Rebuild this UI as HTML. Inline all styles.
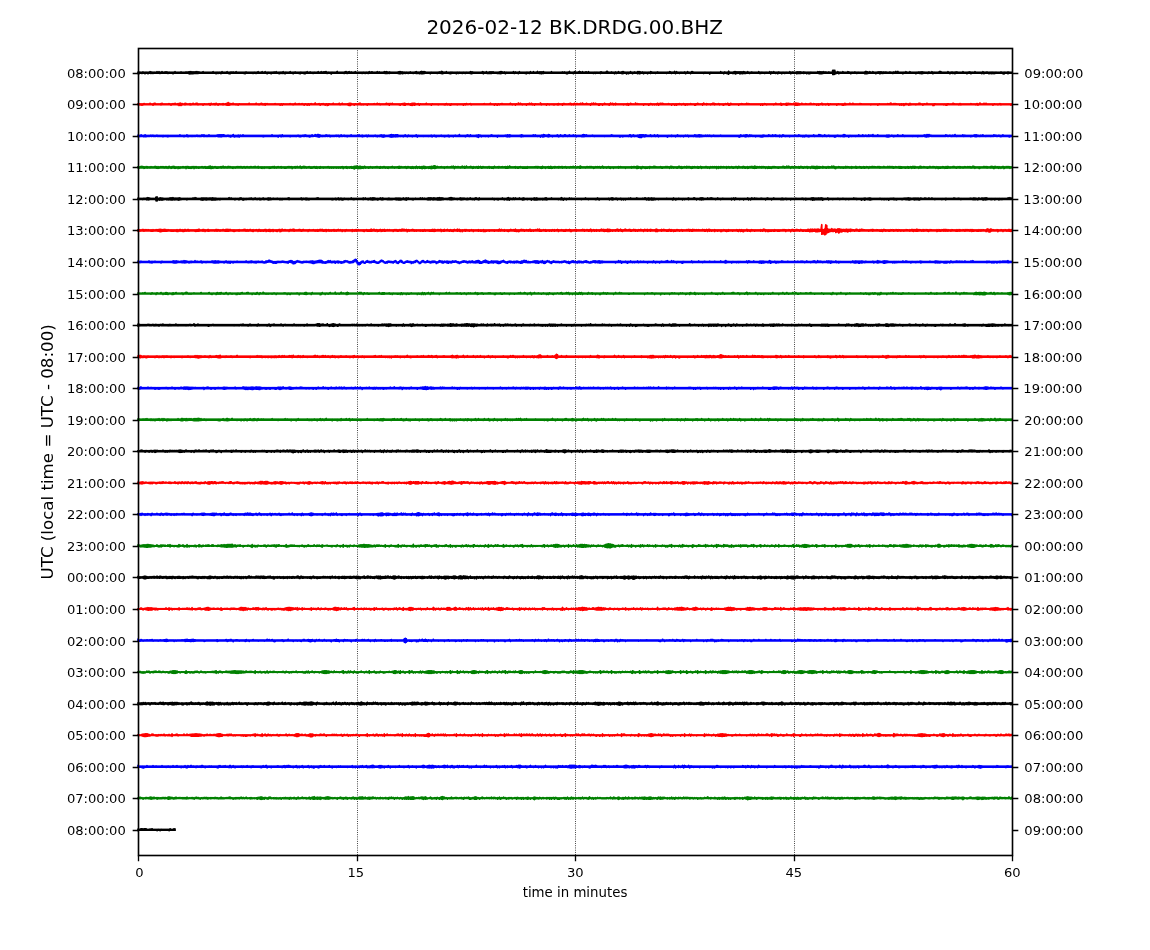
<!DOCTYPE html><html><head><meta charset="utf-8"><title>dayplot</title><style>html,body{margin:0;padding:0;background:#fff;width:1150px;height:950px;overflow:hidden}svg{display:block}text{font-family:"DejaVu Sans","Liberation Sans",sans-serif;fill:#000}</style></head><body><svg width="1150" height="950" viewBox="0 0 1150 950"><rect width="1150" height="950" fill="#fff"/><g stroke="#000" stroke-width="0.86" stroke-dasharray="0.8333 1.375" fill="none"><path d="M357.5 855V48"/><path d="M575.5 855V48"/><path d="M794.5 855V48"/></g><g fill="none" stroke-width="1.667" stroke-linejoin="round" stroke-linecap="square"><path vector-effect="non-scaling-stroke" transform="translate(138.00 72.734) scale(1.001145 0.2500)" stroke="#000000" d="M0-2l0 5 1-5 0 6 1-6 0 4 1-4 0 4 1-4 0 5 1-6 0 5 1-4 0 4 1-4 0 6 1-6 0 4 1-4 0 4 1-4 0 6 1-6 0 4 1-6 0 6 1-5 0 6 1-5 0 4 1-4 0 5 1-5 0 4 1-4 0 4 1-4 0 4 1-6 0 6 1-4 0 4 1-6 0 6 1-4 0 5 1-5 0 4 1-6 0 6 1-4 0 4 1-4 0 4 1-5 0 5 1-5 0 5 1-5 0 5 1-4 0 5 1-5 0 4 1-4 0 4 1-4 0 4 1-4 0 4 1-4 0 6 1-6 0 4 1-6 0 6 1-4 0 4 1-4 0 4 1-4 0 4 1-4 0 4 1-4 0 4 1-5 0 5 1-4 0 4 1-4 0 4 1-4 0 4 1-4 0 4 1-5 0 5 1-4 0 4 1-5 0 5 1-5 0 7 1-8 0 9 1-9 0 8 1-7 0 7 1-7 0 7 1-7 0 6 1-6 0 6 1-7 0 7 1-7 0 7 1-6 0 6 1-6 0 5 1-4 0 4 1-4 0 4 1-4 0 4 1-6 0 6 1-4 0 4 1-4 0 4 1-4 0 4 1-4 0 4 1-4 0 4 1-4 0 4 1-4 0 4 1-4 0 4 1-4 0 4 1-6 0 6 1-4 0 4 1-4 0 4 1-4 0 6 1-6 0 4 1-4 0 5 1-5 0 4 1-4 0 4 1-4 0 6 1-8 0 6 1-4 0 4 1-4 0 4 1-4 0 4 1-4 0 4 1-6 0 6 1-4 0 4 1-4 0 6 1-6 0 6 1-7 0 5 1-4 0 4 1-5 0 5 1-4 0 4 1-4 0 4 1-6 0 6 1-4 0 4 1-4 0 4 1-4 0 4 1-4 0 4 1-4 0 4 1-4 0 4 1-4 0 4 1-4 0 5 1-5 0 6 1-7 0 5 1-4 0 4 1-4 0 4 1-4 0 4 1-4 0 4 1-4 0 4 1-4 0 4 1-4 0 5 1-5 0 4 1-4 0 4 1-4 0 5 1-5 0 4 1-6 0 6 1-4 0 4 1-4 0 4 1-4 0 4 1-6 0 6 1-4 0 4 1-4 0 4 1-6 0 6 1-4 0 4 1-4 0 6 1-6 0 4 1-4 0 4 1-4 0 4 1-4 0 6 1-6 0 4 1-4 0 4 1-5 0 5 1-4 0 4 1-6 0 6 1-4 0 4 1-4 0 4 1-4 0 6 1-6 0 5 1-5 0 4 1-4 0 5 1-7 0 6 1-4 0 5 1-5 0 6 1-6 0 4 1-4 0 4 1-4 0 4 1-4 0 4 1-6 0 6 1-4 0 4 1-4 0 4 1-4 0 6 1-6 0 4 1-5 0 5 1-4 0 4 1-4 0 4 1-4 0 4 1-4 0 5 1-5 0 6 1-6 0 4 1-4 0 4 1-4 0 4 1-4 0 6 1-6 0 6 1-6 0 4 1-6 0 6 1-4 0 4 1-4 0 4 1-5 0 5 1-4 0 4 1-4 0 4 1-4 0 5 1-5 0 4 1-4 0 4 1-4 0 4 1-4 0 4 1-6 0 6 1-4 0 4 1-4 0 4 1-6 0 6 1-4 0 4 1-5 0 5 1-5 0 5 1-6 0 6 1-6 0 6 1-4 0 5 1-5 0 4 1-4 0 4 1-4 0 4 1-4 0 7 1-7 0 4 1-4 0 4 1-4 0 4 1-4 0 4 1-4 0 4 1-7 0 7 1-4 0 4 1-4 0 4 1-4 0 4 1-4 0 4 1-4 0 4 1-4 0 4 1-4 0 5 1-7 0 6 1-6 0 6 1-4 0 5 1-6 0 5 1-6 0 6 1-4 0 4 1-5 0 5 1-4 0 4 1-4 0 4 1-4 0 4 1-6 0 6 1-4 0 4 1-4 0 4 1-4 0 4 1-4 0 4 1-4 0 4 1-4 0 4 1-4 0 5 1-5 0 4 1-4 0 4 1-4 0 5 1-5 0 4 1-4 0 4 1-4 0 5 1-7 0 6 1-4 0 4 1-5 0 5 1-5 0 5 1-4 0 4 1-4 0 4 1-4 0 4 1-4 0 4 1-6 0 6 1-4 0 4 1-5 0 5 1-4 0 4 1-4 0 4 1-4 0 4 1-4 0 4 1-6 0 6 1-5 0 6 1-7 0 7 1-6 0 6 1-5 0 4 1-5 0 6 1-5 0 4 1-4 0 4 1-4 0 4 1-4 0 4 1-4 0 4 1-4 0 4 1-4 0 4 1-4 0 4 1-5 0 6 1-7 0 8 1-8 0 8 1-7 0 5 1-5 0 7 1-6 0 5 1-5 0 4 1-4 0 5 1-5 0 4 1-4 0 4 1-4 0 5 1-5 0 4 1-5 0 5 1-4 0 4 1-4 0 4 1-4 0 5 1-5 0 4 1-5 0 5 1-6 0 7 1-5 0 5 1-5 0 4 1-4 0 6 1-7 0 6 1-8 0 9 1-8 0 8 1-8 0 8 1-8 0 7 1-6 0 5 1-4 0 4 1-4 0 4 1-4 0 4 1-4 0 4 1-4 0 6 1-6 0 4 1-4 0 4 1-4 0 4 1-4 0 4 1-4 0 4 1-4 0 4 1-4 0 5 1-5 0 4 1-5 0 5 1-4 0 4 1-7 0 8 1-7 0 8 1-6 0 5 1-5 0 4 1-4 0 4 1-6 0 6 1-4 0 4 1-4 0 4 1-4 0 5 1-5 0 6 1-6 0 5 1-5 0 4 1-4 0 4 1-4 0 4 1-4 0 4 1-4 0 6 1-6 0 4 1-4 0 5 1-5 0 4 1-4 0 4 1-4 0 4 1-4 0 5 1-5 0 4 1-4 0 4 1-4 0 5 1-5 0 4 1-4 0 4 1-4 0 4 1-4 0 4 1-6 0 7 1-6 0 7 1-7 0 6 1-5 0 4 1-4 0 4 1-4 0 4 1-4 0 4 1-4 0 4 1-4 0 4 1-4 0 4 1-4 0 4 1-4 0 4 1-6 0 6 1-5 0 7 1-6 0 4 1-4 0 4 1-6 0 6 1-4 0 5 1-5 0 5 1-6 0 6 1-6 0 6 1-6 0 6 1-6 0 5 1-5 0 5 1-4 0 4 1-4 0 4 1-4 0 4 1-4 0 5 1-5 0 5 1-6 0 6 1-7 0 8 1-8 0 7 1-6 0 5 1-4 0 4 1-5 0 5 1-4 0 6 1-6 0 4 1-4 0 4 1-4 0 4 1-4 0 4 1-4 0 4 1-4 0 4 1-4 0 4 1-6 0 6 1-4 0 5 1-6 0 5 1-4 0 4 1-4 0 4 1-4 0 6 1-8 0 6 1-4 0 4 1-4 0 4 1-4 0 4 1-4 0 4 1-4 0 4 1-4 0 5 1-5 0 6 1-6 0 4 1-4 0 4 1-4 0 5 1-7 0 6 1-4 0 4 1-4 0 4 1-6 0 6 1-4 0 4 1-4 0 4 1-4 0 4 1-7 0 7 1-4 0 4 1-5 0 6 1-6 0 6 1-6 0 7 1-7 0 6 1-7 0 7 1-5 0 4 1-4 0 4 1-4 0 4 1-4 0 4 1-4 0 4 1-4 0 4 1-4 0 4 1-6 0 6 1-4 0 4 1-4 0 4 1-4 0 4 1-4 0 4 1-4 0 4 1-4 0 4 1-4 0 4 1-4 0 4 1-4 0 4 1-4 0 4 1-5 0 5 1-4 0 4 1-5 0 5 1-4 0 4 1-4 0 6 1-6 0 6 1-6 0 4 1-7 0 7 1-4 0 4 1-4 0 4 1-4 0 4 1-4 0 6 1-8 0 6 1-5 0 5 1-4 0 4 1-4 0 4 1-5 0 5 1-7 0 7 1-5 0 5 1-4 0 4 1-6 0 6 1-4 0 4 1-4 0 4 1-5 0 5 1-5 0 5 1-4 0 4 1-6 0 6 1-4 0 4 1-4 0 4 1-4 0 4 1-4 0 4 1-4 0 5 1-5 0 4 1-4 0 5 1-5 0 4 1-4 0 4 1-4 0 4 1-4 0 4 1-5 0 6 1-6 0 5 1-4 0 4 1-4 0 4 1-4 0 4 1-4 0 4 1-7 0 7 1-7 0 7 1-4 0 4 1-4 0 4 1-4 0 4 1-5 0 5 1-4 0 4 1-4 0 4 1-4 0 6 1-7 0 5 1-4 0 5 1-5 0 4 1-6 0 6 1-4 0 4 1-4 0 4 1-5 0 6 1-7 0 8 1-8 0 7 1-5 0 4 1-4 0 4 1-4 0 7 1-7 0 4 1-4 0 6 1-6 0 4 1-6 0 6 1-4 0 4 1-4 0 6 1-6 0 4 1-5 0 5 1-4 0 4 1-4 0 4 1-6 0 8 1-8 0 7 1-7 0 8 1-7 0 6 1-5 0 4 1-5 0 5 1-4 0 6 1-6 0 4 1-4 0 4 1-4 0 4 1-4 0 6 1-6 0 4 1-4 0 4 1-6 0 7 1-6 0 5 1-4 0 4 1-4 0 4 1-4 0 4 1-4 0 5 1-5 0 4 1-5 0 5 1-4 0 4 1-4 0 4 1-4 0 4 1-4 0 4 1-4 0 4 1-4 0 4 1-4 0 4 1-4 0 4 1-4 0 5 1-5 0 4 1-4 0 4 1-6 0 6 1-5 0 5 1-4 0 5 1-5 0 4 1-4 0 4 1-7 0 7 1-4 0 6 1-8 0 6 1-4 0 4 1-4 0 4 1-4 0 5 1-5 0 4 1-4 0 4 1-4 0 4 1-4 0 4 1-5 0 5 1-4 0 6 1-6 0 4 1-6 0 6 1-4 0 4 1-4 0 4 1-4 0 6 1-8 0 6 1-6 0 6 1-4 0 4 1-4 0 4 1-4 0 4 1-4 0 4 1-4 0 4 1-4 0 4 1-4 0 4 1-4 0 4 1-4 0 4 1-4 0 4 1-4 0 5 1-5 0 4 1-4 0 4 1-4 0 4 1-4 0 4 1-4 0 4 1-4 0 7 1-7 0 4 1-4 0 4 1-4 0 4 1-4 0 4 1-4 0 4 1-4 0 4 1-4 0 4 1-4 0 4 1-4 0 4 1-4 0 4 1-6 0 6 1-4 0 4 1-4 0 4 1-4 0 6 1-7 0 5 1-4 0 4 1-4 0 5 1-5 0 6 1-10 0 12 1-8 0 4 1-4 0 4 1-4 0 4 1-4 0 5 1-6 0 6 1-7 0 7 1-7 0 9 1-8 0 6 1-6 0 5 1-5 0 5 1-5 0 7 1-7 0 7 1-7 0 6 1-6 0 7 1-8 0 7 1-6 0 6 1-5 0 5 1-5 0 4 1-6 0 6 1-4 0 4 1-4 0 5 1-5 0 4 1-5 0 5 1-4 0 4 1-4 0 4 1-4 0 4 1-4 0 4 1-4 0 4 1-4 0 4 1-6 0 6 1-4 0 5 1-5 0 5 1-5 0 4 1-4 0 4 1-4 0 4 1-4 0 5 1-5 0 4 1-4 0 4 1-4 0 4 1-4 0 4 1-6 0 6 1-4 0 7 1-8 0 5 1-4 0 4 1-6 0 6 1-4 0 4 1-4 0 5 1-5 0 4 1-4 0 6 1-7 0 5 1-4 0 4 1-4 0 4 1-4 0 6 1-6 0 4 1-4 0 4 1-4 0 5 1-5 0 4 1-4 0 4 1-4 0 4 1-4 0 4 1-6 0 6 1-4 0 6 1-6 0 4 1-5 0 5 1-4 0 4 1-4 0 4 1-4 0 4 1-5 0 7 1-7 0 6 1-6 0 6 1-6 0 6 1-6 0 6 1-5 0 4 1-4 0 4 1-5 0 6 1-5 0 4 1-4 0 4 1-4 0 6 1-6 0 4 1-4 0 6 1-6 0 6 1-6 0 4 1-4 0 4 1-4 0 4 1-4 0 4 1-4 0 4 1-4 0 4 1-4 0 4 1-6 0 6 1-5 0 6 1-7 0 8 1-7 0 7 1-7 0 7 1-7 0 6 1-7 0 6 1-4 0 4 1-5 0 5 1-4 0 4 1-4 0 4 1-5 0 5 1-4 0 4 1-4 0 4 1-4 0 4 1-12 0 17 1-17 0 17 1-17 0 16 1-8 0 6 1-6 0 4 1-6 0 6 1-4 0 6 1-6 0 4 1-4 0 4 1-4 0 4 1-6 0 6 1-4 0 4 1-4 0 4 1-4 0 4 1-4 0 4 1-6 0 6 1-5 0 5 1-4 0 4 1-4 0 6 1-6 0 4 1-4 0 4 1-4 0 4 1-5 0 5 1-4 0 4 1-4 0 5 1-5 0 4 1-4 0 4 1-4 0 4 1-4 0 4 1-4 0 4 1-4 0 4 1-4 0 4 1-5 0 7 1-9 0 9 1-8 0 8 1-7 0 6 1-5 0 4 1-6 0 6 1-4 0 4 1-4 0 4 1-6 0 6 1-4 0 4 1-4 0 4 1-4 0 6 1-6 0 4 1-5 0 5 1-5 0 5 1-5 0 7 1-7 0 6 1-6 0 5 1-4 0 5 1-6 0 5 1-4 0 4 1-5 0 5 1-4 0 4 1-4 0 4 1-4 0 4 1-5 0 5 1-4 0 4 1-4 0 4 1-4 0 5 1-6 0 5 1-4 0 4 1-7 0 7 1-4 0 4 1-7 0 7 1-4 0 4 1-4 0 4 1-4 0 4 1-4 0 4 1-4 0 6 1-6 0 4 1-4 0 4 1-6 0 6 1-4 0 4 1-4 0 4 1-4 0 4 1-6 0 6 1-4 0 4 1-4 0 4 1-4 0 4 1-4 0 4 1-4 0 4 1-4 0 6 1-6 0 4 1-4 0 4 1-5 0 5 1-4 0 5 1-6 0 6 1-6 0 7 1-7 0 6 1-5 0 4 1-4 0 4 1-4 0 4 1-4 0 4 1-4 0 5 1-6 0 5 1-4 0 4 1-4 0 4 1-6 0 6 1-4 0 6 1-6 0 4 1-4 0 4 1-4 0 4 1-4 0 4 1-4 0 4 1-5 0 5 1-7 0 7 1-6 0 6 1-4 0 4 1-4 0 4 1-4 0 4 1-4 0 4 1-4 0 4 1-4 0 4 1-6 0 6 1-4 0 4 1-4 0 6 1-6 0 4 1-5 0 5 1-4 0 5 1-5 0 4 1-4 0 6 1-7 0 5 1-5 0 5 1-4 0 4 1-4 0 4 1-4 0 4 1-4 0 4 1-4 0 4 1-6 0 6 1-4 0 4 1-4 0 4 1-4 0 4 1-4 0 6 1-6 0 4 1-5 0 5 1-5 0 5 1-4 0 6 1-6 0 4 1-4 0 4 1-4 0 4 1-6 0 6 1-4 0 4 1-4 0 4 1-4 0 4 1-4 0 4 1-4 0 4 1-4 0 4 1-4 0 6 1-8 0 6 1-4 0 6 1-6 0 4 1-4 0 4 1-5 0 5 1-4 0 4 1-4 0 6 1-6 0 5 1-5 0 5 1-5 0 6 1-6 0 4 1-4 0 6 1-6 0 5 1-5 0 4 1-4 0 4 1-4 0 4 1-4 0 4 1-4 0 4 1-5 0 5 1-4 0 4 1-4 0 6 1-6 0 7 1-7 0 4 1-4 0 4 1-4 0 4 1-5 0 7 1-6 0 4 1-4 0 4 1-4 0 4 1-4 0 4"/><path vector-effect="non-scaling-stroke" transform="translate(138.00 104.277) scale(1.001145 0.2500)" stroke="#ff0000" d="M0-2l0 4 1-5 0 5 1-4 0 5 1-5 0 5 1-5 0 6 1-6 0 5 1-6 0 5 1-4 0 4 1-4 0 4 1-4 0 4 1-4 0 4 1-4 0 4 1-6 0 6 1-4 0 4 1-4 0 4 1-4 0 6 1-8 0 6 1-6 0 6 1-4 0 4 1-4 0 4 1-4 0 4 1-4 0 4 1-4 0 4 1-5 0 6 1-7 0 6 1-4 0 4 1-4 0 4 1-4 0 4 1-4 0 4 1-4 0 4 1-4 0 4 1-5 0 5 1-4 0 4 1-4 0 6 1-6 0 4 1-5 0 5 1-4 0 4 1-6 0 6 1-4 0 4 1-4 0 4 1-5 0 6 1-6 0 8 1-10 0 9 1-7 0 8 1-8 0 6 1-5 0 4 1-4 0 4 1-6 0 7 1-6 0 5 1-4 0 4 1-4 0 4 1-4 0 4 1-5 0 6 1-5 0 5 1-5 0 4 1-6 0 6 1-4 0 4 1-4 0 4 1-6 0 6 1-6 0 6 1-4 0 5 1-5 0 4 1-4 0 4 1-4 0 4 1-4 0 4 1-4 0 6 1-6 0 4 1-4 0 4 1-4 0 4 1-4 0 4 1-4 0 4 1-5 0 5 1-4 0 6 1-8 0 6 1-4 0 4 1-4 0 4 1-5 0 5 1-4 0 5 1-7 0 6 1-4 0 4 1-4 0 6 1-6 0 4 1-4 0 4 1-4 0 4 1-4 0 4 1-5 0 6 1-5 0 4 1-4 0 4 1-5 0 6 1-7 0 8 1-11 0 11 1-8 0 8 1-7 0 6 1-5 0 4 1-5 0 5 1-6 0 6 1-4 0 4 1-4 0 4 1-4 0 5 1-5 0 4 1-4 0 6 1-6 0 4 1-4 0 4 1-4 0 4 1-4 0 4 1-4 0 4 1-4 0 4 1-4 0 4 1-4 0 4 1-4 0 4 1-4 0 4 1-6 0 6 1-4 0 4 1-4 0 4 1-4 0 4 1-4 0 4 1-4 0 4 1-4 0 4 1-6 0 6 1-4 0 4 1-4 0 4 1-4 0 5 1-5 0 4 1-6 0 6 1-5 0 5 1-4 0 5 1-5 0 4 1-5 0 7 1-6 0 4 1-5 0 5 1-4 0 4 1-4 0 4 1-4 0 4 1-4 0 4 1-4 0 4 1-4 0 4 1-4 0 4 1-5 0 5 1-4 0 4 1-4 0 4 1-4 0 4 1-4 0 4 1-4 0 6 1-6 0 4 1-4 0 6 1-6 0 4 1-4 0 4 1-4 0 4 1-4 0 4 1-4 0 4 1-4 0 4 1-4 0 4 1-5 0 5 1-4 0 4 1-4 0 4 1-4 0 5 1-5 0 4 1-6 0 6 1-4 0 4 1-4 0 4 1-4 0 4 1-5 0 5 1-4 0 4 1-4 0 4 1-5 0 5 1-4 0 4 1-4 0 6 1-6 0 4 1-4 0 4 1-4 0 6 1-6 0 4 1-4 0 6 1-6 0 4 1-5 0 5 1-4 0 4 1-4 0 4 1-4 0 4 1-7 0 7 1-4 0 4 1-4 0 4 1-4 0 4 1-5 0 5 1-4 0 6 1-6 0 4 1-4 0 4 1-5 0 5 1-4 0 4 1-4 0 6 1-6 0 4 1-4 0 7 1-7 0 6 1-6 0 4 1-4 0 4 1-4 0 4 1-4 0 4 1-6 0 6 1-4 0 4 1-4 0 4 1-4 0 4 1-4 0 4 1-4 0 4 1-6 0 6 1-4 0 5 1-5 0 4 1-6 0 6 1-4 0 4 1-4 0 4 1-4 0 4 1-4 0 4 1-4 0 4 1-5 0 7 1-8 0 9 1-9 0 9 1-8 0 6 1-5 0 4 1-4 0 4 1-4 0 6 1-6 0 4 1-4 0 4 1-4 0 4 1-4 0 4 1-6 0 6 1-6 0 6 1-4 0 5 1-5 0 4 1-4 0 5 1-5 0 4 1-4 0 4 1-4 0 4 1-4 0 6 1-6 0 4 1-4 0 4 1-4 0 4 1-4 0 4 1-4 0 4 1-4 0 4 1-5 0 5 1-4 0 4 1-4 0 4 1-6 0 6 1-4 0 4 1-5 0 5 1-4 0 5 1-5 0 4 1-4 0 4 1-4 0 4 1-4 0 4 1-4 0 4 1-6 0 6 1-5 0 5 1-5 0 5 1-5 0 7 1-7 0 5 1-4 0 4 1-6 0 6 1-4 0 4 1-4 0 4 1-4 0 4 1-4 0 4 1-4 0 4 1-4 0 4 1-4 0 5 1-5 0 6 1-6 0 4 1-5 0 5 1-5 0 6 1-7 0 8 1-7 0 7 1-6 0 4 1-4 0 4 1-5 0 5 1-4 0 4 1-4 0 6 1-7 0 7 1-8 0 9 1-9 0 7 1-7 0 8 1-7 0 6 1-5 0 4 1-4 0 4 1-5 0 5 1-4 0 6 1-6 0 4 1-4 0 4 1-4 0 4 1-4 0 4 1-4 0 4 1-4 0 4 1-6 0 6 1-4 0 4 1-4 0 4 1-4 0 4 1-4 0 4 1-4 0 6 1-6 0 4 1-4 0 4 1-4 0 4 1-4 0 4 1-4 0 4 1-4 0 4 1-4 0 5 1-5 0 4 1-4 0 4 1-4 0 4 1-4 0 4 1-4 0 4 1-4 0 5 1-5 0 5 1-6 0 5 1-4 0 5 1-5 0 4 1-4 0 5 1-5 0 6 1-6 0 5 1-5 0 4 1-4 0 4 1-4 0 4 1-4 0 4 1-4 0 4 1-4 0 5 1-5 0 4 1-4 0 4 1-4 0 4 1-4 0 4 1-4 0 4 1-4 0 6 1-6 0 4 1-4 0 5 1-6 0 5 1-4 0 4 1-4 0 4 1-4 0 3 1-4 0 5 1-4 0 5 1-5 0 4 1-4 0 4 1-4 0 4 1-4 0 4 1-4 0 4 1-4 0 4 1-4 0 4 1-4 0 4 1-4 0 4 1-4 0 4 1-4 0 4 1-4 0 4 1-5 0 5 1-4 0 4 1-4 0 4 1-4 0 4 1-4 0 4 1-4 0 4 1-6 0 6 1-4 0 4 1-4 0 4 1-4 0 4 1-4 0 6 1-6 0 4 1-4 0 5 1-5 0 6 1-6 0 4 1-4 0 5 1-5 0 4 1-5 0 5 1-5 0 5 1-4 0 4 1-4 0 4 1-4 0 4 1-4 0 4 1-4 0 4 1-4 0 4 1-4 0 4 1-6 0 6 1-4 0 4 1-4 0 5 1-5 0 4 1-4 0 4 1-4 0 6 1-6 0 4 1-4 0 4 1-7 0 7 1-4 0 4 1-6 0 6 1-4 0 4 1-4 0 5 1-5 0 4 1-4 0 4 1-4 0 4 1-4 0 6 1-6 0 4 1-4 0 4 1-6 0 6 1-4 0 4 1-6 0 6 1-4 0 5 1-5 0 4 1-4 0 6 1-6 0 4 1-4 0 4 1-4 0 4 1-4 0 4 1-4 0 4 1-7 0 7 1-4 0 5 1-5 0 4 1-4 0 4 1-4 0 4 1-4 0 4 1-4 0 6 1-6 0 4 1-4 0 4 1-4 0 5 1-5 0 4 1-4 0 4 1-4 0 4 1-4 0 5 1-5 0 5 1-5 0 4 1-4 0 4 1-4 0 5 1-6 0 6 1-5 0 4 1-4 0 4 1-4 0 4 1-4 0 6 1-7 0 5 1-5 0 5 1-4 0 4 1-4 0 4 1-4 0 4 1-4 0 4 1-5 0 5 1-6 0 6 1-4 0 5 1-5 0 4 1-4 0 5 1-7 0 6 1-4 0 4 1-5 0 5 1-5 0 5 1-4 0 4 1-4 0 4 1-6 0 6 1-4 0 4 1-7 0 7 1-4 0 4 1-4 0 4 1-4 0 4 1-6 0 6 1-4 0 4 1-4 0 4 1-4 0 4 1-4 0 6 1-8 0 6 1-4 0 4 1-7 0 7 1-4 0 4 1-6 0 6 1-4 0 4 1-4 0 4 1-4 0 6 1-6 0 6 1-6 0 4 1-4 0 4 1-4 0 6 1-6 0 4 1-6 0 6 1-4 0 4 1-4 0 4 1-4 0 4 1-4 0 5 1-5 0 6 1-9 0 7 1-4 0 4 1-6 0 6 1-4 0 5 1-5 0 4 1-6 0 7 1-5 0 4 1-4 0 4 1-4 0 4 1-4 0 4 1-4 0 4 1-4 0 4 1-4 0 4 1-4 0 5 1-5 0 4 1-4 0 4 1-4 0 5 1-6 0 6 1-5 0 6 1-6 0 4 1-6 0 6 1-4 0 4 1-4 0 4 1-4 0 4 1-4 0 4 1-7 0 7 1-4 0 4 1-5 0 5 1-4 0 4 1-4 0 4 1-4 0 4 1-4 0 4 1-4 0 4 1-4 0 6 1-6 0 4 1-4 0 4 1-4 0 4 1-4 0 4 1-4 0 6 1-6 0 5 1-6 0 5 1-4 0 4 1-4 0 5 1-5 0 4 1-4 0 5 1-5 0 4 1-4 0 5 1-7 0 6 1-4 0 6 1-7 0 5 1-6 0 6 1-5 0 5 1-6 0 6 1-4 0 4 1-4 0 4 1-4 0 4 1-4 0 4 1-4 0 4 1-5 0 5 1-4 0 4 1-4 0 4 1-4 0 6 1-6 0 4 1-4 0 4 1-4 0 6 1-6 0 5 1-5 0 6 1-6 0 4 1-4 0 4 1-5 0 5 1-4 0 4 1-4 0 5 1-5 0 4 1-5 0 5 1-4 0 5 1-5 0 6 1-6 0 4 1-4 0 5 1-5 0 4 1-4 0 4 1-5 0 5 1-4 0 4 1-4 0 4 1-4 0 4 1-4 0 6 1-6 0 6 1-6 0 4 1-6 0 6 1-4 0 4 1-4 0 4 1-4 0 4 1-4 0 4 1-4 0 6 1-9 0 7 1-4 0 4 1-4 0 4 1-5 0 6 1-5 0 4 1-4 0 4 1-4 0 4 1-4 0 5 1-5 0 4 1-6 0 6 1-6 0 6 1-5 0 6 1-5 0 4 1-4 0 4 1-4 0 4 1-5 0 5 1-4 0 5 1-5 0 4 1-4 0 4 1-4 0 5 1-5 0 6 1-6 0 4 1-5 0 5 1-4 0 4 1-6 0 6 1-4 0 6 1-6 0 6 1-8 0 6 1-4 0 4 1-4 0 4 1-4 0 4 1-4 0 4 1-4 0 4 1-4 0 4 1-4 0 4 1-4 0 6 1-6 0 4 1-4 0 4 1-5 0 5 1-4 0 4 1-4 0 4 1-4 0 4 1-4 0 4 1-6 0 6 1-4 0 4 1-5 0 5 1-4 0 4 1-4 0 4 1-4 0 4 1-4 0 4 1-4 0 4 1-4 0 4 1-4 0 4 1-4 0 4 1-4 0 4 1-4 0 4 1-4 0 4 1-4 0 6 1-6 0 4 1-4 0 6 1-6 0 4 1-5 0 5 1-4 0 4 1-4 0 5 1-5 0 4 1-4 0 4 1-4 0 4 1-4 0 4 1-4 0 4 1-4 0 4 1-4 0 5 1-5 0 4 1-6 0 6 1-4 0 4 1-4 0 4 1-4 0 4 1-4 0 4 1-6 0 7 1-5 0 6 1-6 0 4 1-4 0 4 1-4 0 4 1-5 0 6 1-7 0 8 1-7 0 6 1-7 0 6 1-4 0 4 1-5 0 5 1-4 0 4 1-4 0 4 1-6 0 6 1-6 0 7 1-8 0 9 1-8 0 8 1-8 0 8 1-7 0 6 1-5 0 5 1-5 0 4 1-6 0 6 1-4 0 4 1-4 0 4 1-4 0 4 1-5 0 5 1-4 0 4 1-4 0 4 1-4 0 4 1-5 0 5 1-6 0 6 1-4 0 4 1-4 0 4 1-5 0 5 1-4 0 4 1-4 0 4 1-4 0 6 1-6 0 4 1-4 0 6 1-6 0 4 1-4 0 4 1-6 0 6 1-4 0 5 1-5 0 4 1-4 0 4 1-4 0 5 1-5 0 4 1-5 0 5 1-4 0 6 1-6 0 4 1-4 0 4 1-4 0 4 1-4 0 4 1-4 0 4 1-4 0 4 1-4 0 4 1-4 0 6 1-6 0 4 1-4 0 4 1-4 0 4 1-4 0 4 1-4 0 5 1-5 0 6 1-6 0 6 1-8 0 6 1-4 0 5 1-5 0 4 1-4 0 4 1-4 0 4 1-6 0 6 1-4 0 4 1-4 0 4 1-6 0 6 1-4 0 4 1-4 0 4 1-4 0 4 1-4 0 4 1-4 0 4 1-4 0 4 1-5 0 5 1-5 0 5 1-4 0 4 1-4 0 4 1-4 0 4 1-4 0 4 1-4 0 4 1-4 0 4 1-4 0 4 1-4 0 4 1-4 0 4 1-4 0 5 1-5 0 4 1-4 0 4 1-4 0 4 1-4 0 4 1-4 0 4 1-4 0 4 1-4 0 6 1-6 0 4 1-4 0 4 1-4 0 4 1-4 0 4 1-4 0 4 1-4 0 4 1-4 0 4 1-4 0 4 1-4 0 4 1-5 0 5 1-4 0 4 1-5 0 5 1-7 0 7 1-4 0 4 1-4 0 4 1-5 0 5 1-5 0 5 1-5 0 5 1-4 0 4 1-4 0 4 1-4 0 4 1-4 0 6 1-6 0 4 1-4 0 6 1-6 0 4 1-4 0 7 1-7 0 5 1-6 0 5 1-4 0 4 1-4 0 4 1-4 0 6 1-8 0 6 1-4 0 5 1-5 0 4 1-4 0 4 1-4 0 4 1-4 0 4 1-4 0 5 1-5 0 4 1-4 0 4 1-6 0 6 1-6 0 6 1-4 0 4 1-4 0 4 1-4 0 6 1-6 0 4 1-4 0 4 1-4 0 4 1-6 0 6 1-4 0 4 1-4 0 4 1-4 0 4 1-4 0 4 1-4 0 4 1-4 0 7 1-7 0 7 1-7 0 4 1-4 0 4 1-4 0 4 1-4 0 4 1-4 0 4 1-4 0 4 1-4 0 4 1-4 0 4 1-4 0 4 1-4 0 5 1-5 0 4 1-4 0 6 1-6 0 6 1-6 0 4 1-4 0 4 1-4 0 4 1-4 0 4 1-4 0 4 1-6 0 6 1-5 0 5 1-4 0 4 1-4 0 4 1-4 0 4 1-4 0 4 1-4 0 5 1-6 0 5 1-4 0 5 1-5 0 4 1-4 0 4 1-4 0 4 1-4 0 4 1-4 0 4 1-4 0 4 1-4 0 4 1-4 0 4 1-4 0 4 1-5 0 5 1-4 0 4 1-4 0 4 1-4 0 4 1-4 0 4 1-4 0 5 1-6 0 5 1-4 0 6 1-6 0 4 1-7 0 7 1-4 0 4 1-4 0 4 1-4 0 4 1-6 0 6 1-4 0 4 1-6 0 6 1-4 0 4 1-4 0 4 1-4 0 4 1-4 0 4 1-4 0 4 1-4 0 4 1-4 0 6 1-6 0 4 1-4 0 4 1-4 0 4 1-4 0 4 1-4 0 5 1-5 0 4 1-5 0 5 1-4 0 5 1-5 0 4 1-4 0 4 1-4 0 4 1-4 0 4 1-4 0 4 1-4 0 4 1-4 0 4 1-4 0 4 1-4 0 4 1-4 0 6 1-6 0 4"/><path vector-effect="non-scaling-stroke" transform="translate(138.00 135.820) scale(1.001145 0.2500)" stroke="#0000ff" d="M0-2l0 5 1-5 0 5 1-5 0 5 1-7 0 6 1-4 0 4 1-4 0 4 1-4 0 6 1-8 0 6 1-4 0 6 1-6 0 4 1-4 0 4 1-4 0 4 1-4 0 4 1-5 0 5 1-4 0 4 1-5 0 5 1-4 0 4 1-4 0 4 1-4 0 4 1-5 0 5 1-4 0 4 1-4 0 4 1-4 0 4 1-4 0 4 1-4 0 4 1-4 0 6 1-6 0 4 1-4 0 4 1-4 0 4 1-4 0 5 1-5 0 6 1-6 0 4 1-4 0 4 1-4 0 4 1-4 0 4 1-4 0 4 1-4 0 4 1-4 0 4 1-4 0 4 1-4 0 4 1-4 0 4 1-4 0 4 1-6 0 6 1-4 0 4 1-4 0 4 1-4 0 4 1-4 0 6 1-6 0 4 1-4 0 4 1-6 0 6 1-4 0 6 1-6 0 4 1-4 0 4 1-4 0 4 1-4 0 5 1-5 0 4 1-4 0 4 1-4 0 4 1-4 0 4 1-5 0 5 1-4 0 4 1-4 0 4 1-4 0 5 1-5 0 4 1-6 0 6 1-5 0 5 1-6 0 7 1-5 0 4 1-4 0 4 1-4 0 5 1-5 0 4 1-6 0 6 1-4 0 4 1-4 0 4 1-4 0 4 1-4 0 4 1-4 0 4 1-4 0 4 1-4 0 4 1-5 0 5 1-6 0 7 1-7 0 7 1-7 0 7 1-7 0 8 1-8 0 7 1-7 0 6 1-6 0 6 1-4 0 4 1-4 0 4 1-4 0 4 1-5 0 5 1-4 0 4 1-4 0 6 1-6 0 6 1-6 0 4 1-7 0 7 1-4 0 6 1-6 0 6 1-6 0 4 1-4 0 6 1-7 0 5 1-4 0 7 1-8 0 5 1-4 0 4 1-4 0 4 1-6 0 6 1-4 0 4 1-4 0 4 1-4 0 4 1-4 0 4 1-4 0 4 1-4 0 4 1-4 0 4 1-4 0 4 1-4 0 4 1-4 0 4 1-4 0 4 1-4 0 4 1-4 0 4 1-4 0 4 1-4 0 4 1-4 0 4 1-4 0 4 1-4 0 4 1-4 0 4 1-4 0 6 1-6 0 5 1-5 0 4 1-4 0 4 1-4 0 4 1-4 0 4 1-4 0 4 1-4 0 4 1-4 0 4 1-6 0 6 1-4 0 4 1-4 0 4 1-4 0 4 1-4 0 4 1-4 0 4 1-4 0 7 1-7 0 4 1-5 0 5 1-4 0 6 1-8 0 6 1-4 0 5 1-5 0 4 1-4 0 4 1-4 0 4 1-4 0 4 1-4 0 4 1-4 0 4 1-4 0 6 1-6 0 4 1-4 0 4 1-4 0 4 1-4 0 4 1-4 0 4 1-4 0 5 1-5 0 4 1-5 0 5 1-4 0 5 1-5 0 6 1-6 0 5 1-5 0 4 1-5 0 5 1-4 0 4 1-6 0 6 1-5 0 5 1-4 0 4 1-4 0 4 1-4 0 6 1-6 0 6 1-6 0 4 1-6 0 6 1-4 0 4 1-4 0 3 1-6 0 7 1-5 0 5 1-7 0 8 1-8 0 9 1-8 0 9 1-8 0 6 1-5 0 4 1-4 0 5 1-5 0 4 1-4 0 4 1-4 0 4 1-6 0 6 1-5 0 5 1-4 0 4 1-5 0 5 1-4 0 6 1-6 0 4 1-4 0 4 1-4 0 4 1-4 0 4 1-4 0 4 1-5 0 5 1-4 0 4 1-5 0 5 1-4 0 6 1-6 0 4 1-6 0 6 1-4 0 4 1-4 0 4 1-5 0 5 1-4 0 4 1-4 0 4 1-4 0 6 1-6 0 4 1-4 0 4 1-4 0 4 1-6 0 6 1-4 0 4 1-4 0 4 1-4 0 4 1-4 0 4 1-4 0 4 1-4 0 4 1-5 0 5 1-6 0 6 1-4 0 4 1-4 0 4 1-5 0 7 1-6 0 5 1-5 0 4 1-4 0 4 1-5 0 5 1-4 0 6 1-7 0 5 1-4 0 4 1-4 0 4 1-4 0 4 1-4 0 4 1-4 0 5 1-5 0 4 1-5 0 5 1-4 0 4 1-4 0 6 1-6 0 4 1-4 0 5 1-6 0 5 1-6 0 7 1-6 0 7 1-7 0 8 1-8 0 7 1-6 0 5 1-5 0 4 1-4 0 4 1-4 0 4 1-5 0 6 1-7 0 8 1-9 0 10 1-9 0 8 1-8 0 8 1-7 0 6 1-7 0 8 1-8 0 7 1-7 0 7 1-6 0 6 1-5 0 4 1-4 0 5 1-5 0 4 1-4 0 4 1-4 0 6 1-6 0 4 1-6 0 6 1-4 0 4 1-4 0 6 1-7 0 5 1-4 0 4 1-4 0 4 1-4 0 4 1-4 0 6 1-6 0 4 1-4 0 4 1-4 0 4 1-6 0 6 1-4 0 7 1-7 0 4 1-4 0 4 1-4 0 4 1-4 0 4 1-4 0 4 1-4 0 5 1-5 0 4 1-4 0 4 1-4 0 4 1-4 0 4 1-4 0 5 1-5 0 4 1-4 0 4 1-5 0 6 1-5 0 6 1-6 0 4 1-5 0 5 1-4 0 5 1-5 0 6 1-6 0 4 1-4 0 4 1-4 0 4 1-4 0 4 1-5 0 5 1-4 0 4 1-4 0 4 1-4 0 6 1-6 0 5 1-5 0 4 1-4 0 4 1-5 0 6 1-5 0 6 1-6 0 4 1-4 0 4 1-4 0 4 1-4 0 6 1-6 0 4 1-5 0 5 1-4 0 4 1-4 0 4 1-4 0 4 1-7 0 7 1-4 0 4 1-4 0 4 1-4 0 4 1-4 0 4 1-4 0 4 1-4 0 6 1-6 0 4 1-6 0 6 1-5 0 5 1-4 0 5 1-7 0 6 1-4 0 4 1-4 0 4 1-4 0 4 1-4 0 4 1-4 0 4 1-5 0 6 1-6 0 7 1-8 0 10 1-9 0 6 1-6 0 5 1-4 0 6 1-6 0 4 1-4 0 4 1-4 0 4 1-4 0 5 1-5 0 4 1-4 0 4 1-4 0 6 1-6 0 4 1-4 0 4 1-6 0 6 1-5 0 5 1-4 0 4 1-4 0 4 1-4 0 4 1-4 0 4 1-4 0 7 1-7 0 4 1-4 0 4 1-4 0 4 1-4 0 4 1-4 0 4 1-4 0 4 1-4 0 4 1-5 0 5 1-5 0 6 1-7 0 8 1-7 0 6 1-7 0 8 1-7 0 6 1-5 0 4 1-4 0 4 1-4 0 4 1-4 0 4 1-4 0 4 1-4 0 4 1-4 0 4 1-4 0 4 1-4 0 4 1-5 0 6 1-7 0 8 1-7 0 6 1-5 0 5 1-5 0 4 1-4 0 4 1-4 0 4 1-4 0 4 1-4 0 4 1-4 0 4 1-4 0 4 1-4 0 4 1-4 0 4 1-6 0 6 1-4 0 4 1-6 0 6 1-4 0 4 1-4 0 5 1-5 0 4 1-4 0 4 1-4 0 7 1-8 0 5 1-5 0 7 1-9 0 9 1-8 0 7 1-6 0 5 1-5 0 5 1-5 0 6 1-8 0 9 1-8 0 7 1-5 0 4 1-4 0 4 1-4 0 6 1-6 0 4 1-4 0 4 1-4 0 4 1-4 0 4 1-6 0 6 1-4 0 6 1-6 0 5 1-7 0 6 1-4 0 4 1-4 0 5 1-5 0 5 1-7 0 6 1-6 0 6 1-4 0 4 1-4 0 5 1-5 0 4 1-6 0 6 1-4 0 4 1-4 0 4 1-4 0 4 1-6 0 6 1-4 0 4 1-4 0 4 1-4 0 6 1-6 0 4 1-4 0 4 1-4 0 4 1-4 0 4 1-4 0 5 1-7 0 7 1-8 0 8 1-7 0 7 1-6 0 5 1-6 0 6 1-4 0 4 1-4 0 4 1-4 0 4 1-4 0 4 1-4 0 4 1-5 0 5 1-4 0 4 1-4 0 5 1-5 0 4 1-4 0 4 1-4 0 4 1-4 0 4 1-4 0 4 1-4 0 4 1-4 0 4 1-4 0 4 1-4 0 4 1-4 0 5 1-5 0 4 1-4 0 4 1-4 0 4 1-4 0 4 1-4 0 4 1-4 0 4 1-6 0 6 1-5 0 5 1-4 0 4 1-4 0 4 1-4 0 4 1-4 0 4 1-4 0 4 1-4 0 4 1-4 0 6 1-6 0 6 1-6 0 4 1-4 0 6 1-6 0 5 1-5 0 4 1-4 0 4 1-4 0 4 1-4 0 4 1-4 0 5 1-7 0 6 1-6 0 7 1-5 0 6 1-7 0 5 1-6 0 6 1-4 0 5 1-5 0 4 1-4 0 4 1-5 0 6 1-6 0 8 1-9 0 10 1-10 0 10 1-10 0 10 1-10 0 7 1-7 0 7 1-6 0 7 1-8 0 7 1-6 0 5 1-4 0 4 1-4 0 4 1-4 0 4 1-6 0 6 1-4 0 5 1-5 0 4 1-4 0 4 1-6 0 6 1-4 0 5 1-5 0 4 1-6 0 6 1-4 0 6 1-6 0 4 1-4 0 4 1-4 0 4 1-4 0 4 1-4 0 4 1-4 0 4 1-4 0 4 1-4 0 5 1-5 0 7 1-7 0 4 1-4 0 4 1-4 0 4 1-5 0 6 1-5 0 4 1-4 0 4 1-4 0 4 1-4 0 6 1-6 0 4 1-6 0 6 1-4 0 4 1-4 0 4 1-4 0 5 1-5 0 4 1-4 0 4 1-4 0 6 1-6 0 4 1-5 0 5 1-4 0 4 1-5 0 5 1-4 0 6 1-6 0 4 1-4 0 4 1-4 0 4 1-4 0 4 1-4 0 5 1-7 0 6 1-5 0 6 1-6 0 6 1-6 0 6 1-7 0 7 1-7 0 8 1-7 0 6 1-6 0 6 1-5 0 5 1-5 0 4 1-4 0 4 1-5 0 5 1-4 0 4 1-5 0 5 1-4 0 4 1-5 0 5 1-4 0 4 1-4 0 5 1-5 0 4 1-5 0 5 1-4 0 4 1-4 0 4 1-4 0 4 1-4 0 4 1-4 0 4 1-4 0 4 1-5 0 5 1-4 0 4 1-4 0 4 1-4 0 4 1-4 0 4 1-4 0 4 1-4 0 4 1-4 0 4 1-4 0 4 1-4 0 4 1-4 0 4 1-4 0 4 1-4 0 4 1-4 0 4 1-4 0 4 1-4 0 4 1-4 0 4 1-4 0 4 1-4 0 6 1-6 0 7 1-9 0 6 1-4 0 4 1-4 0 4 1-5 0 5 1-5 0 6 1-7 0 8 1-8 0 7 1-6 0 5 1-4 0 5 1-7 0 6 1-4 0 4 1-5 0 5 1-4 0 4 1-4 0 4 1-4 0 4 1-4 0 6 1-6 0 4 1-4 0 4 1-4 0 4 1-4 0 5 1-5 0 6 1-6 0 6 1-7 0 7 1-7 0 6 1-5 0 4 1-4 0 4 1-4 0 4 1-4 0 4 1-6 0 6 1-5 0 5 1-4 0 4 1-4 0 4 1-6 0 6 1-4 0 4 1-5 0 5 1-6 0 6 1-4 0 4 1-4 0 4 1-4 0 4 1-5 0 7 1-6 0 4 1-4 0 6 1-8 0 6 1-5 0 5 1-4 0 4 1-4 0 5 1-5 0 4 1-4 0 4 1-4 0 4 1-4 0 6 1-6 0 4 1-4 0 4 1-4 0 4 1-4 0 4 1-4 0 4 1-5 0 5 1-4 0 4 1-4 0 4 1-6 0 6 1-5 0 5 1-4 0 4 1-4 0 4 1-4 0 6 1-6 0 5 1-5 0 6 1-7 0 5 1-4 0 4 1-4 0 5 1-5 0 6 1-6 0 5 1-5 0 4 1-4 0 4 1-4 0 4 1-6 0 6 1-4 0 5 1-5 0 4 1-4 0 4 1-4 0 4 1-7 0 7 1-6 0 6 1-6 0 6 1-4 0 4 1-4 0 5 1-5 0 4 1-6 0 6 1-4 0 4 1-4 0 5 1-5 0 4 1-5 0 5 1-4 0 5 1-5 0 4 1-4 0 4 1-4 0 4 1-4 0 5 1-5 0 7 1-7 0 6 1-6 0 4 1-5 0 5 1-4 0 4 1-4 0 4 1-4 0 5 1-5 0 4 1-5 0 6 1-8 0 8 1-7 0 7 1-5 0 4 1-4 0 4 1-4 0 4 1-4 0 7 1-7 0 4 1-4 0 4 1-4 0 5 1-5 0 4 1-4 0 4 1-4 0 4 1-4 0 5 1-5 0 4 1-4 0 4 1-6 0 6 1-4 0 4 1-4 0 4 1-4 0 4 1-6 0 6 1-4 0 4 1-4 0 4 1-5 0 5 1-4 0 4 1-4 0 4 1-6 0 6 1-4 0 4 1-5 0 5 1-5 0 5 1-7 0 7 1-4 0 4 1-4 0 4 1-4 0 4 1-4 0 4 1-6 0 6 1-4 0 4 1-4 0 4 1-4 0 4 1-4 0 4 1-4 0 4 1-4 0 4 1-4 0 4 1-4 0 5 1-6 0 7 1-7 0 7 1-7 0 7 1-6 0 5 1-5 0 4 1-5 0 5 1-4 0 4 1-4 0 6 1-6 0 4 1-4 0 4 1-4 0 4 1-6 0 6 1-4 0 4 1-4 0 4 1-4 0 4 1-4 0 4 1-6 0 6 1-4 0 4 1-4 0 5 1-5 0 4 1-4 0 4 1-4 0 4 1-4 0 4 1-4 0 4 1-4 0 4 1-4 0 4 1-4 0 5 1-5 0 4 1-4 0 4 1-4 0 4 1-4 0 4 1-4 0 6 1-6 0 4 1-4 0 4 1-4 0 4 1-4 0 4 1-4 0 4 1-5 0 5 1-6 0 7 1-6 0 7 1-9 0 9 1-8 0 7 1-8 0 8 1-6 0 5 1-5 0 5 1-4 0 4 1-4 0 4 1-4 0 4 1-4 0 4 1-4 0 4 1-4 0 4 1-4 0 4 1-4 0 4 1-4 0 4 1-4 0 4 1-4 0 4 1-4 0 4 1-4 0 4 1-4 0 4 1-6 0 6 1-5 0 5 1-4 0 4 1-4 0 4 1-5 0 5 1-4 0 4 1-4 0 5 1-6 0 5 1-4 0 4 1-7 0 7 1-4 0 4 1-4 0 5 1-5 0 4 1-4 0 4 1-4 0 4 1-4 0 4 1-4 0 4 1-6 0 6 1-4 0 5 1-6 0 5 1-4 0 4 1-4 0 4 1-4 0 4 1-4 0 4 1-4 0 4 1-4 0 6 1-6 0 4 1-4 0 4 1-5 0 5 1-6 0 7 1-7 0 7 1-6 0 6 1-6 0 5 1-4 0 4 1-4 0 5 1-6 0 5 1-4 0 4 1-6 0 6 1-4 0 4 1-3 0 3 1-4 0 5 1-5 0 4 1-4 0 4 1-4 0 4 1-4 0 4 1-4 0 5 1-5 0 4 1-4 0 4 1-6 0 6 1-5 0 5 1-5 0 5 1-4 0 4 1-4 0 4 1-5 0 5 1-4 0 4 1-4 0 6 1-6 0 4 1-6 0 6 1-4 0 4 1-4 0 4 1-4 0 4 1-4 0 4 1-4 0 4 1-4 0 6 1-6 0 6 1-6 0 4 1-4 0 4"/><path vector-effect="non-scaling-stroke" transform="translate(138.00 167.363) scale(1.001145 0.2500)" stroke="#008000" d="M0-2l0 4 1-4 0 5 1-5 0 4 1-6 0 6 1-6 0 6 1-5 0 5 1-4 0 6 1-6 0 5 1-6 0 5 1-5 0 6 1-5 0 4 1-4 0 4 1-4 0 5 1-6 0 5 1-4 0 4 1-4 0 4 1-4 0 4 1-6 0 6 1-5 0 6 1-5 0 5 1-6 0 7 1-6 0 5 1-5 0 4 1-5 0 5 1-4 0 4 1-5 0 5 1-4 0 5 1-5 0 4 1-5 0 6 1-5 0 4 1-4 0 6 1-8 0 6 1-4 0 4 1-4 0 6 1-7 0 6 1-7 0 6 1-6 0 7 1-5 0 6 1-6 0 5 1-5 0 4 1-4 0 7 1-7 0 5 1-5 0 6 1-6 0 4 1-4 0 4 1-5 0 5 1-4 0 4 1-4 0 4 1-5 0 8 1-8 0 5 1-5 0 6 1-5 0 5 1-5 0 5 1-5 0 6 1-7 0 6 1-6 0 5 1-5 0 8 1-7 0 4 1-5 0 6 1-5 0 4 1-4 0 5 1-5 0 5 1-5 0 4 1-4 0 4 1-5 0 5 1-4 0 5 1-5 0 4 1-5 0 6 1-5 0 5 1-5 0 5 1-6 0 6 1-7 0 7 1-8 0 8 1-6 0 8 1-8 0 6 1-5 0 6 1-6 0 4 1-5 0 5 1-4 0 5 1-5 0 5 1-5 0 5 1-5 0 4 1-4 0 4 1-5 0 6 1-5 0 4 1-7 0 7 1-4 0 5 1-6 0 5 1-4 0 4 1-4 0 5 1-7 0 6 1-5 0 5 1-5 0 5 1-4 0 4 1-4 0 5 1-5 0 6 1-6 0 4 1-4 0 5 1-5 0 4 1-5 0 5 1-5 0 5 1-4 0 4 1-5 0 5 1-5 0 5 1-4 0 5 1-5 0 4 1-5 0 5 1-4 0 5 1-5 0 4 1-5 0 5 1-4 0 4 1-4 0 5 1-6 0 5 1-5 0 5 1-4 0 4 1-4 0 4 1-5 0 5 1-6 0 6 1-4 0 4 1-4 0 4 1-6 0 7 1-5 0 4 1-4 0 4 1-4 0 5 1-5 0 6 1-6 0 4 1-4 0 6 1-6 0 4 1-4 0 4 1-4 0 4 1-4 0 4 1-4 0 6 1-6 0 5 1-5 0 5 1-6 0 5 1-4 0 4 1-6 0 7 1-5 0 4 1-4 0 5 1-5 0 4 1-5 0 5 1-4 0 4 1-4 0 4 1-5 0 6 1-5 0 4 1-4 0 4 1-4 0 5 1-5 0 5 1-5 0 5 1-5 0 4 1-5 0 5 1-5 0 5 1-4 0 4 1-5 0 5 1-4 0 7 1-7 0 4 1-4 0 4 1-5 0 6 1-5 0 4 1-6 0 6 1-4 0 4 1-4 0 4 1-7 0 7 1-4 0 6 1-6 0 5 1-7 0 6 1-6 0 7 1-6 0 5 1-4 0 5 1-5 0 4 1-4 0 4 1-5 0 5 1-4 0 5 1-5 0 5 1-5 0 5 1-5 0 4 1-5 0 5 1-4 0 5 1-6 0 6 1-5 0 6 1-6 0 4 1-4 0 5 1-6 0 6 1-5 0 4 1-4 0 4 1-4 0 5 1-5 0 4 1-4 0 4 1-4 0 4 1-4 0 4 1-5 0 5 1-4 0 5 1-5 0 4 1-4 0 5 1-5 0 4 1-4 0 5 1-5 0 4 1-4 0 4 1-4 0 5 1-5 0 4 1-4 0 5 1-5 0 4 1-4 0 5 1-5 0 4 1-5 0 5 1-4 0 7 1-7 0 4 1-4 0 4 1-5 0 6 1-5 0 6 1-6 0 4 1-4 0 5 1-5 0 4 1-5 0 6 1-5 0 5 1-6 0 7 1-8 0 10 1-10 0 8 1-9 0 8 1-6 0 6 1-6 0 8 1-9 0 8 1-8 0 8 1-7 0 7 1-7 0 6 1-5 0 6 1-8 0 6 1-5 0 6 1-5 0 4 1-4 0 4 1-4 0 5 1-5 0 5 1-6 0 5 1-4 0 4 1-4 0 5 1-5 0 4 1-4 0 4 1-4 0 4 1-5 0 5 1-5 0 5 1-4 0 4 1-4 0 5 1-6 0 6 1-5 0 4 1-4 0 5 1-6 0 5 1-5 0 5 1-4 0 5 1-5 0 4 1-4 0 5 1-5 0 6 1-6 0 4 1-4 0 4 1-4 0 4 1-6 0 6 1-4 0 4 1-4 0 5 1-5 0 4 1-4 0 4 1-4 0 4 1-5 0 6 1-7 0 7 1-6 0 6 1-6 0 5 1-4 0 4 1-4 0 4 1-4 0 4 1-5 0 5 1-4 0 6 1-7 0 6 1-6 0 5 1-4 0 4 1-4 0 5 1-5 0 6 1-7 0 6 1-5 0 6 1-6 0 4 1-4 0 6 1-8 0 6 1-4 0 6 1-6 0 4 1-5 0 6 1-5 0 5 1-6 0 7 1-7 0 8 1-9 0 7 1-7 0 8 1-7 0 7 1-6 0 5 1-5 0 4 1-4 0 6 1-7 0 6 1-6 0 7 1-8 0 9 1-8 0 7 1-9 0 8 1-9 0 10 1-9 0 9 1-7 0 6 1-7 0 6 1-4 0 4 1-4 0 4 1-4 0 4 1-5 0 5 1-4 0 4 1-4 0 4 1-4 0 6 1-6 0 4 1-4 0 4 1-5 0 5 1-4 0 4 1-4 0 4 1-4 0 4 1-6 0 6 1-5 0 5 1-7 0 7 1-4 0 7 1-8 0 5 1-4 0 4 1-5 0 5 1-5 0 5 1-4 0 4 1-4 0 5 1-6 0 5 1-7 0 7 1-4 0 4 1-6 0 7 1-5 0 5 1-8 0 7 1-4 0 4 1-4 0 4 1-4 0 4 1-6 0 6 1-5 0 5 1-4 0 6 1-7 0 6 1-5 0 4 1-4 0 5 1-6 0 5 1-4 0 5 1-7 0 7 1-5 0 4 1-6 0 6 1-4 0 5 1-6 0 6 1-6 0 5 1-4 0 4 1-4 0 4 1-4 0 4 1-4 0 5 1-6 0 5 1-5 0 6 1-5 0 4 1-4 0 5 1-5 0 5 1-5 0 6 1-8 0 6 1-4 0 4 1-4 0 4 1-4 0 4 1-5 0 6 1-6 0 5 1-4 0 4 1-4 0 4 1-5 0 5 1-4 0 4 1-4 0 4 1-5 0 6 1-5 0 5 1-7 0 7 1-5 0 5 1-8 0 7 1-5 0 5 1-4 0 4 1-4 0 4 1-4 0 4 1-4 0 4 1-5 0 6 1-5 0 4 1-4 0 5 1-5 0 5 1-5 0 4 1-5 0 5 1-4 0 4 1-4 0 5 1-5 0 5 1-5 0 5 1-5 0 5 1-5 0 5 1-6 0 6 1-5 0 4 1-4 0 4 1-4 0 4 1-4 0 4 1-4 0 4 1-4 0 4 1-4 0 4 1-5 0 5 1-5 0 5 1-5 0 6 1-6 0 5 1-4 0 4 1-4 0 5 1-5 0 6 1-8 0 7 1-5 0 4 1-4 0 4 1-4 0 6 1-6 0 4 1-4 0 4 1-5 0 6 1-5 0 5 1-7 0 7 1-6 0 7 1-6 0 5 1-5 0 4 1-5 0 6 1-6 0 5 1-4 0 4 1-4 0 4 1-5 0 6 1-6 0 5 1-4 0 4 1-5 0 5 1-5 0 6 1-5 0 4 1-4 0 4 1-5 0 5 1-4 0 5 1-5 0 4 1-4 0 4 1-4 0 5 1-6 0 5 1-4 0 4 1-5 0 5 1-6 0 6 1-4 0 4 1-4 0 4 1-4 0 5 1-6 0 5 1-4 0 4 1-6 0 7 1-8 0 8 1-5 0 4 1-4 0 4 1-4 0 4 1-4 0 4 1-4 0 5 1-6 0 5 1-5 0 5 1-4 0 4 1-5 0 5 1-5 0 5 1-5 0 5 1-4 0 4 1-4 0 6 1-6 0 5 1-6 0 5 1-4 0 4 1-5 0 5 1-4 0 4 1-5 0 5 1-4 0 5 1-5 0 4 1-7 0 7 1-4 0 5 1-5 0 4 1-4 0 4 1-4 0 5 1-5 0 4 1-5 0 5 1-4 0 5 1-5 0 6 1-6 0 4 1-4 0 4 1-4 0 6 1-6 0 4 1-4 0 4 1-4 0 4 1-4 0 4 1-5 0 6 1-5 0 4 1-5 0 5 1-4 0 4 1-4 0 4 1-4 0 4 1-4 0 4 1-4 0 6 1-6 0 4 1-4 0 4 1-4 0 4 1-4 0 4 1-4 0 4 1-5 0 6 1-5 0 4 1-5 0 5 1-5 0 5 1-4 0 4 1-6 0 8 1-8 0 8 1-7 0 6 1-5 0 4 1-4 0 6 1-6 0 7 1-8 0 5 1-4 0 4 1-4 0 5 1-5 0 6 1-6 0 5 1-5 0 5 1-5 0 4 1-5 0 7 1-7 0 5 1-4 0 4 1-4 0 4 1-6 0 6 1-6 0 6 1-5 0 5 1-4 0 4 1-4 0 4 1-4 0 4 1-4 0 4 1-5 0 5 1-4 0 5 1-5 0 5 1-5 0 4 1-4 0 4 1-5 0 5 1-5 0 5 1-5 0 5 1-4 0 4 1-4 0 6 1-8 0 6 1-6 0 7 1-6 0 5 1-4 0 5 1-5 0 4 1-4 0 4 1-4 0 5 1-5 0 5 1-7 0 6 1-6 0 6 1-4 0 5 1-6 0 7 1-6 0 5 1-5 0 4 1-5 0 5 1-4 0 4 1-6 0 7 1-6 0 5 1-5 0 5 1-5 0 5 1-4 0 5 1-5 0 6 1-7 0 6 1-5 0 4 1-5 0 5 1-4 0 4 1-4 0 4 1-5 0 6 1-5 0 5 1-5 0 4 1-6 0 6 1-4 0 6 1-6 0 4 1-4 0 4 1-4 0 4 1-5 0 5 1-5 0 5 1-4 0 5 1-5 0 4 1-4 0 6 1-7 0 5 1-4 0 4 1-5 0 5 1-4 0 4 1-5 0 5 1-4 0 4 1-5 0 8 1-7 0 4 1-5 0 7 1-6 0 4 1-5 0 6 1-6 0 5 1-4 0 4 1-5 0 5 1-4 0 4 1-4 0 4 1-5 0 7 1-6 0 4 1-5 0 5 1-4 0 5 1-5 0 4 1-5 0 5 1-4 0 5 1-5 0 5 1-5 0 4 1-5 0 5 1-5 0 5 1-4 0 6 1-8 0 6 1-4 0 4 1-4 0 4 1-4 0 4 1-5 0 6 1-7 0 6 1-4 0 5 1-5 0 5 1-5 0 4 1-5 0 7 1-6 0 5 1-6 0 5 1-5 0 5 1-6 0 6 1-5 0 6 1-6 0 6 1-8 0 9 1-7 0 6 1-6 0 6 1-6 0 5 1-4 0 4 1-5 0 5 1-4 0 4 1-5 0 6 1-6 0 5 1-5 0 5 1-4 0 4 1-4 0 6 1-6 0 4 1-4 0 6 1-7 0 6 1-5 0 5 1-5 0 5 1-5 0 6 1-7 0 5 1-5 0 5 1-5 0 5 1-4 0 4 1-4 0 4 1-4 0 5 1-5 0 5 1-5 0 4 1-4 0 4 1-4 0 4 1-6 0 6 1-6 0 6 1-4 0 5 1-5 0 4 1-7 0 7 1-5 0 5 1-7 0 7 1-4 0 4 1-4 0 6 1-7 0 5 1-5 0 5 1-4 0 5 1-5 0 4 1-5 0 5 1-4 0 4 1-4 0 4 1-5 0 6 1-5 0 5 1-7 0 6 1-5 0 5 1-4 0 5 1-5 0 5 1-6 0 5 1-4 0 4 1-5 0 5 1-5 0 7 1-6 0 4 1-4 0 4 1-4 0 6 1-8 0 6 1-5 0 6 1-7 0 7 1-6 0 7 1-7 0 8 1-9 0 8 1-7 0 7 1-7 0 6 1-6 0 6 1-5 0 4 1-4 0 4 1-6 0 7 1-5 0 4 1-4 0 4 1-4 0 5 1-5 0 5 1-6 0 5 1-5 0 6 1-5 0 4 1-4 0 4 1-7 0 7 1-5 0 5 1-7 0 7 1-4 0 6 1-6 0 7 1-7 0 4 1-4 0 4 1-5 0 5 1-4 0 4 1-4 0 5 1-5 0 4 1-4 0 5 1-5 0 5 1-5 0 4 1-6 0 7 1-5 0 4 1-5 0 5 1-4 0 4 1-4 0 5 1-5 0 4 1-5 0 7 1-6 0 4 1-4 0 4 1-4 0 4 1-6 0 7 1-5 0 5 1-5 0 4 1-4 0 4 1-5 0 5 1-4 0 5 1-5 0 5 1-5 0 4 1-5 0 6 1-5 0 5 1-5 0 4 1-5 0 5 1-4 0 4 1-4 0 6 1-7 0 5 1-4 0 4 1-5 0 5 1-6 0 6 1-4 0 4 1-5 0 5 1-4 0 4 1-4 0 4 1-5 0 5 1-5 0 5 1-5 0 6 1-5 0 4 1-4 0 4 1-4 0 4 1-6 0 6 1-4 0 4 1-4 0 4 1-4 0 4 1-6 0 6 1-4 0 4 1-6 0 6 1-4 0 4 1-5 0 5 1-5 0 6 1-5 0 5 1-5 0 4 1-5 0 5 1-4 0 4 1-4 0 4 1-5 0 6 1-6 0 6 1-6 0 6 1-5 0 5 1-5 0 4 1-4 0 4 1-4 0 5 1-5 0 5 1-5 0 4 1-5 0 6 1-5 0 5 1-5 0 4 1-5 0 5 1-4 0 6 1-8 0 6 1-4 0 5 1-7 0 7 1-5 0 4 1-4 0 4 1-4 0 4 1-4 0 6 1-8 0 6 1-6 0 7 1-5 0 4 1-4 0 4 1-5 0 5 1-4 0 4 1-4 0 4 1-4 0 5 1-5 0 5 1-5 0 4 1-6 0 6 1-4 0 4 1-4 0 4 1-5 0 5 1-5 0 5 1-4 0 4 1-4 0 6 1-7 0 5 1-4 0 6 1-6 0 6 1-6 0 5 1-5 0 5 1-5 0 4 1-5 0 6 1-5 0 4 1-4 0 6 1-7 0 6 1-6 0 6 1-7 0 7 1-5 0 4 1-4 0 5 1-5 0 4 1-4 0 4 1-5 0 5 1-6 0 6 1-4 0 4 1-4 0 5 1-5 0 5 1-6 0 5 1-4 0 4 1-5 0 6 1-5 0 4 1-4 0 4 1-4 0 5 1-5 0 4 1-5 0 5 1-4 0 4 1-4 0 4 1-5 0 5 1-4 0 4 1-5 0 5 1-4 0 5 1-5 0 4 1-7 0 7 1-6 0 6 1-4 0 6 1-6 0 4 1-4 0 4 1-4 0 4 1-4 0 6 1-6 0 6 1-6 0 4 1-4 0 4 1-4 0 4 1-6 0 6 1-4 0 4 1-5 0 5 1-5 0 6 1-5 0 4 1-4 0 4 1-4 0 4 1-6 0 7 1-7 0 6 1-5 0 6 1-5 0 7 1-9 0 6 1-4 0 5 1-6 0 5 1-4 0 5 1-6 0 7 1-6 0 4 1-4 0 6 1-6 0 4 1-6 0 6 1-4 0 7 1-7 0 5 1-6 0 5 1-5 0 5 1-5 0 5 1-5 0 5 1-4 0 6 1-6 0 4 1-4 0 4"/><path vector-effect="non-scaling-stroke" transform="translate(138.00 198.906) scale(1.001145 0.2500)" stroke="#000000" d="M0-2l0 4 1-4 0 4 1-4 0 4 1-4 0 4 1-4 0 4 1-4 0 5 1-6 0 5 1-4 0 4 1-5 0 5 1-6 0 8 1-9 0 8 1-7 0 8 1-7 0 5 1-4 0 4 1-4 0 4 1-4 0 4 1-4 0 4 1-4 0 4 1-9 0 14 1-15 0 16 1-10 0 5 1-6 0 7 1-8 0 9 1-9 0 7 1-6 0 8 1-8 0 7 1-6 0 5 1-5 0 4 1-4 0 4 1-4 0 6 1-6 0 5 1-6 0 7 1-8 0 7 1-7 0 8 1-8 0 8 1-9 0 9 1-7 0 6 1-6 0 7 1-7 0 6 1-6 0 6 1-6 0 7 1-8 0 9 1-9 0 7 1-5 0 5 1-5 0 4 1-4 0 4 1-4 0 4 1-4 0 4 1-4 0 4 1-4 0 6 1-6 0 4 1-4 0 4 1-4 0 4 1-4 0 4 1-4 0 4 1-6 0 6 1-4 0 4 1-7 0 7 1-6 0 6 1-4 0 4 1-4 0 4 1-4 0 4 1-4 0 4 1-5 0 7 1-8 0 8 1-7 0 8 1-9 0 7 1-6 0 6 1-7 0 8 1-7 0 7 1-7 0 6 1-6 0 6 1-7 0 7 1-6 0 6 1-7 0 9 1-9 0 8 1-7 0 7 1-7 0 7 1-7 0 7 1-6 0 5 1-5 0 5 1-5 0 4 1-4 0 6 1-6 0 4 1-4 0 4 1-4 0 4 1-4 0 4 1-4 0 4 1-4 0 4 1-4 0 4 1-4 0 4 1-7 0 7 1-4 0 4 1-6 0 6 1-4 0 4 1-4 0 4 1-4 0 4 1-4 0 6 1-6 0 4 1-4 0 4 1-4 0 4 1-4 0 6 1-8 0 6 1-6 0 6 1-4 0 4 1-4 0 7 1-7 0 6 1-6 0 4 1-4 0 5 1-5 0 4 1-4 0 4 1-5 0 5 1-4 0 4 1-6 0 6 1-4 0 4 1-4 0 5 1-5 0 4 1-6 0 6 1-4 0 4 1-4 0 5 1-5 0 4 1-5 0 5 1-4 0 6 1-6 0 5 1-5 0 4 1-6 0 6 1-4 0 5 1-5 0 4 1-4 0 4 1-4 0 4 1-6 0 8 1-7 0 7 1-8 0 7 1-5 0 5 1-5 0 4 1-5 0 5 1-4 0 4 1-4 0 4 1-4 0 4 1-5 0 5 1-4 0 4 1-4 0 4 1-4 0 6 1-6 0 4 1-4 0 6 1-6 0 4 1-4 0 4 1-4 0 4 1-4 0 4 1-4 0 4 1-6 0 6 1-6 0 7 1-5 0 4 1-4 0 4 1-4 0 4 1-4 0 4 1-4 0 4 1-4 0 4 1-4 0 4 1-4 0 4 1-4 0 4 1-4 0 4 1-4 0 4 1-6 0 6 1-4 0 6 1-7 0 5 1-4 0 4 1-5 0 5 1-5 0 7 1-7 0 6 1-5 0 5 1-5 0 6 1-6 0 4 1-4 0 4 1-4 0 4 1-4 0 4 1-4 0 4 1-4 0 4 1-5 0 5 1-6 0 6 1-6 0 6 1-4 0 4 1-4 0 4 1-4 0 4 1-4 0 4 1-4 0 4 1-4 0 4 1-4 0 4 1-4 0 4 1-4 0 4 1-4 0 4 1-4 0 4 1-4 0 4 1-4 0 4 1-4 0 6 1-6 0 5 1-5 0 4 1-5 0 5 1-4 0 6 1-6 0 4 1-6 0 6 1-4 0 6 1-7 0 5 1-5 0 6 1-5 0 6 1-6 0 6 1-7 0 5 1-4 0 4 1-4 0 4 1-4 0 4 1-4 0 5 1-5 0 4 1-4 0 4 1-6 0 6 1-4 0 4 1-4 0 5 1-5 0 5 1-5 0 4 1-4 0 4 1-4 0 4 1-4 0 4 1-4 0 4 1-4 0 4 1-4 0 4 1-4 0 4 1-6 0 7 1-5 0 4 1-6 0 6 1-4 0 4 1-4 0 4 1-4 0 6 1-6 0 4 1-6 0 7 1-6 0 6 1-7 0 8 1-8 0 8 1-8 0 7 1-6 0 6 1-5 0 4 1-4 0 6 1-6 0 6 1-6 0 4 1-6 0 6 1-4 0 5 1-7 0 8 1-7 0 6 1-5 0 4 1-4 0 4 1-4 0 4 1-4 0 5 1-6 0 6 1-6 0 6 1-5 0 5 1-5 0 5 1-5 0 5 1-5 0 4 1-4 0 4 1-5 0 5 1-5 0 7 1-7 0 6 1-6 0 7 1-7 0 7 1-7 0 7 1-6 0 6 1-6 0 5 1-7 0 6 1-4 0 5 1-6 0 6 1-7 0 9 1-8 0 6 1-7 0 6 1-4 0 4 1-4 0 4 1-4 0 4 1-4 0 5 1-5 0 6 1-6 0 4 1-5 0 5 1-4 0 4 1-4 0 4 1-4 0 4 1-4 0 4 1-6 0 6 1-4 0 4 1-6 0 6 1-4 0 4 1-5 0 5 1-4 0 4 1-4 0 4 1-5 0 6 1-7 0 8 1-8 0 7 1-7 0 8 1-8 0 6 1-5 0 6 1-7 0 8 1-8 0 7 1-6 0 6 1-6 0 6 1-7 0 8 1-8 0 8 1-9 0 9 1-8 0 8 1-8 0 8 1-8 0 7 1-6 0 6 1-5 0 4 1-4 0 4 1-4 0 4 1-4 0 5 1-6 0 5 1-6 0 7 1-8 0 8 1-8 0 9 1-8 0 7 1-6 0 6 1-6 0 5 1-4 0 4 1-4 0 4 1-4 0 5 1-5 0 4 1-5 0 5 1-6 0 7 1-6 0 7 1-7 0 6 1-6 0 6 1-6 0 5 1-4 0 4 1-4 0 5 1-6 0 6 1-5 0 5 1-6 0 5 1-6 0 6 1-4 0 4 1-4 0 5 1-5 0 4 1-4 0 6 1-8 0 6 1-6 0 6 1-4 0 4 1-4 0 6 1-8 0 7 1-5 0 4 1-4 0 4 1-4 0 4 1-4 0 4 1-4 0 4 1-4 0 4 1-4 0 4 1-4 0 4 1-4 0 4 1-4 0 4 1-4 0 4 1-4 0 4 1-5 0 5 1-4 0 4 1-4 0 6 1-6 0 4 1-4 0 4 1-4 0 5 1-5 0 6 1-6 0 4 1-4 0 4 1-4 0 4 1-6 0 6 1-4 0 4 1-4 0 6 1-6 0 4 1-4 0 5 1-7 0 8 1-9 0 8 1-6 0 8 1-8 0 5 1-4 0 4 1-4 0 5 1-7 0 6 1-4 0 5 1-7 0 6 1-4 0 4 1-4 0 4 1-4 0 4 1-6 0 6 1-4 0 4 1-4 0 4 1-5 0 7 1-8 0 8 1-7 0 6 1-5 0 4 1-4 0 4 1-4 0 5 1-5 0 4 1-4 0 4 1-4 0 4 1-4 0 7 1-7 0 4 1-5 0 6 1-7 0 8 1-7 0 7 1-8 0 8 1-7 0 7 1-6 0 5 1-5 0 5 1-5 0 5 1-5 0 4 1-4 0 6 1-6 0 5 1-6 0 6 1-7 0 7 1-7 0 8 1-6 0 5 1-5 0 4 1-4 0 4 1-4 0 4 1-6 0 6 1-4 0 4 1-4 0 4 1-4 0 4 1-4 0 4 1-4 0 4 1-4 0 4 1-4 0 5 1-5 0 4 1-5 0 6 1-8 0 8 1-6 0 6 1-5 0 7 1-8 0 5 1-4 0 4 1-4 0 6 1-6 0 4 1-4 0 4 1-6 0 6 1-4 0 4 1-5 0 5 1-4 0 4 1-4 0 4 1-4 0 4 1-4 0 4 1-4 0 4 1-4 0 4 1-4 0 4 1-4 0 4 1-4 0 4 1-4 0 5 1-5 0 4 1-4 0 4 1-4 0 4 1-6 0 6 1-4 0 4 1-4 0 4 1-4 0 5 1-5 0 4 1-4 0 4 1-4 0 4 1-4 0 4 1-4 0 4 1-4 0 4 1-4 0 5 1-5 0 5 1-7 0 6 1-4 0 5 1-5 0 6 1-6 0 4 1-4 0 4 1-4 0 4 1-4 0 4 1-4 0 4 1-4 0 4 1-4 0 4 1-4 0 4 1-5 0 5 1-4 0 6 1-7 0 5 1-6 0 7 1-7 0 8 1-7 0 6 1-5 0 4 1-5 0 5 1-5 0 5 1-4 0 6 1-6 0 4 1-4 0 4 1-5 0 5 1-4 0 6 1-6 0 4 1-4 0 6 1-6 0 4 1-4 0 6 1-6 0 4 1-4 0 4 1-5 0 5 1-4 0 4 1-6 0 6 1-4 0 4 1-4 0 4 1-4 0 4 1-4 0 4 1-4 0 4 1-6 0 6 1-5 0 5 1-4 0 4 1-4 0 4 1-4 0 4 1-4 0 4 1-5 0 5 1-4 0 4 1-6 0 6 1-6 0 6 1-4 0 6 1-7 0 6 1-7 0 8 1-7 0 7 1-7 0 6 1-7 0 8 1-7 0 7 1-7 0 7 1-7 0 6 1-5 0 5 1-5 0 4 1-4 0 4 1-4 0 5 1-5 0 4 1-4 0 4 1-4 0 4 1-4 0 4 1-4 0 4 1-4 0 4 1-4 0 4 1-5 0 5 1-4 0 4 1-4 0 4 1-4 0 4 1-4 0 4 1-4 0 4 1-4 0 6 1-8 0 7 1-5 0 4 1-4 0 6 1-6 0 5 1-5 0 4 1-5 0 5 1-4 0 4 1-4 0 4 1-4 0 4 1-4 0 6 1-6 0 4 1-4 0 5 1-5 0 4 1-4 0 4 1-5 0 5 1-6 0 7 1-5 0 4 1-4 0 4 1-4 0 4 1-4 0 4 1-6 0 6 1-6 0 6 1-4 0 4 1-4 0 6 1-6 0 4 1-4 0 4 1-5 0 6 1-7 0 7 1-7 0 8 1-8 0 7 1-6 0 6 1-5 0 4 1-4 0 4 1-4 0 4 1-6 0 6 1-4 0 4 1-5 0 5 1-6 0 6 1-6 0 6 1-5 0 5 1-4 0 4 1-4 0 4 1-4 0 5 1-5 0 4 1-6 0 6 1-4 0 4 1-4 0 4 1-4 0 5 1-5 0 4 1-5 0 5 1-4 0 4 1-4 0 4 1-4 0 4 1-4 0 4 1-4 0 4 1-4 0 4 1-4 0 4 1-4 0 4 1-5 0 7 1-6 0 4 1-6 0 6 1-4 0 6 1-8 0 6 1-4 0 4 1-4 0 4 1-4 0 4 1-4 0 5 1-5 0 4 1-4 0 4 1-4 0 4 1-4 0 6 1-6 0 4 1-4 0 4 1-4 0 4 1-6 0 6 1-4 0 6 1-6 0 4 1-4 0 6 1-8 0 6 1-5 0 5 1-4 0 4 1-6 0 6 1-4 0 4 1-5 0 5 1-4 0 4 1-4 0 4 1-4 0 4 1-5 0 5 1-5 0 5 1-4 0 4 1-4 0 4 1-4 0 4 1-4 0 6 1-7 0 5 1-6 0 6 1-4 0 4 1-4 0 4 1-4 0 4 1-4 0 6 1-6 0 4 1-6 0 6 1-4 0 4 1-4 0 4 1-4 0 4 1-4 0 4 1-4 0 4 1-4 0 4 1-4 0 5 1-6 0 6 1-6 0 6 1-5 0 5 1-5 0 4 1-5 0 5 1-4 0 5 1-5 0 4 1-4 0 4 1-4 0 4 1-4 0 6 1-6 0 4 1-4 0 4 1-4 0 4 1-4 0 4 1-5 0 5 1-4 0 4 1-4 0 4 1-4 0 4 1-4 0 4 1-4 0 4 1-5 0 5 1-5 0 5 1-4 0 5 1-5 0 4 1-5 0 7 1-6 0 5 1-5 0 4 1-4 0 4 1-4 0 4 1-5 0 6 1-7 0 7 1-7 0 9 1-9 0 8 1-7 0 7 1-7 0 6 1-6 0 6 1-6 0 6 1-7 0 7 1-6 0 6 1-7 0 7 1-7 0 7 1-6 0 8 1-7 0 5 1-5 0 4 1-4 0 4 1-4 0 4 1-6 0 6 1-4 0 6 1-6 0 4 1-4 0 4 1-4 0 4 1-4 0 5 1-5 0 4 1-4 0 4 1-4 0 4 1-4 0 4 1-5 0 5 1-4 0 4 1-4 0 5 1-5 0 4 1-4 0 4 1-5 0 5 1-4 0 4 1-4 0 4 1-4 0 5 1-5 0 4 1-4 0 4 1-4 0 5 1-5 0 4 1-4 0 4 1-4 0 4 1-4 0 4 1-6 0 6 1-4 0 4 1-5 0 5 1-4 0 5 1-5 0 4 1-4 0 4 1-4 0 4 1-4 0 5 1-5 0 7 1-7 0 4 1-5 0 6 1-6 0 8 1-8 0 6 1-5 0 4 1-5 0 6 1-6 0 6 1-7 0 8 1-7 0 7 1-6 0 5 1-5 0 4 1-4 0 4 1-4 0 4 1-4 0 4 1-4 0 4 1-4 0 4 1-4 0 4 1-5 0 5 1-4 0 4 1-4 0 5 1-5 0 4 1-4 0 5 1-5 0 5 1-5 0 4 1-4 0 5 1-5 0 4 1-4 0 7 1-7 0 4 1-5 0 5 1-4 0 4 1-5 0 5 1-5 0 6 1-5 0 5 1-5 0 5 1-5 0 6 1-6 0 4 1-4 0 4 1-4 0 4 1-4 0 4 1-4 0 5 1-5 0 5 1-6 0 5 1-5 0 5 1-5 0 6 1-6 0 6 1-7 0 7 1-7 0 8 1-7 0 7 1-7 0 6 1-5 0 4 1-5 0 5 1-5 0 6 1-6 0 7 1-7 0 6 1-6 0 6 1-6 0 6 1-6 0 7 1-6 0 6 1-8 0 6 1-4 0 4 1-4 0 4 1-4 0 4 1-6 0 6 1-5 0 5 1-4 0 4 1-4 0 4 1-6 0 6 1-4 0 4 1-4 0 4 1-6 0 6 1-4 0 4 1-4 0 4 1-4 0 5 1-5 0 4 1-4 0 4 1-4 0 4 1-4 0 4 1-4 0 4 1-4 0 4 1-4 0 5 1-5 0 4 1-4 0 4 1-4 0 4 1-5 0 7 1-6 0 4 1-4 0 4 1-4 0 4 1-4 0 4 1-4 0 4 1-4 0 4 1-4 0 4 1-6 0 6 1-5 0 5 1-4 0 4 1-4 0 4 1-5 0 5 1-5 0 5 1-4 0 4 1-4 0 5 1-5 0 4 1-4 0 4 1-4 0 4 1-4 0 4 1-4 0 4 1-4 0 4 1-4 0 4 1-4 0 4 1-5 0 5 1-5 0 5 1-4 0 4 1-5 0 6 1-7 0 7 1-6 0 6 1-6 0 6 1-5 0 4 1-4 0 6 1-8 0 6 1-4 0 4 1-4 0 4 1-6 0 6 1-5 0 7 1-7 0 7 1-8 0 7 1-7 0 8 1-8 0 7 1-5 0 4 1-4 0 4 1-4 0 4 1-4 0 5 1-5 0 5 1-5 0 4 1-4 0 4 1-4 0 6 1-6 0 4 1-4 0 4 1-4 0 4 1-4 0 6 1-6 0 5 1-5 0 4 1-4 0 5 1-5 0 4 1-4 0 4 1-4 0 4 1-4 0 4 1-4 0 4 1-6 0 6 1-6 0 6 1-7 0 7 1-4 0 4 1-6 0 6"/><path vector-effect="non-scaling-stroke" transform="translate(138.00 230.449) scale(1.001145 0.2500)" stroke="#ff0000" d="M0-2l0 5 1-6 0 5 1-4 0 5 1-5 0 4 1-5 0 5 1-6 0 6 1-4 0 5 1-6 0 5 1-5 0 5 1-4 0 4 1-5 0 5 1-4 0 4 1-4 0 4 1-4 0 5 1-5 0 5 1-6 0 6 1-5 0 4 1-4 0 4 1-5 0 5 1-5 0 5 1-4 0 5 1-7 0 7 1-7 0 9 1-9 0 9 1-8 0 7 1-7 0 6 1-7 0 7 1-7 0 7 1-6 0 6 1-5 0 5 1-6 0 5 1-4 0 4 1-4 0 4 1-4 0 5 1-5 0 5 1-5 0 5 1-5 0 5 1-5 0 4 1-4 0 5 1-6 0 7 1-6 0 6 1-6 0 4 1-6 0 7 1-5 0 4 1-5 0 6 1-5 0 6 1-6 0 6 1-8 0 7 1-5 0 4 1-4 0 5 1-7 0 6 1-4 0 5 1-5 0 4 1-4 0 4 1-4 0 4 1-4 0 4 1-4 0 4 1-4 0 5 1-5 0 6 1-7 0 6 1-6 0 6 1-8 0 8 1-5 0 4 1-4 0 4 1-4 0 4 1-6 0 7 1-6 0 5 1-4 0 6 1-6 0 4 1-4 0 4 1-6 0 7 1-5 0 5 1-5 0 4 1-4 0 4 1-4 0 4 1-4 0 4 1-4 0 4 1-4 0 5 1-7 0 6 1-5 0 6 1-6 0 5 1-4 0 4 1-4 0 5 1-5 0 4 1-4 0 4 1-6 0 6 1-4 0 4 1-5 0 6 1-7 0 7 1-7 0 7 1-7 0 7 1-6 0 6 1-7 0 6 1-4 0 4 1-4 0 4 1-4 0 5 1-5 0 6 1-6 0 5 1-5 0 4 1-4 0 4 1-4 0 4 1-5 0 6 1-5 0 4 1-4 0 4 1-4 0 4 1-5 0 5 1-6 0 6 1-6 0 6 1-4 0 5 1-6 0 5 1-4 0 5 1-5 0 4 1-6 0 6 1-4 0 4 1-4 0 5 1-6 0 7 1-6 0 4 1-4 0 4 1-5 0 5 1-4 0 4 1-4 0 6 1-8 0 6 1-4 0 5 1-5 0 5 1-5 0 4 1-4 0 5 1-5 0 5 1-7 0 6 1-5 0 7 1-6 0 4 1-4 0 5 1-7 0 7 1-6 0 7 1-6 0 5 1-6 0 5 1-5 0 7 1-6 0 4 1-4 0 4 1-4 0 5 1-5 0 6 1-6 0 4 1-6 0 6 1-5 0 8 1-7 0 6 1-9 0 7 1-4 0 4 1-5 0 5 1-5 0 5 1-4 0 4 1-4 0 4 1-4 0 4 1-4 0 6 1-8 0 6 1-5 0 5 1-5 0 5 1-7 0 7 1-6 0 7 1-5 0 4 1-4 0 4 1-4 0 4 1-4 0 4 1-6 0 6 1-5 0 5 1-4 0 5 1-5 0 5 1-7 0 6 1-4 0 4 1-4 0 4 1-4 0 4 1-4 0 4 1-4 0 6 1-7 0 5 1-4 0 4 1-4 0 4 1-4 0 4 1-5 0 5 1-4 0 4 1-4 0 5 1-5 0 4 1-5 0 6 1-5 0 5 1-6 0 5 1-6 0 6 1-5 0 5 1-6 0 6 1-4 0 5 1-5 0 5 1-6 0 5 1-5 0 7 1-6 0 4 1-5 0 5 1-4 0 5 1-5 0 4 1-4 0 5 1-5 0 4 1-5 0 5 1-5 0 6 1-5 0 4 1-4 0 5 1-5 0 4 1-6 0 6 1-4 0 4 1-5 0 5 1-4 0 4 1-4 0 6 1-6 0 4 1-4 0 4 1-4 0 6 1-7 0 5 1-4 0 4 1-4 0 4 1-4 0 4 1-4 0 4 1-4 0 4 1-5 0 7 1-6 0 4 1-4 0 5 1-6 0 5 1-5 0 6 1-5 0 4 1-5 0 5 1-4 0 4 1-4 0 4 1-4 0 4 1-4 0 4 1-4 0 5 1-5 0 6 1-6 0 4 1-5 0 5 1-4 0 5 1-5 0 5 1-5 0 5 1-6 0 6 1-8 0 8 1-5 0 5 1-7 0 6 1-6 0 6 1-4 0 5 1-6 0 5 1-4 0 6 1-6 0 5 1-5 0 5 1-7 0 6 1-4 0 6 1-7 0 6 1-5 0 4 1-6 0 7 1-5 0 5 1-5 0 4 1-5 0 5 1-4 0 4 1-5 0 5 1-4 0 4 1-4 0 4 1-4 0 4 1-4 0 6 1-7 0 5 1-5 0 5 1-5 0 5 1-4 0 5 1-5 0 5 1-6 0 5 1-4 0 4 1-6 0 7 1-8 0 7 1-6 0 6 1-6 0 6 1-4 0 4 1-6 0 6 1-4 0 7 1-8 0 5 1-4 0 5 1-5 0 4 1-4 0 4 1-6 0 6 1-5 0 5 1-4 0 5 1-5 0 4 1-4 0 5 1-5 0 4 1-4 0 4 1-4 0 4 1-4 0 5 1-5 0 4 1-4 0 5 1-5 0 5 1-6 0 5 1-4 0 5 1-5 0 4 1-4 0 4 1-4 0 4 1-4 0 5 1-5 0 5 1-5 0 5 1-7 0 7 1-6 0 6 1-7 0 8 1-7 0 6 1-5 0 4 1-5 0 5 1-5 0 5 1-4 0 4 1-6 0 6 1-5 0 7 1-6 0 4 1-4 0 5 1-7 0 7 1-5 0 4 1-4 0 4 1-6 0 6 1-4 0 4 1-4 0 5 1-6 0 5 1-4 0 5 1-5 0 5 1-5 0 6 1-8 0 6 1-4 0 4 1-4 0 4 1-7 0 8 1-6 0 5 1-6 0 7 1-5 0 6 1-6 0 4 1-4 0 7 1-7 0 4 1-5 0 5 1-5 0 6 1-6 0 5 1-4 0 4 1-4 0 4 1-4 0 5 1-5 0 4 1-5 0 5 1-4 0 4 1-4 0 6 1-6 0 4 1-4 0 4 1-4 0 4 1-4 0 4 1-5 0 6 1-5 0 4 1-4 0 5 1-5 0 5 1-5 0 4 1-5 0 7 1-6 0 6 1-6 0 6 1-6 0 5 1-5 0 4 1-4 0 4 1-4 0 5 1-5 0 4 1-4 0 4 1-4 0 4 1-4 0 4 1-4 0 5 1-5 0 4 1-4 0 4 1-4 0 4 1-4 0 5 1-8 0 7 1-4 0 5 1-7 0 6 1-4 0 4 1-4 0 4 1-5 0 6 1-5 0 4 1-4 0 4 1-4 0 5 1-5 0 6 1-6 0 5 1-7 0 6 1-5 0 5 1-4 0 4 1-5 0 5 1-4 0 5 1-8 0 8 1-5 0 6 1-6 0 5 1-5 0 7 1-7 0 6 1-7 0 5 1-6 0 6 1-5 0 5 1-5 0 5 1-4 0 5 1-5 0 4 1-5 0 5 1-4 0 4 1-4 0 5 1-7 0 6 1-6 0 7 1-5 0 5 1-5 0 4 1-4 0 5 1-5 0 4 1-5 0 5 1-4 0 4 1-7 0 7 1-5 0 5 1-7 0 8 1-5 0 5 1-5 0 5 1-5 0 4 1-5 0 5 1-4 0 4 1-5 0 6 1-5 0 5 1-5 0 4 1-4 0 4 1-4 0 5 1-5 0 4 1-4 0 5 1-6 0 5 1-4 0 4 1-5 0 6 1-5 0 4 1-4 0 4 1-6 0 6 1-4 0 6 1-6 0 4 1-4 0 4 1-5 0 5 1-4 0 4 1-4 0 5 1-5 0 5 1-6 0 6 1-6 0 5 1-4 0 4 1-4 0 4 1-6 0 6 1-4 0 6 1-6 0 6 1-6 0 4 1-4 0 4 1-4 0 4 1-6 0 6 1-5 0 6 1-5 0 4 1-4 0 4 1-4 0 4 1-4 0 4 1-4 0 4 1-6 0 6 1-5 0 5 1-5 0 6 1-5 0 4 1-5 0 5 1-5 0 5 1-4 0 5 1-5 0 5 1-8 0 7 1-5 0 7 1-6 0 4 1-5 0 5 1-4 0 5 1-5 0 4 1-5 0 6 1-5 0 4 1-4 0 4 1-4 0 5 1-6 0 5 1-7 0 7 1-5 0 5 1-6 0 7 1-6 0 7 1-7 0 6 1-6 0 6 1-8 0 9 1-8 0 8 1-8 0 8 1-7 0 6 1-5 0 4 1-4 0 5 1-5 0 4 1-4 0 4 1-4 0 5 1-7 0 6 1-7 0 7 1-5 0 6 1-5 0 4 1-7 0 7 1-4 0 5 1-5 0 6 1-6 0 4 1-6 0 6 1-7 0 7 1-4 0 4 1-4 0 4 1-5 0 5 1-6 0 6 1-5 0 6 1-5 0 5 1-5 0 4 1-6 0 6 1-5 0 5 1-5 0 6 1-5 0 4 1-4 0 5 1-6 0 5 1-4 0 4 1-6 0 6 1-5 0 5 1-4 0 4 1-4 0 6 1-8 0 6 1-5 0 5 1-5 0 5 1-6 0 7 1-5 0 4 1-5 0 5 1-6 0 7 1-6 0 5 1-4 0 4 1-4 0 4 1-4 0 4 1-6 0 8 1-9 0 9 1-7 0 7 1-6 0 4 1-4 0 4 1-4 0 4 1-6 0 7 1-5 0 4 1-6 0 6 1-5 0 5 1-4 0 4 1-4 0 5 1-5 0 5 1-6 0 6 1-7 0 6 1-4 0 5 1-6 0 6 1-5 0 4 1-4 0 6 1-6 0 5 1-5 0 5 1-6 0 5 1-5 0 5 1-4 0 4 1-4 0 5 1-5 0 4 1-5 0 5 1-4 0 5 1-5 0 4 1-4 0 4 1-4 0 4 1-5 0 5 1-5 0 5 1-6 0 6 1-5 0 6 1-6 0 5 1-4 0 5 1-7 0 7 1-6 0 5 1-5 0 5 1-4 0 4 1-5 0 5 1-4 0 4 1-5 0 5 1-4 0 4 1-4 0 4 1-4 0 4 1-6 0 6 1-4 0 4 1-5 0 6 1-5 0 5 1-7 0 6 1-4 0 6 1-8 0 6 1-6 0 7 1-5 0 4 1-4 0 5 1-5 0 4 1-4 0 4 1-5 0 7 1-6 0 4 1-4 0 4 1-4 0 5 1-5 0 4 1-4 0 4 1-4 0 6 1-6 0 6 1-6 0 4 1-5 0 5 1-4 0 4 1-4 0 5 1-5 0 6 1-6 0 5 1-6 0 6 1-5 0 4 1-4 0 4 1-4 0 4 1-4 0 5 1-5 0 4 1-4 0 4 1-4 0 4 1-5 0 5 1-4 0 5 1-5 0 6 1-7 0 5 1-4 0 6 1-7 0 6 1-5 0 6 1-6 0 7 1-7 0 4 1-4 0 4 1-6 0 6 1-5 0 6 1-5 0 4 1-4 0 5 1-5 0 6 1-7 0 5 1-4 0 4 1-4 0 4 1-4 0 5 1-5 0 4 1-4 0 4 1-4 0 4 1-4 0 4 1-4 0 4 1-5 0 6 1-5 0 4 1-5 0 6 1-8 0 7 1-6 0 6 1-4 0 6 1-6 0 4 1-4 0 6 1-6 0 6 1-6 0 5 1-5 0 5 1-5 0 5 1-5 0 4 1-4 0 5 1-6 0 6 1-5 0 4 1-4 0 4 1-4 0 5 1-5 0 5 1-5 0 5 1-5 0 4 1-4 0 4 1-5 0 5 1-5 0 5 1-5 0 5 1-4 0 6 1-6 0 4 1-4 0 4 1-5 0 5 1-4 0 4 1-4 0 7 1-8 0 5 1-6 0 6 1-4 0 5 1-5 0 5 1-6 0 5 1-6 0 6 1-5 0 5 1-4 0 4 1-4 0 5 1-7 0 6 1-4 0 4 1-4 0 5 1-5 0 5 1-5 0 4 1-4 0 5 1-5 0 5 1-7 0 7 1-7 0 7 1-6 0 8 1-10 0 9 1-8 0 8 1-9 0 9 1-7 0 6 1-8 0 8 1-7 0 9 1-9 0 9 1-10 0 10 1-10 0 9 1-7 0 7 1-7 0 6 1-26 0 38 1-18 0 17 1-17 0 17 1-20 0 23 1-39 0 38 1-35 0 29 1-16 0 14 1-12 0 11 1-11 0 8 1-8 0 8 1-11 0 10 1-7 0 8 1-8 0 8 1-9 0 8 1-7 0 12 1-11 0 9 1-12 0 12 1-12 0 16 1-16 0 13 1-11 0 8 1-8 0 10 1-9 0 7 1-8 0 7 1-6 0 7 1-8 0 8 1-9 0 9 1-7 0 9 1-10 0 7 1-7 0 7 1-8 0 9 1-7 0 5 1-5 0 5 1-4 0 4 1-4 0 5 1-7 0 6 1-7 0 7 1-4 0 4 1-4 0 5 1-7 0 7 1-6 0 5 1-7 0 7 1-5 0 5 1-5 0 5 1-4 0 4 1-4 0 4 1-4 0 4 1-4 0 4 1-4 0 5 1-5 0 4 1-5 0 5 1-5 0 5 1-6 0 7 1-5 0 4 1-4 0 4 1-4 0 4 1-5 0 5 1-4 0 4 1-4 0 4 1-4 0 5 1-5 0 5 1-6 0 6 1-5 0 6 1-8 0 6 1-5 0 5 1-4 0 5 1-5 0 4 1-4 0 4 1-4 0 5 1-5 0 5 1-6 0 5 1-4 0 4 1-5 0 5 1-4 0 5 1-5 0 4 1-5 0 5 1-5 0 5 1-4 0 5 1-6 0 5 1-4 0 4 1-4 0 5 1-5 0 4 1-4 0 4 1-4 0 5 1-5 0 4 1-5 0 5 1-5 0 5 1-4 0 4 1-4 0 4 1-5 0 6 1-5 0 4 1-6 0 6 1-5 0 6 1-6 0 7 1-7 0 5 1-5 0 6 1-8 0 8 1-6 0 6 1-6 0 5 1-5 0 5 1-4 0 4 1-4 0 5 1-6 0 5 1-5 0 6 1-5 0 4 1-5 0 5 1-5 0 5 1-4 0 5 1-5 0 6 1-7 0 5 1-5 0 5 1-4 0 4 1-4 0 4 1-4 0 4 1-4 0 4 1-4 0 4 1-5 0 7 1-6 0 5 1-6 0 5 1-4 0 5 1-5 0 5 1-6 0 5 1-4 0 4 1-6 0 7 1-6 0 5 1-6 0 7 1-5 0 4 1-5 0 6 1-5 0 4 1-4 0 4 1-4 0 5 1-6 0 5 1-4 0 4 1-4 0 4 1-4 0 4 1-4 0 5 1-6 0 6 1-5 0 5 1-6 0 5 1-5 0 6 1-5 0 4 1-4 0 4 1-5 0 5 1-4 0 4 1-5 0 6 1-6 0 5 1-5 0 5 1-5 0 5 1-4 0 4 1-5 0 6 1-6 0 5 1-5 0 7 1-7 0 6 1-5 0 5 1-5 0 4 1-4 0 4 1-4 0 5 1-5 0 5 1-6 0 6 1-5 0 4 1-5 0 6 1-5 0 4 1-5 0 5 1-4 0 4 1-4 0 4 1-4 0 6 1-9 0 9 1-10 0 8 1-4 0 8 1-10 0 10 1-12 0 10 1-7 0 5 1-5 0 5 1-4 0 4 1-4 0 4 1-4 0 4 1-5 0 5 1-4 0 7 1-7 0 4 1-4 0 4 1-5 0 5 1-4 0 4 1-4 0 6 1-6 0 4 1-5 0 5 1-4 0 4 1-4 0 5 1-5 0 4 1-6 0 7 1-5 0 5 1-6 0 7 1-7 0 6"/><path vector-effect="non-scaling-stroke" transform="translate(138.00 261.992) scale(1.001145 0.2500)" stroke="#0000ff" d="M0-3l0 5 1-4 0 4 1-4 0 5 1-6 0 5 1-4 0 4 1-4 0 4 1-4 0 4 1-4 0 4 1-4 0 4 1-4 0 4 1-4 0 4 1-6 0 6 1-4 0 5 1-5 0 5 1-5 0 6 1-6 0 4 1-4 0 4 1-5 0 5 1-4 0 4 1-4 0 4 1-4 0 4 1-4 0 4 1-4 0 4 1-4 0 6 1-7 0 5 1-4 0 4 1-4 0 4 1-4 0 4 1-4 0 4 1-4 0 4 1-4 0 4 1-4 0 4 1-4 0 4 1-4 0 4 1-4 0 4 1-6 0 7 1-7 0 8 1-7 0 7 1-9 0 9 1-7 0 6 1-6 0 5 1-4 0 4 1-4 0 4 1-5 0 5 1-5 0 6 1-6 0 6 1-8 0 8 1-7 0 8 1-8 0 7 1-6 0 5 1-4 0 4 1-4 0 6 1-6 0 4 1-5 0 6 1-5 0 4 1-4 0 4 1-4 0 4 1-7 0 7 1-4 0 4 1-5 0 5 1-4 0 4 1-4 0 4 1-4 0 4 1-6 0 6 1-4 0 6 1-6 0 4 1-4 0 4 1-4 0 4 1-4 0 5 1-5 0 4 1-4 0 4 1-4 0 4 1-4 0 4 1-4 0 4 1-6 0 6 1-5 0 6 1-6 0 7 1-9 0 9 1-7 0 7 1-7 0 6 1-7 0 8 1-7 0 6 1-5 0 4 1-4 0 4 1-4 0 4 1-4 0 4 1-4 0 6 1-6 0 4 1-6 0 6 1-4 0 5 1-5 0 6 1-6 0 5 1-5 0 7 1-7 0 4 1-4 0 4 1-4 0 6 1-6 0 4 1-4 0 4 1-4 0 4 1-5 0 5 1-4 0 4 1-4 0 4 1-4 0 4 1-4 0 4 1-4 0 4 1-4 0 4 1-4 0 4 1-4 0 4 1-6 0 6 1-4 0 4 1-4 0 5 1-5 0 5 1-5 0 4 1-6 0 7 1-6 0 5 1-4 0 4 1-4 0 5 1-5 0 5 1-5 0 6 1-6 0 4 1-5 0 5 1-4 0 4 1-4 0 4 1-4 0 4 1-5 0 5 1-3 0 4 1-3 0 4 1-5 0 5 1-8 0 7 1-6 0 4 1-6 0 6 1-8 0 7 1-5 0 5 1-4 0 5 1-4 0 5 1-3 0 6 1-6 0 5 1-5 0 6 1-6 0 6 1-7 0 5 1-5 0 4 1-4 0 4 1-4 0 4 1-4 0 4 1-5 0 4 1-4 0 4 1-3 0 4 1-3 0 3 1-3 0 4 1-4 0 4 1-5 0 7 1-9 0 5 1-6 0 6 1-6 0 7 1-6 0 8 1-5 0 8 1-8 0 8 1-9 0 8 1-9 0 5 1-7 0 5 1-4 0 4 1-3 0 4 1-3 0 4 1-3 0 4 1-3 0 4 1-6 0 5 1-5 0 4 1-4 0 3 1-4 0 5 1-4 0 3 1-3 0 4 1-4 0 4 1-5 0 6 1-6 0 6 1-7 0 9 1-8 0 9 1-8 0 8 1-9 0 7 1-7 0 6 1-7 0 7 1-8 0 7 1-8 0 8 1-8 0 8 1-8 0 8 1-6 0 8 1-5 0 5 1-4 0 4 1-4 0 5 1-6 0 5 1-6 0 5 1-8 0 7 1-5 0 5 1-7 0 6 1-3 0 5 1-5 0 5 1-5 0 4 1-5 0 5 1-4 0 7 1-7 0 4 1-5 0 5 1-5 0 7 1-6 0 4 1-3 0 4 1-4 0 6 1-5 0 4 1-5 0 4 1-7 0 6 1-7 0 5 1-4 0 3 1-3 0 4 1-2 0 4 1-3 0 5 1-5 0 5 1-5 0 4 1-5 0 5 1-8 0 7 1-10 0 7 1-10 0 7 1-5 0 9 1-3 0 9 1-4 0 8 1-6 0 7 1-10 0 8 1-11 0 7 1-8 0 5 1-5 0 5 1-1 0 4 1-4 0 4 1-8 0 4 1-6 0 6 1-4 0 4 1-3 0 5 1-4 0 4 1-5 0 5 1-5 0 3 1-5 0 5 1-6 0 6 1-3 0 4 1-2 0 4 1-3 0 4 1-4 0 4 1-6 0 4 1-7 0 4 1-7 0 5 1-4 0 4 1-2 0 4 1-1 0 4 1-2 0 4 1-5 0 4 1-6 0 6 1-7 0 4 1-4 0 4 1-3 0 4 1-4 0 4 1-3 0 4 1-4 0 5 1-7 0 4 1-6 0 4 1-2 0 6 1-2 0 4 1-5 0 6 1-8 0 4 1-8 0 4 1-4 0 7 1-4 0 5 1-1 0 4 1-4 0 4 1-6 0 4 1-6 0 4 1-5 0 5 1-4 0 4 1-3 0 4 1-4 0 4 1-3 0 7 1-6 0 4 1-5 0 5 1-6 0 4 1-6 0 6 1-8 0 4 1-3 0 4 1-1 0 4 1-1 0 5 1-4 0 4 1-8 0 5 1-8 0 5 1-5 0 5 1-2 0 4 1-2 0 3 1-5 0 4 1-7 0 6 1-4 0 4 1-3 0 4 1-3 0 5 1-6 0 5 1-6 0 5 1-5 0 5 1-5 0 4 1-3 0 4 1-2 0 6 1-6 0 4 1-5 0 4 1-8 0 6 1-5 0 4 1-3 0 5 1-5 0 7 1-5 0 5 1-7 0 5 1-4 0 3 1-4 0 6 1-6 0 7 1-6 0 7 1-7 0 4 1-4 0 5 1-4 0 5 1-8 0 6 1-5 0 4 1-4 0 4 1-5 0 4 1-3 0 4 1-2 0 4 1-4 0 5 1-3 0 5 1-6 0 4 1-5 0 4 1-6 0 4 1-5 0 5 1-5 0 4 1-3 0 4 1-4 0 5 1-3 0 5 1-6 0 5 1-6 0 5 1-4 0 5 1-6 0 5 1-6 0 6 1-4 0 5 1-4 0 4 1-6 0 7 1-8 0 7 1-8 0 8 1-9 0 8 1-6 0 9 1-6 0 6 1-5 0 5 1-6 0 5 1-8 0 6 1-7 0 6 1-8 0 9 1-7 0 7 1-5 0 6 1-5 0 7 1-6 0 5 1-5 0 4 1-7 0 7 1-6 0 6 1-6 0 7 1-7 0 5 1-5 0 5 1-5 0 6 1-6 0 8 1-7 0 8 1-7 0 7 1-8 0 7 1-8 0 5 1-6 0 4 1-6 0 6 1-3 0 4 1-2 0 4 1-3 0 4 1-5 0 6 1-7 0 4 1-5 0 4 1-4 0 6 1-5 0 4 1-3 0 4 1-5 0 5 1-5 0 6 1-6 0 4 1-5 0 6 1-6 0 5 1-4 0 5 1-4 0 4 1-4 0 6 1-9 0 9 1-9 0 8 1-10 0 8 1-8 0 7 1-6 0 7 1-7 0 7 1-3 0 4 1-5 0 5 1-4 0 4 1-4 0 4 1-4 0 3 1-4 0 4 1-5 0 5 1-6 0 6 1-6 0 8 1-8 0 8 1-8 0 8 1-7 0 8 1-7 0 5 1-6 0 4 1-4 0 6 1-8 0 7 1-4 0 7 1-7 0 8 1-8 0 7 1-9 0 5 1-6 0 4 1-2 0 3 1-3 0 5 1-2 0 4 1-5 0 7 1-8 0 4 1-6 0 5 1-4 0 4 1-3 0 4 1-4 0 4 1-4 0 4 1-4 0 4 1-3 0 4 1-4 0 3 1-4 0 5 1-5 0 4 1-5 0 4 1-5 0 4 1-3 0 4 1-3 0 5 1-4 0 4 1-5 0 7 1-5 0 6 1-7 0 4 1-6 0 5 1-6 0 5 1-5 0 6 1-4 0 4 1-3 0 4 1-4 0 4 1-5 0 6 1-7 0 5 1-5 0 6 1-5 0 4 1-4 0 5 1-4 0 4 1-5 0 5 1-6 0 4 1-5 0 5 1-5 0 6 1-4 0 4 1-3 0 4 1-2 0 3 1-5 0 5 1-5 0 4 1-6 0 5 1-6 0 5 1-5 0 6 1-6 0 7 1-6 0 5 1-5 0 6 1-7 0 7 1-7 0 8 1-7 0 7 1-7 0 6 1-6 0 6 1-5 0 4 1-4 0 4 1-4 0 4 1-4 0 4 1-4 0 4 1-4 0 4 1-4 0 4 1-4 0 4 1-4 0 4 1-4 0 4 1-4 0 4 1-4 0 4 1-4 0 6 1-6 0 4 1-4 0 4 1-7 0 7 1-5 0 5 1-6 0 6 1-4 0 7 1-7 0 4 1-4 0 4 1-4 0 4 1-5 0 5 1-4 0 5 1-5 0 7 1-7 0 4 1-4 0 4 1-6 0 6 1-4 0 4 1-4 0 5 1-5 0 4 1-4 0 5 1-5 0 4 1-4 0 4 1-6 0 6 1-4 0 5 1-5 0 4 1-5 0 5 1-4 0 4 1-4 0 4 1-5 0 5 1-4 0 4 1-4 0 4 1-4 0 4 1-4 0 6 1-6 0 4 1-4 0 4 1-4 0 4 1-4 0 4 1-4 0 5 1-7 0 6 1-4 0 4 1-4 0 6 1-6 0 4 1-4 0 4 1-4 0 4 1-4 0 6 1-6 0 4 1-5 0 5 1-4 0 4 1-4 0 4 1-4 0 4 1-5 0 5 1-6 0 6 1-7 0 7 1-4 0 4 1-4 0 4 1-4 0 4 1-7 0 7 1-4 0 4 1-6 0 6 1-4 0 4 1-4 0 4 1-4 0 6 1-6 0 4 1-4 0 4 1-4 0 4 1-4 0 4 1-4 0 6 1-6 0 7 1-7 0 4 1-4 0 4 1-4 0 4 1-4 0 4 1-4 0 4 1-4 0 4 1-4 0 4 1-4 0 4 1-6 0 6 1-4 0 5 1-5 0 4 1-4 0 4 1-4 0 4 1-4 0 4 1-4 0 4 1-6 0 6 1-4 0 4 1-4 0 4 1-4 0 4 1-4 0 5 1-5 0 4 1-5 0 5 1-4 0 4 1-4 0 4 1-4 0 4 1-4 0 4 1-5 0 5 1-4 0 4 1-4 0 4 1-4 0 4 1-4 0 4 1-5 0 5 1-4 0 4 1-4 0 4 1-4 0 4 1-4 0 4 1-4 0 4 1-6 0 6 1-4 0 4 1-4 0 4 1-4 0 4 1-5 0 6 1-9 0 10 1-7 0 6 1-5 0 4 1-4 0 4 1-4 0 4 1-4 0 4 1-4 0 6 1-6 0 4 1-4 0 4 1-4 0 4 1-4 0 4 1-4 0 5 1-5 0 4 1-4 0 5 1-5 0 4 1-4 0 4 1-4 0 4 1-4 0 4 1-4 0 4 1-4 0 4 1-4 0 4 1-6 0 6 1-4 0 6 1-9 0 7 1-5 0 5 1-4 0 4 1-4 0 4 1-4 0 4 1-6 0 6 1-4 0 4 1-4 0 4 1-4 0 4 1-4 0 4 1-4 0 5 1-6 0 7 1-7 0 7 1-7 0 8 1-8 0 7 1-7 0 7 1-6 0 5 1-5 0 4 1-4 0 4 1-4 0 5 1-6 0 6 1-8 0 8 1-6 0 8 1-7 0 4 1-4 0 4 1-4 0 4 1-5 0 5 1-4 0 6 1-6 0 6 1-6 0 4 1-4 0 5 1-5 0 4 1-4 0 4 1-6 0 6 1-5 0 5 1-4 0 4 1-4 0 4 1-4 0 4 1-4 0 4 1-5 0 5 1-4 0 4 1-4 0 4 1-4 0 4 1-4 0 4 1-4 0 4 1-4 0 4 1-5 0 5 1-4 0 4 1-4 0 4 1-5 0 5 1-4 0 4 1-4 0 4 1-5 0 5 1-5 0 5 1-5 0 5 1-4 0 4 1-4 0 5 1-5 0 4 1-6 0 6 1-4 0 4 1-4 0 4 1-4 0 4 1-4 0 5 1-5 0 4 1-5 0 5 1-6 0 6 1-6 0 6 1-4 0 5 1-5 0 5 1-8 0 7 1-4 0 4 1-5 0 5 1-5 0 5 1-4 0 4 1-4 0 5 1-5 0 4 1-4 0 4 1-4 0 4 1-6 0 6 1-5 0 6 1-7 0 7 1-6 0 6 1-6 0 8 1-8 0 6 1-5 0 4 1-4 0 4 1-4 0 4 1-6 0 6 1-4 0 5 1-5 0 4 1-4 0 6 1-6 0 4 1-4 0 4 1-4 0 4 1-4 0 4 1-4 0 4 1-4 0 4 1-4 0 4 1-4 0 4 1-4 0 4 1-4 0 4 1-4 0 4 1-4 0 5 1-5 0 4 1-6 0 6 1-4 0 5 1-6 0 7 1-8 0 8 1-7 0 6 1-6 0 6 1-6 0 8 1-8 0 8 1-8 0 6 1-7 0 8 1-7 0 6 1-5 0 4 1-4 0 5 1-6 0 5 1-4 0 4 1-4 0 4 1-4 0 4 1-4 0 4 1-4 0 4 1-4 0 4 1-5 0 5 1-4 0 6 1-6 0 4 1-4 0 4 1-5 0 6 1-8 0 9 1-7 0 6 1-6 0 5 1-4 0 4 1-4 0 4 1-5 0 6 1-7 0 9 1-10 0 10 1-8 0 7 1-8 0 7 1-6 0 5 1-4 0 4 1-4 0 4 1-4 0 4 1-4 0 4 1-4 0 6 1-6 0 4 1-4 0 6 1-6 0 4 1-4 0 5 1-5 0 4 1-4 0 4 1-4 0 4 1-4 0 4 1-4 0 4 1-6 0 6 1-4 0 4 1-4 0 4 1-6 0 6 1-5 0 5 1-4 0 4 1-4 0 4 1-4 0 4 1-4 0 6 1-6 0 4 1-4 0 4 1-4 0 4 1-4 0 4 1-4 0 5 1-5 0 4 1-4 0 4 1-4 0 4 1-5 0 5 1-5 0 7 1-6 0 4 1-4 0 4 1-4 0 4 1-4 0 4 1-4 0 4 1-4 0 4 1-4 0 4 1-4 0 4 1-5 0 5 1-4 0 4 1-4 0 4 1-4 0 4 1-4 0 4 1-5 0 6 1-7 0 8 1-7 0 5 1-5 0 7 1-6 0 5 1-5 0 6 1-6 0 4 1-4 0 4 1-4 0 4 1-4 0 6 1-6 0 6 1-6 0 6 1-6 0 6 1-6 0 4 1-4 0 4 1-4 0 6 1-8 0 6 1-4 0 4 1-4 0 5 1-5 0 4 1-4 0 4 1-5 0 5 1-6 0 6 1-4 0 4 1-5 0 5 1-5 0 5 1-4 0 4 1-5 0 5 1-4 0 4 1-4 0 4 1-6 0 6 1-4 0 4 1-4 0 4 1-4 0 4 1-4 0 4 1-4 0 4 1-6 0 6 1-5 0 5 1-7 0 7 1-4 0 4 1-4 0 4 1-4 0 4 1-4 0 4 1-4 0 4 1-4 0 4 1-4 0 4 1-4 0 4 1-4 0 4 1-4 0 4 1-4 0 4 1-4 0 4 1-4 0 4 1-5 0 6 1-5 0 4 1-5 0 5 1-4 0 4 1-4 0 4 1-4 0 6 1-6 0 4 1-4 0 6 1-6 0 4 1-4 0 4 1-4 0 6 1-6 0 4 1-4 0 4 1-5 0 6 1-5 0 4 1-4 0 4 1-6 0 6 1-4 0 4 1-6 0 6 1-4 0 4 1-6 0 6 1-7 0 8 1-5 0 5 1-5 0 4 1-4 0 4 1-4 0 4"/><path vector-effect="non-scaling-stroke" transform="translate(138.00 293.535) scale(1.001145 0.2500)" stroke="#008000" d="M0-2l0 4 1-4 0 4 1-4 0 4 1-4 0 4 1-4 0 4 1-5 0 5 1-4 0 4 1-6 0 6 1-4 0 4 1-4 0 4 1-4 0 4 1-4 0 4 1-4 0 4 1-4 0 5 1-6 0 5 1-4 0 4 1-4 0 4 1-4 0 4 1-4 0 6 1-7 0 5 1-4 0 4 1-4 0 4 1-4 0 4 1-6 0 6 1-4 0 4 1-4 0 6 1-6 0 4 1-4 0 5 1-7 0 7 1-6 0 6 1-5 0 6 1-6 0 4 1-4 0 4 1-4 0 4 1-4 0 6 1-7 0 7 1-6 0 5 1-5 0 4 1-6 0 6 1-4 0 4 1-4 0 4 1-4 0 4 1-4 0 4 1-4 0 4 1-5 0 5 1-4 0 6 1-6 0 4 1-5 0 5 1-7 0 7 1-6 0 6 1-4 0 4 1-4 0 5 1-5 0 4 1-4 0 5 1-5 0 4 1-4 0 4 1-5 0 5 1-4 0 4 1-4 0 4 1-4 0 4 1-4 0 4 1-4 0 4 1-4 0 4 1-6 0 6 1-4 0 4 1-4 0 4 1-4 0 4 1-4 0 4 1-4 0 4 1-4 0 4 1-4 0 4 1-6 0 6 1-4 0 4 1-4 0 5 1-5 0 6 1-6 0 4 1-4 0 4 1-4 0 4 1-4 0 6 1-8 0 6 1-4 0 5 1-6 0 5 1-4 0 5 1-7 0 6 1-4 0 4 1-4 0 4 1-4 0 5 1-5 0 4 1-6 0 6 1-4 0 4 1-4 0 6 1-6 0 4 1-5 0 5 1-4 0 4 1-4 0 5 1-5 0 4 1-4 0 4 1-4 0 4 1-4 0 6 1-6 0 6 1-6 0 4 1-4 0 5 1-5 0 5 1-6 0 5 1-6 0 6 1-4 0 4 1-4 0 4 1-4 0 4 1-4 0 4 1-6 0 6 1-6 0 6 1-4 0 4 1-4 0 4 1-4 0 4 1-4 0 6 1-6 0 4 1-4 0 4 1-4 0 5 1-5 0 5 1-7 0 6 1-4 0 4 1-4 0 6 1-7 0 5 1-4 0 4 1-4 0 4 1-7 0 7 1-5 0 5 1-4 0 4 1-4 0 5 1-5 0 4 1-4 0 5 1-5 0 4 1-4 0 4 1-4 0 4 1-4 0 5 1-5 0 4 1-5 0 5 1-4 0 4 1-4 0 6 1-6 0 4 1-4 0 4 1-4 0 4 1-4 0 4 1-4 0 4 1-4 0 4 1-4 0 4 1-5 0 5 1-5 0 5 1-4 0 4 1-4 0 6 1-6 0 4 1-4 0 5 1-5 0 6 1-6 0 4 1-4 0 4 1-4 0 4 1-4 0 4 1-4 0 4 1-4 0 4 1-5 0 5 1-4 0 4 1-4 0 7 1-7 0 4 1-4 0 4 1-4 0 4 1-4 0 4 1-4 0 5 1-7 0 7 1-7 0 8 1-6 0 5 1-5 0 4 1-4 0 4 1-4 0 4 1-4 0 6 1-8 0 6 1-4 0 4 1-4 0 4 1-4 0 4 1-4 0 4 1-4 0 4 1-4 0 4 1-4 0 4 1-4 0 7 1-7 0 6 1-8 0 6 1-4 0 4 1-4 0 4 1-4 0 6 1-6 0 4 1-4 0 4 1-4 0 5 1-5 0 4 1-6 0 6 1-4 0 4 1-4 0 4 1-4 0 4 1-4 0 4 1-7 0 7 1-4 0 5 1-5 0 4 1-4 0 4 1-4 0 5 1-5 0 4 1-7 0 7 1-4 0 4 1-5 0 5 1-4 0 4 1-4 0 4 1-5 0 7 1-9 0 9 1-7 0 6 1-5 0 4 1-4 0 4 1-4 0 4 1-4 0 4 1-4 0 4 1-4 0 4 1-4 0 4 1-4 0 4 1-4 0 4 1-4 0 4 1-6 0 6 1-6 0 6 1-6 0 6 1-4 0 4 1-4 0 6 1-7 0 5 1-4 0 4 1-4 0 4 1-5 0 5 1-4 0 5 1-5 0 5 1-5 0 4 1-4 0 4 1-4 0 4 1-4 0 4 1-4 0 4 1-4 0 4 1-4 0 4 1-4 0 4 1-4 0 4 1-6 0 6 1-4 0 4 1-4 0 5 1-6 0 6 1-6 0 6 1-6 0 6 1-5 0 4 1-4 0 4 1-4 0 4 1-4 0 4 1-5 0 5 1-4 0 5 1-5 0 4 1-4 0 6 1-6 0 4 1-4 0 4 1-4 0 4 1-4 0 4 1-4 0 5 1-5 0 5 1-5 0 4 1-4 0 6 1-7 0 5 1-4 0 6 1-6 0 4 1-4 0 4 1-4 0 4 1-4 0 6 1-6 0 4 1-4 0 5 1-5 0 5 1-5 0 4 1-5 0 5 1-4 0 4 1-4 0 4 1-4 0 4 1-4 0 4 1-4 0 4 1-4 0 6 1-6 0 4 1-4 0 5 1-5 0 4 1-4 0 6 1-8 0 6 1-4 0 6 1-7 0 5 1-4 0 6 1-6 0 4 1-4 0 4 1-6 0 6 1-4 0 4 1-4 0 6 1-8 0 6 1-4 0 4 1-6 0 6 1-4 0 4 1-4 0 4 1-4 0 4 1-4 0 4 1-4 0 4 1-4 0 6 1-6 0 4 1-4 0 4 1-4 0 4 1-4 0 4 1-4 0 4 1-4 0 4 1-6 0 6 1-4 0 4 1-4 0 4 1-6 0 6 1-4 0 4 1-4 0 4 1-4 0 4 1-4 0 4 1-4 0 4 1-4 0 4 1-5 0 5 1-5 0 5 1-4 0 4 1-4 0 4 1-5 0 5 1-4 0 5 1-5 0 4 1-4 0 4 1-5 0 5 1-4 0 4 1-4 0 6 1-6 0 4 1-5 0 5 1-4 0 4 1-5 0 5 1-4 0 4 1-4 0 4 1-4 0 4 1-4 0 4 1-6 0 6 1-4 0 4 1-5 0 7 1-6 0 5 1-5 0 4 1-4 0 4 1-5 0 5 1-5 0 5 1-4 0 5 1-5 0 4 1-4 0 4 1-4 0 4 1-4 0 4 1-5 0 5 1-5 0 5 1-5 0 5 1-4 0 4 1-4 0 4 1-4 0 4 1-4 0 6 1-6 0 6 1-6 0 4 1-4 0 4 1-4 0 4 1-4 0 4 1-5 0 5 1-4 0 5 1-5 0 5 1-5 0 4 1-5 0 5 1-4 0 4 1-4 0 4 1-4 0 4 1-4 0 4 1-4 0 6 1-6 0 4 1-4 0 4 1-4 0 4 1-4 0 4 1-4 0 5 1-5 0 4 1-4 0 4 1-4 0 4 1-5 0 5 1-4 0 4 1-6 0 6 1-4 0 4 1-4 0 4 1-4 0 4 1-6 0 6 1-5 0 5 1-4 0 4 1-4 0 6 1-6 0 4 1-4 0 4 1-6 0 6 1-4 0 7 1-7 0 4 1-4 0 4 1-6 0 6 1-4 0 4 1-4 0 4 1-4 0 4 1-5 0 5 1-4 0 4 1-4 0 4 1-4 0 5 1-5 0 4 1-5 0 5 1-4 0 4 1-4 0 4 1-4 0 6 1-6 0 5 1-5 0 6 1-7 0 5 1-4 0 4 1-4 0 4 1-4 0 5 1-5 0 6 1-6 0 4 1-4 0 4 1-4 0 4 1-5 0 4 1-3 0 4 1-4 0 4 1-5 0 5 1-6 0 6 1-4 0 5 1-5 0 4 1-4 0 4 1-4 0 4 1-6 0 6 1-4 0 4 1-6 0 6 1-4 0 6 1-6 0 4 1-4 0 4 1-4 0 6 1-6 0 4 1-4 0 4 1-5 0 7 1-6 0 4 1-4 0 5 1-5 0 5 1-7 0 6 1-4 0 5 1-7 0 6 1-4 0 6 1-6 0 4 1-4 0 4 1-4 0 4 1-4 0 4 1-4 0 5 1-7 0 6 1-4 0 4 1-4 0 4 1-5 0 5 1-5 0 6 1-5 0 4 1-4 0 4 1-4 0 6 1-6 0 4 1-4 0 4 1-4 0 4 1-4 0 6 1-6 0 6 1-6 0 4 1-4 0 4 1-6 0 6 1-4 0 4 1-5 0 5 1-4 0 5 1-6 0 5 1-4 0 4 1-4 0 4 1-4 0 4 1-4 0 4 1-4 0 4 1-4 0 6 1-6 0 4 1-6 0 6 1-4 0 4 1-4 0 4 1-4 0 4 1-6 0 6 1-4 0 4 1-5 0 5 1-4 0 4 1-4 0 4 1-4 0 4 1-4 0 4 1-4 0 4 1-4 0 4 1-4 0 5 1-5 0 5 1-5 0 4 1-4 0 4 1-4 0 4 1-5 0 5 1-4 0 4 1-4 0 4 1-4 0 4 1-4 0 4 1-4 0 4 1-4 0 4 1-4 0 4 1-4 0 4 1-4 0 4 1-4 0 4 1-4 0 6 1-6 0 4 1-4 0 4 1-5 0 5 1-4 0 4 1-4 0 4 1-4 0 4 1-5 0 5 1-5 0 5 1-4 0 4 1-4 0 6 1-6 0 4 1-4 0 4 1-4 0 4 1-4 0 4 1-4 0 4 1-4 0 7 1-7 0 4 1-4 0 4 1-4 0 4 1-4 0 5 1-5 0 4 1-4 0 4 1-4 0 4 1-4 0 4 1-4 0 6 1-6 0 4 1-5 0 5 1-5 0 5 1-4 0 4 1-5 0 5 1-4 0 4 1-4 0 4 1-4 0 4 1-4 0 6 1-6 0 4 1-5 0 5 1-4 0 4 1-5 0 5 1-4 0 4 1-4 0 4 1-4 0 6 1-6 0 5 1-5 0 4 1-4 0 4 1-5 0 7 1-8 0 6 1-4 0 4 1-4 0 4 1-4 0 4 1-6 0 7 1-5 0 6 1-6 0 4 1-4 0 4 1-4 0 5 1-5 0 4 1-4 0 4 1-4 0 4 1-4 0 5 1-5 0 4 1-4 0 6 1-6 0 4 1-4 0 4 1-4 0 4 1-4 0 4 1-4 0 4 1-4 0 4 1-6 0 6 1-4 0 4 1-4 0 4 1-4 0 4 1-4 0 5 1-5 0 5 1-5 0 6 1-6 0 4 1-4 0 4 1-4 0 5 1-5 0 4 1-6 0 6 1-4 0 4 1-4 0 5 1-5 0 4 1-4 0 4 1-4 0 4 1-4 0 4 1-4 0 4 1-4 0 4 1-5 0 5 1-6 0 6 1-6 0 6 1-4 0 4 1-4 0 4 1-4 0 4 1-5 0 5 1-5 0 5 1-4 0 6 1-6 0 4 1-4 0 4 1-4 0 4 1-4 0 4 1-4 0 5 1-6 0 5 1-7 0 7 1-5 0 7 1-6 0 4 1-5 0 5 1-4 0 4 1-4 0 4 1-4 0 4 1-4 0 4 1-4 0 4 1-6 0 6 1-4 0 4 1-4 0 6 1-6 0 4 1-4 0 4 1-4 0 5 1-5 0 5 1-5 0 4 1-4 0 6 1-6 0 4 1-4 0 4 1-4 0 4 1-4 0 4 1-4 0 5 1-5 0 4 1-4 0 5 1-5 0 4 1-6 0 6 1-4 0 4 1-4 0 4 1-4 0 4 1-4 0 4 1-4 0 4 1-4 0 6 1-6 0 4 1-4 0 4 1-4 0 4 1-6 0 6 1-4 0 4 1-4 0 5 1-5 0 4 1-6 0 6 1-4 0 4 1-4 0 5 1-5 0 4 1-4 0 4 1-4 0 4 1-6 0 6 1-4 0 4 1-4 0 4 1-6 0 6 1-4 0 4 1-4 0 5 1-5 0 5 1-5 0 4 1-5 0 5 1-4 0 4 1-4 0 4 1-4 0 4 1-4 0 4 1-5 0 5 1-5 0 5 1-4 0 4 1-4 0 4 1-5 0 5 1-6 0 6 1-4 0 4 1-4 0 4 1-4 0 4 1-4 0 5 1-5 0 4 1-4 0 4 1-4 0 4 1-4 0 4 1-4 0 4 1-4 0 4 1-5 0 5 1-4 0 4 1-4 0 5 1-5 0 4 1-4 0 4 1-4 0 4 1-4 0 4 1-4 0 4 1-4 0 4 1-4 0 5 1-5 0 6 1-8 0 6 1-4 0 4 1-4 0 4 1-4 0 4 1-4 0 6 1-6 0 4 1-4 0 4 1-4 0 4 1-6 0 6 1-4 0 4 1-4 0 4 1-4 0 4 1-4 0 4 1-4 0 6 1-6 0 5 1-5 0 4 1-4 0 4 1-5 0 5 1-4 0 4 1-4 0 4 1-4 0 4 1-4 0 4 1-4 0 4 1-4 0 4 1-4 0 4 1-4 0 4 1-4 0 4 1-4 0 4 1-5 0 5 1-4 0 4 1-4 0 4 1-4 0 5 1-5 0 4 1-5 0 5 1-4 0 5 1-5 0 4 1-4 0 6 1-6 0 6 1-6 0 4 1-4 0 4 1-5 0 5 1-4 0 5 1-6 0 5 1-4 0 4 1-4 0 4 1-4 0 7 1-7 0 5 1-5 0 7 1-9 0 7 1-5 0 4 1-4 0 4 1-4 0 4 1-4 0 4 1-4 0 4 1-4 0 6 1-6 0 4 1-4 0 4 1-4 0 4 1-5 0 5 1-4 0 4 1-6 0 6 1-4 0 4 1-4 0 4 1-5 0 5 1-4 0 4 1-4 0 4 1-4 0 5 1-5 0 4 1-4 0 5 1-5 0 5 1-6 0 5 1-4 0 4 1-4 0 4 1-4 0 4 1-4 0 4 1-4 0 4 1-5 0 5 1-4 0 4 1-4 0 4 1-4 0 4 1-4 0 4 1-4 0 4 1-4 0 5 1-5 0 4 1-4 0 4 1-4 0 4 1-4 0 4 1-4 0 4 1-4 0 4 1-4 0 4 1-4 0 4 1-4 0 4 1-4 0 4 1-5 0 5 1-4 0 4 1-4 0 4 1-4 0 5 1-5 0 4 1-6 0 6 1-4 0 4 1-4 0 4 1-4 0 4 1-4 0 5 1-5 0 4 1-5 0 6 1-5 0 4 1-4 0 4 1-4 0 4 1-4 0 4 1-4 0 4 1-4 0 4 1-5 0 5 1-6 0 6 1-4 0 4 1-4 0 4 1-5 0 5 1-6 0 6 1-4 0 4 1-4 0 4 1-4 0 4 1-5 0 5 1-4 0 4 1-4 0 4 1-7 0 7 1-4 0 4 1-4 0 4 1-4 0 4 1-4 0 6 1-6 0 4 1-5 0 5 1-4 0 4 1-6 0 6 1-4 0 4 1-5 0 5 1-5 0 5 1-4 0 4 1-4 0 4 1-4 0 4 1-4 0 4 1-4 0 4 1-4 0 4 1-4 0 6 1-7 0 6 1-8 0 9 1-7 0 7 1-7 0 6 1-7 0 8 1-8 0 9 1-9 0 8 1-7 0 7 1-7 0 8 1-10 0 10 1-9 0 9 1-8 0 6 1-5 0 4 1-4 0 4 1-4 0 4 1-5 0 5 1-6 0 6 1-4 0 4 1-4 0 5 1-7 0 6 1-4 0 6 1-6 0 4 1-4 0 4 1-5 0 5 1-4 0 4 1-4 0 4 1-4 0 4 1-5 0 5 1-4 0 4 1-4 0 4 1-4 0 4 1-4 0 4 1-4 0 4 1-5 0 6 1-6 0 7 1-8 0 9 1-9 0 8 1-6 0 5"/><path vector-effect="non-scaling-stroke" transform="translate(138.00 325.078) scale(1.001145 0.2500)" stroke="#000000" d="M0-3l0 7 1-7 0 6 1-5 0 5 1-5 0 4 1-4 0 4 1-4 0 4 1-4 0 4 1-4 0 4 1-4 0 4 1-4 0 4 1-5 0 5 1-5 0 5 1-4 0 4 1-4 0 4 1-4 0 4 1-5 0 5 1-4 0 5 1-5 0 5 1-6 0 5 1-4 0 4 1-4 0 4 1-4 0 6 1-6 0 4 1-5 0 5 1-4 0 4 1-6 0 6 1-4 0 4 1-4 0 4 1-4 0 4 1-4 0 4 1-4 0 5 1-5 0 5 1-6 0 5 1-4 0 5 1-5 0 4 1-4 0 4 1-4 0 4 1-4 0 4 1-6 0 6 1-4 0 4 1-4 0 5 1-5 0 4 1-4 0 4 1-4 0 4 1-4 0 4 1-4 0 4 1-4 0 4 1-4 0 4 1-4 0 5 1-5 0 4 1-4 0 4 1-4 0 4 1-5 0 5 1-4 0 4 1-4 0 4 1-4 0 3 1-6 0 7 1-4 0 6 1-6 0 4 1-4 0 4 1-6 0 6 1-4 0 4 1-4 0 4 1-4 0 4 1-4 0 4 1-4 0 4 1-4 0 4 1-4 0 4 1-4 0 4 1-4 0 4 1-4 0 6 1-6 0 6 1-6 0 4 1-4 0 4 1-4 0 4 1-5 0 5 1-4 0 4 1-4 0 4 1-4 0 4 1-4 0 4 1-4 0 4 1-4 0 4 1-4 0 4 1-4 0 4 1-4 0 4 1-4 0 4 1-4 0 4 1-4 0 4 1-4 0 4 1-4 0 4 1-4 0 4 1-4 0 4 1-4 0 4 1-4 0 4 1-4 0 4 1-4 0 4 1-4 0 5 1-5 0 4 1-4 0 4 1-4 0 4 1-4 0 4 1-4 0 5 1-5 0 4 1-5 0 5 1-4 0 4 1-6 0 6 1-4 0 4 1-4 0 4 1-4 0 4 1-4 0 4 1-4 0 6 1-6 0 4 1-6 0 6 1-4 0 5 1-5 0 4 1-4 0 4 1-4 0 4 1-4 0 4 1-4 0 4 1-4 0 6 1-8 0 6 1-4 0 5 1-5 0 4 1-4 0 4 1-4 0 4 1-4 0 4 1-4 0 4 1-4 0 4 1-4 0 4 1-4 0 6 1-6 0 4 1-6 0 6 1-4 0 7 1-7 0 5 1-5 0 4 1-5 0 5 1-6 0 6 1-4 0 4 1-4 0 4 1-4 0 4 1-4 0 4 1-4 0 4 1-4 0 4 1-6 0 6 1-4 0 4 1-4 0 6 1-6 0 4 1-5 0 5 1-4 0 4 1-4 0 4 1-4 0 4 1-4 0 4 1-4 0 4 1-4 0 4 1-4 0 5 1-5 0 4 1-6 0 6 1-4 0 4 1-4 0 5 1-5 0 4 1-4 0 5 1-5 0 4 1-4 0 5 1-5 0 4 1-4 0 4 1-4 0 4 1-4 0 6 1-6 0 4 1-4 0 4 1-6 0 7 1-5 0 4 1-4 0 4 1-4 0 4 1-4 0 4 1-4 0 4 1-4 0 4 1-4 0 4 1-4 0 4 1-5 0 5 1-7 0 8 1-8 0 8 1-8 0 9 1-7 0 7 1-6 0 4 1-6 0 6 1-6 0 6 1-4 0 4 1-4 0 4 1-4 0 4 1-7 0 7 1-4 0 4 1-4 0 7 1-7 0 6 1-7 0 6 1-7 0 8 1-9 0 10 1-9 0 8 1-7 0 6 1-5 0 4 1-4 0 6 1-6 0 6 1-8 0 6 1-5 0 5 1-4 0 4 1-4 0 4 1-4 0 4 1-4 0 4 1-4 0 4 1-4 0 4 1-4 0 4 1-4 0 4 1-4 0 4 1-4 0 4 1-4 0 4 1-5 0 5 1-4 0 4 1-5 0 5 1-4 0 4 1-4 0 4 1-6 0 6 1-4 0 4 1-4 0 5 1-5 0 4 1-4 0 4 1-4 0 5 1-5 0 4 1-4 0 4 1-4 0 5 1-5 0 4 1-5 0 4 1-3 0 4 1-4 0 4 1-4 0 4 1-6 0 6 1-4 0 4 1-4 0 4 1-4 0 5 1-5 0 4 1-4 0 4 1-4 0 4 1-4 0 6 1-6 0 4 1-4 0 4 1-4 0 4 1-6 0 6 1-4 0 4 1-6 0 6 1-5 0 5 1-6 0 8 1-7 0 6 1-7 0 9 1-9 0 8 1-8 0 7 1-6 0 6 1-5 0 4 1-4 0 4 1-4 0 4 1-4 0 4 1-4 0 6 1-6 0 4 1-4 0 5 1-5 0 4 1-4 0 4 1-4 0 4 1-4 0 6 1-8 0 6 1-4 0 6 1-6 0 4 1-4 0 4 1-4 0 4 1-4 0 5 1-5 0 4 1-6 0 7 1-6 0 8 1-9 0 8 1-8 0 7 1-5 0 5 1-5 0 4 1-4 0 4 1-5 0 5 1-4 0 4 1-4 0 4 1-4 0 4 1-4 0 4 1-5 0 5 1-4 0 4 1-4 0 4 1-4 0 6 1-6 0 6 1-6 0 4 1-4 0 4 1-4 0 4 1-4 0 4 1-4 0 4 1-5 0 5 1-4 0 4 1-4 0 5 1-6 0 5 1-4 0 4 1-4 0 4 1-4 0 4 1-4 0 4 1-4 0 6 1-7 0 6 1-6 0 7 1-7 0 6 1-6 0 6 1-6 0 5 1-4 0 4 1-5 0 6 1-6 0 6 1-6 0 6 1-8 0 9 1-8 0 8 1-8 0 7 1-7 0 7 1-5 0 5 1-6 0 6 1-7 0 7 1-6 0 6 1-5 0 4 1-4 0 5 1-5 0 4 1-5 0 7 1-7 0 6 1-6 0 6 1-7 0 7 1-7 0 7 1-8 0 9 1-9 0 8 1-7 0 8 1-8 0 6 1-5 0 7 1-8 0 9 1-9 0 8 1-8 0 10 1-10 0 9 1-8 0 6 1-6 0 7 1-7 0 6 1-5 0 4 1-4 0 4 1-4 0 4 1-6 0 6 1-4 0 4 1-6 0 6 1-4 0 4 1-4 0 4 1-4 0 5 1-7 0 7 1-5 0 4 1-4 0 4 1-5 0 5 1-5 0 6 1-6 0 5 1-4 0 4 1-7 0 7 1-5 0 5 1-4 0 4 1-5 0 5 1-4 0 4 1-6 0 6 1-4 0 6 1-6 0 4 1-4 0 4 1-4 0 6 1-6 0 4 1-6 0 6 1-4 0 4 1-6 0 6 1-5 0 5 1-4 0 4 1-5 0 5 1-4 0 5 1-5 0 5 1-5 0 4 1-4 0 4 1-6 0 6 1-4 0 6 1-6 0 4 1-4 0 4 1-4 0 4 1-4 0 4 1-4 0 6 1-7 0 5 1-6 0 6 1-4 0 4 1-4 0 4 1-4 0 4 1-4 0 4 1-4 0 4 1-4 0 5 1-6 0 5 1-4 0 4 1-4 0 4 1-4 0 4 1-6 0 7 1-5 0 4 1-4 0 4 1-4 0 4 1-5 0 5 1-4 0 4 1-4 0 5 1-5 0 5 1-5 0 6 1-6 0 5 1-5 0 4 1-4 0 6 1-6 0 4 1-4 0 6 1-6 0 4 1-6 0 6 1-5 0 7 1-7 0 6 1-6 0 7 1-7 0 6 1-6 0 6 1-6 0 7 1-6 0 4 1-4 0 6 1-6 0 4 1-4 0 4 1-4 0 4 1-6 0 6 1-4 0 4 1-4 0 4 1-4 0 4 1-4 0 4 1-4 0 6 1-6 0 4 1-4 0 4 1-4 0 4 1-4 0 4 1-4 0 6 1-6 0 5 1-5 0 5 1-6 0 5 1-4 0 4 1-4 0 4 1-4 0 4 1-4 0 4 1-4 0 4 1-4 0 4 1-4 0 6 1-6 0 4 1-4 0 4 1-4 0 4 1-4 0 5 1-6 0 5 1-4 0 4 1-5 0 5 1-4 0 4 1-7 0 7 1-4 0 4 1-4 0 4 1-4 0 4 1-4 0 4 1-5 0 5 1-4 0 4 1-4 0 4 1-4 0 4 1-4 0 4 1-4 0 4 1-4 0 4 1-6 0 6 1-4 0 4 1-5 0 5 1-4 0 4 1-4 0 4 1-4 0 4 1-4 0 5 1-6 0 5 1-4 0 4 1-4 0 6 1-6 0 4 1-4 0 4 1-4 0 4 1-4 0 4 1-4 0 4 1-5 0 5 1-4 0 4 1-4 0 4 1-6 0 6 1-4 0 4 1-4 0 5 1-5 0 4 1-4 0 4 1-4 0 4 1-4 0 6 1-6 0 4 1-4 0 4 1-4 0 6 1-8 0 6 1-4 0 4 1-4 0 6 1-6 0 4 1-4 0 4 1-4 0 7 1-7 0 6 1-6 0 5 1-5 0 4 1-4 0 4 1-4 0 4 1-4 0 4 1-4 0 4 1-5 0 5 1-4 0 5 1-5 0 5 1-5 0 5 1-5 0 6 1-6 0 6 1-6 0 5 1-5 0 4 1-4 0 5 1-5 0 4 1-4 0 4 1-4 0 4 1-6 0 6 1-5 0 5 1-4 0 4 1-4 0 4 1-4 0 4 1-4 0 4 1-4 0 6 1-8 0 6 1-4 0 6 1-6 0 4 1-4 0 4 1-4 0 4 1-4 0 4 1-4 0 4 1-6 0 6 1-4 0 5 1-5 0 6 1-8 0 7 1-7 0 7 1-7 0 7 1-7 0 7 1-5 0 5 1-5 0 4 1-4 0 4 1-4 0 6 1-6 0 4 1-4 0 4 1-4 0 4 1-4 0 4 1-4 0 4 1-4 0 4 1-4 0 4 1-4 0 4 1-4 0 4 1-7 0 7 1-4 0 5 1-5 0 4 1-4 0 4 1-4 0 4 1-5 0 5 1-4 0 4 1-4 0 4 1-4 0 4 1-4 0 6 1-6 0 4 1-4 0 4 1-4 0 5 1-6 0 5 1-4 0 6 1-6 0 4 1-4 0 5 1-5 0 4 1-4 0 4 1-5 0 8 1-8 0 6 1-6 0 6 1-6 0 7 1-7 0 5 1-5 0 7 1-7 0 6 1-6 0 6 1-6 0 7 1-8 0 7 1-6 0 5 1-4 0 4 1-4 0 4 1-4 0 7 1-7 0 4 1-4 0 4 1-4 0 4 1-4 0 7 1-7 0 4 1-4 0 4 1-6 0 6 1-4 0 4 1-4 0 6 1-6 0 6 1-6 0 4 1-6 0 6 1-4 0 4 1-4 0 6 1-8 0 6 1-4 0 4 1-4 0 4 1-4 0 5 1-5 0 4 1-4 0 4 1-4 0 6 1-6 0 4 1-4 0 4 1-4 0 4 1-6 0 7 1-6 0 5 1-4 0 4 1-4 0 4 1-5 0 5 1-4 0 4 1-4 0 4 1-5 0 5 1-5 0 5 1-4 0 6 1-7 0 5 1-4 0 4 1-4 0 5 1-5 0 4 1-4 0 4 1-4 0 5 1-7 0 7 1-5 0 6 1-6 0 4 1-4 0 4 1-4 0 4 1-4 0 4 1-4 0 4 1-5 0 5 1-5 0 7 1-7 0 6 1-6 0 7 1-8 0 8 1-7 0 6 1-5 0 5 1-7 0 6 1-4 0 5 1-7 0 6 1-4 0 5 1-5 0 4 1-4 0 4 1-6 0 6 1-4 0 3 1-3 0 4 1-4 0 4 1-4 0 4 1-4 0 5 1-5 0 4 1-4 0 4 1-4 0 4 1-5 0 6 1-5 0 4 1-4 0 4 1-4 0 4 1-4 0 5 1-5 0 5 1-5 0 5 1-6 0 5 1-4 0 4 1-4 0 4 1-5 0 5 1-4 0 4 1-4 0 4 1-4 0 4 1-4 0 4 1-4 0 5 1-5 0 4 1-4 0 4 1-6 0 6 1-4 0 6 1-6 0 6 1-6 0 4 1-4 0 4 1-4 0 4 1-4 0 4 1-4 0 4 1-4 0 4 1-4 0 4 1-4 0 4 1-4 0 5 1-6 0 6 1-6 0 6 1-6 0 6 1-6 0 6 1-6 0 7 1-7 0 6 1-6 0 7 1-6 0 6 1-6 0 5 1-5 0 4 1-4 0 4 1-4 0 4 1-4 0 4 1-4 0 4 1-4 0 4 1-4 0 4 1-4 0 4 1-6 0 6 1-4 0 4 1-4 0 4 1-4 0 4 1-4 0 4 1-4 0 4 1-4 0 4 1-4 0 6 1-8 0 6 1-4 0 4 1-6 0 6 1-4 0 4 1-4 0 4 1-4 0 6 1-6 0 4 1-4 0 4 1-5 0 7 1-8 0 7 1-8 0 8 1-7 0 7 1-6 0 8 1-8 0 7 1-7 0 7 1-8 0 7 1-7 0 7 1-6 0 6 1-5 0 4 1-6 0 6 1-4 0 4 1-4 0 4 1-4 0 6 1-6 0 4 1-4 0 6 1-6 0 4 1-4 0 6 1-6 0 4 1-4 0 4 1-5 0 5 1-5 0 7 1-7 0 6 1-7 0 7 1-6 0 5 1-4 0 4 1-4 0 4 1-4 0 4 1-4 0 5 1-5 0 4 1-6 0 8 1-9 0 9 1-7 0 7 1-7 0 8 1-7 0 4 1-6 0 7 1-7 0 7 1-7 0 7 1-6 0 6 1-6 0 6 1-6 0 5 1-4 0 4 1-4 0 4 1-4 0 4 1-5 0 5 1-4 0 4 1-4 0 4 1-4 0 6 1-6 0 4 1-4 0 4 1-4 0 4 1-4 0 4 1-4 0 4 1-5 0 5 1-6 0 6 1-4 0 5 1-5 0 4 1-4 0 4 1-4 0 4 1-4 0 4 1-6 0 6 1-4 0 4 1-4 0 4 1-4 0 4 1-4 0 6 1-6 0 4 1-4 0 4 1-6 0 6 1-4 0 4 1-4 0 5 1-5 0 6 1-7 0 5 1-4 0 4 1-4 0 4 1-4 0 4 1-4 0 4 1-4 0 5 1-5 0 4 1-4 0 5 1-5 0 6 1-6 0 6 1-6 0 4 1-4 0 4 1-4 0 4 1-4 0 4 1-5 0 5 1-4 0 4 1-5 0 6 1-5 0 4 1-4 0 4 1-4 0 4 1-4 0 4 1-4 0 4 1-4 0 5 1-7 0 6 1-4 0 4 1-4 0 4 1-4 0 4 1-4 0 4 1-7 0 7 1-4 0 4 1-4 0 4 1-4 0 4 1-4 0 4 1-4 0 4 1-4 0 4 1-4 0 4 1-5 0 6 1-7 0 7 1-7 0 8 1-6 0 5 1-5 0 4 1-4 0 6 1-6 0 4 1-4 0 4 1-4 0 4 1-4 0 4 1-4 0 4 1-4 0 4 1-4 0 4 1-4 0 4 1-4 0 4 1-4 0 4 1-4 0 4 1-4 0 5 1-5 0 4 1-4 0 6 1-7 0 5 1-4 0 4 1-4 0 4 1-4 0 6 1-6 0 6 1-7 0 7 1-7 0 7 1-7 0 7 1-7 0 6 1-7 0 8 1-8 0 8 1-7 0 6 1-6 0 6 1-5 0 6 1-6 0 4 1-4 0 6 1-6 0 5 1-5 0 4 1-4 0 4 1-4 0 6 1-6 0 4 1-4 0 4 1-6 0 6 1-4 0 4 1-4 0 4 1-4 0 4 1-4 0 5 1-5 0 4 1-4 0 4 1-4 0 4"/><path vector-effect="non-scaling-stroke" transform="translate(138.00 356.621) scale(1.001145 0.2500)" stroke="#ff0000" d="M0-2l0 4 1-6 0 7 1-8 0 9 1-8 0 8 1-6 0 4 1-4 0 6 1-7 0 5 1-4 0 5 1-5 0 6 1-6 0 6 1-7 0 5 1-4 0 4 1-4 0 4 1-4 0 4 1-4 0 4 1-4 0 4 1-4 0 4 1-4 0 6 1-6 0 4 1-5 0 5 1-4 0 4 1-4 0 6 1-6 0 4 1-4 0 5 1-5 0 4 1-5 0 5 1-4 0 6 1-7 0 5 1-4 0 4 1-5 0 5 1-4 0 4 1-4 0 4 1-4 0 4 1-4 0 6 1-6 0 4 1-4 0 4 1-4 0 5 1-5 0 4 1-4 0 4 1-4 0 4 1-4 0 4 1-4 0 4 1-4 0 4 1-4 0 4 1-4 0 6 1-6 0 4 1-4 0 4 1-4 0 4 1-4 0 4 1-4 0 4 1-5 0 5 1-4 0 4 1-4 0 5 1-5 0 4 1-4 0 4 1-4 0 4 1-4 0 4 1-6 0 7 1-6 0 6 1-7 0 8 1-7 0 8 1-8 0 8 1-8 0 6 1-6 0 6 1-5 0 4 1-4 0 4 1-4 0 4 1-5 0 5 1-4 0 4 1-4 0 4 1-4 0 5 1-5 0 6 1-8 0 6 1-4 0 5 1-5 0 4 1-4 0 4 1-4 0 4 1-4 0 4 1-6 0 6 1-5 0 6 1-6 0 7 1-8 0 8 1-9 0 10 1-7 0 5 1-5 0 4 1-4 0 4 1-4 0 4 1-4 0 5 1-6 0 5 1-4 0 4 1-4 0 4 1-4 0 4 1-4 0 4 1-5 0 5 1-4 0 5 1-5 0 4 1-4 0 4 1-4 0 4 1-4 0 4 1-7 0 7 1-4 0 4 1-4 0 4 1-4 0 4 1-4 0 4 1-4 0 4 1-4 0 4 1-4 0 4 1-4 0 4 1-4 0 4 1-4 0 4 1-4 0 4 1-4 0 4 1-4 0 6 1-6 0 4 1-4 0 4 1-4 0 4 1-4 0 4 1-4 0 4 1-4 0 4 1-6 0 6 1-4 0 4 1-5 0 5 1-4 0 4 1-5 0 5 1-4 0 6 1-6 0 4 1-4 0 4 1-4 0 5 1-5 0 4 1-4 0 4 1-4 0 6 1-6 0 4 1-4 0 4 1-4 0 6 1-6 0 5 1-5 0 4 1-4 0 6 1-7 0 5 1-4 0 6 1-6 0 4 1-4 0 5 1-7 0 6 1-4 0 4 1-4 0 5 1-7 0 6 1-4 0 4 1-6 0 6 1-4 0 4 1-4 0 4 1-4 0 4 1-4 0 4 1-6 0 6 1-5 0 5 1-6 0 6 1-4 0 6 1-9 0 7 1-4 0 4 1-4 0 4 1-4 0 4 1-4 0 5 1-7 0 6 1-4 0 4 1-5 0 6 1-5 0 4 1-4 0 5 1-7 0 6 1-4 0 4 1-4 0 4 1-4 0 4 1-4 0 5 1-5 0 4 1-4 0 4 1-4 0 4 1-4 0 4 1-4 0 4 1-4 0 4 1-6 0 6 1-7 0 7 1-4 0 4 1-6 0 6 1-4 0 4 1-4 0 5 1-5 0 4 1-4 0 4 1-6 0 6 1-6 0 6 1-4 0 4 1-6 0 6 1-4 0 4 1-4 0 4 1-5 0 5 1-4 0 4 1-4 0 6 1-6 0 4 1-6 0 6 1-4 0 4 1-5 0 5 1-4 0 6 1-6 0 4 1-4 0 4 1-4 0 6 1-6 0 5 1-6 0 5 1-5 0 5 1-4 0 4 1-4 0 4 1-4 0 4 1-4 0 4 1-5 0 5 1-4 0 4 1-4 0 4 1-4 0 5 1-5 0 5 1-5 0 4 1-4 0 4 1-5 0 7 1-8 0 6 1-4 0 4 1-4 0 4 1-4 0 4 1-4 0 6 1-6 0 4 1-4 0 4 1-4 0 5 1-6 0 5 1-4 0 4 1-4 0 6 1-6 0 4 1-4 0 4 1-4 0 4 1-4 0 4 1-4 0 4 1-4 0 4 1-4 0 4 1-4 0 4 1-4 0 4 1-5 0 5 1-6 0 6 1-4 0 4 1-4 0 4 1-4 0 4 1-5 0 5 1-4 0 4 1-6 0 6 1-4 0 4 1-4 0 4 1-4 0 4 1-4 0 5 1-5 0 4 1-4 0 5 1-5 0 4 1-4 0 6 1-6 0 4 1-4 0 7 1-7 0 4 1-4 0 4 1-4 0 4 1-5 0 5 1-4 0 4 1-5 0 5 1-4 0 4 1-4 0 4 1-4 0 6 1-6 0 4 1-4 0 4 1-4 0 4 1-4 0 5 1-5 0 4 1-4 0 4 1-7 0 7 1-4 0 4 1-4 0 4 1-4 0 6 1-6 0 5 1-5 0 4 1-4 0 4 1-4 0 4 1-4 0 4 1-4 0 4 1-5 0 5 1-4 0 4 1-4 0 4 1-4 0 4 1-5 0 5 1-4 0 4 1-6 0 6 1-4 0 4 1-4 0 4 1-4 0 4 1-4 0 4 1-6 0 6 1-5 0 5 1-4 0 4 1-6 0 6 1-5 0 6 1-5 0 4 1-4 0 4 1-5 0 5 1-6 0 6 1-4 0 6 1-6 0 4 1-4 0 4 1-4 0 4 1-4 0 4 1-4 0 4 1-5 0 5 1-5 0 5 1-4 0 4 1-4 0 4 1-4 0 4 1-4 0 4 1-4 0 4 1-4 0 4 1-5 0 6 1-8 0 9 1-7 0 6 1-5 0 5 1-6 0 6 1-7 0 9 1-9 0 7 1-5 0 6 1-6 0 4 1-4 0 4 1-4 0 4 1-4 0 4 1-7 0 7 1-4 0 5 1-5 0 4 1-4 0 4 1-6 0 6 1-4 0 4 1-4 0 4 1-4 0 4 1-4 0 4 1-4 0 4 1-6 0 6 1-4 0 4 1-4 0 5 1-5 0 4 1-5 0 5 1-4 0 4 1-4 0 4 1-6 0 6 1-4 0 4 1-4 0 4 1-4 0 4 1-4 0 6 1-5 0 3 1-4 0 4 1-4 0 4 1-6 0 6 1-4 0 4 1-4 0 6 1-6 0 4 1-5 0 5 1-4 0 4 1-4 0 4 1-4 0 6 1-6 0 4 1-4 0 4 1-4 0 4 1-4 0 4 1-4 0 4 1-4 0 4 1-4 0 4 1-5 0 5 1-4 0 4 1-4 0 4 1-4 0 4 1-4 0 6 1-6 0 6 1-6 0 4 1-6 0 6 1-4 0 4 1-6 0 6 1-6 0 6 1-4 0 4 1-4 0 6 1-6 0 4 1-4 0 6 1-6 0 4 1-4 0 5 1-5 0 4 1-4 0 4 1-4 0 4 1-6 0 6 1-4 0 4 1-4 0 4 1-4 0 5 1-5 0 4 1-4 0 4 1-4 0 4 1-4 0 5 1-5 0 4 1-5 0 5 1-4 0 6 1-7 0 6 1-5 0 4 1-4 0 5 1-6 0 6 1-8 0 9 1-10 0 9 1-9 0 9 1-6 0 6 1-5 0 4 1-4 0 4 1-4 0 4 1-4 0 4 1-4 0 4 1-6 0 6 1-4 0 4 1-4 0 4 1-4 0 4 1-4 0 4 1-5 0 5 1-4 0 4 1-4 0 4 1-8 0 11 1-14 0 16 1-14 0 12 1-7 0 4 1-4 0 4 1-4 0 4 1-6 0 6 1-4 0 4 1-4 0 4 1-4 0 4 1-4 0 5 1-7 0 6 1-4 0 4 1-4 0 4 1-4 0 4 1-4 0 4 1-4 0 4 1-4 0 4 1-4 0 4 1-4 0 4 1-4 0 4 1-4 0 4 1-4 0 4 1-4 0 5 1-5 0 4 1-4 0 4 1-4 0 4 1-4 0 5 1-5 0 4 1-4 0 4 1-4 0 5 1-5 0 4 1-4 0 4 1-4 0 4 1-4 0 5 1-7 0 6 1-4 0 4 1-4 0 4 1-4 0 4 1-4 0 4 1-4 0 4 1-4 0 5 1-8 0 8 1-7 0 8 1-7 0 7 1-6 0 4 1-4 0 4 1-4 0 4 1-4 0 5 1-6 0 6 1-5 0 4 1-4 0 4 1-4 0 4 1-4 0 4 1-4 0 4 1-4 0 4 1-4 0 4 1-4 0 4 1-4 0 4 1-7 0 7 1-4 0 4 1-4 0 5 1-5 0 4 1-6 0 6 1-4 0 4 1-4 0 4 1-4 0 5 1-5 0 4 1-6 0 6 1-4 0 6 1-6 0 4 1-4 0 4 1-4 0 4 1-4 0 4 1-4 0 4 1-4 0 4 1-4 0 5 1-5 0 4 1-4 0 4 1-5 0 5 1-4 0 4 1-4 0 4 1-4 0 4 1-4 0 4 1-4 0 4 1-4 0 4 1-5 0 6 1-5 0 4 1-4 0 4 1-4 0 4 1-4 0 4 1-4 0 4 1-4 0 6 1-6 0 5 1-6 0 7 1-8 0 8 1-8 0 9 1-9 0 8 1-8 0 8 1-6 0 5 1-5 0 5 1-5 0 4 1-4 0 4 1-4 0 6 1-6 0 4 1-4 0 5 1-5 0 4 1-4 0 5 1-6 0 5 1-4 0 6 1-8 0 6 1-4 0 4 1-5 0 5 1-4 0 4 1-4 0 4 1-6 0 6 1-4 0 4 1-4 0 6 1-7 0 5 1-5 0 5 1-4 0 7 1-7 0 4 1-4 0 4 1-4 0 6 1-6 0 7 1-7 0 4 1-4 0 4 1-4 0 4 1-4 0 4 1-4 0 4 1-4 0 4 1-4 0 4 1-4 0 5 1-5 0 4 1-4 0 4 1-4 0 4 1-4 0 4 1-4 0 4 1-5 0 5 1-4 0 6 1-6 0 5 1-5 0 4 1-6 0 6 1-4 0 4 1-4 0 4 1-4 0 4 1-6 0 6 1-4 0 4 1-5 0 5 1-5 0 6 1-6 0 7 1-8 0 7 1-6 0 6 1-6 0 6 1-7 0 7 1-7 0 6 1-4 0 6 1-7 0 6 1-7 0 7 1-6 0 6 1-5 0 5 1-5 0 4 1-5 0 5 1-5 0 6 1-8 0 9 1-11 0 11 1-10 0 10 1-8 0 7 1-7 0 6 1-4 0 4 1-5 0 5 1-4 0 4 1-4 0 4 1-5 0 5 1-4 0 4 1-4 0 4 1-4 0 4 1-4 0 4 1-4 0 4 1-5 0 5 1-4 0 4 1-4 0 4 1-6 0 6 1-4 0 7 1-7 0 4 1-5 0 5 1-4 0 4 1-5 0 5 1-5 0 5 1-4 0 4 1-4 0 4 1-6 0 6 1-4 0 4 1-4 0 4 1-4 0 4 1-4 0 4 1-4 0 4 1-7 0 7 1-4 0 4 1-6 0 6 1-5 0 5 1-4 0 4 1-5 0 5 1-5 0 5 1-5 0 5 1-4 0 4 1-5 0 6 1-6 0 6 1-5 0 5 1-5 0 4 1-4 0 4 1-4 0 4 1-4 0 5 1-5 0 4 1-4 0 4 1-4 0 5 1-5 0 4 1-4 0 4 1-4 0 4 1-4 0 4 1-6 0 7 1-7 0 8 1-7 0 6 1-5 0 4 1-4 0 5 1-7 0 6 1-4 0 6 1-6 0 4 1-4 0 4 1-4 0 4 1-5 0 5 1-4 0 4 1-4 0 4 1-6 0 6 1-4 0 4 1-4 0 4 1-4 0 4 1-4 0 4 1-4 0 4 1-4 0 4 1-4 0 4 1-4 0 4 1-4 0 4 1-5 0 5 1-4 0 4 1-4 0 4 1-4 0 4 1-4 0 4 1-5 0 7 1-6 0 4 1-4 0 4 1-4 0 4 1-4 0 4 1-4 0 4 1-4 0 4 1-4 0 4 1-4 0 4 1-4 0 4 1-4 0 4 1-5 0 5 1-4 0 5 1-4 0 4 1-5 0 4 1-6 0 7 1-5 0 4 1-4 0 5 1-5 0 4 1-4 0 4 1-4 0 4 1-4 0 4 1-4 0 4 1-4 0 4 1-5 0 6 1-5 0 4 1-4 0 6 1-6 0 7 1-7 0 4 1-4 0 5 1-5 0 4 1-4 0 4 1-6 0 6 1-4 0 6 1-6 0 4 1-4 0 4 1-6 0 6 1-4 0 5 1-5 0 4 1-6 0 6 1-4 0 6 1-6 0 4 1-4 0 5 1-5 0 4 1-4 0 4 1-4 0 4 1-4 0 4 1-4 0 4 1-4 0 4 1-4 0 4 1-4 0 4 1-4 0 4 1-4 0 4 1-5 0 5 1-4 0 5 1-5 0 4 1-4 0 4 1-4 0 4 1-4 0 4 1-4 0 4 1-4 0 4 1-4 0 4 1-5 0 5 1-4 0 4 1-4 0 6 1-6 0 4 1-4 0 4 1-4 0 4 1-4 0 5 1-5 0 5 1-5 0 4 1-4 0 4 1-4 0 4 1-4 0 4 1-4 0 4 1-4 0 6 1-6 0 4 1-4 0 4 1-4 0 4 1-6 0 6 1-4 0 4 1-4 0 5 1-6 0 8 1-8 0 8 1-9 0 7 1-6 0 6 1-5 0 4 1-4 0 4 1-4 0 4 1-4 0 5 1-5 0 4 1-4 0 5 1-5 0 4 1-4 0 6 1-7 0 5 1-4 0 4 1-5 0 5 1-4 0 4 1-4 0 4 1-4 0 4 1-4 0 4 1-4 0 4 1-6 0 6 1-4 0 4 1-4 0 4 1-5 0 5 1-4 0 4 1-4 0 4 1-4 0 4 1-4 0 4 1-4 0 4 1-4 0 4 1-4 0 4 1-4 0 4 1-4 0 4 1-4 0 4 1-5 0 5 1-4 0 6 1-7 0 5 1-4 0 4 1-6 0 6 1-4 0 4 1-4 0 6 1-6 0 4 1-4 0 4 1-4 0 4 1-4 0 4 1-4 0 4 1-4 0 4 1-4 0 4 1-4 0 5 1-5 0 4 1-4 0 4 1-4 0 4 1-4 0 6 1-6 0 4 1-4 0 4 1-4 0 4 1-4 0 5 1-6 0 5 1-4 0 4 1-4 0 4 1-4 0 4 1-4 0 6 1-6 0 4 1-6 0 6 1-4 0 4 1-4 0 5 1-5 0 4 1-5 0 5 1-4 0 4 1-4 0 4 1-5 0 5 1-4 0 4 1-4 0 4 1-6 0 6 1-4 0 4 1-4 0 4 1-6 0 6 1-4 0 4 1-7 0 7 1-4 0 4 1-6 0 6 1-4 0 4 1-4 0 4 1-4 0 4 1-4 0 4 1-5 0 5 1-5 0 6 1-7 0 9 1-9 0 8 1-9 0 9 1-7 0 6 1-6 0 8 1-9 0 8 1-8 0 9 1-8 0 6 1-6 0 6 1-5 0 5 1-5 0 4 1-4 0 4 1-4 0 4 1-4 0 4 1-4 0 4 1-5 0 5 1-4 0 4 1-4 0 5 1-5 0 4 1-4 0 4 1-4 0 5 1-5 0 4 1-4 0 4 1-4 0 4 1-4 0 6 1-6 0 4 1-4 0 4 1-5 0 5 1-4 0 4 1-4 0 4 1-4 0 4 1-4 0 4 1-4 0 4 1-5 0 5 1-4 0 4 1-4 0 6 1-6 0 4 1-6 0 6 1-4 0 4 1-4 0 4"/><path vector-effect="non-scaling-stroke" transform="translate(138.00 388.164) scale(1.001145 0.2500)" stroke="#0000ff" d="M0-2l0 4 1-4 0 4 1-4 0 6 1-9 0 7 1-4 0 4 1-4 0 4 1-4 0 4 1-4 0 4 1-4 0 4 1-4 0 4 1-6 0 6 1-4 0 4 1-4 0 4 1-5 0 5 1-4 0 4 1-4 0 4 1-4 0 4 1-4 0 6 1-6 0 5 1-5 0 4 1-4 0 5 1-5 0 6 1-6 0 5 1-5 0 4 1-4 0 4 1-4 0 4 1-4 0 4 1-4 0 4 1-5 0 5 1-4 0 4 1-4 0 5 1-5 0 4 1-4 0 4 1-4 0 4 1-6 0 6 1-4 0 4 1-4 0 4 1-4 0 6 1-6 0 4 1-4 0 4 1-4 0 4 1-4 0 5 1-5 0 4 1-6 0 6 1-4 0 4 1-5 0 5 1-6 0 8 1-8 0 7 1-7 0 8 1-8 0 7 1-7 0 8 1-7 0 8 1-8 0 7 1-7 0 7 1-7 0 6 1-6 0 5 1-4 0 4 1-5 0 5 1-4 0 4 1-4 0 4 1-4 0 4 1-4 0 4 1-4 0 4 1-4 0 4 1-4 0 4 1-5 0 5 1-4 0 7 1-7 0 4 1-4 0 4 1-6 0 6 1-6 0 6 1-4 0 4 1-4 0 4 1-4 0 6 1-6 0 4 1-4 0 4 1-4 0 4 1-4 0 6 1-6 0 4 1-4 0 4 1-5 0 5 1-4 0 4 1-4 0 4 1-4 0 4 1-4 0 4 1-5 0 6 1-7 0 8 1-7 0 7 1-7 0 6 1-6 0 5 1-4 0 4 1-4 0 4 1-4 0 4 1-4 0 4 1-4 0 4 1-4 0 4 1-4 0 4 1-6 0 6 1-4 0 5 1-5 0 4 1-4 0 4 1-4 0 4 1-4 0 4 1-4 0 4 1-4 0 4 1-7 0 7 1-6 0 7 1-6 0 7 1-8 0 9 1-8 0 7 1-7 0 8 1-8 0 6 1-6 0 7 1-8 0 8 1-8 0 9 1-9 0 9 1-8 0 7 1-7 0 6 1-8 0 9 1-8 0 8 1-8 0 8 1-8 0 9 1-9 0 9 1-8 0 6 1-5 0 5 1-5 0 4 1-4 0 4 1-4 0 5 1-5 0 6 1-6 0 5 1-5 0 4 1-4 0 5 1-5 0 6 1-6 0 4 1-4 0 4 1-4 0 4 1-4 0 4 1-4 0 6 1-6 0 6 1-6 0 4 1-6 0 6 1-5 0 7 1-8 0 9 1-8 0 7 1-7 0 6 1-8 0 7 1-4 0 4 1-4 0 4 1-4 0 5 1-5 0 4 1-5 0 5 1-6 0 7 1-7 0 8 1-7 0 7 1-6 0 5 1-5 0 5 1-5 0 4 1-4 0 4 1-5 0 5 1-4 0 4 1-4 0 4 1-4 0 4 1-6 0 6 1-6 0 6 1-5 0 5 1-4 0 4 1-4 0 4 1-4 0 4 1-4 0 5 1-5 0 4 1-4 0 4 1-4 0 5 1-5 0 4 1-4 0 4 1-4 0 4 1-4 0 6 1-6 0 4 1-4 0 4 1-4 0 6 1-6 0 4 1-6 0 6 1-4 0 4 1-4 0 4 1-4 0 4 1-4 0 4 1-7 0 7 1-4 0 4 1-5 0 5 1-4 0 4 1-4 0 4 1-4 0 6 1-6 0 4 1-4 0 4 1-6 0 6 1-4 0 4 1-4 0 4 1-4 0 4 1-4 0 5 1-7 0 6 1-4 0 4 1-4 0 4 1-6 0 6 1-4 0 4 1-6 0 6 1-4 0 5 1-6 0 5 1-6 0 6 1-4 0 4 1-4 0 5 1-5 0 4 1-4 0 4 1-4 0 4 1-4 0 4 1-5 0 5 1-4 0 4 1-4 0 5 1-5 0 4 1-6 0 6 1-4 0 4 1-4 0 4 1-4 0 4 1-4 0 4 1-6 0 6 1-4 0 4 1-4 0 7 1-7 0 4 1-4 0 4 1-4 0 4 1-5 0 5 1-4 0 4 1-4 0 4 1-6 0 6 1-4 0 4 1-4 0 4 1-4 0 4 1-4 0 6 1-7 0 5 1-4 0 6 1-7 0 5 1-4 0 4 1-4 0 5 1-5 0 4 1-4 0 5 1-5 0 4 1-4 0 4 1-4 0 6 1-6 0 5 1-5 0 4 1-4 0 5 1-5 0 4 1-4 0 4 1-4 0 4 1-6 0 6 1-4 0 4 1-4 0 4 1-4 0 4 1-7 0 7 1-4 0 4 1-4 0 4 1-4 0 4 1-4 0 4 1-5 0 6 1-7 0 6 1-5 0 5 1-4 0 7 1-8 0 5 1-4 0 4 1-4 0 4 1-4 0 5 1-5 0 4 1-4 0 4 1-4 0 5 1-6 0 5 1-6 0 6 1-4 0 4 1-4 0 4 1-4 0 4 1-4 0 4 1-4 0 4 1-4 0 6 1-6 0 4 1-4 0 4 1-5 0 5 1-5 0 5 1-6 0 7 1-7 0 8 1-8 0 8 1-10 0 10 1-8 0 9 1-10 0 9 1-7 0 7 1-7 0 5 1-6 0 6 1-6 0 8 1-7 0 6 1-6 0 6 1-5 0 5 1-5 0 4 1-4 0 4 1-4 0 4 1-4 0 4 1-4 0 4 1-6 0 6 1-4 0 5 1-7 0 6 1-5 0 5 1-5 0 5 1-4 0 4 1-4 0 4 1-4 0 4 1-4 0 4 1-4 0 4 1-4 0 4 1-5 0 5 1-6 0 6 1-4 0 4 1-5 0 5 1-4 0 4 1-4 0 4 1-4 0 6 1-6 0 4 1-4 0 6 1-7 0 5 1-4 0 4 1-4 0 4 1-4 0 4 1-4 0 4 1-4 0 4 1-4 0 4 1-4 0 5 1-5 0 4 1-4 0 4 1-4 0 4 1-5 0 5 1-4 0 5 1-5 0 4 1-5 0 5 1-4 0 4 1-4 0 4 1-4 0 4 1-4 0 4 1-4 0 5 1-5 0 4 1-4 0 4 1-4 0 4 1-4 0 4 1-4 0 4 1-4 0 5 1-5 0 4 1-5 0 5 1-4 0 4 1-4 0 4 1-4 0 4 1-4 0 4 1-4 0 4 1-4 0 5 1-5 0 4 1-4 0 4 1-4 0 4 1-4 0 4 1-4 0 4 1-4 0 4 1-6 0 6 1-4 0 4 1-4 0 5 1-5 0 4 1-4 0 4 1-4 0 4 1-4 0 5 1-5 0 4 1-5 0 5 1-4 0 4 1-4 0 4 1-4 0 4 1-5 0 5 1-6 0 6 1-4 0 4 1-4 0 5 1-6 0 5 1-4 0 4 1-4 0 4 1-4 0 4 1-4 0 5 1-6 0 5 1-4 0 4 1-5 0 5 1-4 0 4 1-5 0 6 1-6 0 6 1-6 0 6 1-6 0 5 1-4 0 4 1-4 0 6 1-6 0 4 1-4 0 4 1-4 0 6 1-6 0 4 1-4 0 5 1-5 0 4 1-4 0 4 1-4 0 4 1-4 0 6 1-7 0 5 1-4 0 4 1-4 0 4 1-4 0 4 1-5 0 7 1-7 0 6 1-5 0 6 1-6 0 4 1-4 0 6 1-6 0 4 1-4 0 4 1-4 0 6 1-6 0 5 1-6 0 5 1-4 0 4 1-4 0 4 1-4 0 4 1-4 0 4 1-4 0 6 1-8 0 6 1-6 0 6 1-4 0 4 1-4 0 4 1-6 0 6 1-4 0 4 1-4 0 4 1-4 0 4 1-4 0 5 1-5 0 4 1-4 0 4 1-4 0 5 1-5 0 5 1-5 0 4 1-4 0 4 1-3 0 3 1-4 0 4 1-6 0 6 1-5 0 5 1-4 0 5 1-8 0 7 1-5 0 6 1-5 0 5 1-5 0 4 1-5 0 5 1-4 0 4 1-4 0 4 1-4 0 4 1-4 0 4 1-5 0 5 1-4 0 4 1-5 0 5 1-4 0 4 1-4 0 4 1-6 0 6 1-4 0 4 1-4 0 4 1-4 0 4 1-5 0 5 1-5 0 5 1-4 0 4 1-4 0 5 1-5 0 4 1-4 0 4 1-4 0 5 1-5 0 4 1-5 0 5 1-4 0 4 1-5 0 5 1-4 0 4 1-4 0 4 1-6 0 6 1-4 0 5 1-5 0 4 1-4 0 4 1-4 0 6 1-6 0 4 1-4 0 4 1-5 0 5 1-4 0 6 1-6 0 4 1-4 0 4 1-4 0 4 1-6 0 6 1-4 0 4 1-4 0 4 1-4 0 6 1-6 0 4 1-4 0 4 1-4 0 4 1-4 0 4 1-4 0 4 1-4 0 4 1-4 0 4 1-4 0 4 1-6 0 6 1-4 0 4 1-4 0 4 1-5 0 5 1-4 0 4 1-4 0 4 1-4 0 4 1-4 0 4 1-4 0 4 1-5 0 5 1-4 0 4 1-4 0 4 1-5 0 5 1-4 0 4 1-6 0 6 1-5 0 5 1-6 0 6 1-4 0 4 1-4 0 4 1-6 0 6 1-4 0 4 1-4 0 4 1-4 0 4 1-4 0 4 1-7 0 7 1-4 0 4 1-4 0 4 1-4 0 4 1-4 0 4 1-4 0 4 1-4 0 4 1-4 0 4 1-6 0 7 1-5 0 4 1-5 0 5 1-4 0 4 1-4 0 4 1-4 0 4 1-4 0 5 1-5 0 4 1-6 0 6 1-4 0 4 1-4 0 4 1-4 0 4 1-4 0 4 1-4 0 4 1-4 0 4 1-4 0 4 1-4 0 4 1-4 0 4 1-4 0 4 1-4 0 4 1-4 0 4 1-4 0 4 1-5 0 5 1-5 0 5 1-5 0 5 1-4 0 4 1-4 0 4 1-4 0 6 1-6 0 4 1-4 0 6 1-6 0 4 1-5 0 5 1-4 0 4 1-5 0 5 1-4 0 6 1-6 0 4 1-4 0 4 1-4 0 4 1-4 0 4 1-4 0 4 1-5 0 5 1-4 0 5 1-5 0 4 1-4 0 4 1-4 0 4 1-4 0 4 1-4 0 4 1-5 0 5 1-4 0 4 1-5 0 5 1-4 0 4 1-4 0 4 1-4 0 5 1-5 0 4 1-4 0 6 1-6 0 4 1-4 0 4 1-4 0 6 1-6 0 4 1-4 0 4 1-4 0 4 1-4 0 4 1-4 0 6 1-7 0 5 1-4 0 5 1-5 0 4 1-4 0 4 1-4 0 4 1-6 0 6 1-4 0 4 1-4 0 6 1-6 0 4 1-5 0 5 1-4 0 4 1-4 0 4 1-6 0 6 1-4 0 4 1-4 0 4 1-4 0 4 1-4 0 4 1-4 0 4 1-4 0 4 1-4 0 4 1-4 0 4 1-4 0 6 1-6 0 4 1-4 0 4 1-4 0 7 1-7 0 4 1-4 0 5 1-5 0 4 1-5 0 5 1-4 0 4 1-4 0 4 1-4 0 4 1-4 0 4 1-6 0 6 1-4 0 4 1-4 0 4 1-4 0 4 1-4 0 4 1-4 0 4 1-4 0 6 1-6 0 6 1-6 0 6 1-6 0 4 1-5 0 6 1-7 0 8 1-8 0 8 1-8 0 7 1-7 0 7 1-6 0 5 1-4 0 6 1-7 0 5 1-6 0 6 1-4 0 4 1-4 0 4 1-4 0 4 1-4 0 4 1-4 0 4 1-4 0 4 1-4 0 4 1-4 0 5 1-5 0 4 1-4 0 5 1-7 0 6 1-4 0 6 1-7 0 5 1-4 0 4 1-5 0 5 1-5 0 5 1-5 0 5 1-4 0 6 1-6 0 4 1-4 0 4 1-4 0 4 1-4 0 6 1-6 0 5 1-7 0 6 1-4 0 4 1-5 0 5 1-4 0 4 1-4 0 4 1-4 0 4 1-4 0 4 1-4 0 4 1-6 0 6 1-4 0 5 1-5 0 4 1-4 0 5 1-6 0 6 1-5 0 4 1-4 0 4 1-4 0 4 1-4 0 4 1-4 0 4 1-4 0 4 1-4 0 6 1-6 0 4 1-4 0 4 1-5 0 5 1-6 0 6 1-4 0 4 1-4 0 5 1-5 0 4 1-4 0 4 1-4 0 4 1-4 0 4 1-4 0 6 1-7 0 5 1-6 0 6 1-4 0 4 1-4 0 5 1-5 0 4 1-4 0 4 1-4 0 4 1-4 0 6 1-6 0 4 1-4 0 4 1-4 0 4 1-4 0 4 1-4 0 4 1-4 0 4 1-4 0 6 1-6 0 4 1-4 0 4 1-4 0 4 1-4 0 4 1-4 0 4 1-4 0 5 1-5 0 4 1-4 0 4 1-5 0 5 1-4 0 4 1-4 0 4 1-4 0 4 1-6 0 6 1-4 0 4 1-4 0 6 1-6 0 4 1-4 0 4 1-4 0 4 1-6 0 6 1-4 0 4 1-4 0 4 1-4 0 4 1-4 0 4 1-5 0 5 1-4 0 4 1-4 0 4 1-4 0 4 1-4 0 4 1-4 0 6 1-8 0 6 1-4 0 4 1-4 0 4 1-4 0 4 1-4 0 4 1-4 0 4 1-4 0 4 1-6 0 6 1-5 0 5 1-4 0 4 1-4 0 4 1-7 0 7 1-4 0 5 1-5 0 4 1-5 0 5 1-4 0 6 1-6 0 4 1-4 0 4 1-4 0 4 1-5 0 5 1-4 0 4 1-4 0 4 1-5 0 5 1-4 0 4 1-6 0 6 1-4 0 4 1-4 0 4 1-6 0 6 1-4 0 4 1-4 0 4 1-4 0 4 1-5 0 5 1-5 0 7 1-7 0 5 1-4 0 4 1-4 0 4 1-5 0 6 1-5 0 4 1-4 0 5 1-5 0 4 1-4 0 4 1-7 0 7 1-4 0 5 1-5 0 4 1-4 0 4 1-4 0 6 1-7 0 6 1-6 0 7 1-7 0 8 1-8 0 7 1-6 0 5 1-5 0 6 1-7 0 5 1-4 0 4 1-4 0 4 1-4 0 4 1-4 0 4 1-4 0 6 1-6 0 5 1-6 0 5 1-5 0 7 1-7 0 9 1-9 0 6 1-5 0 4 1-4 0 4 1-4 0 4 1-4 0 4 1-4 0 4 1-4 0 4 1-4 0 4 1-4 0 4 1-4 0 6 1-6 0 4 1-4 0 4 1-4 0 4 1-4 0 4 1-4 0 4 1-4 0 4 1-6 0 6 1-4 0 4 1-4 0 5 1-6 0 5 1-5 0 5 1-4 0 4 1-5 0 5 1-4 0 4 1-6 0 6 1-6 0 6 1-4 0 4 1-4 0 4 1-4 0 6 1-6 0 4 1-4 0 4 1-4 0 6 1-6 0 4 1-6 0 6 1-4 0 4 1-4 0 4 1-4 0 4 1-5 0 6 1-5 0 4 1-4 0 4 1-4 0 4 1-4 0 4 1-5 0 6 1-7 0 7 1-8 0 9 1-8 0 8 1-8 0 7 1-5 0 4 1-4 0 4 1-6 0 6 1-4 0 4 1-5 0 5 1-4 0 4 1-4 0 6 1-6 0 4 1-4 0 4 1-4 0 4 1-4 0 4 1-4 0 4 1-6 0 6 1-4 0 4 1-4 0 5 1-5 0 4 1-4 0 4 1-4 0 4 1-4 0 4 1-4 0 4 1-4 0 4 1-4 0 4 1-4 0 4 1-4 0 4"/><path vector-effect="non-scaling-stroke" transform="translate(138.00 419.707) scale(1.001145 0.2500)" stroke="#008000" d="M0-2l0 4 1-5 0 6 1-5 0 4 1-4 0 4 1-4 0 4 1-5 0 5 1-4 0 4 1-5 0 5 1-5 0 5 1-6 0 6 1-4 0 4 1-4 0 4 1-4 0 4 1-5 0 6 1-5 0 4 1-4 0 5 1-5 0 4 1-4 0 6 1-6 0 4 1-5 0 5 1-4 0 4 1-6 0 6 1-4 0 5 1-5 0 4 1-6 0 6 1-4 0 6 1-8 0 6 1-4 0 4 1-4 0 4 1-4 0 7 1-8 0 5 1-4 0 5 1-5 0 4 1-4 0 5 1-5 0 4 1-4 0 4 1-4 0 4 1-4 0 4 1-4 0 4 1-4 0 4 1-6 0 6 1-4 0 4 1-4 0 4 1-5 0 7 1-9 0 9 1-7 0 7 1-8 0 6 1-5 0 5 1-6 0 8 1-8 0 7 1-5 0 5 1-7 0 6 1-5 0 5 1-6 0 6 1-4 0 4 1-5 0 6 1-7 0 8 1-8 0 8 1-8 0 8 1-8 0 8 1-9 0 9 1-9 0 9 1-7 0 6 1-7 0 7 1-5 0 4 1-4 0 4 1-5 0 5 1-4 0 4 1-4 0 5 1-5 0 4 1-4 0 4 1-4 0 4 1-4 0 4 1-4 0 4 1-4 0 4 1-4 0 4 1-4 0 4 1-4 0 4 1-4 0 4 1-4 0 4 1-4 0 5 1-5 0 6 1-6 0 6 1-6 0 4 1-4 0 4 1-6 0 6 1-4 0 5 1-5 0 5 1-6 0 6 1-8 0 9 1-7 0 7 1-7 0 6 1-5 0 4 1-4 0 4 1-7 0 7 1-4 0 4 1-4 0 4 1-4 0 4 1-4 0 4 1-4 0 5 1-5 0 4 1-4 0 4 1-4 0 4 1-4 0 6 1-6 0 4 1-4 0 4 1-4 0 6 1-7 0 5 1-4 0 4 1-4 0 6 1-6 0 4 1-4 0 4 1-6 0 6 1-4 0 4 1-4 0 5 1-6 0 6 1-7 0 7 1-6 0 5 1-4 0 4 1-4 0 6 1-8 0 6 1-4 0 4 1-4 0 4 1-5 0 5 1-4 0 4 1-5 0 5 1-4 0 4 1-4 0 4 1-4 0 4 1-4 0 4 1-4 0 4 1-4 0 4 1-4 0 4 1-4 0 4 1-6 0 6 1-4 0 4 1-4 0 4 1-4 0 4 1-4 0 4 1-4 0 4 1-4 0 5 1-5 0 4 1-4 0 4 1-4 0 4 1-4 0 4 1-4 0 4 1-4 0 4 1-6 0 6 1-4 0 4 1-5 0 5 1-4 0 4 1-4 0 4 1-4 0 4 1-4 0 6 1-6 0 4 1-4 0 4 1-4 0 4 1-4 0 4 1-4 0 6 1-6 0 4 1-6 0 6 1-4 0 4 1-4 0 4 1-4 0 4 1-4 0 4 1-4 0 4 1-4 0 4 1-4 0 4 1-4 0 4 1-5 0 5 1-4 0 4 1-4 0 5 1-5 0 4 1-4 0 5 1-5 0 5 1-5 0 4 1-5 0 5 1-4 0 4 1-4 0 4 1-4 0 6 1-6 0 4 1-4 0 4 1-6 0 6 1-4 0 5 1-6 0 5 1-4 0 4 1-4 0 5 1-5 0 4 1-7 0 7 1-4 0 4 1-4 0 4 1-4 0 4 1-4 0 4 1-4 0 4 1-4 0 6 1-6 0 4 1-4 0 4 1-4 0 4 1-4 0 4 1-4 0 6 1-6 0 5 1-5 0 4 1-4 0 5 1-7 0 7 1-5 0 4 1-4 0 4 1-4 0 4 1-4 0 4 1-6 0 6 1-4 0 4 1-4 0 4 1-6 0 6 1-4 0 6 1-6 0 4 1-5 0 5 1-4 0 4 1-4 0 4 1-4 0 4 1-4 0 4 1-4 0 5 1-5 0 4 1-4 0 4 1-4 0 5 1-5 0 5 1-5 0 4 1-4 0 4 1-4 0 4 1-4 0 4 1-4 0 4 1-6 0 6 1-4 0 4 1-4 0 4 1-4 0 4 1-4 0 4 1-4 0 4 1-4 0 4 1-4 0 5 1-5 0 4 1-4 0 4 1-5 0 5 1-4 0 4 1-4 0 5 1-6 0 6 1-6 0 6 1-6 0 7 1-8 0 8 1-7 0 5 1-4 0 4 1-4 0 4 1-4 0 4 1-4 0 4 1-4 0 4 1-4 0 4 1-4 0 5 1-6 0 5 1-5 0 5 1-6 0 6 1-4 0 4 1-4 0 4 1-5 0 5 1-4 0 4 1-4 0 4 1-5 0 5 1-6 0 6 1-4 0 4 1-4 0 6 1-6 0 5 1-5 0 5 1-7 0 6 1-4 0 4 1-4 0 5 1-5 0 5 1-5 0 6 1-6 0 4 1-4 0 4 1-4 0 4 1-4 0 4 1-5 0 5 1-4 0 4 1-4 0 4 1-4 0 4 1-4 0 6 1-6 0 4 1-4 0 4 1-5 0 5 1-4 0 4 1-4 0 4 1-4 0 4 1-4 0 4 1-5 0 5 1-4 0 6 1-6 0 5 1-6 0 5 1-5 0 5 1-4 0 5 1-5 0 4 1-4 0 4 1-4 0 4 1-4 0 4 1-4 0 5 1-5 0 4 1-4 0 4 1-6 0 6 1-5 0 5 1-4 0 5 1-5 0 4 1-4 0 4 1-6 0 6 1-4 0 4 1-4 0 4 1-4 0 4 1-5 0 5 1-5 0 7 1-6 0 4 1-4 0 6 1-6 0 4 1-4 0 6 1-6 0 4 1-4 0 6 1-6 0 4 1-4 0 4 1-4 0 4 1-5 0 5 1-4 0 4 1-4 0 4 1-4 0 5 1-5 0 5 1-6 0 5 1-4 0 4 1-5 0 7 1-7 0 5 1-4 0 4 1-4 0 4 1-4 0 6 1-6 0 4 1-4 0 4 1-4 0 4 1-6 0 6 1-4 0 5 1-5 0 4 1-6 0 6 1-4 0 4 1-4 0 4 1-4 0 4 1-4 0 4 1-4 0 5 1-7 0 6 1-4 0 4 1-4 0 4 1-4 0 4 1-6 0 6 1-4 0 6 1-6 0 5 1-5 0 4 1-4 0 4 1-4 0 6 1-8 0 6 1-4 0 4 1-4 0 4 1-4 0 6 1-6 0 4 1-4 0 4 1-4 0 4 1-4 0 6 1-6 0 4 1-4 0 4 1-4 0 4 1-6 0 6 1-4 0 4 1-5 0 6 1-5 0 4 1-4 0 4 1-4 0 5 1-5 0 4 1-4 0 5 1-5 0 4 1-4 0 4 1-4 0 4 1-6 0 6 1-4 0 4 1-6 0 6 1-4 0 4 1-7 0 7 1-4 0 5 1-5 0 4 1-4 0 4 1-5 0 5 1-4 0 4 1-6 0 6 1-4 0 4 1-4 0 4 1-4 0 4 1-4 0 4 1-4 0 4 1-4 0 4 1-4 0 4 1-4 0 4 1-5 0 5 1-4 0 4 1-4 0 4 1-4 0 4 1-4 0 4 1-4 0 4 1-4 0 4 1-4 0 4 1-4 0 4 1-4 0 5 1-5 0 4 1-4 0 4 1-4 0 6 1-6 0 5 1-5 0 4 1-4 0 4 1-4 0 4 1-7 0 7 1-4 0 4 1-4 0 4 1-4 0 6 1-6 0 4 1-5 0 5 1-4 0 4 1-4 0 4 1-4 0 4 1-4 0 4 1-4 0 6 1-6 0 4 1-5 0 5 1-6 0 6 1-6 0 6 1-4 0 4 1-4 0 5 1-5 0 4 1-4 0 4 1-5 0 6 1-7 0 8 1-7 0 6 1-5 0 4 1-4 0 5 1-5 0 6 1-6 0 4 1-4 0 4 1-4 0 4 1-4 0 4 1-4 0 5 1-6 0 6 1-8 0 7 1-4 0 4 1-5 0 5 1-4 0 4 1-6 0 6 1-4 0 6 1-6 0 4 1-4 0 4 1-4 0 6 1-6 0 4 1-4 0 4 1-6 0 6 1-4 0 5 1-5 0 7 1-8 0 5 1-4 0 4 1-4 0 4 1-4 0 4 1-6 0 6 1-4 0 4 1-6 0 6 1-4 0 4 1-4 0 5 1-5 0 4 1-4 0 4 1-5 0 5 1-4 0 4 1-4 0 4 1-4 0 4 1-6 0 6 1-4 0 4 1-4 0 4 1-6 0 6 1-4 0 4 1-4 0 5 1-5 0 4 1-4 0 5 1-5 0 4 1-4 0 4 1-4 0 4 1-4 0 4 1-4 0 6 1-6 0 4 1-5 0 5 1-4 0 4 1-4 0 4 1-4 0 4 1-4 0 4 1-4 0 4 1-4 0 5 1-5 0 4 1-4 0 4 1-5 0 5 1-4 0 4 1-4 0 4 1-4 0 4 1-4 0 6 1-6 0 5 1-5 0 4 1-4 0 4 1-4 0 4 1-4 0 4 1-4 0 4 1-4 0 4 1-4 0 4 1-4 0 4 1-4 0 4 1-4 0 7 1-7 0 4 1-4 0 6 1-6 0 4 1-4 0 4 1-4 0 4 1-4 0 6 1-6 0 4 1-4 0 4 1-4 0 4 1-4 0 4 1-4 0 4 1-5 0 7 1-6 0 4 1-6 0 6 1-4 0 4 1-4 0 4 1-4 0 4 1-4 0 5 1-5 0 4 1-4 0 4 1-5 0 5 1-4 0 4 1-4 0 4 1-4 0 4 1-4 0 4 1-5 0 5 1-5 0 6 1-5 0 4 1-4 0 4 1-4 0 6 1-7 0 5 1-4 0 4 1-4 0 4 1-4 0 6 1-8 0 6 1-4 0 4 1-5 0 5 1-4 0 4 1-4 0 4 1-4 0 4 1-4 0 4 1-4 0 6 1-6 0 4 1-4 0 4 1-5 0 5 1-5 0 5 1-5 0 6 1-5 0 4 1-4 0 4 1-4 0 4 1-6 0 6 1-4 0 4 1-4 0 4 1-4 0 6 1-6 0 4 1-4 0 4 1-4 0 4 1-6 0 6 1-4 0 4 1-4 0 6 1-6 0 4 1-4 0 4 1-4 0 4 1-4 0 5 1-5 0 5 1-5 0 4 1-5 0 5 1-4 0 6 1-6 0 4 1-4 0 4 1-4 0 4 1-6 0 6 1-4 0 4 1-4 0 4 1-4 0 4 1-5 0 5 1-4 0 6 1-6 0 4 1-4 0 4 1-6 0 6 1-4 0 4 1-4 0 4 1-6 0 6 1-4 0 4 1-5 0 5 1-4 0 4 1-4 0 5 1-5 0 4 1-6 0 6 1-4 0 6 1-6 0 4 1-4 0 4 1-4 0 4 1-4 0 6 1-6 0 5 1-5 0 4 1-4 0 4 1-4 0 4 1-4 0 4 1-4 0 4 1-6 0 6 1-4 0 4 1-4 0 4 1-4 0 5 1-7 0 6 1-4 0 4 1-4 0 4 1-4 0 5 1-5 0 4 1-7 0 7 1-4 0 4 1-4 0 4 1-4 0 4 1-5 0 5 1-4 0 4 1-4 0 4 1-6 0 6 1-4 0 6 1-8 0 6 1-4 0 4 1-4 0 4 1-4 0 4 1-4 0 4 1-4 0 4 1-5 0 5 1-4 0 4 1-4 0 6 1-6 0 4 1-4 0 4 1-5 0 5 1-4 0 4 1-4 0 4 1-4 0 4 1-4 0 4 1-4 0 4 1-4 0 6 1-6 0 4 1-4 0 4 1-4 0 4 1-4 0 4 1-4 0 4 1-4 0 4 1-4 0 4 1-6 0 6 1-4 0 4 1-5 0 5 1-4 0 5 1-5 0 4 1-4 0 4 1-4 0 6 1-6 0 4 1-6 0 7 1-5 0 4 1-4 0 4 1-4 0 4 1-4 0 5 1-5 0 4 1-4 0 5 1-5 0 4 1-5 0 5 1-4 0 4 1-6 0 6 1-4 0 4 1-4 0 4 1-4 0 4 1-4 0 4 1-4 0 5 1-6 0 6 1-5 0 5 1-5 0 4 1-4 0 5 1-5 0 6 1-8 0 6 1-4 0 4 1-4 0 4 1-4 0 4 1-4 0 5 1-5 0 4 1-4 0 4 1-4 0 4 1-5 0 5 1-5 0 5 1-4 0 4 1-4 0 6 1-6 0 4 1-4 0 4 1-7 0 7 1-4 0 7 1-7 0 4 1-4 0 4 1-4 0 4 1-4 0 4 1-4 0 4 1-4 0 4 1-6 0 6 1-4 0 4 1-5 0 5 1-4 0 4 1-4 0 6 1-8 0 6 1-4 0 4 1-4 0 4 1-4 0 4 1-4 0 5 1-5 0 4 1-4 0 4 1-4 0 4 1-4 0 4 1-4 0 5 1-5 0 4 1-4 0 4 1-4 0 4 1-5 0 5 1-4 0 4 1-4 0 4 1-6 0 6 1-4 0 4 1-5 0 5 1-4 0 4 1-6 0 6 1-4 0 4 1-4 0 4 1-4 0 4 1-4 0 4 1-7 0 7 1-4 0 4 1-4 0 4 1-6 0 6 1-4 0 6 1-6 0 4 1-5 0 5 1-5 0 7 1-6 0 4 1-4 0 4 1-4 0 4 1-5 0 7 1-6 0 4 1-4 0 4 1-4 0 4 1-4 0 4 1-4 0 5 1-7 0 6 1-4 0 4 1-4 0 4 1-4 0 4 1-4 0 4 1-5 0 5 1-5 0 5 1-5 0 5 1-6 0 6 1-6 0 6 1-4 0 4 1-4 0 5 1-5 0 4 1-4 0 4 1-4 0 4 1-6 0 6 1-5 0 5 1-6 0 6 1-4 0 6 1-6 0 4 1-4 0 5 1-7 0 6 1-4 0 4 1-4 0 6 1-6 0 4 1-6 0 6 1-4 0 6 1-7 0 5 1-4 0 4 1-4 0 4 1-5 0 5 1-4 0 4 1-4 0 4 1-4 0 4 1-4 0 4 1-4 0 6 1-6 0 4 1-4 0 4 1-4 0 4 1-4 0 4 1-4 0 4 1-4 0 6 1-6 0 5 1-5 0 4 1-4 0 4 1-4 0 4 1-4 0 4 1-5 0 5 1-4 0 4 1-4 0 6 1-8 0 6 1-4 0 4 1-4 0 4 1-4 0 4 1-4 0 6 1-6 0 4 1-4 0 4 1-4 0 4 1-4 0 6 1-6 0 4 1-4 0 4 1-6 0 6 1-4 0 6 1-6 0 4 1-5 0 5 1-5 0 5 1-4 0 4 1-4 0 4 1-4 0 4 1-4 0 4 1-4 0 4 1-4 0 4 1-4 0 4 1-5 0 5 1-4 0 4 1-4 0 7 1-7 0 4 1-4 0 4 1-4 0 4 1-4 0 4 1-4 0 4 1-4 0 4 1-6 0 6 1-4 0 4 1-4 0 4 1-4 0 4 1-4 0 7 1-8 0 6 1-6 0 7 1-8 0 8 1-7 0 7 1-7 0 6 1-5 0 5 1-5 0 4 1-4 0 4 1-5 0 5 1-4 0 4 1-4 0 6 1-8 0 6 1-4 0 4 1-4 0 4 1-4 0 4 1-7 0 7 1-4 0 6 1-6 0 5 1-6 0 5 1-4 0 5 1-7 0 6 1-4 0 4 1-4 0 4 1-4 0 4 1-4 0 4 1-4 0 5 1-5 0 6 1-6 0 4 1-4 0 4 1-4 0 4 1-4 0 4 1-4 0 5 1-5 0 4"/><path vector-effect="non-scaling-stroke" transform="translate(138.00 451.250) scale(1.001145 0.2500)" stroke="#000000" d="M0-2l0 4 1-4 0 4 1-4 0 4 1-6 0 6 1-6 0 6 1-4 0 4 1-4 0 4 1-4 0 6 1-7 0 5 1-4 0 4 1-4 0 4 1-4 0 6 1-6 0 4 1-5 0 5 1-4 0 6 1-6 0 4 1-5 0 6 1-7 0 9 1-8 0 7 1-8 0 6 1-4 0 4 1-4 0 4 1-4 0 4 1-4 0 4 1-4 0 4 1-6 0 6 1-4 0 4 1-4 0 6 1-6 0 4 1-4 0 6 1-6 0 4 1-4 0 5 1-7 0 6 1-4 0 4 1-5 0 5 1-4 0 4 1-5 0 5 1-4 0 4 1-5 0 5 1-4 0 4 1-5 0 6 1-7 0 8 1-9 0 10 1-9 0 8 1-7 0 7 1-6 0 4 1-4 0 6 1-6 0 4 1-7 0 7 1-4 0 4 1-4 0 4 1-4 0 4 1-4 0 4 1-4 0 6 1-6 0 4 1-4 0 4 1-4 0 7 1-9 0 6 1-6 0 6 1-4 0 4 1-5 0 5 1-7 0 7 1-4 0 4 1-4 0 4 1-4 0 4 1-5 0 5 1-5 0 5 1-4 0 4 1-7 0 7 1-4 0 4 1-4 0 4 1-4 0 6 1-6 0 4 1-6 0 6 1-4 0 4 1-7 0 7 1-4 0 4 1-4 0 4 1-4 0 7 1-7 0 6 1-7 0 5 1-5 0 5 1-4 0 4 1-4 0 7 1-7 0 4 1-4 0 4 1-4 0 4 1-4 0 4 1-6 0 6 1-4 0 4 1-4 0 4 1-4 0 4 1-4 0 4 1-5 0 7 1-6 0 6 1-8 0 6 1-4 0 4 1-4 0 4 1-7 0 7 1-4 0 4 1-4 0 4 1-4 0 4 1-4 0 4 1-4 0 6 1-6 0 4 1-4 0 4 1-4 0 4 1-4 0 6 1-6 0 4 1-4 0 4 1-4 0 4 1-4 0 4 1-4 0 6 1-8 0 6 1-4 0 4 1-4 0 6 1-6 0 4 1-4 0 6 1-6 0 4 1-4 0 4 1-4 0 4 1-4 0 4 1-4 0 4 1-4 0 4 1-5 0 5 1-4 0 4 1-5 0 5 1-4 0 4 1-4 0 6 1-6 0 6 1-6 0 4 1-4 0 4 1-4 0 4 1-4 0 6 1-6 0 4 1-4 0 4 1-4 0 6 1-6 0 4 1-5 0 5 1-6 0 6 1-5 0 5 1-4 0 4 1-5 0 7 1-6 0 4 1-4 0 4 1-6 0 6 1-5 0 5 1-4 0 5 1-5 0 4 1-7 0 7 1-4 0 5 1-7 0 6 1-6 0 6 1-5 0 6 1-7 0 9 1-9 0 10 1-10 0 8 1-7 0 7 1-6 0 4 1-4 0 4 1-4 0 7 1-7 0 4 1-4 0 6 1-6 0 7 1-7 0 4 1-7 0 7 1-4 0 4 1-4 0 6 1-6 0 4 1-6 0 7 1-5 0 6 1-6 0 4 1-4 0 6 1-6 0 4 1-4 0 4 1-4 0 4 1-5 0 6 1-7 0 7 1-6 0 6 1-5 0 4 1-6 0 6 1-4 0 6 1-6 0 4 1-7 0 7 1-4 0 4 1-5 0 5 1-4 0 7 1-7 0 4 1-4 0 4 1-4 0 4 1-5 0 5 1-4 0 6 1-7 0 5 1-4 0 4 1-4 0 4 1-4 0 4 1-7 0 7 1-4 0 4 1-4 0 4 1-4 0 4 1-6 0 7 1-7 0 8 1-7 0 7 1-6 0 4 1-5 0 5 1-6 0 9 1-9 0 8 1-8 0 8 1-8 0 7 1-5 0 6 1-6 0 4 1-4 0 4 1-5 0 5 1-4 0 6 1-6 0 6 1-8 0 6 1-4 0 6 1-7 0 5 1-4 0 4 1-4 0 6 1-8 0 6 1-4 0 4 1-4 0 4 1-5 0 5 1-4 0 7 1-7 0 4 1-4 0 4 1-7 0 7 1-4 0 4 1-5 0 5 1-4 0 4 1-5 0 5 1-4 0 5 1-5 0 4 1-4 0 4 1-4 0 4 1-4 0 6 1-7 0 5 1-4 0 4 1-4 0 4 1-4 0 4 1-4 0 4 1-6 0 6 1-4 0 6 1-6 0 4 1-4 0 7 1-10 0 7 1-4 0 4 1-4 0 6 1-8 0 6 1-4 0 4 1-4 0 5 1-5 0 5 1-5 0 6 1-8 0 6 1-4 0 4 1-4 0 4 1-4 0 4 1-5 0 7 1-8 0 6 1-6 0 6 1-4 0 4 1-5 0 5 1-4 0 4 1-4 0 4 1-4 0 4 1-4 0 4 1-4 0 5 1-7 0 6 1-5 0 5 1-4 0 4 1-4 0 5 1-5 0 4 1-4 0 5 1-7 0 7 1-7 0 7 1-7 0 7 1-6 0 5 1-6 0 7 1-8 0 9 1-8 0 7 1-5 0 4 1-4 0 6 1-6 0 4 1-4 0 4 1-4 0 4 1-5 0 5 1-5 0 5 1-4 0 6 1-6 0 4 1-4 0 6 1-6 0 6 1-6 0 4 1-4 0 4 1-4 0 6 1-6 0 4 1-6 0 6 1-4 0 4 1-4 0 4 1-7 0 7 1-4 0 4 1-4 0 4 1-4 0 4 1-7 0 7 1-5 0 5 1-4 0 6 1-6 0 4 1-4 0 5 1-7 0 6 1-4 0 4 1-5 0 7 1-6 0 4 1-4 0 4 1-4 0 4 1-5 0 5 1-4 0 6 1-6 0 7 1-7 0 4 1-4 0 5 1-5 0 6 1-6 0 4 1-7 0 7 1-4 0 6 1-6 0 4 1-4 0 5 1-5 0 7 1-7 0 4 1-4 0 4 1-4 0 4 1-7 0 7 1-4 0 6 1-6 0 4 1-5 0 5 1-4 0 4 1-4 0 4 1-4 0 5 1-5 0 4 1-4 0 4 1-4 0 4 1-7 0 7 1-4 0 4 1-4 0 4 1-4 0 4 1-4 0 7 1-7 0 6 1-7 0 5 1-4 0 6 1-6 0 4 1-4 0 4 1-4 0 4 1-4 0 4 1-4 0 4 1-7 0 7 1-4 0 4 1-4 0 6 1-6 0 4 1-4 0 4 1-6 0 6 1-4 0 4 1-4 0 5 1-5 0 4 1-4 0 4 1-4 0 4 1-4 0 4 1-4 0 6 1-6 0 6 1-6 0 4 1-4 0 6 1-8 0 6 1-6 0 6 1-4 0 4 1-4 0 4 1-4 0 4 1-4 0 4 1-4 0 4 1-4 0 4 1-4 0 5 1-5 0 4 1-4 0 4 1-6 0 6 1-4 0 4 1-4 0 4 1-4 0 7 1-9 0 6 1-6 0 6 1-4 0 5 1-5 0 4 1-6 0 7 1-5 0 4 1-5 0 5 1-4 0 4 1-4 0 5 1-5 0 4 1-5 0 7 1-6 0 5 1-7 0 6 1-5 0 6 1-7 0 9 1-8 0 6 1-8 0 7 1-4 0 4 1-4 0 5 1-6 0 5 1-5 0 5 1-4 0 4 1-4 0 4 1-4 0 6 1-8 0 7 1-9 0 10 1-8 0 8 1-7 0 7 1-7 0 7 1-7 0 7 1-7 0 6 1-5 0 4 1-4 0 4 1-4 0 5 1-7 0 7 1-5 0 4 1-4 0 4 1-4 0 6 1-6 0 4 1-4 0 4 1-4 0 4 1-5 0 6 1-8 0 9 1-9 0 11 1-11 0 10 1-8 0 6 1-5 0 4 1-6 0 6 1-4 0 4 1-4 0 4 1-4 0 7 1-7 0 4 1-4 0 4 1-4 0 4 1-4 0 4 1-4 0 4 1-6 0 6 1-4 0 4 1-4 0 6 1-9 0 7 1-4 0 4 1-4 0 7 1-7 0 4 1-4 0 4 1-4 0 6 1-8 0 6 1-4 0 4 1-4 0 4 1-4 0 4 1-6 0 6 1-4 0 4 1-4 0 4 1-4 0 6 1-6 0 6 1-7 0 6 1-8 0 9 1-7 0 6 1-7 0 6 1-4 0 4 1-4 0 4 1-6 0 7 1-8 0 9 1-8 0 8 1-6 0 4 1-4 0 4 1-4 0 4 1-4 0 5 1-4 0 3 1-4 0 4 1-4 0 4 1-4 0 4 1-6 0 6 1-4 0 4 1-4 0 4 1-4 0 4 1-4 0 4 1-4 0 4 1-4 0 6 1-7 0 6 1-7 0 7 1-7 0 8 1-8 0 7 1-6 0 6 1-5 0 4 1-5 0 6 1-5 0 6 1-6 0 4 1-4 0 4 1-4 0 6 1-6 0 7 1-7 0 5 1-5 0 4 1-4 0 5 1-5 0 6 1-8 0 6 1-5 0 5 1-5 0 5 1-6 0 7 1-7 0 8 1-8 0 7 1-6 0 6 1-5 0 6 1-6 0 4 1-4 0 4 1-4 0 5 1-6 0 6 1-7 0 8 1-8 0 8 1-8 0 8 1-7 0 6 1-5 0 4 1-4 0 4 1-4 0 4 1-4 0 4 1-5 0 5 1-5 0 5 1-5 0 5 1-4 0 4 1-4 0 5 1-7 0 6 1-4 0 4 1-4 0 4 1-4 0 4 1-4 0 4 1-5 0 6 1-7 0 8 1-8 0 9 1-8 0 7 1-8 0 7 1-6 0 5 1-7 0 8 1-8 0 9 1-9 0 9 1-8 0 8 1-7 0 6 1-5 0 4 1-6 0 6 1-4 0 4 1-4 0 4 1-4 0 4 1-4 0 4 1-4 0 4 1-4 0 6 1-6 0 4 1-5 0 5 1-4 0 4 1-4 0 6 1-6 0 4 1-4 0 4 1-6 0 6 1-4 0 4 1-4 0 5 1-5 0 4 1-4 0 4 1-4 0 4 1-5 0 5 1-4 0 7 1-7 0 6 1-6 0 4 1-4 0 6 1-7 0 5 1-4 0 7 1-7 0 4 1-4 0 4 1-4 0 4 1-4 0 6 1-8 0 6 1-4 0 4 1-4 0 6 1-6 0 5 1-6 0 5 1-4 0 4 1-5 0 5 1-4 0 4 1-4 0 4 1-4 0 4 1-4 0 6 1-6 0 4 1-4 0 4 1-4 0 4 1-4 0 4 1-4 0 4 1-6 0 6 1-4 0 4 1-5 0 5 1-5 0 5 1-5 0 5 1-4 0 5 1-8 0 7 1-5 0 6 1-8 0 9 1-7 0 6 1-5 0 4 1-4 0 4 1-4 0 4 1-4 0 5 1-8 0 7 1-4 0 4 1-4 0 4 1-4 0 4 1-6 0 6 1-4 0 4 1-4 0 4 1-4 0 4 1-4 0 5 1-7 0 6 1-5 0 7 1-8 0 6 1-4 0 4 1-5 0 7 1-6 0 4 1-4 0 4 1-6 0 6 1-7 0 7 1-4 0 6 1-6 0 6 1-7 0 5 1-4 0 4 1-4 0 6 1-6 0 4 1-4 0 6 1-6 0 4 1-5 0 6 1-6 0 7 1-8 0 8 1-7 0 7 1-7 0 5 1-7 0 8 1-9 0 10 1-8 0 7 1-5 0 4 1-4 0 4 1-4 0 4 1-4 0 5 1-7 0 6 1-4 0 4 1-4 0 4 1-4 0 4 1-4 0 4 1-6 0 6 1-5 0 6 1-8 0 9 1-7 0 6 1-5 0 6 1-9 0 7 1-6 0 8 1-9 0 10 1-9 0 7 1-7 0 8 1-8 0 8 1-6 0 4 1-4 0 5 1-5 0 6 1-6 0 6 1-6 0 6 1-6 0 5 1-5 0 4 1-4 0 4 1-4 0 4 1-4 0 4 1-4 0 7 1-8 0 6 1-5 0 4 1-4 0 4 1-4 0 5 1-5 0 4 1-4 0 4 1-5 0 6 1-7 0 9 1-10 0 11 1-10 0 8 1-7 0 6 1-5 0 4 1-4 0 4 1-5 0 6 1-7 0 8 1-8 0 8 1-7 0 7 1-8 0 7 1-5 0 4 1-4 0 4 1-4 0 4 1-4 0 4 1-4 0 4 1-4 0 4 1-5 0 5 1-5 0 8 1-9 0 9 1-8 0 6 1-5 0 4 1-4 0 4 1-6 0 6 1-6 0 6 1-6 0 6 1-5 0 7 1-8 0 9 1-8 0 7 1-6 0 4 1-4 0 4 1-6 0 6 1-4 0 4 1-4 0 6 1-6 0 4 1-4 0 6 1-9 0 7 1-6 0 6 1-5 0 5 1-4 0 4 1-4 0 6 1-6 0 6 1-6 0 4 1-4 0 4 1-4 0 5 1-5 0 4 1-4 0 4 1-4 0 4 1-4 0 4 1-5 0 5 1-4 0 4 1-4 0 7 1-7 0 4 1-6 0 6 1-4 0 4 1-4 0 4 1-4 0 4 1-6 0 6 1-4 0 4 1-4 0 4 1-4 0 5 1-5 0 6 1-6 0 4 1-4 0 4 1-5 0 5 1-4 0 4 1-6 0 6 1-4 0 4 1-6 0 6 1-4 0 4 1-4 0 6 1-6 0 4 1-6 0 6 1-4 0 4 1-4 0 6 1-9 0 7 1-4 0 4 1-5 0 5 1-4 0 4 1-4 0 4 1-4 0 6 1-7 0 5 1-4 0 4 1-4 0 5 1-5 0 4 1-4 0 6 1-6 0 6 1-6 0 4 1-4 0 6 1-6 0 4 1-4 0 4 1-4 0 4 1-4 0 4 1-4 0 4 1-6 0 6 1-7 0 7 1-4 0 5 1-5 0 4 1-4 0 4 1-4 0 4 1-4 0 6 1-6 0 4 1-4 0 4 1-6 0 6 1-4 0 4 1-4 0 4 1-5 0 5 1-4 0 4 1-4 0 5 1-5 0 4 1-4 0 6 1-6 0 4 1-4 0 4 1-5 0 5 1-4 0 4 1-4 0 4 1-5 0 5 1-6 0 6 1-4 0 6 1-9 0 7 1-4 0 4 1-5 0 5 1-6 0 6 1-4 0 5 1-5 0 4 1-4 0 4 1-4 0 4 1-4 0 5 1-5 0 6 1-6 0 4 1-4 0 4 1-4 0 5 1-5 0 4 1-7 0 7 1-4 0 4 1-4 0 4 1-6 0 6 1-4 0 4 1-4 0 4 1-4 0 4 1-4 0 4 1-4 0 4 1-4 0 5 1-7 0 6 1-4 0 4 1-4 0 4 1-4 0 4 1-4 0 6 1-6 0 6 1-7 0 5 1-4 0 4 1-4 0 6 1-9 0 7 1-6 0 6 1-4 0 4 1-4 0 4 1-4 0 4 1-4 0 4 1-4 0 5 1-7 0 6 1-6 0 6 1-6 0 6 1-7 0 8 1-5 0 4 1-6 0 6 1-5 0 5 1-4 0 4 1-4 0 6 1-6 0 4 1-4 0 6 1-7 0 5 1-4 0 4 1-4 0 5 1-5 0 4 1-4 0 4 1-4 0 4 1-4 0 4 1-4 0 4 1-4 0 4 1-7 0 8 1-5 0 7 1-7 0 4 1-4 0 6 1-6 0 4 1-4 0 4 1-4 0 4 1-4 0 6 1-6 0 4 1-4 0 5 1-5 0 4 1-4 0 4 1-4 0 4 1-4 0 5 1-5 0 6 1-6 0 4 1-4 0 4 1-4 0 4 1-4 0 4 1-4 0 4 1-4 0 5 1-6 0 5 1-5 0 5 1-4 0 4"/><path vector-effect="non-scaling-stroke" transform="translate(138.00 482.793) scale(1.001145 0.2500)" stroke="#ff0000" d="M0-2l0 5 1-4 0 5 1-6 0 4 1-5 0 7 1-8 0 8 1-7 0 6 1-5 0 4 1-4 0 3 1-4 0 4 1-2 0 2 1-2 0 3 1-4 0 3 1-3 0 6 1-6 0 3 1-3 0 6 1-6 0 3 1-3 0 3 1-2 0 2 1-2 0 5 1-5 0 3 1-4 0 3 1-3 0 3 1-4 0 5 1-3 0 3 1-5 0 5 1-6 0 5 1-3 0 3 1-3 0 3 1-4 0 4 1-2 0 2 1-2 0 2 1-4 0 5 1-5 0 5 1-4 0 4 1-3 0 2 1-2 0 2 1-3 0 3 1-5 0 6 1-3 0 2 1-3 0 4 1-4 0 6 1-7 0 4 1-3 0 3 1-3 0 5 1-7 0 5 1-3 0 3 1-3 0 5 1-6 0 4 1-4 0 4 1-3 0 5 1-7 0 5 1-2 0 2 1-3 0 5 1-4 0 2 1-4 0 5 1-4 0 4 1-3 0 2 1-4 0 4 1-5 0 6 1-3 0 3 1-3 0 4 1-4 0 4 1-4 0 5 1-6 0 4 1-3 0 3 1-3 0 2 1-2 0 4 1-7 0 5 1-2 0 2 1-3 0 5 1-6 0 7 1-8 0 9 1-8 0 7 1-8 0 6 1-6 0 6 1-4 0 5 1-7 0 6 1-6 0 5 1-3 0 6 1-5 0 2 1-2 0 3 1-4 0 3 1-4 0 4 1-3 0 3 1-5 0 5 1-5 0 5 1-2 0 2 1-2 0 3 1-3 0 2 1-2 0 2 1-2 0 3 1-4 0 4 1-6 0 6 1-6 0 5 1-2 0 3 1-3 0 4 1-4 0 4 1-5 0 3 1-2 0 2 1-5 0 6 1-5 0 4 1-3 0 4 1-3 0 4 1-4 0 3 1-3 0 5 1-5 0 3 1-3 0 5 1-5 0 5 1-5 0 3 1-3 0 4 1-5 0 3 1-3 0 3 1-2 0 5 1-5 0 2 1-2 0 4 1-4 0 3 1-3 0 5 1-7 0 5 1-3 0 2 1-3 0 4 1-3 0 4 1-6 0 5 1-7 0 9 1-9 0 9 1-9 0 8 1-6 0 6 1-7 0 8 1-9 0 9 1-9 0 10 1-10 0 9 1-7 0 6 1-5 0 4 1-3 0 3 1-3 0 5 1-5 0 5 1-5 0 4 1-6 0 6 1-7 0 8 1-7 0 6 1-6 0 4 1-3 0 5 1-5 0 4 1-6 0 8 1-8 0 9 1-9 0 8 1-7 0 5 1-3 0 2 1-4 0 5 1-3 0 5 1-5 0 3 1-3 0 2 1-2 0 5 1-5 0 2 1-3 0 3 1-2 0 2 1-2 0 2 1-2 0 2 1-2 0 3 1-3 0 3 1-3 0 5 1-5 0 5 1-5 0 5 1-6 0 3 1-2 0 2 1-2 0 2 1-4 0 4 1-2 0 5 1-6 0 3 1-3 0 3 1-2 0 4 1-6 0 7 1-8 0 9 1-8 0 6 1-5 0 4 1-3 0 4 1-4 0 2 1-3 0 3 1-3 0 3 1-2 0 3 1-4 0 3 1-2 0 2 1-2 0 2 1-3 0 4 1-5 0 5 1-6 0 8 1-7 0 5 1-3 0 5 1-8 0 5 1-2 0 4 1-4 0 4 1-4 0 4 1-4 0 2 1-2 0 5 1-5 0 2 1-2 0 2 1-3 0 3 1-3 0 4 1-4 0 3 1-2 0 5 1-6 0 5 1-5 0 5 1-6 0 4 1-2 0 2 1-2 0 2 1-2 0 3 1-4 0 3 1-4 0 4 1-4 0 5 1-3 0 5 1-6 0 3 1-2 0 3 1-4 0 3 1-4 0 4 1-3 0 4 1-5 0 5 1-3 0 2 1-2 0 3 1-5 0 4 1-3 0 4 1-5 0 5 1-4 0 3 1-2 0 2 1-2 0 3 1-3 0 2 1-3 0 3 1-4 0 4 1-3 0 3 1-3 0 3 1-2 0 4 1-5 0 3 1-2 0 3 1-5 0 4 1-3 0 4 1-3 0 4 1-5 0 6 1-5 0 2 1-2 0 2 1-2 0 3 1-4 0 4 1-5 0 4 1-2 0 5 1-6 0 3 1-2 0 2 1-3 0 3 1-5 0 5 1-5 0 5 1-2 0 2 1-2 0 3 1-3 0 3 1-3 0 4 1-5 0 6 1-5 0 2 1-2 0 2 1-2 0 4 1-5 0 4 1-3 0 2 1-3 0 5 1-4 0 2 1-3 0 3 1-2 0 4 1-5 0 3 1-4 0 4 1-2 0 2 1-2 0 3 1-3 0 2 1-2 0 2 1-3 0 4 1-3 0 2 1-3 0 6 1-5 0 2 1-4 0 5 1-6 0 8 1-9 0 10 1-9 0 8 1-6 0 4 1-6 0 5 1-4 0 5 1-6 0 8 1-8 0 8 1-8 0 8 1-8 0 8 1-6 0 4 1-4 0 3 1-3 0 6 1-8 0 5 1-3 0 3 1-2 0 2 1-3 0 4 1-6 0 5 1-3 0 4 1-4 0 4 1-3 0 2 1-2 0 3 1-3 0 3 1-3 0 2 1-2 0 2 1-2 0 2 1-4 0 5 1-3 0 5 1-7 0 5 1-6 0 5 1-2 0 2 1-2 0 2 1-2 0 3 1-4 0 5 1-6 0 6 1-7 0 9 1-8 0 6 1-4 0 3 1-4 0 4 1-6 0 7 1-8 0 8 1-7 0 8 1-9 0 10 1-11 0 10 1-9 0 8 1-6 0 5 1-5 0 5 1-3 0 3 1-3 0 3 1-3 0 3 1-5 0 4 1-4 0 6 1-7 0 9 1-8 0 6 1-7 0 5 1-5 0 5 1-4 0 4 1-4 0 4 1-5 0 5 1-4 0 4 1-2 0 5 1-5 0 3 1-5 0 4 1-3 0 3 1-3 0 3 1-2 0 3 1-3 0 2 1-2 0 3 1-4 0 4 1-3 0 2 1-3 0 6 1-6 0 5 1-6 0 4 1-2 0 5 1-5 0 3 1-4 0 4 1-3 0 3 1-5 0 5 1-6 0 7 1-7 0 9 1-9 0 9 1-9 0 8 1-8 0 6 1-6 0 7 1-7 0 8 1-9 0 10 1-9 0 9 1-7 0 5 1-5 0 6 1-5 0 3 1-3 0 2 1-3 0 3 1-4 0 5 1-6 0 6 1-6 0 7 1-8 0 11 1-9 0 6 1-4 0 3 1-3 0 2 1-2 0 2 1-2 0 2 1-2 0 2 1-5 0 5 1-5 0 5 1-4 0 5 1-4 0 3 1-2 0 5 1-6 0 5 1-5 0 4 1-4 0 4 1-6 0 5 1-2 0 2 1-4 0 4 1-2 0 3 1-5 0 4 1-5 0 5 1-2 0 3 1-3 0 3 1-3 0 4 1-4 0 3 1-3 0 3 1-3 0 3 1-4 0 4 1-4 0 3 1-2 0 4 1-5 0 3 1-4 0 4 1-2 0 3 1-3 0 3 1-3 0 2 1-2 0 2 1-3 0 5 1-5 0 4 1-5 0 4 1-4 0 5 1-3 0 5 1-8 0 5 1-2 0 4 1-5 0 3 1-3 0 6 1-5 0 2 1-2 0 3 1-4 0 4 1-4 0 5 1-4 0 3 1-6 0 5 1-2 0 4 1-7 0 6 1-4 0 4 1-4 0 4 1-4 0 3 1-3 0 3 1-3 0 3 1-4 0 4 1-3 0 3 1-2 0 4 1-7 0 6 1-3 0 4 1-4 0 4 1-4 0 4 1-5 0 3 1-4 0 4 1-2 0 2 1-2 0 2 1-2 0 2 1-2 0 5 1-5 0 3 1-3 0 2 1-4 0 5 1-5 0 6 1-6 0 7 1-7 0 7 1-9 0 10 1-9 0 7 1-7 0 7 1-7 0 7 1-6 0 7 1-7 0 6 1-6 0 6 1-7 0 8 1-8 0 7 1-7 0 5 1-2 0 2 1-2 0 2 1-5 0 7 1-7 0 8 1-6 0 5 1-4 0 5 1-5 0 4 1-5 0 3 1-3 0 4 1-4 0 3 1-2 0 3 1-5 0 4 1-2 0 4 1-6 0 4 1-2 0 4 1-5 0 3 1-5 0 5 1-5 0 5 1-2 0 3 1-3 0 2 1-5 0 5 1-2 0 4 1-7 0 5 1-2 0 5 1-6 0 3 1-2 0 5 1-5 0 2 1-4 0 5 1-4 0 3 1-3 0 5 1-4 0 2 1-2 0 3 1-4 0 6 1-6 0 3 1-2 0 3 1-3 0 2 1-5 0 5 1-3 0 5 1-4 0 3 1-3 0 4 1-4 0 4 1-4 0 2 1-2 0 3 1-4 0 3 1-2 0 3 1-3 0 3 1-3 0 2 1-3 0 3 1-2 0 2 1-2 0 2 1-2 0 3 1-3 0 5 1-7 0 4 1-5 0 5 1-5 0 5 1-2 0 2 1-3 0 3 1-4 0 4 1-2 0 5 1-6 0 4 1-3 0 2 1-2 0 5 1-5 0 2 1-2 0 2 1-2 0 4 1-4 0 3 1-3 0 2 1-2 0 5 1-6 0 3 1-4 0 4 1-2 0 2 1-2 0 4 1-7 0 5 1-4 0 5 1-3 0 2 1-5 0 6 1-3 0 3 1-4 0 3 1-2 0 2 1-5 0 7 1-7 0 8 1-7 0 5 1-3 0 3 1-4 0 4 1-5 0 5 1-3 0 2 1-5 0 5 1-2 0 4 1-4 0 2 1-2 0 4 1-5 0 4 1-6 0 8 1-8 0 9 1-9 0 8 1-6 0 4 1-5 0 4 1-2 0 5 1-6 0 3 1-2 0 2 1-3 0 6 1-6 0 4 1-5 0 6 1-6 0 7 1-7 0 6 1-5 0 5 1-6 0 4 1-3 0 4 1-3 0 2 1-2 0 3 1-4 0 4 1-4 0 3 1-2 0 4 1-6 0 6 1-7 0 9 1-8 0 6 1-6 0 7 1-7 0 8 1-9 0 8 1-6 0 4 1-3 0 3 1-3 0 2 1-2 0 5 1-8 0 6 1-4 0 4 1-5 0 4 1-3 0 6 1-5 0 2 1-2 0 3 1-5 0 4 1-4 0 4 1-3 0 3 1-2 0 2 1-3 0 6 1-7 0 4 1-2 0 2 1-2 0 2 1-2 0 3 1-3 0 5 1-6 0 5 1-4 0 2 1-2 0 5 1-8 0 5 1-2 0 5 1-5 0 3 1-3 0 3 1-3 0 2 1-4 0 5 1-3 0 2 1-2 0 4 1-5 0 3 1-3 0 6 1-5 0 5 1-5 0 2 1-2 0 4 1-6 0 5 1-4 0 3 1-2 0 2 1-5 0 5 1-2 0 2 1-2 0 2 1-2 0 2 1-2 0 4 1-4 0 2 1-2 0 2 1-2 0 3 1-4 0 3 1-2 0 3 1-4 0 3 1-3 0 3 1-4 0 4 1-2 0 2 1-3 0 5 1-7 0 5 1-2 0 2 1-2 0 4 1-5 0 5 1-4 0 2 1-3 0 4 1-3 0 2 1-2 0 3 1-3 0 4 1-6 0 4 1-2 0 2 1-2 0 4 1-5 0 5 1-7 0 5 1-2 0 4 1-5 0 5 1-6 0 5 1-5 0 5 1-3 0 4 1-6 0 6 1-7 0 8 1-7 0 6 1-4 0 5 1-6 0 4 1-3 0 2 1-4 0 4 1-2 0 3 1-3 0 5 1-6 0 3 1-2 0 5 1-6 0 3 1-5 0 6 1-4 0 4 1-3 0 3 1-3 0 3 1-5 0 4 1-3 0 3 1-3 0 3 1-2 0 3 1-4 0 4 1-3 0 2 1-2 0 2 1-2 0 3 1-3 0 4 1-4 0 2 1-2 0 2 1-5 0 5 1-5 0 5 1-2 0 3 1-3 0 5 1-7 0 4 1-5 0 5 1-3 0 3 1-2 0 4 1-4 0 5 1-5 0 3 1-3 0 4 1-7 0 5 1-3 0 3 1-3 0 3 1-2 0 5 1-5 0 4 1-7 0 5 1-3 0 3 1-3 0 3 1-2 0 3 1-3 0 5 1-8 0 5 1-2 0 5 1-5 0 4 1-5 0 6 1-6 0 3 1-3 0 4 1-4 0 5 1-5 0 3 1-4 0 4 1-3 0 3 1-5 0 5 1-3 0 3 1-5 0 5 1-2 0 4 1-5 0 4 1-6 0 6 1-3 0 2 1-2 0 3 1-3 0 2 1-4 0 4 1-3 0 4 1-3 0 4 1-6 0 4 1-3 0 3 1-2 0 2 1-3 0 3 1-2 0 4 1-4 0 2 1-2 0 3 1-3 0 2 1-2 0 3 1-3 0 3 1-3 0 3 1-4 0 6 1-6 0 5 1-5 0 4 1-3 0 3 1-4 0 5 1-6 0 4 1-2 0 2 1-5 0 6 1-3 0 5 1-6 0 4 1-3 0 2 1-4 0 4 1-3 0 5 1-4 0 2 1-5 0 5 1-2 0 2 1-3 0 4 1-3 0 3 1-3 0 3 1-3 0 2 1-2 0 2 1-4 0 4 1-2 0 4 1-4 0 2 1-2 0 4 1-7 0 6 1-3 0 2 1-3 0 5 1-6 0 4 1-2 0 2 1-2 0 2 1-2 0 3 1-3 0 5 1-5 0 2 1-3 0 3 1-2 0 3 1-3 0 2 1-3 0 3 1-2 0 3 1-6 0 5 1-4 0 4 1-4 0 6 1-8 0 10 1-8 0 6 1-4 0 3 1-3 0 4 1-4 0 3 1-3 0 3 1-5 0 5 1-6 0 7 1-8 0 9 1-7 0 6 1-5 0 3 1-2 0 4 1-4 0 3 1-3 0 2 1-2 0 3 1-5 0 5 1-6 0 5 1-3 0 5 1-4 0 3 1-3 0 4 1-4 0 3 1-3 0 4 1-4 0 3 1-3 0 2 1-3 0 3 1-2 0 3 1-3 0 2 1-3 0 4 1-5 0 4 1-2 0 2 1-2 0 2 1-3 0 3 1-4 0 4 1-3 0 4 1-6 0 6 1-5 0 4 1-2 0 3 1-4 0 3 1-3 0 3 1-2 0 3 1-3 0 5 1-5 0 2 1-4 0 4 1-3 0 5 1-4 0 5 1-5 0 2 1-3 0 3 1-2 0 3 1-4 0 3 1-2 0 2 1-2 0 2 1-3 0 3 1-3 0 3 1-3 0 3 1-2 0 2 1-3 0 3 1-2 0 5 1-8 0 6 1-3 0 3 1-4 0 4 1-4 0 6 1-5 0 2 1-4 0 4 1-3 0 3 1-3 0 3 1-3 0 6 1-6 0 3 1-2 0 2 1-2 0 2 1-3 0 3 1-2 0 4 1-6 0 4 1-5 0 5 1-4 0 5 1-3 0 2 1-3 0 3 1-2 0 4 1-4 0 3 1-4 0 4 1-6 0 5 1-2 0 3 1-4 0 3 1-3 0 3 1-2 0 3 1-3 0 4 1-4 0 3 1-3 0 4 1-5 0 3 1-3 0 3 1-2 0 2 1-3 0 6 1-7 0 5 1-3 0 2 1-2 0 2 1-2 0 2 1-4 0 4 1-2 0 3 1-3 0 3 1-5 0 5 1-5 0 5 1-6 0 5 1-3 0 3 1-3 0 3 1-4 0 4 1-4 0 4 1-2 0 5 1-6 0 4"/><path vector-effect="non-scaling-stroke" transform="translate(138.00 514.336) scale(1.001145 0.2500)" stroke="#0000ff" d="M0-2l0 4 1-4 0 5 1-5 0 4 1-5 0 7 1-8 0 6 1-4 0 4 1-4 0 4 1-4 0 6 1-6 0 4 1-4 0 5 1-6 0 5 1-4 0 4 1-4 0 4 1-4 0 7 1-9 0 6 1-4 0 4 1-4 0 4 1-4 0 4 1-4 0 4 1-6 0 6 1-4 0 4 1-4 0 4 1-4 0 6 1-8 0 6 1-5 0 5 1-4 0 6 1-6 0 4 1-5 0 5 1-6 0 6 1-6 0 7 1-6 0 5 1-5 0 5 1-4 0 4 1-4 0 6 1-6 0 4 1-4 0 4 1-4 0 6 1-6 0 4 1-4 0 5 1-6 0 5 1-4 0 4 1-4 0 4 1-4 0 4 1-4 0 4 1-5 0 5 1-4 0 4 1-6 0 6 1-4 0 4 1-4 0 4 1-4 0 4 1-4 0 4 1-4 0 4 1-4 0 4 1-4 0 4 1-4 0 7 1-9 0 6 1-4 0 4 1-4 0 4 1-4 0 4 1-4 0 5 1-5 0 4 1-4 0 4 1-4 0 4 1-5 0 5 1-6 0 7 1-7 0 8 1-8 0 7 1-6 0 6 1-5 0 4 1-4 0 4 1-4 0 4 1-4 0 4 1-4 0 5 1-6 0 6 1-7 0 8 1-8 0 8 1-8 0 9 1-8 0 6 1-7 0 6 1-4 0 4 1-4 0 4 1-4 0 4 1-5 0 5 1-4 0 7 1-7 0 4 1-4 0 5 1-8 0 7 1-4 0 5 1-5 0 6 1-6 0 6 1-6 0 6 1-6 0 5 1-7 0 6 1-6 0 6 1-4 0 4 1-4 0 6 1-6 0 4 1-4 0 5 1-5 0 6 1-6 0 4 1-4 0 4 1-4 0 4 1-4 0 5 1-5 0 4 1-4 0 4 1-4 0 4 1-4 0 6 1-8 0 6 1-4 0 5 1-8 0 7 1-6 0 7 1-7 0 7 1-7 0 7 1-6 0 6 1-5 0 6 1-6 0 6 1-6 0 4 1-4 0 4 1-6 0 6 1-4 0 6 1-6 0 4 1-7 0 7 1-5 0 5 1-4 0 6 1-6 0 4 1-4 0 4 1-4 0 5 1-5 0 4 1-4 0 4 1-4 0 6 1-6 0 4 1-4 0 4 1-6 0 6 1-4 0 7 1-8 0 5 1-4 0 4 1-4 0 4 1-5 0 5 1-4 0 4 1-4 0 5 1-5 0 4 1-6 0 6 1-4 0 6 1-6 0 6 1-6 0 4 1-4 0 5 1-5 0 4 1-4 0 4 1-4 0 4 1-4 0 4 1-4 0 4 1-6 0 6 1-4 0 4 1-4 0 4 1-7 0 7 1-4 0 4 1-4 0 6 1-6 0 4 1-4 0 4 1-4 0 6 1-6 0 4 1-4 0 4 1-4 0 4 1-4 0 7 1-9 0 6 1-4 0 6 1-6 0 4 1-4 0 4 1-4 0 4 1-4 0 4 1-4 0 4 1-5 0 6 1-7 0 8 1-9 0 10 1-9 0 8 1-7 0 6 1-5 0 4 1-4 0 4 1-4 0 4 1-4 0 5 1-5 0 4 1-4 0 4 1-4 0 4 1-4 0 4 1-4 0 6 1-6 0 4 1-4 0 4 1-6 0 6 1-4 0 4 1-4 0 4 1-4 0 6 1-6 0 4 1-4 0 7 1-9 0 6 1-5 0 6 1-7 0 7 1-6 0 6 1-5 0 4 1-7 0 7 1-4 0 6 1-5 0 3 1-4 0 4 1-4 0 4 1-4 0 6 1-6 0 6 1-6 0 4 1-4 0 4 1-4 0 4 1-4 0 6 1-6 0 4 1-4 0 4 1-5 0 5 1-4 0 4 1-4 0 4 1-4 0 4 1-4 0 4 1-4 0 4 1-4 0 4 1-4 0 4 1-4 0 4 1-4 0 7 1-8 0 5 1-6 0 6 1-4 0 6 1-6 0 5 1-5 0 4 1-4 0 4 1-4 0 4 1-4 0 4 1-4 0 4 1-4 0 4 1-4 0 4 1-4 0 5 1-5 0 4 1-4 0 4 1-4 0 6 1-6 0 4 1-4 0 4 1-4 0 4 1-5 0 7 1-7 0 9 1-9 0 7 1-8 0 9 1-10 0 10 1-10 0 10 1-8 0 7 1-6 0 4 1-5 0 5 1-6 0 9 1-9 0 7 1-7 0 8 1-7 0 6 1-6 0 5 1-4 0 4 1-4 0 6 1-6 0 6 1-8 0 8 1-7 0 7 1-7 0 7 1-8 0 7 1-5 0 4 1-4 0 4 1-5 0 5 1-7 0 7 1-4 0 5 1-7 0 6 1-4 0 4 1-6 0 6 1-4 0 5 1-5 0 5 1-5 0 4 1-4 0 4 1-4 0 5 1-5 0 6 1-8 0 6 1-4 0 4 1-4 0 5 1-5 0 4 1-5 0 8 1-10 0 9 1-10 0 11 1-10 0 9 1-7 0 6 1-6 0 5 1-4 0 7 1-8 0 5 1-4 0 4 1-4 0 5 1-5 0 4 1-4 0 4 1-5 0 5 1-4 0 6 1-6 0 4 1-4 0 4 1-5 0 7 1-7 0 5 1-7 0 7 1-4 0 4 1-4 0 4 1-6 0 7 1-8 0 9 1-8 0 9 1-7 0 4 1-4 0 6 1-6 0 4 1-4 0 4 1-4 0 5 1-5 0 5 1-5 0 4 1-4 0 6 1-6 0 4 1-4 0 4 1-4 0 4 1-4 0 5 1-5 0 6 1-6 0 7 1-7 0 6 1-6 0 4 1-4 0 5 1-6 0 5 1-4 0 4 1-4 0 5 1-6 0 5 1-4 0 4 1-4 0 4 1-4 0 7 1-7 0 4 1-5 0 5 1-5 0 6 1-8 0 10 1-8 0 6 1-5 0 4 1-6 0 6 1-4 0 4 1-4 0 5 1-7 0 6 1-4 0 4 1-4 0 4 1-4 0 6 1-6 0 6 1-6 0 4 1-4 0 4 1-4 0 4 1-5 0 6 1-5 0 4 1-4 0 4 1-4 0 4 1-5 0 5 1-5 0 5 1-4 0 5 1-7 0 6 1-4 0 7 1-7 0 4 1-4 0 4 1-7 0 7 1-4 0 4 1-6 0 6 1-5 0 5 1-4 0 4 1-4 0 4 1-4 0 5 1-5 0 4 1-4 0 4 1-4 0 7 1-7 0 6 1-6 0 4 1-4 0 4 1-4 0 6 1-7 0 5 1-4 0 4 1-5 0 5 1-4 0 4 1-6 0 6 1-4 0 4 1-4 0 4 1-4 0 4 1-4 0 6 1-6 0 4 1-5 0 5 1-4 0 4 1-5 0 5 1-4 0 4 1-4 0 4 1-4 0 4 1-4 0 6 1-6 0 4 1-6 0 6 1-4 0 4 1-4 0 4 1-4 0 7 1-10 0 7 1-4 0 4 1-4 0 5 1-5 0 4 1-4 0 7 1-8 0 5 1-7 0 7 1-5 0 5 1-5 0 6 1-8 0 9 1-8 0 7 1-7 0 6 1-5 0 6 1-5 0 4 1-4 0 4 1-4 0 4 1-5 0 5 1-4 0 4 1-4 0 4 1-4 0 4 1-4 0 5 1-5 0 4 1-4 0 7 1-9 0 6 1-7 0 7 1-4 0 4 1-5 0 6 1-7 0 8 1-7 0 6 1-5 0 4 1-4 0 6 1-6 0 4 1-4 0 5 1-8 0 7 1-4 0 7 1-7 0 4 1-4 0 4 1-4 0 5 1-5 0 6 1-6 0 4 1-4 0 4 1-4 0 5 1-5 0 4 1-5 0 6 1-7 0 8 1-7 0 6 1-6 0 7 1-7 0 7 1-7 0 7 1-6 0 5 1-5 0 4 1-4 0 4 1-4 0 4 1-5 0 7 1-8 0 9 1-9 0 8 1-6 0 5 1-6 0 7 1-6 0 4 1-5 0 6 1-7 0 8 1-7 0 6 1-5 0 7 1-7 0 4 1-4 0 4 1-6 0 7 1-7 0 6 1-4 0 4 1-4 0 7 1-8 0 5 1-4 0 4 1-4 0 4 1-4 0 5 1-5 0 4 1-4 0 4 1-5 0 5 1-4 0 4 1-4 0 5 1-5 0 4 1-4 0 4 1-4 0 5 1-5 0 5 1-5 0 4 1-4 0 4 1-4 0 4 1-4 0 4 1-4 0 4 1-4 0 4 1-4 0 4 1-4 0 4 1-4 0 4 1-4 0 4 1-4 0 4 1-4 0 4 1-4 0 4 1-6 0 6 1-4 0 4 1-4 0 4 1-5 0 7 1-7 0 5 1-4 0 4 1-4 0 5 1-5 0 4 1-6 0 6 1-4 0 4 1-4 0 4 1-4 0 4 1-4 0 4 1-7 0 7 1-4 0 6 1-7 0 5 1-4 0 4 1-4 0 4 1-4 0 4 1-4 0 4 1-4 0 7 1-7 0 4 1-5 0 5 1-4 0 4 1-4 0 6 1-6 0 4 1-4 0 5 1-8 0 7 1-4 0 4 1-4 0 4 1-5 0 6 1-6 0 7 1-7 0 6 1-5 0 4 1-4 0 4 1-4 0 5 1-5 0 5 1-5 0 4 1-4 0 4 1-4 0 6 1-6 0 4 1-4 0 4 1-4 0 4 1-4 0 4 1-4 0 4 1-4 0 7 1-7 0 6 1-6 0 4 1-5 0 5 1-4 0 4 1-7 0 7 1-4 0 6 1-6 0 4 1-4 0 4 1-4 0 4 1-4 0 4 1-4 0 4 1-4 0 6 1-6 0 4 1-4 0 4 1-4 0 5 1-5 0 5 1-6 0 8 1-9 0 8 1-7 0 7 1-6 0 5 1-5 0 5 1-5 0 4 1-4 0 4 1-4 0 4 1-5 0 5 1-4 0 6 1-6 0 5 1-5 0 4 1-4 0 4 1-7 0 7 1-5 0 5 1-4 0 6 1-8 0 6 1-4 0 4 1-4 0 6 1-6 0 4 1-4 0 4 1-4 0 4 1-4 0 6 1-6 0 4 1-4 0 4 1-4 0 4 1-4 0 4 1-5 0 5 1-4 0 6 1-6 0 4 1-4 0 4 1-4 0 5 1-6 0 5 1-4 0 4 1-4 0 7 1-7 0 5 1-5 0 5 1-5 0 4 1-5 0 6 1-5 0 4 1-4 0 7 1-7 0 4 1-4 0 7 1-7 0 4 1-4 0 4 1-6 0 6 1-4 0 6 1-6 0 6 1-6 0 5 1-5 0 6 1-6 0 6 1-6 0 4 1-4 0 6 1-6 0 4 1-4 0 6 1-6 0 4 1-4 0 4 1-4 0 4 1-4 0 5 1-5 0 6 1-6 0 7 1-7 0 4 1-6 0 7 1-5 0 4 1-4 0 5 1-5 0 4 1-4 0 4 1-4 0 4 1-4 0 4 1-4 0 4 1-4 0 4 1-4 0 4 1-4 0 4 1-5 0 5 1-4 0 4 1-4 0 4 1-4 0 4 1-4 0 4 1-4 0 7 1-7 0 4 1-4 0 4 1-6 0 6 1-4 0 4 1-4 0 4 1-4 0 4 1-4 0 4 1-4 0 4 1-7 0 7 1-4 0 4 1-6 0 6 1-4 0 6 1-6 0 6 1-6 0 6 1-6 0 4 1-4 0 6 1-6 0 4 1-4 0 4 1-4 0 4 1-4 0 4 1-5 0 5 1-4 0 4 1-6 0 6 1-4 0 5 1-5 0 4 1-4 0 5 1-5 0 4 1-6 0 7 1-7 0 8 1-8 0 7 1-5 0 4 1-6 0 6 1-4 0 5 1-5 0 4 1-4 0 4 1-4 0 7 1-7 0 4 1-4 0 7 1-10 0 7 1-5 0 5 1-4 0 4 1-4 0 4 1-5 0 5 1-4 0 4 1-4 0 4 1-4 0 4 1-5 0 5 1-4 0 5 1-5 0 5 1-5 0 4 1-4 0 4 1-4 0 4 1-6 0 6 1-4 0 4 1-4 0 7 1-7 0 4 1-5 0 5 1-4 0 7 1-7 0 4 1-4 0 4 1-4 0 5 1-7 0 6 1-4 0 4 1-4 0 6 1-6 0 6 1-6 0 4 1-4 0 5 1-5 0 4 1-4 0 7 1-7 0 4 1-4 0 6 1-6 0 4 1-4 0 4 1-4 0 7 1-7 0 7 1-7 0 4 1-4 0 4 1-4 0 4 1-4 0 4 1-7 0 7 1-4 0 4 1-4 0 7 1-7 0 4 1-4 0 4 1-5 0 5 1-5 0 5 1-4 0 7 1-10 0 7 1-4 0 4 1-6 0 6 1-4 0 4 1-4 0 7 1-10 0 7 1-4 0 4 1-4 0 6 1-6 0 4 1-4 0 4 1-6 0 6 1-4 0 5 1-8 0 7 1-4 0 7 1-7 0 4 1-4 0 7 1-7 0 4 1-4 0 4 1-5 0 5 1-4 0 4 1-4 0 6 1-9 0 7 1-5 0 6 1-7 0 9 1-8 0 6 1-7 0 8 1-7 0 6 1-6 0 7 1-8 0 6 1-7 0 7 1-6 0 7 1-8 0 9 1-8 0 8 1-6 0 4 1-4 0 4 1-5 0 5 1-4 0 4 1-7 0 7 1-6 0 6 1-4 0 7 1-7 0 4 1-4 0 5 1-5 0 6 1-6 0 4 1-4 0 4 1-5 0 5 1-4 0 4 1-4 0 5 1-7 0 6 1-5 0 5 1-4 0 4 1-6 0 6 1-6 0 6 1-4 0 4 1-6 0 6 1-4 0 4 1-4 0 4 1-4 0 4 1-6 0 6 1-6 0 6 1-6 0 6 1-4 0 4 1-4 0 4 1-5 0 5 1-4 0 6 1-7 0 5 1-4 0 4 1-4 0 4 1-4 0 4 1-5 0 5 1-4 0 4 1-4 0 4 1-4 0 4 1-4 0 4 1-4 0 4 1-4 0 4 1-5 0 7 1-6 0 4 1-4 0 4 1-6 0 6 1-5 0 6 1-5 0 4 1-4 0 4 1-4 0 6 1-6 0 4 1-4 0 6 1-6 0 4 1-6 0 7 1-5 0 4 1-4 0 4 1-4 0 4 1-4 0 4 1-4 0 4 1-4 0 4 1-4 0 5 1-5 0 4 1-4 0 4 1-4 0 4 1-4 0 6 1-6 0 4 1-4 0 7 1-7 0 6 1-8 0 6 1-4 0 4 1-4 0 4 1-4 0 6 1-6 0 6 1-6 0 4 1-4 0 4 1-4 0 4 1-4 0 5 1-5 0 4 1-6 0 6 1-4 0 5 1-5 0 4 1-6 0 6 1-6 0 6 1-4 0 6 1-6 0 4 1-4 0 4 1-4 0 4 1-4 0 4 1-4 0 4 1-4 0 4 1-4 0 4 1-6 0 7 1-5 0 4 1-7 0 7 1-4 0 4 1-6 0 6 1-4 0 4 1-4 0 6 1-6 0 6 1-6 0 6 1-6 0 4 1-4 0 5 1-5 0 6 1-6 0 4 1-4 0 4 1-4 0 4 1-4 0 4 1-6 0 6 1-6 0 6 1-4 0 4 1-7 0 7 1-5 0 5 1-4 0 4 1-6 0 6 1-4 0 4 1-5 0 5 1-4 0 4 1-4 0 6 1-6 0 4 1-4 0 4 1-4 0 4 1-4 0 4 1-4 0 4 1-4 0 4 1-4 0 4 1-4 0 4 1-4 0 6"/><path vector-effect="non-scaling-stroke" transform="translate(138.00 545.879) scale(1.001145 0.2500)" stroke="#008000" d="M0-3l0 4 1-5 0 5 1-2 0 4 1-5 0 6 1-7 0 6 1-7 0 7 1-7 0 8 1-8 0 8 1-8 0 9 1-10 0 10 1-10 0 10 1-9 0 8 1-8 0 8 1-8 0 8 1-7 0 6 1-6 0 5 1-3 0 4 1-4 0 2 1-2 0 2 1-5 0 5 1-2 0 4 1-4 0 5 1-5 0 3 1-6 0 8 1-5 0 3 1-6 0 5 1-2 0 2 1-4 0 4 1-2 0 2 1-2 0 2 1-5 0 5 1-3 0 3 1-6 0 9 1-5 0 2 1-3 0 3 1-2 0 2 1-2 0 4 1-4 0 2 1-2 0 2 1-2 0 4 1-4 0 4 1-8 0 9 1-7 0 4 1-3 0 3 1-2 0 2 1-5 0 5 1-2 0 5 1-5 0 4 1-4 0 2 1-6 0 10 1-6 0 2 1-2 0 5 1-5 0 2 1-2 0 3 1-3 0 2 1-2 0 2 1-2 0 4 1-6 0 4 1-2 0 5 1-5 0 2 1-2 0 2 1-6 0 9 1-7 0 4 1-2 0 4 1-4 0 4 1-6 0 4 1-2 0 2 1-2 0 2 1-4 0 4 1-2 0 2 1-5 0 5 1-4 0 4 1-2 0 2 1-2 0 2 1-5 0 5 1-5 0 5 1-2 0 2 1-2 0 2 1-2 0 2 1-2 0 3 1-5 0 4 1-3 0 3 1-3 0 4 1-6 0 7 1-7 0 7 1-6 0 6 1-8 0 9 1-8 0 8 1-8 0 9 1-10 0 10 1-10 0 9 1-9 0 9 1-9 0 9 1-9 0 9 1-10 0 11 1-8 0 6 1-6 0 6 1-7 0 6 1-4 0 6 1-5 0 2 1-4 0 4 1-2 0 2 1-5 0 5 1-2 0 2 1-2 0 2 1-2 0 5 1-5 0 2 1-2 0 2 1-2 0 2 1-2 0 2 1-4 0 4 1-2 0 2 1-3 0 3 1-2 0 5 1-9 0 11 1-7 0 3 1-4 0 3 1-2 0 5 1-5 0 3 1-3 0 5 1-7 0 4 1-2 0 2 1-2 0 2 1-2 0 2 1-2 0 2 1-2 0 2 1-4 0 4 1-4 0 4 1-2 0 5 1-5 0 2 1-4 0 4 1-2 0 2 1-3 0 3 1-2 0 2 1-4 0 4 1-2 0 2 1-5 0 5 1-2 0 4 1-7 0 8 1-5 0 2 1-5 0 5 1-5 0 5 1-2 0 2 1-2 0 2 1-2 0 2 1-2 0 2 1-2 0 3 1-3 0 2 1-6 0 10 1-6 0 5 1-5 0 4 1-4 0 4 1-6 0 4 1-4 0 4 1-4 0 4 1-3 0 3 1-4 0 4 1-2 0 2 1-2 0 2 1-2 0 3 1-3 0 2 1-2 0 4 1-4 0 2 1-2 0 2 1-4 0 4 1-2 0 3 1-3 0 5 1-5 0 2 1-2 0 4 1-4 0 2 1-5 0 5 1-3 0 3 1-2 0 3 1-3 0 2 1-2 0 2 1-2 0 2 1-5 0 5 1-2 0 2 1-2 0 3 1-5 0 4 1-3 0 3 1-4 0 4 1-2 0 2 1-2 0 4 1-7 0 9 1-7 0 3 1-2 0 2 1-2 0 1 1-1 0 1 1-3 0 4 1-2 0 2 1-2 0 2 1-2 0 2 1-2 0 4 1-4 0 4 1-4 0 2 1-2 0 2 1-2 0 3 1-3 0 4 1-7 0 5 1-2 0 2 1-2 0 2 1-2 0 5 1-5 0 2 1-2 0 3 1-7 0 10 1-6 0 2 1-2 0 2 1-3 0 3 1-2 0 5 1-5 0 2 1-2 0 5 1-7 0 4 1-2 0 2 1-2 0 2 1-2 0 3 1-5 0 4 1-2 0 2 1-2 0 2 1-2 0 2 1-3 0 4 1-5 0 7 1-8 0 7 1-7 0 8 1-8 0 8 1-9 0 9 1-9 0 10 1-9 0 9 1-9 0 8 1-8 0 9 1-9 0 8 1-8 0 8 1-7 0 6 1-5 0 5 1-4 0 4 1-4 0 4 1-6 0 4 1-2 0 5 1-7 0 4 1-4 0 4 1-4 0 4 1-4 0 4 1-2 0 2 1-3 0 3 1-2 0 2 1-2 0 3 1-3 0 2 1-5 0 9 1-6 0 2 1-2 0 2 1-2 0 2 1-2 0 5 1-6 0 3 1-4 0 4 1-2 0 2 1-2 0 2 1-2 0 3 1-3 0 4 1-4 0 4 1-4 0 4 1-8 0 10 1-6 0 2 1-2 0 4 1-4 0 5 1-7 0 4 1-2 0 2 1-4 0 4 1-2 0 2 1-2 0 4 1-4 0 3 1-3 0 2 1-2 0 2 1-2 0 3 1-3 0 4 1-4 0 4 1-9 0 10 1-5 0 2 1-2 0 4 1-4 0 5 1-5 0 2 1-3 0 3 1-2 0 5 1-7 0 4 1-4 0 4 1-2 0 2 1-3 0 3 1-3 0 3 1-5 0 8 1-8 0 5 1-5 0 5 1-3 0 3 1-4 0 4 1-2 0 2 1-2 0 5 1-5 0 3 1-3 0 2 1-4 0 4 1-4 0 4 1-5 0 8 1-5 0 4 1-4 0 5 1-6 0 3 1-2 0 2 1-2 0 2 1-2 0 3 1-3 0 2 1-2 0 3 1-5 0 4 1-5 0 5 1-2 0 2 1-2 0 4 1-4 0 2 1-5 0 9 1-6 0 2 1-2 0 5 1-5 0 2 1-2 0 2 1-2 0 5 1-5 0 4 1-4 0 2 1-2 0 2 1-2 0 2 1-2 0 3 1-3 0 5 1-7 0 4 1-2 0 4 1-4 0 2 1-3 0 3 1-5 0 5 1-2 0 4 1-6 0 4 1-2 0 3 1-3 0 4 1-4 0 3 1-3 0 2 1-5 0 9 1-9 0 5 1-2 0 2 1-2 0 2 1-3 0 3 1-2 0 3 1-3 0 3 1-4 0 3 1-2 0 3 1-3 0 2 1-2 0 2 1-2 0 5 1-8 0 5 1-2 0 2 1-2 0 4 1-8 0 10 1-6 0 3 1-4 0 3 1-4 0 4 1-2 0 2 1-2 0 4 1-4 0 2 1-5 0 5 1-2 0 2 1-5 0 5 1-4 0 4 1-2 0 2 1-2 0 2 1-2 0 2 1-2 0 3 1-7 0 9 1-5 0 4 1-4 0 2 1-4 0 4 1-2 0 2 1-2 0 2 1-2 0 3 1-4 0 3 1-2 0 2 1-2 0 2 1-2 0 5 1-5 0 4 1-6 0 4 1-2 0 2 1-4 0 4 1-2 0 4 1-4 0 2 1-4 0 4 1-5 0 5 1-6 0 10 1-6 0 4 1-4 0 2 1-2 0 2 1-2 0 3 1-3 0 4 1-4 0 2 1-2 0 3 1-3 0 4 1-7 0 5 1-2 0 4 1-4 0 3 1-3 0 2 1-2 0 3 1-3 0 2 1-2 0 2 1-2 0 2 1-2 0 2 1-2 0 2 1-2 0 3 1-3 0 4 1-7 0 5 1-5 0 9 1-6 0 2 1-2 0 2 1-4 0 4 1-2 0 4 1-4 0 2 1-3 0 3 1-4 0 4 1-2 0 2 1-5 0 7 1-7 0 8 1-9 0 10 1-10 0 9 1-9 0 10 1-9 0 8 1-7 0 6 1-4 0 4 1-4 0 4 1-4 0 2 1-3 0 3 1-2 0 5 1-5 0 2 1-3 0 3 1-2 0 2 1-6 0 10 1-6 0 2 1-3 0 3 1-2 0 4 1-4 0 2 1-5 0 5 1-2 0 2 1-2 0 2 1-5 0 5 1-3 0 6 1-7 0 6 1-7 0 8 1-9 0 9 1-9 0 10 1-10 0 10 1-9 0 9 1-10 0 9 1-8 0 9 1-9 0 8 1-7 0 6 1-6 0 6 1-5 0 4 1-3 0 5 1-7 0 4 1-2 0 2 1-4 0 4 1-2 0 2 1-2 0 2 1-2 0 4 1-5 0 3 1-4 0 4 1-2 0 2 1-3 0 3 1-2 0 2 1-2 0 4 1-4 0 2 1-4 0 7 1-9 0 10 1-11 0 12 1-13 0 14 1-15 0 14 1-13 0 14 1-14 0 14 1-12 0 10 1-10 0 9 1-8 0 7 1-4 0 5 1-5 0 5 1-5 0 2 1-2 0 2 1-4 0 4 1-2 0 4 1-5 0 3 1-4 0 4 1-5 0 5 1-3 0 3 1-2 0 2 1-2 0 2 1-3 0 3 1-4 0 4 1-2 0 4 1-5 0 3 1-2 0 4 1-8 0 10 1-6 0 2 1-3 0 3 1-2 0 2 1-2 0 5 1-5 0 2 1-2 0 2 1-3 0 3 1-2 0 4 1-7 0 8 1-5 0 2 1-5 0 5 1-2 0 4 1-5 0 3 1-2 0 2 1-2 0 2 1-5 0 5 1-2 0 3 1-5 0 4 1-2 0 2 1-2 0 2 1-3 0 3 1-2 0 4 1-4 0 2 1-5 0 8 1-5 0 2 1-3 0 3 1-2 0 2 1-2 0 2 1-2 0 2 1-2 0 3 1-5 0 4 1-2 0 2 1-3 0 3 1-2 0 5 1-5 0 4 1-4 0 5 1-5 0 2 1-4 0 4 1-4 0 4 1-6 0 10 1-6 0 2 1-2 0 2 1-2 0 4 1-4 0 2 1-2 0 2 1-2 0 2 1-2 0 4 1-6 0 4 1-2 0 5 1-5 0 4 1-8 0 9 1-7 0 4 1-3 0 3 1-2 0 2 1-3 0 3 1-2 0 3 1-3 0 4 1-4 0 2 1-2 0 2 1-2 0 4 1-7 0 10 1-9 0 4 1-2 0 2 1-2 0 2 1-2 0 4 1-4 0 2 1-5 0 5 1-4 0 4 1-3 0 3 1-2 0 2 1-2 0 2 1-3 0 3 1-3 0 3 1-6 0 9 1-5 0 2 1-4 0 4 1-2 0 3 1-3 0 2 1-2 0 2 1-4 0 4 1-2 0 2 1-2 0 5 1-6 0 3 1-3 0 3 1-6 0 11 1-9 0 4 1-5 0 5 1-2 0 2 1-3 0 3 1-2 0 4 1-4 0 2 1-6 0 9 1-8 0 5 1-4 0 4 1-4 0 4 1-4 0 4 1-2 0 4 1-4 0 5 1-5 0 4 1-7 0 9 1-6 0 2 1-2 0 5 1-5 0 2 1-3 0 3 1-3 0 3 1-2 0 2 1-4 0 4 1-2 0 3 1-6 0 8 1-5 0 2 1-4 0 4 1-4 0 4 1-4 0 4 1-4 0 4 1-4 0 4 1-2 0 5 1-5 0 2 1-2 0 3 1-4 0 3 1-5 0 5 1-4 0 4 1-6 0 9 1-6 0 3 1-2 0 2 1-2 0 5 1-5 0 2 1-2 0 2 1-4 0 4 1-5 0 8 1-5 0 2 1-2 0 2 1-2 0 3 1-6 0 5 1-2 0 2 1-2 0 3 1-4 0 3 1-2 0 2 1-2 0 4 1-4 0 2 1-4 0 4 1-3 0 3 1-2 0 2 1-2 0 5 1-8 0 5 1-2 0 2 1-2 0 2 1-6 0 9 1-5 0 2 1-2 0 2 1-2 0 3 1-3 0 2 1-3 0 3 1-4 0 4 1-2 0 2 1-2 0 2 1-2 0 2 1-2 0 4 1-4 0 2 1-2 0 2 1-2 0 4 1-7 0 5 1-6 0 10 1-6 0 2 1-2 0 2 1-5 0 5 1-2 0 2 1-4 0 4 1-2 0 5 1-5 0 2 1-3 0 6 1-8 0 7 1-7 0 9 1-10 0 10 1-9 0 9 1-9 0 9 1-8 0 6 1-6 0 6 1-4 0 4 1-4 0 2 1-3 0 3 1-4 0 4 1-2 0 2 1-2 0 3 1-6 0 5 1-5 0 9 1-6 0 2 1-2 0 3 1-3 0 2 1-2 0 2 1-3 0 3 1-4 0 4 1-3 0 3 1-5 0 8 1-5 0 2 1-2 0 2 1-2 0 3 1-3 0 2 1-2 0 2 1-2 0 2 1-2 0 4 1-4 0 2 1-2 0 2 1-2 0 2 1-5 0 9 1-7 0 3 1-2 0 3 1-3 0 4 1-4 0 2 1-2 0 2 1-2 0 4 1-4 0 3 1-3 0 2 1-2 0 2 1-4 0 4 1-4 0 6 1-8 0 9 1-9 0 9 1-9 0 10 1-10 0 9 1-8 0 7 1-4 0 2 1-2 0 3 1-3 0 5 1-7 0 4 1-2 0 3 1-4 0 3 1-5 0 5 1-2 0 5 1-5 0 2 1-3 0 3 1-2 0 2 1-2 0 2 1-2 0 2 1-2 0 3 1-5 0 4 1-2 0 4 1-6 0 4 1-5 0 9 1-6 0 2 1-2 0 2 1-2 0 4 1-6 0 4 1-2 0 2 1-2 0 2 1-2 0 2 1-2 0 2 1-4 0 4 1-2 0 2 1-2 0 2 1-2 0 2 1-4 0 4 1-2 0 2 1-3 0 3 1-2 0 4 1-4 0 3 1-3 0 5 1-5 0 2 1-5 0 5 1-5 0 5 1-3 0 3 1-2 0 3 1-6 0 8 1-7 0 4 1-4 0 4 1-2 0 2 1-3 0 3 1-2 0 2 1-4 0 4 1-3 0 5 1-6 0 6 1-7 0 8 1-8 0 8 1-8 0 9 1-10 0 9 1-9 0 10 1-9 0 8 1-7 0 7 1-7 0 6 1-5 0 5 1-4 0 2 1-2 0 2 1-4 0 4 1-2 0 2 1-2 0 2 1-2 0 3 1-3 0 2 1-2 0 5 1-7 0 4 1-4 0 4 1-2 0 5 1-7 0 4 1-2 0 2 1-2 0 2 1-5 0 8 1-5 0 2 1-4 0 4 1-2 0 3 1-3 0 2 1-2 0 4 1-4 0 5 1-5 0 2 1-2 0 2 1-2 0 4 1-6 0 4 1-2 0 2 1-6 0 9 1-10 0 11 1-9 0 8 1-5 0 3 1-3 0 2 1-2 0 2 1-2 0 5 1-5 0 4 1-4 0 2 1-4 0 4 1-2 0 2 1-5 0 8 1-6 0 3 1-4 0 4 1-5 0 5 1-2 0 2 1-4 0 4 1-4 0 4 1-2 0 2 1-4 0 4 1-2 0 2 1-5 0 8 1-5 0 3 1-3 0 4 1-4 0 4 1-4 0 5 1-7 0 4 1-2 0 4 1-4 0 2 1-2 0 2 1-4 0 6 1-6 0 6 1-8 0 9 1-9 0 10 1-10 0 10 1-9 0 9 1-9 0 9 1-8 0 7 1-7 0 5 1-5 0 4 1-2 0 2 1-2 0 2 1-4 0 4 1-4 0 4 1-2 0 4 1-4 0 4 1-5 0 3 1-2 0 2 1-5 0 5 1-2 0 2 1-2 0 2 1-2 0 3 1-4 0 3 1-6 0 10 1-9 0 5 1-2 0 5 1-5 0 4 1-4 0 2 1-5 0 5 1-2 0 4 1-7 0 5 1-5 0 5 1-2 0 2 1-2 0 4 1-4 0 2 1-4 0 4 1-3 0 3 1-2 0 2 1-2 0 4 1-4 0 2 1-2 0 4 1-4 0 2 1-2 0 4 1-4 0 4 1-7 0 5"/><path vector-effect="non-scaling-stroke" transform="translate(138.00 577.422) scale(1.001145 0.2500)" stroke="#000000" d="M0-3l0 5 1-4 0 5 1-5 0 5 1-5 0 4 1-4 0 4 1-5 0 6 1-7 0 9 1-10 0 10 1-9 0 9 1-8 0 6 1-5 0 5 1-5 0 5 1-6 0 5 1-4 0 5 1-6 0 5 1-5 0 5 1-6 0 7 1-6 0 5 1-4 0 4 1-7 0 8 1-6 0 5 1-4 0 5 1-8 0 8 1-7 0 6 1-4 0 5 1-6 0 6 1-6 0 5 1-5 0 5 1-6 0 7 1-5 0 7 1-7 0 5 1-6 0 7 1-7 0 6 1-6 0 6 1-6 0 8 1-9 0 6 1-4 0 5 1-5 0 6 1-6 0 4 1-5 0 6 1-6 0 6 1-7 0 7 1-6 0 6 1-5 0 5 1-5 0 4 1-5 0 8 1-7 0 5 1-5 0 6 1-6 0 4 1-5 0 5 1-4 0 5 1-6 0 6 1-7 0 6 1-4 0 4 1-7 0 7 1-6 0 6 1-5 0 5 1-5 0 5 1-5 0 5 1-4 0 6 1-6 0 7 1-8 0 5 1-4 0 5 1-5 0 5 1-6 0 7 1-7 0 5 1-5 0 7 1-7 0 5 1-4 0 4 1-4 0 6 1-6 0 6 1-8 0 8 1-9 0 10 1-9 0 7 1-6 0 5 1-4 0 5 1-5 0 5 1-7 0 6 1-4 0 4 1-4 0 7 1-7 0 5 1-5 0 6 1-6 0 4 1-4 0 5 1-5 0 5 1-6 0 6 1-7 0 6 1-5 0 5 1-4 0 5 1-8 0 7 1-5 0 6 1-6 0 5 1-6 0 6 1-5 0 6 1-5 0 4 1-4 0 5 1-5 0 5 1-7 0 6 1-4 0 4 1-6 0 7 1-5 0 4 1-5 0 6 1-5 0 5 1-6 0 8 1-7 0 4 1-5 0 7 1-6 0 4 1-5 0 5 1-4 0 6 1-6 0 5 1-7 0 6 1-8 0 8 1-4 0 5 1-7 0 6 1-4 0 4 1-4 0 4 1-4 0 4 1-4 0 5 1-8 0 7 1-6 0 6 1-6 0 7 1-7 0 6 1-5 0 7 1-9 0 7 1-5 0 6 1-8 0 8 1-7 0 8 1-7 0 6 1-5 0 5 1-6 0 5 1-6 0 6 1-5 0 5 1-7 0 7 1-4 0 5 1-5 0 4 1-5 0 8 1-7 0 8 1-8 0 4 1-4 0 4 1-5 0 6 1-5 0 4 1-5 0 5 1-4 0 5 1-5 0 5 1-5 0 4 1-5 0 7 1-6 0 5 1-5 0 5 1-5 0 4 1-5 0 7 1-6 0 4 1-5 0 6 1-5 0 4 1-4 0 5 1-6 0 6 1-6 0 5 1-4 0 5 1-5 0 4 1-4 0 4 1-7 0 7 1-7 0 7 1-4 0 6 1-7 0 7 1-9 0 7 1-5 0 6 1-6 0 6 1-5 0 4 1-4 0 4 1-4 0 4 1-4 0 5 1-5 0 4 1-4 0 5 1-6 0 6 1-5 0 7 1-7 0 4 1-7 0 7 1-5 0 6 1-5 0 4 1-4 0 5 1-5 0 7 1-7 0 5 1-5 0 5 1-5 0 5 1-5 0 4 1-4 0 4 1-6 0 6 1-5 0 5 1-5 0 5 1-4 0 4 1-5 0 5 1-4 0 4 1-5 0 5 1-5 0 7 1-6 0 4 1-7 0 7 1-4 0 4 1-4 0 4 1-6 0 7 1-5 0 4 1-4 0 4 1-5 0 7 1-7 0 7 1-6 0 4 1-4 0 5 1-7 0 7 1-6 0 6 1-7 0 8 1-7 0 7 1-7 0 6 1-6 0 5 1-5 0 5 1-5 0 6 1-7 0 7 1-6 0 6 1-5 0 5 1-7 0 6 1-6 0 6 1-5 0 6 1-7 0 8 1-8 0 9 1-9 0 8 1-7 0 7 1-6 0 7 1-7 0 4 1-4 0 4 1-6 0 6 1-7 0 8 1-5 0 5 1-5 0 4 1-7 0 8 1-8 0 7 1-5 0 5 1-6 0 7 1-6 0 5 1-4 0 5 1-5 0 5 1-6 0 7 1-6 0 4 1-7 0 7 1-6 0 7 1-8 0 10 1-9 0 8 1-9 0 11 1-9 0 7 1-7 0 7 1-7 0 6 1-5 0 5 1-8 0 8 1-6 0 6 1-8 0 7 1-7 0 7 1-4 0 5 1-7 0 6 1-4 0 5 1-6 0 6 1-8 0 10 1-10 0 11 1-11 0 10 1-8 0 6 1-5 0 4 1-7 0 8 1-7 0 6 1-4 0 5 1-6 0 7 1-6 0 4 1-4 0 5 1-5 0 5 1-5 0 4 1-5 0 6 1-5 0 5 1-6 0 7 1-6 0 6 1-7 0 5 1-4 0 7 1-8 0 6 1-6 0 6 1-5 0 4 1-6 0 7 1-5 0 6 1-7 0 6 1-6 0 5 1-5 0 5 1-5 0 6 1-6 0 7 1-8 0 8 1-7 0 7 1-7 0 6 1-5 0 4 1-4 0 4 1-4 0 5 1-5 0 4 1-7 0 7 1-5 0 6 1-8 0 8 1-6 0 5 1-4 0 5 1-6 0 6 1-7 0 6 1-5 0 5 1-6 0 7 1-6 0 8 1-10 0 8 1-6 0 5 1-5 0 7 1-6 0 5 1-6 0 6 1-7 0 9 1-9 0 10 1-10 0 9 1-9 0 7 1-7 0 9 1-8 0 6 1-6 0 5 1-5 0 6 1-6 0 6 1-8 0 9 1-9 0 10 1-10 0 9 1-7 0 6 1-5 0 4 1-5 0 8 1-10 0 9 1-10 0 11 1-10 0 10 1-8 0 8 1-11 0 9 1-8 0 9 1-9 0 9 1-8 0 8 1-8 0 7 1-5 0 7 1-7 0 4 1-7 0 8 1-5 0 5 1-5 0 5 1-5 0 4 1-4 0 7 1-7 0 4 1-5 0 9 1-9 0 5 1-4 0 5 1-6 0 5 1-4 0 5 1-6 0 5 1-4 0 5 1-5 0 7 1-8 0 5 1-6 0 6 1-4 0 4 1-5 0 5 1-6 0 6 1-5 0 5 1-4 0 4 1-5 0 6 1-6 0 6 1-8 0 7 1-4 0 4 1-5 0 5 1-5 0 5 1-4 0 5 1-6 0 5 1-5 0 5 1-4 0 4 1-4 0 4 1-4 0 4 1-5 0 7 1-8 0 6 1-5 0 5 1-4 0 5 1-5 0 5 1-5 0 6 1-9 0 7 1-5 0 5 1-4 0 4 1-4 0 5 1-5 0 7 1-8 0 6 1-5 0 4 1-4 0 6 1-8 0 6 1-4 0 4 1-4 0 5 1-5 0 7 1-8 0 6 1-6 0 6 1-5 0 6 1-6 0 5 1-5 0 6 1-6 0 4 1-5 0 6 1-7 0 7 1-5 0 4 1-4 0 5 1-6 0 6 1-7 0 7 1-5 0 4 1-4 0 6 1-6 0 4 1-4 0 6 1-9 0 8 1-8 0 10 1-10 0 9 1-8 0 8 1-7 0 6 1-5 0 7 1-9 0 6 1-4 0 4 1-4 0 4 1-4 0 5 1-6 0 6 1-5 0 4 1-5 0 6 1-6 0 6 1-5 0 5 1-6 0 5 1-6 0 7 1-6 0 6 1-6 0 5 1-4 0 4 1-5 0 6 1-7 0 7 1-6 0 6 1-7 0 9 1-8 0 6 1-8 0 7 1-4 0 5 1-5 0 6 1-6 0 4 1-5 0 6 1-6 0 8 1-10 0 7 1-4 0 6 1-7 0 5 1-5 0 5 1-7 0 7 1-5 0 6 1-7 0 6 1-4 0 4 1-5 0 5 1-5 0 6 1-5 0 4 1-6 0 8 1-9 0 9 1-10 0 10 1-9 0 9 1-7 0 7 1-7 0 5 1-6 0 6 1-5 0 6 1-6 0 7 1-6 0 4 1-4 0 5 1-5 0 6 1-6 0 7 1-7 0 6 1-7 0 7 1-6 0 5 1-7 0 6 1-5 0 6 1-6 0 8 1-7 0 4 1-5 0 5 1-5 0 5 1-5 0 5 1-5 0 7 1-7 0 6 1-6 0 5 1-5 0 5 1-5 0 5 1-5 0 8 1-8 0 6 1-5 0 5 1-6 0 5 1-5 0 8 1-7 0 5 1-6 0 6 1-7 0 6 1-5 0 5 1-7 0 8 1-5 0 5 1-5 0 4 1-4 0 4 1-5 0 6 1-6 0 6 1-6 0 6 1-7 0 9 1-10 0 11 1-10 0 9 1-8 0 6 1-7 0 8 1-9 0 11 1-10 0 9 1-8 0 7 1-8 0 7 1-7 0 10 1-11 0 12 1-11 0 10 1-10 0 8 1-8 0 7 1-5 0 4 1-5 0 6 1-5 0 6 1-6 0 5 1-5 0 4 1-4 0 4 1-5 0 7 1-6 0 5 1-6 0 5 1-4 0 7 1-7 0 4 1-4 0 5 1-6 0 5 1-4 0 5 1-5 0 6 1-7 0 5 1-4 0 4 1-6 0 6 1-4 0 5 1-6 0 5 1-4 0 4 1-5 0 6 1-6 0 6 1-8 0 7 1-4 0 4 1-5 0 6 1-6 0 7 1-6 0 4 1-4 0 4 1-4 0 7 1-7 0 4 1-4 0 4 1-5 0 6 1-6 0 5 1-5 0 5 1-4 0 5 1-5 0 4 1-5 0 6 1-7 0 7 1-6 0 5 1-4 0 4 1-4 0 5 1-5 0 4 1-4 0 4 1-4 0 5 1-6 0 5 1-5 0 6 1-7 0 7 1-8 0 7 1-7 0 8 1-7 0 7 1-5 0 7 1-9 0 7 1-5 0 4 1-4 0 4 1-4 0 4 1-4 0 4 1-7 0 8 1-5 0 4 1-4 0 4 1-5 0 5 1-4 0 5 1-5 0 4 1-5 0 6 1-6 0 8 1-10 0 7 1-5 0 6 1-6 0 6 1-6 0 7 1-8 0 6 1-4 0 4 1-7 0 7 1-5 0 5 1-5 0 8 1-9 0 6 1-4 0 6 1-6 0 4 1-5 0 6 1-6 0 6 1-6 0 6 1-6 0 6 1-5 0 6 1-6 0 4 1-5 0 5 1-6 0 6 1-4 0 4 1-4 0 5 1-6 0 6 1-6 0 8 1-10 0 8 1-7 0 6 1-4 0 5 1-5 0 6 1-8 0 6 1-4 0 4 1-6 0 7 1-6 0 8 1-11 0 9 1-5 0 6 1-7 0 5 1-5 0 6 1-6 0 6 1-5 0 4 1-5 0 5 1-5 0 7 1-7 0 5 1-6 0 6 1-6 0 6 1-4 0 6 1-7 0 6 1-5 0 6 1-6 0 4 1-4 0 4 1-4 0 4 1-4 0 4 1-6 0 7 1-6 0 6 1-5 0 5 1-5 0 4 1-4 0 4 1-5 0 8 1-8 0 6 1-7 0 8 1-9 0 11 1-9 0 8 1-7 0 4 1-5 0 5 1-5 0 8 1-9 0 8 1-7 0 6 1-5 0 4 1-6 0 6 1-4 0 4 1-4 0 5 1-6 0 6 1-5 0 4 1-4 0 5 1-5 0 6 1-7 0 6 1-6 0 7 1-6 0 4 1-4 0 5 1-6 0 5 1-4 0 7 1-8 0 6 1-5 0 5 1-5 0 4 1-5 0 6 1-5 0 5 1-6 0 8 1-10 0 10 1-8 0 7 1-7 0 6 1-7 0 8 1-8 0 9 1-9 0 9 1-9 0 10 1-10 0 9 1-8 0 7 1-9 0 7 1-7 0 8 1-6 0 5 1-4 0 5 1-5 0 4 1-4 0 4 1-6 0 6 1-4 0 7 1-7 0 4 1-7 0 8 1-7 0 6 1-4 0 5 1-6 0 6 1-5 0 4 1-4 0 4 1-5 0 8 1-9 0 8 1-9 0 9 1-8 0 8 1-6 0 4 1-5 0 6 1-5 0 4 1-4 0 7 1-8 0 5 1-4 0 5 1-7 0 6 1-4 0 5 1-5 0 4 1-4 0 4 1-4 0 4 1-6 0 6 1-5 0 7 1-6 0 5 1-5 0 6 1-7 0 8 1-10 0 7 1-7 0 8 1-7 0 6 1-7 0 7 1-5 0 6 1-6 0 5 1-4 0 7 1-8 0 5 1-5 0 5 1-4 0 6 1-6 0 7 1-7 0 4 1-4 0 6 1-6 0 7 1-7 0 7 1-7 0 4 1-5 0 6 1-6 0 5 1-5 0 5 1-4 0 5 1-5 0 5 1-5 0 4 1-4 0 6 1-8 0 9 1-10 0 9 1-7 0 6 1-5 0 7 1-7 0 6 1-7 0 5 1-4 0 5 1-7 0 6 1-4 0 7 1-8 0 7 1-6 0 5 1-5 0 4 1-6 0 7 1-7 0 8 1-9 0 9 1-9 0 9 1-7 0 6 1-6 0 6 1-7 0 7 1-6 0 8 1-8 0 5 1-4 0 5 1-5 0 5 1-5 0 5 1-5 0 6 1-6 0 5 1-6 0 5 1-6 0 6 1-5 0 5 1-7 0 8 1-7 0 6 1-4 0 4 1-4 0 6 1-7 0 6 1-5 0 7 1-7 0 4 1-4 0 5 1-8 0 8 1-6 0 6 1-5 0 5 1-5 0 5 1-6 0 6 1-5 0 7 1-10 0 8 1-7 0 6 1-4 0 5 1-6 0 5 1-5 0 5 1-5 0 5 1-5 0 5 1-4 0 4 1-4 0 5 1-5 0 4 1-4 0 5 1-5 0 4 1-5 0 7 1-7 0 6 1-5 0 7 1-7 0 4 1-5 0 5 1-6 0 7 1-7 0 6 1-4 0 7 1-7 0 6 1-6 0 5 1-5 0 4 1-4 0 4 1-5 0 5 1-4 0 5 1-5 0 5 1-5 0 4 1-5 0 7 1-6 0 4 1-4 0 4 1-4 0 5 1-6 0 5 1-5 0 6 1-8 0 7 1-4 0 7 1-8 0 6 1-7 0 8 1-8 0 8 1-8 0 8 1-8 0 7 1-5 0 5 1-5 0 5 1-5 0 4 1-4 0 4 1-7 0 7 1-6 0 7 1-9 0 10 1-8 0 7 1-7 0 6 1-4 0 6 1-7 0 5 1-5 0 6 1-6 0 5 1-6 0 6 1-5 0 6 1-5 0 5 1-5 0 6 1-6 0 5 1-6 0 6 1-5 0 4 1-4 0 4 1-4 0 4 1-4 0 6 1-9 0 8 1-5 0 4 1-4 0 4 1-5 0 6 1-5 0 5 1-6 0 5 1-4 0 4 1-4 0 7 1-9 0 6 1-4 0 5 1-6 0 5 1-5 0 7 1-6 0 6 1-6 0 5 1-5 0 5 1-6 0 5 1-4 0 4 1-6 0 6 1-6 0 6 1-5 0 6 1-6 0 6 1-6 0 8 1-7 0 4 1-5 0 5 1-5 0 6 1-6 0 5 1-4 0 4 1-4 0 5 1-7 0 6 1-7 0 7 1-5 0 5 1-5 0 5 1-5 0 6 1-5 0 5 1-7 0 8 1-9 0 10 1-9 0 8 1-7 0 5 1-6 0 7 1-8 0 9 1-7 0 6 1-5 0 4 1-6 0 6 1-5 0 5 1-4 0 5 1-6 0 5 1-4 0 4 1-4 0 4 1-4 0 5 1-5 0 7 1-7 0 4"/><path vector-effect="non-scaling-stroke" transform="translate(138.00 608.965) scale(1.001145 0.2500)" stroke="#ff0000" d="M0-1l0 5 1-5 0 2 1-2 0 2 1-5 0 5 1-3 0 3 1-2 0 5 1-5 0 2 1-4 0 5 1-5 0 6 1-7 0 8 1-9 0 10 1-9 0 9 1-9 0 8 1-8 0 9 1-9 0 8 1-6 0 4 1-5 0 4 1-2 0 5 1-7 0 4 1-2 0 5 1-5 0 4 1-4 0 2 1-2 0 2 1-2 0 2 1-2 0 2 1-2 0 2 1-2 0 2 1-2 0 2 1-5 0 5 1-2 0 2 1-2 0 2 1-5 0 9 1-6 0 2 1-4 0 4 1-2 0 5 1-5 0 2 1-2 0 3 1-3 0 2 1-2 0 2 1-2 0 3 1-3 0 2 1-5 0 8 1-5 0 2 1-2 0 2 1-2 0 2 1-3 0 3 1-2 0 2 1-3 0 3 1-2 0 2 1-5 0 5 1-2 0 3 1-5 0 4 1-2 0 4 1-4 0 2 1-6 0 9 1-5 0 2 1-2 0 2 1-2 0 4 1-4 0 4 1-4 0 3 1-5 0 4 1-4 0 4 1-5 0 5 1-2 0 4 1-4 0 3 1-3 0 2 1-3 0 3 1-4 0 7 1-8 0 8 1-9 0 9 1-10 0 11 1-9 0 9 1-8 0 6 1-5 0 3 1-2 0 2 1-4 0 4 1-4 0 4 1-2 0 2 1-2 0 2 1-3 0 3 1-4 0 4 1-2 0 2 1-2 0 4 1-7 0 9 1-6 0 5 1-5 0 2 1-2 0 2 1-3 0 3 1-2 0 2 1-4 0 4 1-2 0 2 1-2 0 2 1-2 0 4 1-6 0 4 1-3 0 3 1-4 0 4 1-4 0 4 1-3 0 3 1-2 0 3 1-3 0 2 1-2 0 2 1-4 0 6 1-7 0 8 1-10 0 10 1-9 0 9 1-9 0 11 1-10 0 8 1-9 0 10 1-9 0 7 1-4 0 5 1-7 0 4 1-2 0 2 1-2 0 4 1-4 0 2 1-2 0 2 1-5 0 5 1-2 0 2 1-5 0 5 1-5 0 8 1-8 0 5 1-6 0 9 1-6 0 3 1-3 0 3 1-2 0 2 1-2 0 4 1-6 0 4 1-2 0 4 1-6 0 4 1-5 0 5 1-2 0 4 1-4 0 5 1-5 0 2 1-2 0 2 1-2 0 5 1-5 0 5 1-5 0 2 1-2 0 4 1-4 0 4 1-4 0 3 1-3 0 2 1-4 0 4 1-2 0 3 1-4 0 3 1-2 0 4 1-4 0 4 1-4 0 5 1-5 0 5 1-7 0 5 1-6 0 8 1-9 0 9 1-9 0 11 1-12 0 11 1-10 0 11 1-11 0 9 1-8 0 8 1-8 0 6 1-3 0 2 1-5 0 5 1-2 0 2 1-6 0 9 1-5 0 4 1-6 0 4 1-2 0 2 1-2 0 2 1-5 0 8 1-5 0 2 1-4 0 4 1-2 0 2 1-2 0 2 1-2 0 2 1-2 0 2 1-2 0 3 1-3 0 2 1-5 0 9 1-6 0 2 1-4 0 4 1-2 0 2 1-3 0 3 1-2 0 4 1-5 0 3 1-5 0 5 1-2 0 3 1-3 0 4 1-6 0 4 1-2 0 2 1-2 0 2 1-2 0 3 1-5 0 4 1-3 0 3 1-2 0 3 1-3 0 5 1-5 0 3 1-3 0 4 1-4 0 2 1-2 0 2 1-4 0 6 1-8 0 9 1-10 0 10 1-9 0 11 1-10 0 9 1-10 0 9 1-7 0 5 1-3 0 4 1-7 0 5 1-3 0 3 1-2 0 2 1-5 0 5 1-2 0 2 1-5 0 5 1-2 0 4 1-4 0 4 1-4 0 2 1-2 0 2 1-2 0 2 1-2 0 2 1-5 0 5 1-6 0 9 1-5 0 2 1-2 0 2 1-2 0 2 1-2 0 3 1-3 0 2 1-2 0 2 1-4 0 4 1-2 0 2 1-2 0 4 1-6 0 4 1-2 0 2 1-4 0 4 1-2 0 2 1-2 0 2 1-3 0 3 1-2 0 5 1-5 0 4 1-4 0 2 1-2 0 4 1-7 0 9 1-6 0 2 1-5 0 5 1-2 0 3 1-3 0 2 1-2 0 3 1-3 0 2 1-2 0 2 1-4 0 4 1-2 0 5 1-5 0 4 1-5 0 3 1-3 0 3 1-2 0 2 1-2 0 5 1-5 0 3 1-3 0 4 1-4 0 2 1-2 0 2 1-2 0 4 1-6 0 4 1-2 0 2 1-5 0 5 1-2 0 5 1-5 0 2 1-5 0 5 1-4 0 4 1-2 0 2 1-2 0 5 1-9 0 10 1-6 0 2 1-2 0 3 1-3 0 4 1-4 0 3 1-5 0 7 1-9 0 10 1-10 0 11 1-11 0 9 1-8 0 9 1-8 0 6 1-4 0 2 1-2 0 2 1-2 0 4 1-4 0 2 1-3 0 3 1-2 0 2 1-4 0 4 1-2 0 5 1-5 0 2 1-2 0 3 1-3 0 2 1-2 0 4 1-4 0 3 1-6 0 5 1-2 0 2 1-2 0 3 1-3 0 2 1-2 0 2 1-2 0 2 1-7 0 10 1-7 0 4 1-2 0 5 1-6 0 3 1-2 0 2 1-4 0 4 1-2 0 4 1-4 0 4 1-6 0 4 1-2 0 2 1-3 0 3 1-3 0 3 1-2 0 2 1-4 0 6 1-8 0 10 1-10 0 9 1-9 0 9 1-7 0 7 1-5 0 4 1-4 0 2 1-3 0 3 1-5 0 8 1-10 0 10 1-8 0 8 1-5 0 2 1-2 0 2 1-5 0 5 1-4 0 4 1-2 0 2 1-3 0 3 1-2 0 4 1-4 0 2 1-2 0 4 1-7 0 5 1-2 0 2 1-6 0 9 1-5 0 4 1-7 0 5 1-2 0 4 1-4 0 2 1-5 0 5 1-2 0 4 1-5 0 3 1-2 0 2 1-2 0 2 1-4 0 4 1-2 0 2 1-4 0 4 1-2 0 4 1-7 0 5 1-2 0 5 1-5 0 2 1-5 0 5 1-3 0 3 1-2 0 3 1-7 0 9 1-5 0 5 1-6 0 3 1-4 0 4 1-2 0 2 1-5 0 5 1-2 0 3 1-3 0 3 1-5 0 6 1-6 0 7 1-9 0 10 1-10 0 10 1-9 0 10 1-11 0 10 1-8 0 8 1-8 0 6 1-4 0 2 1-2 0 3 1-6 0 5 1-5 0 5 1-3 0 3 1-3 0 3 1-2 0 2 1-2 0 2 1-4 0 4 1-2 0 5 1-5 0 2 1-2 0 2 1-2 0 2 1-2 0 4 1-4 0 2 1-5 0 9 1-6 0 4 1-6 0 4 1-2 0 2 1-3 0 3 1-2 0 5 1-7 0 4 1-3 0 3 1-2 0 2 1-2 0 4 1-6 0 4 1-2 0 4 1-4 0 2 1-4 0 4 1-2 0 2 1-4 0 4 1-2 0 5 1-5 0 2 1-2 0 4 1-4 0 2 1-2 0 2 1-2 0 3 1-3 0 2 1-5 0 8 1-8 0 5 1-5 0 5 1-2 0 2 1-2 0 2 1-2 0 5 1-5 0 2 1-2 0 3 1-3 0 2 1-2 0 4 1-6 0 4 1-2 0 5 1-5 0 2 1-2 0 2 1-2 0 5 1-5 0 2 1-2 0 2 1-2 0 2 1-2 0 5 1-5 0 5 1-10 0 11 1-7 0 3 1-2 0 5 1-5 0 2 1-5 0 5 1-2 0 2 1-2 0 4 1-4 0 2 1-2 0 2 1-4 0 4 1-2 0 2 1-4 0 4 1-2 0 2 1-2 0 5 1-7 0 4 1-3 0 5 1-7 0 7 1-7 0 8 1-8 0 9 1-10 0 9 1-10 0 12 1-11 0 10 1-10 0 9 1-8 0 8 1-8 0 8 1-6 0 5 1-5 0 3 1-4 0 4 1-2 0 2 1-2 0 2 1-5 0 5 1-5 0 5 1-3 0 4 1-5 0 6 1-7 0 8 1-9 0 9 1-10 0 10 1-9 0 9 1-9 0 9 1-9 0 10 1-8 0 7 1-8 0 7 1-6 0 6 1-6 0 4 1-2 0 2 1-2 0 2 1-2 0 4 1-6 0 4 1-4 0 4 1-2 0 2 1-2 0 2 1-2 0 4 1-5 0 3 1-2 0 2 1-2 0 2 1-3 0 3 1-2 0 5 1-5 0 4 1-4 0 2 1-2 0 2 1-4 0 4 1-3 0 3 1-2 0 2 1-5 0 8 1-5 0 3 1-3 0 2 1-2 0 5 1-5 0 3 1-3 0 3 1-4 0 3 1-2 0 2 1-5 0 5 1-2 0 2 1-2 0 4 1-5 0 3 1-3 0 3 1-2 0 3 1-3 0 2 1-5 0 5 1-2 0 5 1-7 0 4 1-2 0 2 1-2 0 2 1-3 0 3 1-2 0 2 1-4 0 4 1-2 0 4 1-4 0 2 1-2 0 3 1-3 0 2 1-3 0 3 1-2 0 2 1-2 0 2 1-2 0 2 1-2 0 2 1-7 0 10 1-5 0 2 1-2 0 4 1-4 0 2 1-2 0 2 1-3 0 3 1-4 0 4 1-4 0 4 1-4 0 4 1-2 0 4 1-4 0 4 1-7 0 5 1-3 0 3 1-2 0 2 1-3 0 3 1-2 0 4 1-4 0 2 1-4 0 6 1-6 0 6 1-7 0 7 1-8 0 9 1-8 0 8 1-9 0 9 1-9 0 9 1-10 0 11 1-10 0 9 1-8 0 8 1-7 0 6 1-5 0 5 1-6 0 5 1-6 0 5 1-2 0 2 1-2 0 4 1-4 0 2 1-2 0 3 1-5 0 6 1-7 0 8 1-8 0 9 1-11 0 10 1-9 0 8 1-6 0 5 1-3 0 2 1-2 0 2 1-4 0 4 1-2 0 4 1-5 0 3 1-4 0 4 1-2 0 2 1-2 0 5 1-5 0 2 1-4 0 4 1-2 0 2 1-2 0 2 1-2 0 5 1-8 0 9 1-6 0 3 1-4 0 3 1-2 0 3 1-4 0 3 1-4 0 4 1-2 0 2 1-3 0 3 1-2 0 2 1-2 0 2 1-2 0 2 1-2 0 2 1-2 0 2 1-4 0 5 1-5 0 7 1-8 0 9 1-10 0 10 1-11 0 11 1-10 0 10 1-11 0 11 1-9 0 10 1-10 0 8 1-8 0 8 1-7 0 6 1-4 0 2 1-2 0 5 1-5 0 2 1-2 0 2 1-2 0 3 1-3 0 5 1-5 0 2 1-2 0 2 1-2 0 2 1-2 0 2 1-3 0 4 1-5 0 7 1-9 0 9 1-8 0 9 1-10 0 10 1-10 0 9 1-7 0 7 1-8 0 7 1-6 0 6 1-5 0 5 1-4 0 2 1-2 0 2 1-2 0 4 1-4 0 4 1-4 0 4 1-5 0 3 1-2 0 2 1-4 0 6 1-7 0 8 1-8 0 8 1-8 0 8 1-8 0 7 1-5 0 3 1-2 0 2 1-3 0 3 1-2 0 2 1-2 0 4 1-4 0 4 1-4 0 2 1-5 0 5 1-5 0 5 1-3 0 3 1-4 0 4 1-4 0 4 1-2 0 2 1-6 0 9 1-5 0 4 1-5 0 3 1-5 0 5 1-3 0 3 1-2 0 2 1-2 0 2 1-2 0 3 1-3 0 4 1-4 0 3 1-5 0 4 1-2 0 2 1-3 0 3 1-5 0 8 1-7 0 4 1-2 0 4 1-4 0 2 1-3 0 5 1-6 0 5 1-5 0 7 1-8 0 8 1-7 0 7 1-7 0 7 1-8 0 9 1-9 0 8 1-8 0 9 1-8 0 8 1-9 0 8 1-8 0 7 1-6 0 7 1-7 0 7 1-7 0 6 1-5 0 5 1-6 0 4 1-2 0 2 1-2 0 2 1-2 0 2 1-2 0 5 1-5 0 2 1-2 0 2 1-2 0 4 1-4 0 3 1-3 0 3 1-3 0 2 1-5 0 8 1-7 0 4 1-2 0 3 1-3 0 3 1-3 0 5 1-5 0 2 1-2 0 4 1-4 0 4 1-6 0 4 1-6 0 9 1-5 0 4 1-5 0 3 1-2 0 3 1-6 0 5 1-2 0 2 1-4 0 6 1-7 0 8 1-7 0 6 1-7 0 8 1-8 0 8 1-8 0 8 1-6 0 5 1-4 0 2 1-2 0 3 1-5 0 4 1-4 0 4 1-2 0 2 1-2 0 2 1-2 0 2 1-3 0 3 1-4 0 4 1-2 0 3 1-3 0 2 1-2 0 2 1-6 0 10 1-6 0 2 1-2 0 5 1-5 0 2 1-3 0 3 1-2 0 2 1-2 0 3 1-5 0 4 1-2 0 2 1-2 0 4 1-8 0 9 1-5 0 4 1-6 0 4 1-2 0 2 1-2 0 3 1-3 0 3 1-3 0 5 1-8 0 5 1-5 0 5 1-2 0 2 1-2 0 3 1-3 0 5 1-5 0 4 1-7 0 5 1-2 0 2 1-2 0 2 1-2 0 5 1-5 0 2 1-2 0 2 1-2 0 4 1-4 0 2 1-5 0 9 1-6 0 3 1-3 0 2 1-2 0 4 1-4 0 2 1-2 0 5 1-5 0 2 1-2 0 2 1-2 0 2 1-2 0 2 1-2 0 3 1-3 0 4 1-4 0 2 1-5 0 5 1-2 0 3 1-3 0 4 1-4 0 2 1-5 0 5 1-2 0 2 1-3 0 3 1-2 0 3 1-5 0 4 1-2 0 4 1-5 0 3 1-2 0 2 1-2 0 2 1-4 0 4 1-2 0 4 1-9 0 11 1-7 0 3 1-5 0 5 1-2 0 2 1-2 0 4 1-4 0 2 1-2 0 2 1-2 0 5 1-5 0 4 1-4 0 2 1-2 0 4 1-4 0 4 1-7 0 5 1-6 0 9 1-5 0 2 1-2 0 2 1-2 0 2 1-2 0 2 1-2 0 5 1-5 0 5 1-5 0 2 1-2 0 3 1-5 0 4 1-2 0 3 1-3 0 4 1-5 0 3 1-2 0 2 1-2 0 2 1-4 0 4 1-5 0 8 1-8 0 5 1-2 0 4 1-4 0 4 1-4 0 2 1-4 0 4 1-2 0 2 1-2 0 4 1-4 0 2 1-2 0 4 1-4 0 2 1-4 0 4 1-5 0 5 1-4 0 4 1-2 0 4 1-7 0 7 1-7 0 8 1-9 0 10 1-9 0 8 1-7 0 6 1-4 0 3 1-3 0 2 1-3 0 3 1-5 0 5 1-2 0 2 1-2 0 3 1-6 0 5 1-2 0 2 1-3 0 3 1-3 0 3 1-2 0 4 1-8 0 10 1-6 0 4 1-4 0 4 1-6 0 4 1-2 0 4 1-6 0 4 1-2 0 2 1-4 0 4 1-4 0 4 1-2 0 2 1-2 0 2 1-2 0 2 1-2 0 5 1-7 0 5 1-5 0 7 1-7 0 7 1-8 0 9 1-9 0 10 1-11 0 9 1-8 0 9 1-9 0 8 1-6 0 5 1-4 0 5 1-5 0 4 1-4 0 3 1-3 0 4 1-4 0 2 1-2 0 2 1-2 0 2 1-4 0 4 1-6 0 9 1-5 0 2 1-2 0 5 1-5 0 5 1-5 0 2"/><path vector-effect="non-scaling-stroke" transform="translate(138.00 640.508) scale(1.001145 0.2500)" stroke="#0000ff" d="M0-5l0 7 1-4 0 5 1-5 0 5 1-7 0 6 1-4 0 4 1-4 0 5 1-5 0 4 1-4 0 4 1-4 0 4 1-5 0 5 1-4 0 4 1-4 0 4 1-5 0 5 1-4 0 4 1-6 0 6 1-4 0 5 1-5 0 4 1-4 0 4 1-4 0 4 1-4 0 4 1-4 0 5 1-5 0 4 1-5 0 5 1-4 0 4 1-4 0 4 1-4 0 4 1-5 0 6 1-6 0 6 1-8 0 9 1-8 0 7 1-5 0 5 1-5 0 4 1-4 0 4 1-4 0 4 1-4 0 4 1-4 0 4 1-4 0 6 1-6 0 4 1-4 0 5 1-5 0 4 1-4 0 4 1-4 0 4 1-4 0 4 1-4 0 4 1-5 0 5 1-4 0 4 1-5 0 5 1-6 0 8 1-8 0 7 1-8 0 8 1-6 0 6 1-6 0 6 1-6 0 7 1-8 0 8 1-8 0 7 1-8 0 9 1-7 0 6 1-6 0 6 1-5 0 4 1-4 0 4 1-4 0 4 1-4 0 4 1-4 0 4 1-4 0 4 1-4 0 4 1-4 0 4 1-4 0 6 1-6 0 5 1-5 0 4 1-4 0 4 1-4 0 4 1-4 0 4 1-4 0 4 1-4 0 4 1-4 0 4 1-4 0 4 1-4 0 4 1-4 0 4 1-4 0 4 1-5 0 7 1-6 0 5 1-5 0 4 1-4 0 4 1-4 0 4 1-4 0 4 1-4 0 4 1-4 0 4 1-4 0 4 1-6 0 6 1-4 0 6 1-7 0 6 1-5 0 4 1-6 0 6 1-6 0 6 1-4 0 4 1-4 0 7 1-7 0 4 1-4 0 4 1-5 0 5 1-5 0 5 1-4 0 4 1-4 0 5 1-5 0 4 1-4 0 4 1-4 0 4 1-4 0 4 1-4 0 4 1-4 0 6 1-8 0 7 1-5 0 4 1-4 0 4 1-4 0 6 1-6 0 4 1-4 0 4 1-4 0 4 1-6 0 6 1-4 0 4 1-4 0 4 1-4 0 4 1-4 0 4 1-4 0 5 1-5 0 4 1-4 0 4 1-4 0 4 1-4 0 4 1-4 0 4 1-4 0 5 1-5 0 4 1-4 0 4 1-7 0 7 1-4 0 4 1-6 0 6 1-4 0 4 1-4 0 4 1-6 0 6 1-4 0 5 1-5 0 7 1-7 0 6 1-6 0 4 1-4 0 4 1-4 0 4 1-4 0 4 1-4 0 4 1-4 0 4 1-5 0 5 1-4 0 6 1-6 0 5 1-5 0 4 1-4 0 4 1-4 0 4 1-7 0 7 1-4 0 4 1-4 0 4 1-4 0 4 1-4 0 4 1-4 0 6 1-6 0 4 1-4 0 4 1-4 0 4 1-4 0 5 1-5 0 4 1-4 0 4 1-4 0 5 1-5 0 6 1-6 0 4 1-6 0 6 1-6 0 6 1-4 0 4 1-4 0 4 1-4 0 4 1-6 0 7 1-6 0 7 1-7 0 8 1-8 0 7 1-8 0 7 1-5 0 4 1-4 0 6 1-6 0 6 1-8 0 6 1-4 0 4 1-4 0 4 1-6 0 6 1-4 0 4 1-4 0 4 1-4 0 5 1-5 0 4 1-6 0 6 1-4 0 4 1-4 0 5 1-5 0 4 1-4 0 4 1-4 0 4 1-4 0 5 1-5 0 7 1-7 0 4 1-4 0 4 1-5 0 5 1-5 0 6 1-8 0 8 1-6 0 6 1-6 0 6 1-5 0 7 1-7 0 4 1-4 0 4 1-4 0 4 1-4 0 6 1-8 0 6 1-5 0 5 1-4 0 4 1-5 0 5 1-4 0 4 1-4 0 4 1-4 0 5 1-5 0 7 1-7 0 4 1-4 0 4 1-4 0 4 1-4 0 5 1-7 0 6 1-4 0 4 1-4 0 4 1-4 0 4 1-4 0 4 1-4 0 4 1-6 0 6 1-4 0 4 1-6 0 6 1-4 0 4 1-4 0 4 1-4 0 4 1-6 0 6 1-4 0 4 1-4 0 6 1-6 0 4 1-4 0 4 1-4 0 4 1-4 0 6 1-8 0 6 1-4 0 5 1-5 0 4 1-4 0 4 1-4 0 4 1-4 0 4 1-5 0 5 1-4 0 4 1-4 0 4 1-4 0 5 1-5 0 5 1-5 0 4 1-4 0 5 1-5 0 4 1-4 0 4 1-4 0 4 1-6 0 7 1-5 0 4 1-4 0 4 1-4 0 4 1-4 0 4 1-4 0 4 1-4 0 5 1-5 0 4 1-4 0 4 1-4 0 4 1-4 0 4 1-4 0 4 1-4 0 4 1-9 0 14 1-16 0 18 1-16 0 14 1-9 0 5 1-5 0 4 1-4 0 5 1-5 0 5 1-5 0 6 1-6 0 5 1-5 0 4 1-4 0 4 1-4 0 4 1-4 0 7 1-7 0 6 1-6 0 6 1-8 0 6 1-4 0 4 1-4 0 4 1-7 0 7 1-4 0 5 1-6 0 6 1-8 0 8 1-6 0 6 1-5 0 6 1-7 0 5 1-4 0 4 1-4 0 4 1-4 0 6 1-6 0 4 1-7 0 7 1-4 0 4 1-4 0 4 1-4 0 4 1-4 0 4 1-4 0 5 1-5 0 4 1-4 0 4 1-4 0 4 1-4 0 4 1-4 0 4 1-4 0 6 1-6 0 4 1-4 0 4 1-4 0 4 1-5 0 5 1-4 0 5 1-5 0 4 1-4 0 4 1-4 0 4 1-4 0 4 1-4 0 4 1-4 0 6 1-6 0 5 1-5 0 4 1-4 0 4 1-4 0 5 1-5 0 4 1-4 0 6 1-6 0 4 1-5 0 5 1-4 0 4 1-4 0 4 1-4 0 5 1-6 0 5 1-4 0 4 1-4 0 4 1-4 0 4 1-4 0 4 1-4 0 4 1-4 0 4 1-4 0 4 1-4 0 6 1-6 0 4 1-4 0 4 1-4 0 5 1-5 0 4 1-4 0 4 1-5 0 5 1-4 0 4 1-5 0 5 1-4 0 4 1-4 0 4 1-4 0 4 1-4 0 6 1-6 0 4 1-4 0 4 1-4 0 4 1-4 0 4 1-4 0 4 1-4 0 4 1-4 0 7 1-7 0 4 1-4 0 4 1-4 0 4 1-4 0 5 1-5 0 4 1-4 0 4 1-4 0 4 1-4 0 4 1-4 0 4 1-4 0 6 1-6 0 6 1-6 0 4 1-4 0 4 1-4 0 4 1-6 0 6 1-4 0 6 1-6 0 4 1-4 0 4 1-4 0 4 1-4 0 4 1-4 0 4 1-5 0 5 1-4 0 4 1-4 0 4 1-6 0 6 1-4 0 4 1-5 0 5 1-4 0 4 1-4 0 5 1-5 0 4 1-4 0 4 1-4 0 4 1-4 0 4 1-4 0 4 1-4 0 4 1-4 0 4 1-4 0 4 1-5 0 5 1-4 0 4 1-4 0 6 1-8 0 6 1-4 0 4 1-4 0 4 1-6 0 6 1-4 0 4 1-4 0 4 1-4 0 5 1-5 0 4 1-4 0 4 1-4 0 5 1-6 0 5 1-4 0 6 1-6 0 4 1-7 0 7 1-4 0 4 1-4 0 4 1-5 0 5 1-4 0 4 1-5 0 5 1-4 0 5 1-5 0 4 1-5 0 5 1-6 0 6 1-4 0 4 1-4 0 7 1-7 0 4 1-4 0 5 1-5 0 6 1-6 0 4 1-4 0 5 1-6 0 5 1-4 0 4 1-4 0 4 1-4 0 6 1-8 0 6 1-5 0 5 1-4 0 5 1-5 0 4 1-4 0 4 1-4 0 4 1-4 0 4 1-6 0 6 1-4 0 4 1-6 0 6 1-4 0 4 1-4 0 4 1-6 0 6 1-4 0 4 1-5 0 5 1-4 0 5 1-6 0 5 1-4 0 3 1-4 0 5 1-4 0 4 1-4 0 5 1-5 0 4 1-4 0 4 1-4 0 4 1-4 0 6 1-7 0 6 1-7 0 8 1-8 0 7 1-7 0 7 1-6 0 6 1-5 0 5 1-5 0 4 1-4 0 4 1-4 0 4 1-4 0 6 1-6 0 6 1-6 0 4 1-4 0 4 1-4 0 4 1-4 0 5 1-5 0 4 1-4 0 4 1-5 0 5 1-4 0 4 1-4 0 4 1-4 0 6 1-8 0 6 1-6 0 6 1-4 0 7 1-7 0 4 1-4 0 6 1-8 0 6 1-4 0 4 1-5 0 5 1-4 0 4 1-4 0 4 1-4 0 6 1-6 0 4 1-4 0 4 1-4 0 4 1-4 0 4 1-4 0 4 1-4 0 4 1-4 0 4 1-4 0 4 1-4 0 4 1-4 0 4 1-4 0 4 1-4 0 4 1-4 0 5 1-5 0 4 1-4 0 4 1-4 0 4 1-4 0 4 1-4 0 4 1-4 0 4 1-4 0 4 1-5 0 5 1-4 0 4 1-4 0 4 1-4 0 4 1-4 0 4 1-4 0 4 1-4 0 4 1-4 0 4 1-4 0 4 1-4 0 4 1-4 0 4 1-4 0 4 1-4 0 5 1-5 0 6 1-6 0 6 1-6 0 4 1-7 0 7 1-4 0 4 1-4 0 6 1-6 0 4 1-4 0 4 1-4 0 4 1-4 0 4 1-5 0 5 1-4 0 4 1-4 0 4 1-6 0 6 1-4 0 4 1-4 0 5 1-5 0 5 1-7 0 6 1-5 0 5 1-4 0 4 1-4 0 5 1-5 0 5 1-5 0 4 1-6 0 6 1-4 0 6 1-7 0 5 1-4 0 4 1-4 0 4 1-4 0 4 1-4 0 4 1-4 0 4 1-4 0 6 1-6 0 4 1-4 0 4 1-4 0 4 1-4 0 4 1-4 0 4 1-6 0 6 1-4 0 4 1-4 0 4 1-4 0 4 1-4 0 4 1-4 0 4 1-4 0 4 1-4 0 6 1-6 0 4 1-4 0 4 1-4 0 6 1-7 0 5 1-4 0 4 1-4 0 4 1-6 0 6 1-6 0 6 1-6 0 6 1-4 0 4 1-4 0 7 1-7 0 5 1-5 0 6 1-6 0 4 1-4 0 5 1-5 0 4 1-4 0 4 1-6 0 6 1-5 0 5 1-4 0 4 1-4 0 4 1-4 0 4 1-4 0 4 1-4 0 4 1-4 0 6 1-6 0 4 1-4 0 4 1-4 0 4 1-4 0 4 1-4 0 4 1-4 0 4 1-4 0 4 1-4 0 4 1-4 0 5 1-5 0 4 1-4 0 4 1-4 0 4 1-5 0 5 1-4 0 4 1-4 0 6 1-7 0 5 1-4 0 4 1-4 0 4 1-4 0 5 1-5 0 4 1-4 0 4 1-4 0 6 1-6 0 6 1-6 0 4 1-6 0 6 1-4 0 4 1-4 0 4 1-4 0 4 1-4 0 4 1-6 0 6 1-4 0 4 1-4 0 4 1-4 0 4 1-4 0 4 1-4 0 4 1-4 0 4 1-6 0 6 1-4 0 4 1-4 0 4 1-4 0 4 1-4 0 4 1-6 0 6 1-4 0 4 1-4 0 4 1-4 0 4 1-5 0 5 1-4 0 4 1-4 0 4 1-4 0 4 1-4 0 4 1-6 0 6 1-4 0 5 1-5 0 4 1-4 0 4 1-4 0 4 1-4 0 4 1-4 0 4 1-4 0 4 1-4 0 4 1-4 0 4 1-4 0 4 1-4 0 4 1-4 0 6 1-6 0 5 1-5 0 4 1-4 0 4 1-4 0 6 1-6 0 4 1-7 0 7 1-4 0 4 1-6 0 6 1-4 0 4 1-5 0 5 1-4 0 4 1-4 0 4 1-5 0 5 1-4 0 4 1-4 0 4 1-4 0 4 1-5 0 5 1-4 0 5 1-6 0 5 1-4 0 4 1-4 0 4 1-4 0 5 1-6 0 5 1-4 0 4 1-4 0 5 1-5 0 4 1-4 0 4 1-5 0 5 1-5 0 6 1-5 0 4 1-4 0 4 1-4 0 4 1-4 0 5 1-5 0 4 1-5 0 5 1-6 0 6 1-4 0 4 1-4 0 4 1-5 0 5 1-4 0 5 1-5 0 4 1-4 0 4 1-5 0 7 1-8 0 8 1-7 0 6 1-5 0 4 1-4 0 4 1-4 0 4 1-4 0 4 1-4 0 4 1-5 0 7 1-8 0 6 1-4 0 4 1-4 0 5 1-5 0 4 1-4 0 4 1-4 0 4 1-4 0 4 1-4 0 4 1-4 0 5 1-5 0 4 1-4 0 4 1-4 0 4 1-4 0 6 1-6 0 6 1-6 0 4 1-4 0 4 1-4 0 4 1-4 0 4 1-4 0 4 1-4 0 4 1-5 0 5 1-4 0 4 1-4 0 5 1-5 0 4 1-5 0 7 1-6 0 4 1-4 0 5 1-5 0 4 1-4 0 4 1-4 0 4 1-4 0 4 1-4 0 4 1-4 0 4 1-6 0 6 1-4 0 4 1-4 0 4 1-4 0 4 1-4 0 4 1-4 0 4 1-4 0 4 1-5 0 5 1-4 0 4 1-5 0 5 1-4 0 4 1-4 0 5 1-5 0 4 1-4 0 4 1-4 0 4 1-4 0 4 1-4 0 4 1-6 0 6 1-4 0 5 1-5 0 4 1-4 0 4 1-4 0 4 1-4 0 4 1-4 0 4 1-6 0 6 1-4 0 4 1-4 0 4 1-4 0 4 1-4 0 4 1-4 0 5 1-5 0 6 1-6 0 5 1-5 0 4 1-4 0 5 1-5 0 4 1-5 0 5 1-4 0 6 1-6 0 4 1-4 0 4 1-4 0 4 1-4 0 6 1-6 0 4 1-5 0 6 1-6 0 5 1-4 0 4 1-4 0 4 1-5 0 5 1-4 0 4 1-4 0 6 1-6 0 4 1-4 0 4 1-4 0 4 1-4 0 4 1-4 0 4 1-4 0 4 1-4 0 4 1-4 0 4 1-4 0 4 1-5 0 5 1-4 0 4 1-4 0 4 1-4 0 4 1-4 0 4 1-4 0 4 1-4 0 4 1-4 0 4 1-4 0 6 1-6 0 4 1-4 0 4 1-4 0 4 1-4 0 4 1-4 0 4 1-4 0 4 1-4 0 5 1-5 0 4 1-4 0 4 1-4 0 6 1-6 0 4 1-4 0 4 1-5 0 5 1-4 0 4 1-4 0 4 1-4 0 4 1-4 0 4 1-4 0 7 1-7 0 6 1-6 0 5 1-5 0 4 1-5 0 5 1-4 0 4 1-4 0 4 1-4 0 4 1-4 0 4 1-4 0 4 1-4 0 4 1-4 0 4 1-6 0 6 1-5 0 5 1-4 0 4 1-4 0 6 1-7 0 5 1-5 0 5 1-4 0 4 1-4 0 5 1-5 0 4 1-5 0 5 1-4 0 6 1-6 0 4 1-4 0 4 1-4 0 4 1-4 0 4 1-4 0 6 1-6 0 4 1-6 0 6 1-4 0 4 1-4 0 4 1-6 0 6 1-6 0 6 1-4 0 4 1-6 0 6 1-4 0 4 1-4 0 4 1-7 0 7 1-4 0 4 1-4 0 4 1-6 0 6 1-4 0 4 1-4 0 4 1-4 0 4 1-5 0 8 1-8 0 9 1-9 0 7 1-7 0 6 1-6 0 7 1-9 0 9 1-7 0 6"/><path vector-effect="non-scaling-stroke" transform="translate(138.00 672.051) scale(1.001145 0.2500)" stroke="#008000" d="M0-1l0 2 1-2 0 2 1-4 0 4 1-2 0 4 1-4 0 4 1-4 0 5 1-5 0 5 1-5 0 4 1-4 0 2 1-5 0 5 1-2 0 2 1-5 0 5 1-2 0 5 1-5 0 2 1-3 0 3 1-1 0 3 1-6 0 4 1-4 0 4 1-5 0 5 1-2 0 2 1-2 0 2 1-5 0 5 1-4 0 4 1-2 0 3 1-3 0 2 1-4 0 4 1-2 0 2 1-2 0 3 1-3 0 2 1-2 0 2 1-2 0 4 1-4 0 5 1-7 0 4 1-4 0 6 1-7 0 8 1-9 0 10 1-10 0 10 1-10 0 10 1-9 0 8 1-8 0 7 1-4 0 2 1-2 0 2 1-2 0 4 1-4 0 2 1-2 0 2 1-2 0 2 1-2 0 2 1-2 0 5 1-9 0 10 1-6 0 4 1-4 0 2 1-2 0 2 1-2 0 5 1-5 0 2 1-2 0 4 1-4 0 4 1-4 0 4 1-6 0 4 1-2 0 2 1-5 0 5 1-2 0 2 1-2 0 4 1-4 0 2 1-5 0 5 1-2 0 2 1-2 0 3 1-3 0 2 1-2 0 4 1-4 0 3 1-3 0 2 1-2 0 2 1-2 0 2 1-2 0 2 1-3 0 3 1-3 0 3 1-4 0 4 1-2 0 3 1-6 0 5 1-6 0 10 1-6 0 2 1-2 0 5 1-7 0 4 1-5 0 5 1-3 0 3 1-2 0 4 1-4 0 2 1-2 0 2 1-2 0 2 1-5 0 5 1-4 0 4 1-3 0 4 1-5 0 5 1-5 0 6 1-6 0 7 1-8 0 8 1-8 0 8 1-9 0 9 1-9 0 9 1-8 0 9 1-9 0 9 1-9 0 9 1-9 0 8 1-8 0 8 1-8 0 8 1-7 0 6 1-6 0 6 1-5 0 5 1-5 0 4 1-6 0 5 1-3 0 3 1-3 0 3 1-3 0 3 1-4 0 4 1-4 0 4 1-3 0 3 1-2 0 2 1-2 0 3 1-7 0 10 1-6 0 2 1-2 0 2 1-2 0 3 1-3 0 2 1-4 0 4 1-2 0 4 1-4 0 3 1-3 0 2 1-3 0 3 1-2 0 5 1-5 0 3 1-6 0 5 1-2 0 5 1-5 0 2 1-4 0 4 1-2 0 2 1-2 0 2 1-4 0 4 1-4 0 4 1-2 0 2 1-2 0 2 1-2 0 3 1-3 0 2 1-2 0 2 1-2 0 2 1-2 0 2 1-3 0 3 1-4 0 4 1-2 0 3 1-3 0 4 1-6 0 4 1-2 0 2 1-2 0 2 1-2 0 5 1-5 0 2 1-2 0 4 1-5 0 3 1-3 0 3 1-2 0 2 1-2 0 2 1-5 0 5 1-2 0 3 1-3 0 2 1-2 0 2 1-2 0 2 1-2 0 2 1-3 0 3 1-2 0 4 1-4 0 4 1-4 0 5 1-7 0 4 1-2 0 4 1-7 0 5 1-2 0 5 1-5 0 2 1-2 0 2 1-5 0 5 1-2 0 2 1-2 0 4 1-5 0 3 1-2 0 2 1-2 0 2 1-2 0 2 1-2 0 4 1-4 0 2 1-2 0 3 1-6 0 7 1-7 0 8 1-9 0 10 1-10 0 10 1-10 0 10 1-9 0 8 1-8 0 8 1-7 0 6 1-4 0 2 1-4 0 4 1-2 0 2 1-2 0 3 1-6 0 5 1-2 0 2 1-3 0 3 1-2 0 2 1-2 0 2 1-2 0 3 1-3 0 2 1-2 0 2 1-5 0 5 1-6 0 10 1-6 0 4 1-5 0 3 1-2 0 4 1-4 0 4 1-7 0 5 1-2 0 4 1-7 0 5 1-3 0 3 1-2 0 2 1-2 0 5 1-8 0 5 1-2 0 2 1-2 0 4 1-4 0 2 1-2 0 4 1-4 0 2 1-2 0 2 1-5 0 5 1-2 0 2 1-2 0 2 1-2 0 4 1-4 0 2 1-4 0 4 1-2 0 3 1-3 0 2 1-6 0 10 1-6 0 2 1-2 0 3 1-3 0 2 1-2 0 2 1-5 0 5 1-2 0 4 1-4 0 5 1-5 0 3 1-3 0 3 1-3 0 4 1-6 0 4 1-2 0 2 1-2 0 2 1-2 0 5 1-5 0 4 1-4 0 3 1-3 0 2 1-2 0 2 1-2 0 2 1-4 0 4 1-2 0 2 1-2 0 2 1-4 0 4 1-4 0 7 1-9 0 10 1-10 0 10 1-9 0 7 1-4 0 4 1-6 0 4 1-2 0 5 1-9 0 10 1-6 0 2 1-3 0 3 1-4 0 4 1-2 0 4 1-4 0 5 1-5 0 2 1-2 0 2 1-2 0 2 1-6 0 10 1-6 0 3 1-6 0 5 1-5 0 5 1-2 0 5 1-5 0 2 1-2 0 4 1-4 0 2 1-2 0 2 1-2 0 3 1-3 0 4 1-7 0 5 1-2 0 5 1-7 0 4 1-3 0 3 1-2 0 4 1-5 0 5 1-6 0 7 1-8 0 8 1-9 0 10 1-10 0 10 1-10 0 10 1-10 0 10 1-9 0 8 1-8 0 8 1-7 0 6 1-4 0 2 1-2 0 5 1-5 0 4 1-4 0 2 1-2 0 2 1-2 0 5 1-5 0 2 1-3 0 3 1-2 0 2 1-2 0 2 1-2 0 4 1-5 0 3 1-2 0 4 1-4 0 2 1-2 0 2 1-6 0 10 1-6 0 4 1-6 0 4 1-2 0 2 1-2 0 2 1-2 0 2 1-2 0 2 1-6 0 10 1-6 0 4 1-4 0 5 1-8 0 5 1-2 0 2 1-2 0 2 1-5 0 5 1-2 0 4 1-5 0 3 1-3 0 3 1-3 0 3 1-2 0 4 1-4 0 2 1-2 0 2 1-4 0 7 1-8 0 9 1-10 0 10 1-10 0 10 1-9 0 8 1-7 0 6 1-4 0 2 1-2 0 5 1-7 0 4 1-3 0 3 1-3 0 3 1-3 0 3 1-2 0 2 1-2 0 2 1-2 0 5 1-8 0 5 1-6 0 10 1-6 0 3 1-3 0 2 1-2 0 4 1-4 0 3 1-5 0 4 1-2 0 2 1-4 0 4 1-4 0 4 1-2 0 2 1-2 0 5 1-5 0 2 1-5 0 5 1-2 0 2 1-2 0 4 1-7 0 5 1-3 0 3 1-5 0 5 1-6 0 10 1-6 0 2 1-2 0 5 1-7 0 4 1-4 0 4 1-4 0 4 1-2 0 2 1-2 0 2 1-4 0 4 1-2 0 3 1-6 0 5 1-2 0 2 1-2 0 2 1-3 0 3 1-5 0 8 1-9 0 10 1-10 0 10 1-9 0 8 1-5 0 2 1-2 0 5 1-5 0 2 1-2 0 5 1-5 0 3 1-3 0 5 1-5 0 4 1-4 0 2 1-2 0 2 1-2 0 2 1-2 0 4 1-4 0 2 1-5 0 5 1-2 0 2 1-2 0 2 1-2 0 2 1-2 0 2 1-3 0 3 1-2 0 2 1-4 0 6 1-7 0 8 1-9 0 10 1-10 0 10 1-9 0 8 1-7 0 6 1-4 0 5 1-5 0 4 1-5 0 3 1-2 0 2 1-2 0 2 1-2 0 4 1-4 0 4 1-5 0 3 1-2 0 2 1-2 0 4 1-4 0 4 1-4 0 4 1-4 0 4 1-5 0 3 1-4 0 4 1-4 0 4 1-4 0 4 1-2 0 2 1-2 0 4 1-4 0 4 1-4 0 5 1-5 0 4 1-7 0 5 1-4 0 4 1-2 0 4 1-8 0 10 1-6 0 3 1-6 0 5 1-4 0 6 1-6 0 7 1-8 0 8 1-9 0 10 1-10 0 10 1-10 0 10 1-10 0 10 1-9 0 8 1-7 0 6 1-5 0 5 1-4 0 5 1-5 0 4 1-4 0 2 1-4 0 4 1-4 0 4 1-2 0 2 1-2 0 2 1-2 0 4 1-4 0 2 1-2 0 4 1-4 0 3 1-3 0 4 1-4 0 2 1-4 0 4 1-6 0 10 1-6 0 3 1-4 0 3 1-5 0 5 1-4 0 4 1-2 0 2 1-4 0 4 1-4 0 4 1-2 0 4 1-4 0 2 1-2 0 2 1-6 0 10 1-6 0 2 1-2 0 2 1-2 0 4 1-4 0 4 1-4 0 4 1-4 0 2 1-2 0 3 1-4 0 3 1-2 0 4 1-4 0 2 1-4 0 4 1-2 0 2 1-2 0 2 1-4 0 4 1-2 0 2 1-3 0 3 1-2 0 2 1-2 0 2 1-4 0 4 1-2 0 5 1-9 0 10 1-8 0 4 1-2 0 4 1-4 0 5 1-5 0 2 1-2 0 2 1-2 0 2 1-6 0 10 1-6 0 4 1-4 0 2 1-3 0 3 1-4 0 4 1-2 0 3 1-6 0 5 1-2 0 4 1-5 0 3 1-5 0 5 1-3 0 3 1-2 0 4 1-4 0 4 1-4 0 4 1-4 0 2 1-4 0 4 1-3 0 3 1-2 0 2 1-6 0 10 1-6 0 2 1-2 0 2 1-3 0 3 1-2 0 2 1-3 0 3 1-4 0 4 1-2 0 2 1-4 0 6 1-7 0 8 1-8 0 9 1-10 0 10 1-9 0 9 1-9 0 8 1-7 0 6 1-7 0 5 1-2 0 2 1-2 0 2 1-2 0 4 1-4 0 2 1-2 0 2 1-2 0 2 1-3 0 3 1-6 0 10 1-6 0 2 1-3 0 3 1-5 0 5 1-2 0 2 1-2 0 2 1-6 0 10 1-6 0 5 1-5 0 2 1-2 0 2 1-4 0 4 1-2 0 3 1-3 0 5 1-5 0 2 1-2 0 2 1-5 0 5 1-2 0 2 1-6 0 10 1-6 0 2 1-2 0 3 1-5 0 4 1-2 0 2 1-2 0 2 1-2 0 3 1-3 0 2 1-6 0 10 1-6 0 3 1-3 0 2 1-2 0 4 1-5 0 3 1-5 0 5 1-2 0 4 1-7 0 5 1-4 0 4 1-2 0 2 1-4 0 4 1-2 0 2 1-2 0 5 1-7 0 4 1-3 0 5 1-7 0 8 1-8 0 8 1-9 0 10 1-10 0 10 1-10 0 10 1-10 0 10 1-9 0 8 1-8 0 7 1-6 0 5 1-4 0 3 1-2 0 2 1-2 0 2 1-5 0 5 1-2 0 3 1-5 0 4 1-4 0 4 1-5 0 5 1-2 0 4 1-6 0 4 1-2 0 2 1-2 0 2 1-4 0 4 1-5 0 5 1-2 0 2 1-5 0 5 1-5 0 5 1-2 0 5 1-7 0 6 1-7 0 8 1-9 0 10 1-10 0 10 1-10 0 10 1-9 0 8 1-7 0 6 1-4 0 5 1-5 0 2 1-2 0 3 1-4 0 3 1-4 0 4 1-5 0 5 1-2 0 4 1-8 0 10 1-8 0 4 1-2 0 2 1-2 0 2 1-2 0 2 1-2 0 2 1-2 0 4 1-4 0 2 1-3 0 3 1-2 0 2 1-2 0 2 1-2 0 2 1-5 0 5 1-2 0 2 1-2 0 2 1-3 0 3 1-2 0 2 1-5 0 5 1-4 0 4 1-4 0 4 1-2 0 5 1-8 0 8 1-9 0 10 1-10 0 10 1-9 0 8 1-5 0 2 1-5 0 5 1-2 0 5 1-5 0 4 1-5 0 3 1-2 0 2 1-2 0 4 1-6 0 4 1-2 0 5 1-5 0 5 1-5 0 5 1-7 0 6 1-7 0 8 1-9 0 9 1-9 0 10 1-10 0 10 1-9 0 8 1-7 0 6 1-6 0 4 1-2 0 2 1-3 0 3 1-4 0 6 1-7 0 8 1-9 0 9 1-9 0 9 1-9 0 10 1-10 0 10 1-10 0 9 1-8 0 7 1-6 0 6 1-4 0 5 1-5 0 2 1-2 0 2 1-3 0 3 1-4 0 4 1-2 0 2 1-6 0 10 1-6 0 2 1-2 0 2 1-2 0 2 1-5 0 5 1-2 0 4 1-4 0 2 1-2 0 5 1-5 0 3 1-6 0 5 1-2 0 2 1-5 0 5 1-2 0 2 1-2 0 2 1-5 0 5 1-2 0 5 1-8 0 5 1-2 0 5 1-7 0 4 1-2 0 2 1-2 0 2 1-4 0 4 1-5 0 5 1-2 0 4 1-4 0 2 1-4 0 6 1-8 0 9 1-9 0 10 1-10 0 10 1-9 0 9 1-8 0 6 1-4 0 2 1-2 0 3 1-3 0 2 1-2 0 4 1-4 0 2 1-2 0 4 1-4 0 2 1-4 0 4 1-6 0 10 1-8 0 4 1-2 0 5 1-5 0 3 1-3 0 2 1-2 0 2 1-2 0 4 1-5 0 3 1-2 0 2 1-2 0 3 1-3 0 4 1-7 0 8 1-9 0 9 1-9 0 10 1-8 0 7 1-8 0 5 1-2 0 2 1-2 0 2 1-2 0 4 1-4 0 2 1-2 0 5 1-5 0 2 1-2 0 2 1-2 0 2 1-2 0 2 1-2 0 2 1-2 0 2 1-2 0 2 1-5 0 5 1-2 0 2 1-2 0 2 1-2 0 2 1-2 0 2 1-2 0 4 1-4 0 3 1-3 0 2 1-3 0 3 1-2 0 2 1-2 0 2 1-3 0 3 1-2 0 2 1-2 0 2 1-4 0 4 1-2 0 4 1-4 0 3 1-4 0 3 1-2 0 2 1-2 0 2 1-3 0 3 1-6 0 10 1-6 0 2 1-2 0 2 1-2 0 2 1-2 0 3 1-3 0 5 1-5 0 3 1-4 0 4 1-5 0 6 1-7 0 8 1-9 0 9 1-9 0 10 1-10 0 10 1-10 0 10 1-9 0 8 1-8 0 8 1-7 0 6 1-5 0 5 1-4 0 2 1-2 0 2 1-2 0 2 1-4 0 4 1-2 0 4 1-4 0 2 1-2 0 2 1-6 0 10 1-6 0 2 1-4 0 4 1-2 0 5 1-5 0 5 1-5 0 3 1-5 0 4 1-4 0 4 1-2 0 2 1-4 0 7 1-8 0 9 1-10 0 10 1-10 0 10 1-8 0 6 1-4 0 2 1-2 0 2 1-2 0 2 1-2 0 2 1-2 0 3 1-3 0 2 1-3 0 3 1-5 0 5 1-2 0 5 1-5 0 2 1-5 0 5 1-3 0 3 1-3 0 3 1-2 0 4 1-8 0 10 1-6 0 2 1-2 0 3 1-3 0 5 1-7 0 6 1-7 0 8 1-8 0 9 1-10 0 10 1-10 0 10 1-10 0 10 1-10 0 10 1-9 0 8 1-7 0 6 1-4 0 2 1-2 0 2 1-2 0 2 1-2 0 5 1-5 0 2 1-6 0 10 1-6 0 2 1-2 0 5 1-7 0 4 1-2 0 2 1-2 0 4 1-7 0 5 1-5 0 5 1-2 0 4 1-5 0 3 1-2 0 3 1-3 0 2 1-2 0 4 1-6 0 4 1-4 0 4 1-4 0 4 1-2 0 5 1-8 0 7 1-8 0 9 1-9 0 10 1-10 0 10 1-8 0 7 1-5 0 3 1-3 0 2 1-2 0 4 1-4 0 2 1-2 0 4 1-7 0 5 1-2 0 4 1-6 0 4 1-2 0 2"/><path vector-effect="non-scaling-stroke" transform="translate(138.00 703.594) scale(1.001145 0.2500)" stroke="#000000" d="M0-2l0 7 1-7 0 4 1-4 0 6 1-7 0 7 1-6 0 6 1-8 0 7 1-5 0 5 1-7 0 6 1-5 0 7 1-6 0 4 1-5 0 5 1-5 0 6 1-5 0 7 1-8 0 5 1-5 0 5 1-5 0 5 1-5 0 5 1-6 0 6 1-4 0 5 1-5 0 4 1-4 0 5 1-6 0 5 1-7 0 7 1-6 0 6 1-6 0 7 1-8 0 8 1-6 0 7 1-7 0 5 1-5 0 5 1-5 0 5 1-5 0 8 1-8 0 6 1-7 0 7 1-6 0 6 1-8 0 10 1-8 0 8 1-9 0 9 1-9 0 7 1-7 0 8 1-8 0 7 1-6 0 6 1-6 0 6 1-5 0 4 1-4 0 4 1-5 0 8 1-7 0 7 1-7 0 5 1-5 0 4 1-5 0 6 1-6 0 8 1-7 0 4 1-5 0 7 1-7 0 5 1-8 0 8 1-6 0 7 1-6 0 6 1-5 0 5 1-6 0 6 1-6 0 5 1-4 0 5 1-7 0 6 1-6 0 7 1-5 0 7 1-7 0 5 1-5 0 5 1-6 0 5 1-4 0 4 1-4 0 5 1-7 0 8 1-10 0 11 1-9 0 8 1-8 0 8 1-9 0 11 1-10 0 8 1-9 0 10 1-9 0 8 1-7 0 8 1-7 0 4 1-6 0 6 1-5 0 6 1-7 0 9 1-8 0 8 1-9 0 6 1-4 0 7 1-7 0 4 1-4 0 4 1-4 0 7 1-7 0 5 1-5 0 6 1-8 0 6 1-4 0 7 1-7 0 5 1-5 0 7 1-7 0 5 1-7 0 6 1-5 0 7 1-7 0 5 1-4 0 4 1-6 0 7 1-5 0 5 1-5 0 4 1-7 0 7 1-4 0 5 1-6 0 6 1-5 0 5 1-5 0 5 1-5 0 4 1-5 0 5 1-5 0 6 1-5 0 8 1-9 0 6 1-5 0 4 1-4 0 4 1-4 0 4 1-4 0 4 1-4 0 4 1-4 0 6 1-7 0 6 1-6 0 6 1-5 0 6 1-7 0 6 1-5 0 4 1-5 0 5 1-5 0 6 1-5 0 4 1-4 0 6 1-7 0 6 1-6 0 5 1-5 0 7 1-8 0 9 1-10 0 10 1-10 0 9 1-7 0 6 1-5 0 4 1-5 0 5 1-4 0 6 1-9 0 7 1-4 0 4 1-4 0 5 1-5 0 5 1-6 0 6 1-6 0 5 1-4 0 4 1-4 0 4 1-7 0 7 1-4 0 5 1-6 0 6 1-7 0 7 1-5 0 5 1-5 0 4 1-5 0 5 1-5 0 5 1-4 0 7 1-8 0 7 1-6 0 4 1-4 0 4 1-4 0 6 1-6 0 4 1-4 0 5 1-6 0 8 1-7 0 5 1-7 0 7 1-7 0 6 1-5 0 6 1-6 0 7 1-8 0 8 1-9 0 10 1-10 0 10 1-10 0 9 1-8 0 8 1-8 0 9 1-9 0 8 1-9 0 10 1-11 0 11 1-10 0 10 1-9 0 7 1-6 0 6 1-5 0 4 1-5 0 8 1-10 0 7 1-5 0 5 1-5 0 5 1-4 0 4 1-4 0 4 1-4 0 4 1-4 0 5 1-6 0 7 1-6 0 5 1-7 0 7 1-6 0 6 1-5 0 5 1-5 0 6 1-6 0 4 1-4 0 6 1-7 0 5 1-7 0 7 1-4 0 5 1-5 0 6 1-10 0 8 1-4 0 5 1-6 0 5 1-6 0 7 1-6 0 6 1-5 0 7 1-8 0 6 1-5 0 5 1-7 0 6 1-6 0 6 1-4 0 6 1-7 0 5 1-4 0 5 1-6 0 8 1-7 0 4 1-6 0 6 1-5 0 6 1-6 0 5 1-4 0 6 1-6 0 4 1-5 0 6 1-6 0 7 1-8 0 7 1-6 0 7 1-8 0 9 1-11 0 11 1-9 0 8 1-7 0 6 1-6 0 7 1-6 0 4 1-4 0 7 1-10 0 8 1-6 0 5 1-5 0 6 1-6 0 5 1-5 0 6 1-5 0 5 1-8 0 7 1-4 0 4 1-7 0 7 1-5 0 5 1-6 0 7 1-5 0 6 1-6 0 4 1-5 0 5 1-5 0 8 1-7 0 5 1-6 0 6 1-6 0 5 1-5 0 8 1-7 0 6 1-6 0 4 1-5 0 5 1-4 0 5 1-5 0 5 1-7 0 7 1-6 0 6 1-5 0 5 1-6 0 6 1-5 0 4 1-5 0 5 1-4 0 4 1-5 0 6 1-5 0 7 1-8 0 5 1-4 0 5 1-5 0 7 1-7 0 4 1-4 0 7 1-7 0 7 1-7 0 5 1-6 0 6 1-5 0 5 1-6 0 5 1-5 0 5 1-6 0 8 1-9 0 10 1-9 0 8 1-9 0 9 1-8 0 8 1-8 0 8 1-9 0 8 1-7 0 6 1-4 0 5 1-5 0 5 1-6 0 8 1-8 0 7 1-6 0 5 1-7 0 7 1-8 0 10 1-9 0 9 1-9 0 8 1-7 0 6 1-6 0 6 1-5 0 4 1-5 0 5 1-7 0 7 1-5 0 7 1-7 0 7 1-6 0 5 1-5 0 5 1-5 0 4 1-4 0 4 1-7 0 8 1-6 0 8 1-8 0 5 1-4 0 5 1-6 0 6 1-6 0 5 1-4 0 5 1-5 0 4 1-5 0 8 1-10 0 8 1-5 0 4 1-5 0 5 1-5 0 5 1-4 0 5 1-6 0 6 1-8 0 9 1-9 0 10 1-9 0 8 1-8 0 6 1-4 0 4 1-5 0 7 1-6 0 5 1-5 0 4 1-5 0 5 1-6 0 6 1-4 0 5 1-6 0 5 1-4 0 4 1-4 0 5 1-6 0 6 1-5 0 4 1-4 0 6 1-9 0 7 1-5 0 5 1-5 0 5 1-4 0 4 1-4 0 4 1-5 0 6 1-5 0 5 1-6 0 5 1-5 0 6 1-5 0 5 1-5 0 4 1-5 0 5 1-5 0 5 1-6 0 6 1-5 0 6 1-7 0 6 1-5 0 6 1-7 0 7 1-8 0 8 1-6 0 6 1-8 0 8 1-6 0 5 1-4 0 5 1-6 0 7 1-6 0 6 1-7 0 5 1-4 0 5 1-6 0 5 1-4 0 5 1-7 0 7 1-6 0 5 1-4 0 4 1-6 0 6 1-6 0 7 1-6 0 7 1-8 0 7 1-5 0 6 1-7 0 6 1-5 0 5 1-6 0 6 1-5 0 7 1-7 0 7 1-9 0 6 1-4 0 5 1-7 0 7 1-6 0 6 1-5 0 4 1-4 0 5 1-5 0 4 1-4 0 7 1-10 0 8 1-7 0 7 1-9 0 8 1-4 0 5 1-5 0 4 1-5 0 8 1-8 0 5 1-6 0 7 1-7 0 6 1-6 0 7 1-5 0 4 1-6 0 6 1-5 0 6 1-5 0 6 1-6 0 5 1-5 0 5 1-6 0 8 1-9 0 6 1-5 0 7 1-6 0 4 1-6 0 6 1-6 0 7 1-5 0 5 1-6 0 7 1-7 0 6 1-7 0 7 1-5 0 6 1-7 0 8 1-9 0 6 1-4 0 7 1-7 0 5 1-5 0 5 1-5 0 7 1-7 0 5 1-6 0 5 1-5 0 7 1-8 0 7 1-5 0 4 1-5 0 5 1-4 0 4 1-5 0 5 1-5 0 6 1-6 0 6 1-5 0 5 1-5 0 6 1-7 0 5 1-4 0 4 1-4 0 4 1-5 0 8 1-9 0 6 1-6 0 6 1-4 0 5 1-5 0 6 1-7 0 6 1-6 0 5 1-5 0 6 1-8 0 8 1-5 0 4 1-4 0 5 1-6 0 5 1-4 0 6 1-7 0 8 1-8 0 5 1-4 0 5 1-5 0 6 1-8 0 6 1-4 0 4 1-6 0 6 1-4 0 4 1-4 0 4 1-4 0 4 1-4 0 5 1-6 0 5 1-6 0 7 1-8 0 9 1-7 0 7 1-8 0 9 1-9 0 10 1-10 0 9 1-9 0 8 1-7 0 6 1-6 0 7 1-8 0 9 1-8 0 7 1-6 0 4 1-5 0 5 1-5 0 5 1-4 0 6 1-7 0 5 1-4 0 7 1-7 0 5 1-6 0 6 1-6 0 5 1-5 0 7 1-6 0 4 1-5 0 6 1-6 0 7 1-9 0 10 1-10 0 11 1-10 0 9 1-8 0 6 1-5 0 7 1-7 0 4 1-5 0 5 1-5 0 5 1-5 0 5 1-7 0 8 1-6 0 7 1-7 0 6 1-7 0 6 1-5 0 6 1-6 0 6 1-8 0 8 1-5 0 6 1-9 0 7 1-4 0 5 1-5 0 5 1-5 0 4 1-5 0 5 1-5 0 6 1-6 0 5 1-5 0 5 1-6 0 6 1-5 0 5 1-5 0 5 1-4 0 6 1-6 0 5 1-5 0 4 1-4 0 5 1-6 0 5 1-7 0 7 1-4 0 6 1-6 0 5 1-7 0 7 1-6 0 6 1-7 0 8 1-10 0 11 1-9 0 8 1-6 0 4 1-5 0 6 1-5 0 6 1-6 0 7 1-8 0 7 1-6 0 6 1-7 0 6 1-7 0 6 1-4 0 5 1-6 0 6 1-5 0 4 1-6 0 7 1-5 0 4 1-4 0 7 1-7 0 5 1-6 0 6 1-6 0 6 1-6 0 5 1-4 0 6 1-6 0 7 1-8 0 7 1-7 0 6 1-5 0 5 1-6 0 5 1-7 0 7 1-5 0 7 1-6 0 4 1-6 0 6 1-4 0 4 1-6 0 7 1-7 0 6 1-4 0 5 1-6 0 5 1-4 0 4 1-4 0 5 1-5 0 5 1-5 0 5 1-6 0 6 1-6 0 5 1-5 0 6 1-7 0 8 1-9 0 10 1-10 0 9 1-7 0 8 1-8 0 8 1-8 0 6 1-7 0 6 1-5 0 6 1-6 0 6 1-8 0 8 1-5 0 4 1-4 0 4 1-4 0 6 1-7 0 5 1-4 0 6 1-6 0 4 1-4 0 4 1-5 0 5 1-4 0 5 1-8 0 7 1-4 0 5 1-5 0 5 1-5 0 4 1-5 0 7 1-9 0 8 1-6 0 6 1-5 0 5 1-6 0 5 1-5 0 5 1-6 0 9 1-10 0 9 1-8 0 7 1-6 0 5 1-4 0 7 1-7 0 6 1-7 0 5 1-7 0 8 1-5 0 5 1-7 0 6 1-4 0 5 1-7 0 6 1-5 0 6 1-6 0 6 1-8 0 7 1-5 0 8 1-10 0 8 1-5 0 5 1-8 0 7 1-4 0 6 1-6 0 5 1-5 0 5 1-7 0 7 1-6 0 5 1-4 0 4 1-5 0 5 1-4 0 4 1-4 0 4 1-5 0 7 1-7 0 6 1-6 0 6 1-5 0 4 1-5 0 5 1-7 0 7 1-7 0 9 1-9 0 10 1-9 0 7 1-6 0 6 1-6 0 5 1-5 0 5 1-4 0 5 1-6 0 6 1-5 0 5 1-7 0 7 1-5 0 6 1-6 0 4 1-4 0 5 1-6 0 6 1-6 0 5 1-4 0 5 1-6 0 8 1-8 0 5 1-6 0 7 1-9 0 11 1-9 0 8 1-6 0 4 1-4 0 7 1-7 0 5 1-5 0 4 1-4 0 5 1-5 0 5 1-6 0 5 1-7 0 7 1-4 0 5 1-6 0 6 1-5 0 4 1-4 0 4 1-6 0 7 1-6 0 6 1-6 0 5 1-6 0 6 1-4 0 6 1-7 0 7 1-6 0 4 1-4 0 5 1-7 0 6 1-4 0 7 1-7 0 6 1-6 0 5 1-7 0 6 1-5 0 5 1-4 0 4 1-4 0 6 1-7 0 7 1-7 0 8 1-7 0 5 1-6 0 5 1-4 0 6 1-6 0 5 1-5 0 4 1-5 0 6 1-6 0 6 1-6 0 7 1-7 0 6 1-6 0 5 1-4 0 4 1-5 0 5 1-4 0 4 1-4 0 5 1-5 0 5 1-5 0 6 1-7 0 5 1-5 0 6 1-6 0 5 1-6 0 6 1-4 0 7 1-8 0 7 1-7 0 5 1-6 0 6 1-5 0 6 1-6 0 8 1-7 0 4 1-5 0 7 1-9 0 9 1-8 0 7 1-6 0 5 1-5 0 5 1-5 0 5 1-4 0 5 1-5 0 4 1-4 0 4 1-4 0 5 1-5 0 6 1-7 0 5 1-4 0 4 1-7 0 8 1-5 0 7 1-10 0 7 1-4 0 4 1-4 0 4 1-4 0 5 1-5 0 4 1-5 0 5 1-5 0 5 1-4 0 5 1-7 0 6 1-5 0 8 1-7 0 4 1-5 0 7 1-7 0 6 1-5 0 5 1-7 0 7 1-6 0 5 1-5 0 7 1-8 0 7 1-5 0 4 1-5 0 6 1-6 0 5 1-5 0 6 1-8 0 7 1-5 0 5 1-4 0 4 1-4 0 6 1-6 0 5 1-5 0 4 1-5 0 6 1-5 0 5 1-8 0 7 1-4 0 6 1-7 0 6 1-7 0 6 1-5 0 6 1-5 0 5 1-5 0 4 1-5 0 6 1-7 0 6 1-5 0 6 1-6 0 7 1-7 0 6 1-5 0 4 1-4 0 5 1-6 0 6 1-6 0 6 1-6 0 6 1-5 0 6 1-6 0 7 1-7 0 5 1-5 0 5 1-5 0 5 1-7 0 7 1-5 0 7 1-8 0 5 1-6 0 7 1-7 0 7 1-5 0 4 1-5 0 5 1-4 0 4 1-4 0 5 1-5 0 6 1-6 0 4 1-8 0 9 1-5 0 4 1-5 0 6 1-5 0 4 1-4 0 7 1-10 0 7 1-6 0 7 1-6 0 5 1-4 0 4 1-4 0 4 1-6 0 6 1-6 0 7 1-6 0 5 1-5 0 5 1-5 0 5 1-5 0 6 1-5 0 5 1-6 0 6 1-6 0 5 1-5 0 5 1-5 0 7 1-7 0 6 1-5 0 4 1-5 0 5 1-4 0 5 1-6 0 5 1-6 0 7 1-5 0 4 1-4 0 5 1-8 0 8 1-6 0 6 1-7 0 8 1-9 0 9 1-8 0 8 1-7 0 6 1-8 0 8 1-6 0 8 1-7 0 5 1-5 0 5 1-6 0 5 1-4 0 5 1-8 0 8 1-5 0 4 1-4 0 7 1-8 0 5 1-4 0 7 1-7 0 6 1-7 0 5 1-5 0 7 1-8 0 7 1-8 0 9 1-8 0 7 1-6 0 5 1-5 0 6 1-6 0 6 1-6 0 7 1-8 0 9 1-8 0 7 1-7 0 8 1-7 0 4 1-4 0 5 1-5 0 5 1-6 0 6 1-6 0 6 1-6 0 6 1-7 0 7 1-6 0 5 1-4 0 5 1-6 0 7 1-7 0 8 1-7 0 4 1-6 0 7 1-5 0 5 1-6 0 7 1-8 0 6 1-5 0 6 1-7 0 7 1-5 0 4 1-5 0 7 1-6 0 4 1-5 0 5 1-4 0 5 1-5 0 6 1-7 0 5 1-6 0 7 1-6 0 6 1-7 0 7 1-5 0 4 1-4 0 4 1-4 0 4 1-4 0 4 1-5 0 6 1-6 0 8 1-8 0 5"/><path vector-effect="non-scaling-stroke" transform="translate(138.00 735.137) scale(1.001145 0.2500)" stroke="#ff0000" d="M0-1l0 2 1-2 0 3 1-3 0 2 1-2 0 2 1-4 0 6 1-7 0 8 1-8 0 9 1-10 0 10 1-10 0 10 1-10 0 9 1-8 0 8 1-7 0 6 1-4 0 4 1-4 0 2 1-5 0 5 1-5 0 5 1-2 0 2 1-2 0 3 1-3 0 4 1-4 0 4 1-4 0 4 1-5 0 3 1-2 0 3 1-4 0 3 1-3 0 3 1-2 0 3 1-6 0 5 1-2 0 4 1-4 0 2 1-2 0 2 1-2 0 4 1-6 0 4 1-2 0 4 1-4 0 2 1-6 0 10 1-6 0 2 1-2 0 2 1-2 0 2 1-4 0 4 1-5 0 5 1-2 0 4 1-4 0 2 1-2 0 2 1-2 0 2 1-2 0 2 1-2 0 2 1-5 0 5 1-2 0 2 1-2 0 2 1-5 0 5 1-2 0 2 1-3 0 3 1-4 0 5 1-5 0 7 1-8 0 8 1-8 0 8 1-8 0 8 1-9 0 9 1-9 0 9 1-9 0 9 1-8 0 8 1-8 0 8 1-8 0 7 1-6 0 6 1-5 0 4 1-3 0 2 1-2 0 5 1-6 0 3 1-2 0 3 1-6 0 5 1-2 0 2 1-2 0 2 1-4 0 4 1-2 0 2 1-3 0 3 1-2 0 2 1-4 0 4 1-2 0 2 1-4 0 6 1-7 0 8 1-9 0 10 1-10 0 10 1-10 0 10 1-9 0 8 1-7 0 7 1-5 0 2 1-2 0 2 1-2 0 2 1-2 0 2 1-4 0 4 1-2 0 4 1-7 0 5 1-2 0 2 1-5 0 5 1-2 0 2 1-2 0 4 1-4 0 2 1-2 0 4 1-4 0 2 1-2 0 2 1-2 0 2 1-2 0 2 1-2 0 2 1-2 0 4 1-4 0 2 1-2 0 5 1-5 0 2 1-2 0 5 1-5 0 5 1-5 0 4 1-4 0 3 1-3 0 2 1-2 0 4 1-4 0 2 1-2 0 2 1-4 0 4 1-4 0 4 1-6 0 10 1-7 0 3 1-4 0 4 1-3 0 3 1-2 0 2 1-2 0 4 1-4 0 3 1-7 0 10 1-6 0 3 1-3 0 2 1-5 0 5 1-2 0 4 1-4 0 4 1-7 0 5 1-2 0 3 1-4 0 3 1-2 0 4 1-4 0 2 1-3 0 3 1-2 0 2 1-2 0 2 1-2 0 2 1-4 0 4 1-2 0 4 1-4 0 4 1-5 0 3 1-2 0 2 1-2 0 2 1-2 0 2 1-2 0 2 1-2 0 2 1-5 0 5 1-2 0 4 1-4 0 2 1-4 0 4 1-2 0 2 1-2 0 2 1-3 0 3 1-2 0 2 1-2 0 4 1-6 0 6 1-8 0 10 1-10 0 10 1-10 0 10 1-9 0 7 1-4 0 2 1-4 0 4 1-4 0 4 1-2 0 2 1-2 0 2 1-4 0 4 1-2 0 4 1-4 0 3 1-3 0 5 1-7 0 6 1-8 0 11 1-10 0 10 1-10 0 10 1-9 0 6 1-4 0 2 1-2 0 4 1-5 0 3 1-2 0 2 1-2 0 2 1-2 0 3 1-6 0 5 1-4 0 4 1-2 0 2 1-4 0 4 1-5 0 5 1-2 0 2 1-2 0 5 1-5 0 2 1-2 0 2 1-2 0 2 1-2 0 2 1-2 0 2 1-4 0 4 1-3 0 3 1-4 0 4 1-2 0 2 1-4 0 4 1-2 0 3 1-3 0 2 1-2 0 2 1-2 0 2 1-4 0 4 1-2 0 5 1-5 0 4 1-6 0 4 1-2 0 2 1-2 0 2 1-4 0 4 1-2 0 5 1-5 0 2 1-2 0 4 1-4 0 2 1-2 0 3 1-4 0 3 1-2 0 2 1-2 0 2 1-4 0 4 1-2 0 2 1-2 0 3 1-3 0 5 1-5 0 2 1-2 0 2 1-2 0 2 1-2 0 2 1-2 0 2 1-2 0 3 1-4 0 3 1-6 0 10 1-6 0 2 1-2 0 4 1-4 0 2 1-2 0 2 1-2 0 2 1-4 0 4 1-2 0 4 1-4 0 4 1-7 0 5 1-4 0 4 1-2 0 5 1-6 0 3 1-2 0 3 1-4 0 3 1-2 0 4 1-4 0 2 1-6 0 10 1-6 0 2 1-3 0 3 1-5 0 5 1-2 0 2 1-2 0 2 1-3 0 3 1-2 0 2 1-2 0 2 1-2 0 2 1-2 0 3 1-3 0 3 1-4 0 3 1-4 0 4 1-5 0 5 1-2 0 3 1-5 0 4 1-2 0 2 1-6 0 10 1-6 0 2 1-2 0 2 1-2 0 4 1-6 0 4 1-2 0 3 1-3 0 4 1-7 0 5 1-2 0 3 1-3 0 4 1-4 0 2 1-2 0 4 1-4 0 2 1-6 0 10 1-6 0 2 1-2 0 3 1-3 0 2 1-2 0 4 1-4 0 3 1-3 0 4 1-4 0 3 1-3 0 4 1-4 0 5 1-5 0 5 1-5 0 5 1-9 0 10 1-11 0 12 1-11 0 10 1-7 0 3 1-2 0 2 1-5 0 5 1-2 0 2 1-2 0 5 1-7 0 4 1-2 0 2 1-4 0 4 1-4 0 4 1-2 0 2 1-4 0 4 1-4 0 4 1-2 0 2 1-5 0 5 1-2 0 4 1-7 0 5 1-2 0 4 1-4 0 2 1-2 0 2 1-2 0 3 1-3 0 2 1-2 0 2 1-2 0 2 1-2 0 2 1-4 0 4 1-2 0 2 1-6 0 10 1-6 0 2 1-2 0 2 1-2 0 2 1-4 0 4 1-2 0 2 1-2 0 3 1-3 0 3 1-6 0 5 1-2 0 3 1-3 0 2 1-2 0 3 1-3 0 4 1-4 0 2 1-2 0 4 1-4 0 5 1-6 0 3 1-2 0 2 1-2 0 2 1-5 0 5 1-2 0 2 1-2 0 2 1-4 0 4 1-2 0 4 1-5 0 3 1-2 0 2 1-6 0 10 1-6 0 2 1-2 0 3 1-3 0 2 1-2 0 3 1-3 0 4 1-6 0 4 1-2 0 2 1-2 0 2 1-3 0 3 1-2 0 2 1-2 0 2 1-3 0 3 1-2 0 5 1-5 0 2 1-2 0 4 1-4 0 4 1-4 0 2 1-4 0 4 1-3 0 3 1-2 0 2 1-2 0 2 1-6 0 10 1-6 0 4 1-7 0 5 1-2 0 2 1-5 0 5 1-2 0 2 1-2 0 2 1-2 0 2 1-2 0 2 1-2 0 2 1-5 0 5 1-2 0 2 1-4 0 4 1-2 0 2 1-2 0 2 1-5 0 5 1-2 0 4 1-8 0 10 1-6 0 2 1-4 0 4 1-4 0 4 1-2 0 2 1-5 0 5 1-4 0 4 1-2 0 2 1-5 0 5 1-2 0 3 1-5 0 4 1-5 0 5 1-2 0 3 1-3 0 2 1-2 0 4 1-4 0 2 1-5 0 5 1-2 0 4 1-5 0 3 1-5 0 5 1-2 0 5 1-7 0 4 1-2 0 2 1-2 0 2 1-4 0 4 1-2 0 4 1-4 0 2 1-2 0 2 1-4 0 4 1-2 0 4 1-4 0 4 1-4 0 2 1-2 0 2 1-5 0 5 1-2 0 4 1-4 0 2 1-2 0 3 1-3 0 2 1-2 0 2 1-4 0 4 1-2 0 5 1-5 0 5 1-5 0 2 1-4 0 4 1-6 0 10 1-6 0 2 1-3 0 3 1-2 0 2 1-2 0 2 1-2 0 4 1-4 0 2 1-2 0 4 1-4 0 2 1-2 0 2 1-2 0 2 1-5 0 5 1-3 0 3 1-5 0 5 1-2 0 2 1-2 0 4 1-6 0 4 1-5 0 5 1-4 0 4 1-5 0 5 1-2 0 2 1-2 0 2 1-3 0 3 1-4 0 4 1-4 0 4 1-2 0 4 1-6 0 4 1-2 0 2 1-4 0 4 1-2 0 2 1-2 0 4 1-4 0 5 1-5 0 2 1-2 0 2 1-2 0 5 1-5 0 4 1-4 0 2 1-6 0 10 1-6 0 2 1-2 0 4 1-4 0 2 1-2 0 2 1-2 0 2 1-3 0 3 1-2 0 5 1-5 0 3 1-3 0 3 1-3 0 4 1-4 0 2 1-2 0 4 1-4 0 2 1-2 0 2 1-5 0 5 1-2 0 2 1-2 0 2 1-2 0 2 1-6 0 10 1-8 0 4 1-5 0 5 1-5 0 5 1-2 0 2 1-2 0 3 1-3 0 2 1-2 0 2 1-2 0 2 1-2 0 4 1-5 0 3 1-2 0 2 1-2 0 2 1-2 0 4 1-4 0 3 1-3 0 2 1-2 0 4 1-8 0 10 1-9 0 5 1-2 0 2 1-2 0 4 1-4 0 2 1-2 0 3 1-3 0 4 1-4 0 2 1-2 0 4 1-4 0 3 1-5 0 6 1-7 0 8 1-9 0 10 1-10 0 10 1-9 0 8 1-7 0 6 1-6 0 4 1-4 0 4 1-2 0 2 1-2 0 2 1-5 0 5 1-3 0 3 1-4 0 4 1-2 0 5 1-5 0 2 1-5 0 5 1-4 0 4 1-3 0 3 1-4 0 4 1-4 0 4 1-4 0 4 1-2 0 3 1-3 0 5 1-5 0 3 1-3 0 5 1-5 0 2 1-2 0 2 1-2 0 4 1-4 0 2 1-2 0 2 1-2 0 2 1-2 0 2 1-2 0 5 1-6 0 3 1-3 0 3 1-2 0 2 1-6 0 10 1-6 0 2 1-2 0 2 1-2 0 2 1-2 0 3 1-6 0 5 1-2 0 5 1-7 0 4 1-2 0 2 1-2 0 3 1-3 0 2 1-2 0 2 1-2 0 4 1-4 0 2 1-2 0 2 1-2 0 2 1-2 0 2 1-2 0 2 1-2 0 2 1-2 0 4 1-8 0 10 1-6 0 2 1-4 0 4 1-2 0 2 1-4 0 4 1-2 0 2 1-2 0 2 1-2 0 4 1-4 0 2 1-4 0 4 1-2 0 2 1-2 0 5 1-5 0 2 1-4 0 6 1-6 0 7 1-8 0 8 1-9 0 9 1-9 0 10 1-10 0 10 1-9 0 8 1-8 0 8 1-8 0 7 1-6 0 6 1-4 0 2 1-3 0 3 1-2 0 2 1-2 0 2 1-2 0 4 1-4 0 4 1-4 0 2 1-2 0 2 1-4 0 4 1-2 0 3 1-3 0 2 1-2 0 2 1-4 0 4 1-2 0 2 1-2 0 3 1-3 0 2 1-2 0 2 1-2 0 2 1-2 0 2 1-2 0 4 1-4 0 2 1-2 0 2 1-3 0 3 1-4 0 4 1-2 0 3 1-5 0 4 1-2 0 4 1-6 0 4 1-2 0 2 1-2 0 4 1-6 0 4 1-5 0 5 1-2 0 2 1-2 0 2 1-4 0 4 1-2 0 2 1-3 0 3 1-2 0 2 1-3 0 3 1-5 0 5 1-5 0 5 1-2 0 2 1-2 0 4 1-6 0 4 1-6 0 10 1-9 0 5 1-4 0 4 1-5 0 5 1-2 0 2 1-4 0 4 1-2 0 5 1-5 0 4 1-4 0 2 1-4 0 4 1-2 0 2 1-2 0 4 1-4 0 4 1-4 0 3 1-3 0 2 1-5 0 5 1-3 0 3 1-2 0 2 1-2 0 2 1-2 0 3 1-3 0 4 1-6 0 4 1-6 0 10 1-8 0 4 1-3 0 3 1-2 0 2 1-2 0 2 1-2 0 2 1-2 0 5 1-5 0 5 1-8 0 5 1-2 0 2 1-2 0 2 1-2 0 2 1-4 0 4 1-2 0 4 1-4 0 2 1-2 0 2 1-2 0 3 1-5 0 4 1-2 0 3 1-3 0 4 1-4 0 2 1-3 0 3 1-4 0 4 1-2 0 2 1-5 0 5 1-2 0 2 1-3 0 3 1-4 0 4 1-4 0 4 1-2 0 2 1-2 0 3 1-3 0 4 1-4 0 2 1-2 0 5 1-6 0 3 1-2 0 2 1-2 0 4 1-4 0 2 1-2 0 2 1-2 0 2 1-2 0 5 1-7 0 4 1-2 0 2 1-4 0 4 1-2 0 3 1-3 0 2 1-6 0 10 1-6 0 4 1-6 0 4 1-2 0 2 1-2 0 2 1-2 0 3 1-3 0 2 1-2 0 2 1-2 0 2 1-2 0 4 1-6 0 4 1-2 0 4 1-4 0 4 1-6 0 4 1-2 0 5 1-5 0 5 1-7 0 4 1-4 0 4 1-2 0 5 1-7 0 4 1-2 0 4 1-4 0 3 1-3 0 2 1-6 0 10 1-7 0 3 1-2 0 4 1-4 0 2 1-5 0 5 1-2 0 4 1-4 0 2 1-3 0 3 1-4 0 4 1-2 0 2 1-2 0 5 1-5 0 2 1-5 0 5 1-4 0 4 1-4 0 5 1-7 0 9 1-10 0 11 1-10 0 9 1-7 0 6 1-4 0 2 1-2 0 3 1-3 0 4 1-4 0 2 1-2 0 5 1-5 0 2 1-2 0 4 1-4 0 2 1-2 0 4 1-4 0 3 1-3 0 2 1-2 0 4 1-9 0 12 1-10 0 5 1-2 0 4 1-7 0 5 1-4 0 4 1-2 0 2 1-2 0 2 1-4 0 4 1-2 0 2 1-2 0 5 1-6 0 3 1-4 0 4 1-2 0 4 1-6 0 4 1-2 0 3 1-3 0 2 1-3 0 3 1-2 0 3 1-3 0 2 1-2 0 4 1-4 0 2 1-2 0 5 1-5 0 3 1-3 0 5 1-7 0 6 1-7 0 8 1-8 0 8 1-9 0 10 1-10 0 10 1-9 0 9 1-9 0 8 1-8 0 8 1-7 0 6 1-4 0 5 1-5 0 2 1-2 0 5 1-5 0 5 1-5 0 2 1-2 0 2 1-2 0 2 1-4 0 4 1-2 0 2 1-2 0 2 1-2 0 5 1-5 0 4 1-4 0 2 1-5 0 5 1-4 0 6 1-7 0 8 1-9 0 10 1-10 0 10 1-8 0 6 1-4 0 2 1-3 0 3 1-2 0 5 1-5 0 2 1-4 0 4 1-2 0 2 1-2 0 3 1-7 0 10 1-6 0 2 1-2 0 5 1-5 0 4 1-4 0 2 1-2 0 5 1-6 0 3 1-2 0 4 1-7 0 5 1-2 0 2 1-2 0 5 1-5 0 2 1-2 0 3 1-3 0 2 1-2 0 2 1-4 0 4 1-2 0 4 1-4 0 5 1-5 0 5 1-5 0 2 1-2 0 2 1-2 0 2 1-4 0 4 1-2 0 2 1-2 0 4 1-4 0 2 1-4 0 4 1-2 0 2 1-2 0 2 1-2 0 2 1-2 0 2 1-2 0 3 1-3 0 4 1-6 0 4 1-2 0 2 1-2 0 2 1-2 0 3 1-3 0 4 1-4 0 2 1-2 0 2 1-2 0 2 1-3 0 3 1-3 0 3 1-2 0 5 1-5 0 4 1-6 0 4 1-2 0 2 1-2 0 4 1-7 0 5 1-2 0 2 1-2 0 3 1-3 0 3 1-3 0 3 1-6 0 5 1-4 0 4 1-2 0 2 1-5 0 5 1-2 0 4 1-6 0 4 1-3 0 3"/><path vector-effect="non-scaling-stroke" transform="translate(138.00 766.680) scale(1.001145 0.2500)" stroke="#0000ff" d="M0-4l0 6 1-4 0 4 1-4 0 4 1-4 0 4 1-4 0 6 1-6 0 7 1-7 0 7 1-7 0 4 1-4 0 5 1-7 0 6 1-4 0 4 1-4 0 4 1-4 0 4 1-4 0 4 1-4 0 4 1-6 0 6 1-4 0 4 1-4 0 4 1-5 0 5 1-4 0 4 1-4 0 4 1-4 0 4 1-4 0 4 1-4 0 4 1-6 0 6 1-4 0 4 1-4 0 4 1-4 0 4 1-4 0 5 1-5 0 4 1-5 0 5 1-4 0 4 1-4 0 5 1-5 0 4 1-4 0 4 1-6 0 6 1-4 0 4 1-4 0 4 1-5 0 5 1-6 0 6 1-4 0 4 1-4 0 4 1-4 0 4 1-4 0 6 1-6 0 4 1-4 0 5 1-5 0 4 1-6 0 6 1-4 0 6 1-6 0 7 1-9 0 6 1-4 0 4 1-5 0 5 1-7 0 7 1-4 0 4 1-5 0 5 1-4 0 4 1-4 0 4 1-4 0 6 1-7 0 5 1-4 0 4 1-4 0 4 1-5 0 5 1-4 0 5 1-8 0 7 1-5 0 5 1-4 0 4 1-4 0 6 1-6 0 4 1-4 0 4 1-4 0 4 1-5 0 5 1-4 0 4 1-5 0 5 1-4 0 4 1-4 0 4 1-4 0 4 1-4 0 4 1-4 0 4 1-4 0 6 1-6 0 7 1-9 0 6 1-6 0 6 1-4 0 4 1-4 0 4 1-5 0 5 1-4 0 4 1-6 0 6 1-4 0 4 1-4 0 4 1-4 0 4 1-4 0 6 1-9 0 7 1-4 0 6 1-6 0 4 1-6 0 6 1-4 0 5 1-5 0 6 1-6 0 4 1-4 0 4 1-4 0 4 1-4 0 4 1-4 0 4 1-5 0 5 1-4 0 5 1-6 0 5 1-4 0 4 1-4 0 4 1-4 0 4 1-6 0 6 1-4 0 4 1-4 0 4 1-4 0 4 1-4 0 6 1-7 0 5 1-5 0 5 1-4 0 4 1-4 0 4 1-4 0 4 1-4 0 4 1-4 0 4 1-4 0 4 1-4 0 5 1-5 0 6 1-6 0 5 1-7 0 6 1-4 0 4 1-5 0 5 1-7 0 7 1-4 0 7 1-7 0 4 1-4 0 4 1-4 0 4 1-4 0 6 1-6 0 4 1-4 0 4 1-4 0 4 1-4 0 4 1-4 0 4 1-5 0 5 1-5 0 5 1-4 0 4 1-4 0 4 1-4 0 4 1-4 0 6 1-7 0 5 1-6 0 6 1-4 0 6 1-8 0 6 1-4 0 4 1-7 0 7 1-6 0 6 1-5 0 5 1-4 0 4 1-4 0 4 1-4 0 6 1-6 0 4 1-4 0 4 1-6 0 6 1-4 0 6 1-6 0 4 1-4 0 6 1-6 0 4 1-4 0 4 1-6 0 6 1-4 0 6 1-6 0 4 1-4 0 4 1-4 0 4 1-4 0 4 1-6 0 6 1-4 0 6 1-6 0 4 1-5 0 6 1-5 0 4 1-4 0 7 1-7 0 7 1-7 0 4 1-4 0 4 1-4 0 4 1-4 0 7 1-7 0 6 1-8 0 6 1-5 0 5 1-4 0 4 1-4 0 4 1-6 0 6 1-4 0 4 1-4 0 4 1-4 0 4 1-4 0 4 1-6 0 6 1-4 0 4 1-4 0 4 1-4 0 7 1-7 0 4 1-4 0 4 1-4 0 4 1-4 0 5 1-5 0 4 1-5 0 5 1-4 0 4 1-5 0 5 1-4 0 4 1-4 0 4 1-4 0 4 1-4 0 4 1-4 0 4 1-4 0 4 1-4 0 5 1-5 0 4 1-4 0 4 1-4 0 4 1-4 0 4 1-6 0 7 1-5 0 5 1-5 0 4 1-4 0 6 1-6 0 4 1-4 0 5 1-5 0 4 1-4 0 6 1-7 0 5 1-4 0 5 1-7 0 6 1-4 0 5 1-5 0 4 1-4 0 4 1-6 0 6 1-4 0 6 1-6 0 5 1-5 0 6 1-7 0 6 1-7 0 7 1-8 0 9 1-9 0 8 1-6 0 6 1-5 0 4 1-4 0 4 1-4 0 4 1-5 0 6 1-7 0 8 1-8 0 9 1-9 0 8 1-7 0 6 1-5 0 4 1-4 0 7 1-7 0 4 1-4 0 4 1-4 0 5 1-7 0 6 1-4 0 4 1-4 0 7 1-7 0 4 1-4 0 4 1-4 0 4 1-4 0 4 1-4 0 5 1-5 0 4 1-4 0 4 1-4 0 4 1-6 0 6 1-4 0 4 1-4 0 4 1-4 0 4 1-4 0 5 1-5 0 5 1-5 0 4 1-4 0 4 1-4 0 4 1-6 0 6 1-4 0 6 1-6 0 4 1-4 0 4 1-5 0 5 1-4 0 4 1-4 0 4 1-4 0 4 1-4 0 7 1-7 0 4 1-4 0 4 1-4 0 4 1-4 0 4 1-4 0 4 1-6 0 7 1-8 0 9 1-8 0 7 1-5 0 4 1-4 0 5 1-6 0 7 1-8 0 8 1-9 0 10 1-9 0 8 1-8 0 9 1-10 0 9 1-8 0 9 1-8 0 6 1-6 0 5 1-4 0 5 1-5 0 4 1-5 0 5 1-4 0 5 1-5 0 4 1-4 0 4 1-5 0 5 1-6 0 7 1-8 0 9 1-8 0 7 1-5 0 4 1-7 0 8 1-5 0 4 1-4 0 4 1-4 0 6 1-8 0 6 1-6 0 7 1-5 0 6 1-6 0 6 1-6 0 4 1-4 0 4 1-6 0 6 1-4 0 6 1-8 0 6 1-4 0 4 1-5 0 5 1-5 0 5 1-6 0 6 1-4 0 4 1-4 0 4 1-4 0 4 1-6 0 6 1-4 0 5 1-5 0 6 1-6 0 4 1-4 0 7 1-7 0 4 1-4 0 4 1-4 0 4 1-4 0 4 1-7 0 7 1-4 0 4 1-4 0 4 1-4 0 4 1-4 0 5 1-5 0 4 1-4 0 4 1-4 0 4 1-7 0 7 1-4 0 4 1-6 0 6 1-4 0 4 1-4 0 4 1-4 0 4 1-4 0 6 1-6 0 4 1-4 0 4 1-4 0 5 1-5 0 4 1-4 0 4 1-6 0 6 1-4 0 6 1-6 0 4 1-4 0 6 1-6 0 4 1-4 0 4 1-5 0 5 1-4 0 4 1-6 0 6 1-4 0 6 1-6 0 4 1-5 0 6 1-5 0 4 1-4 0 4 1-4 0 4 1-6 0 6 1-4 0 6 1-6 0 4 1-4 0 4 1-4 0 4 1-6 0 6 1-5 0 6 1-8 0 8 1-8 0 10 1-10 0 9 1-7 0 5 1-4 0 4 1-4 0 4 1-4 0 4 1-5 0 5 1-4 0 6 1-6 0 5 1-5 0 4 1-4 0 4 1-7 0 7 1-4 0 4 1-4 0 4 1-4 0 5 1-5 0 4 1-6 0 6 1-4 0 4 1-4 0 4 1-4 0 6 1-6 0 4 1-4 0 4 1-4 0 6 1-6 0 4 1-4 0 6 1-6 0 4 1-7 0 7 1-4 0 4 1-4 0 4 1-4 0 4 1-4 0 4 1-4 0 5 1-5 0 5 1-5 0 4 1-4 0 6 1-6 0 4 1-4 0 6 1-6 0 6 1-6 0 7 1-9 0 6 1-5 0 5 1-5 0 5 1-4 0 4 1-6 0 6 1-4 0 4 1-4 0 4 1-5 0 5 1-5 0 5 1-4 0 5 1-6 0 6 1-8 0 9 1-9 0 10 1-10 0 10 1-10 0 9 1-9 0 9 1-9 0 9 1-8 0 8 1-7 0 6 1-5 0 4 1-5 0 6 1-7 0 8 1-7 0 6 1-5 0 4 1-4 0 5 1-5 0 4 1-5 0 5 1-4 0 4 1-4 0 4 1-4 0 4 1-4 0 5 1-5 0 7 1-7 0 6 1-9 0 7 1-7 0 7 1-6 0 6 1-6 0 6 1-7 0 7 1-6 0 6 1-4 0 4 1-4 0 4 1-4 0 4 1-4 0 4 1-4 0 5 1-5 0 4 1-6 0 6 1-6 0 6 1-6 0 6 1-4 0 5 1-5 0 4 1-5 0 5 1-4 0 5 1-5 0 4 1-4 0 4 1-4 0 4 1-5 0 5 1-4 0 4 1-4 0 4 1-6 0 6 1-6 0 6 1-4 0 4 1-4 0 4 1-4 0 4 1-4 0 4 1-4 0 4 1-5 0 6 1-7 0 8 1-9 0 9 1-9 0 9 1-8 0 7 1-6 0 6 1-5 0 6 1-6 0 4 1-5 0 7 1-7 0 7 1-8 0 8 1-7 0 8 1-8 0 6 1-6 0 5 1-4 0 5 1-7 0 6 1-6 0 6 1-4 0 4 1-4 0 4 1-4 0 4 1-4 0 4 1-5 0 5 1-6 0 6 1-4 0 6 1-8 0 6 1-5 0 5 1-4 0 5 1-5 0 4 1-4 0 4 1-4 0 4 1-4 0 4 1-4 0 4 1-4 0 4 1-4 0 4 1-4 0 4 1-4 0 4 1-4 0 6 1-6 0 4 1-5 0 5 1-4 0 4 1-4 0 4 1-4 0 4 1-4 0 4 1-4 0 4 1-4 0 4 1-4 0 4 1-4 0 4 1-4 0 4 1-4 0 4 1-4 0 4 1-4 0 6 1-9 0 7 1-4 0 7 1-7 0 4 1-4 0 4 1-6 0 7 1-5 0 4 1-4 0 5 1-5 0 4 1-7 0 7 1-4 0 7 1-10 0 7 1-5 0 5 1-4 0 4 1-4 0 4 1-7 0 7 1-4 0 7 1-8 0 6 1-6 0 5 1-4 0 4 1-4 0 5 1-5 0 4 1-4 0 4 1-4 0 4 1-4 0 4 1-4 0 4 1-4 0 6 1-6 0 4 1-4 0 4 1-4 0 4 1-4 0 4 1-4 0 5 1-5 0 4 1-4 0 4 1-4 0 4 1-4 0 4 1-4 0 5 1-5 0 4 1-4 0 5 1-5 0 7 1-7 0 5 1-5 0 7 1-7 0 4 1-6 0 6 1-6 0 6 1-4 0 4 1-4 0 4 1-4 0 5 1-5 0 4 1-4 0 4 1-4 0 4 1-4 0 4 1-4 0 5 1-5 0 4 1-4 0 6 1-6 0 4 1-4 0 4 1-4 0 6 1-6 0 4 1-4 0 4 1-4 0 6 1-6 0 4 1-4 0 4 1-4 0 4 1-4 0 4 1-4 0 4 1-4 0 4 1-4 0 4 1-4 0 4 1-6 0 6 1-5 0 5 1-4 0 4 1-5 0 7 1-6 0 4 1-6 0 6 1-5 0 5 1-4 0 4 1-4 0 6 1-8 0 6 1-4 0 4 1-5 0 5 1-4 0 6 1-6 0 4 1-4 0 4 1-4 0 6 1-9 0 7 1-4 0 4 1-4 0 4 1-4 0 4 1-4 0 4 1-4 0 4 1-4 0 4 1-4 0 4 1-4 0 6 1-6 0 4 1-4 0 4 1-4 0 4 1-4 0 4 1-4 0 4 1-4 0 4 1-4 0 5 1-7 0 6 1-4 0 4 1-4 0 4 1-4 0 4 1-4 0 4 1-4 0 4 1-4 0 4 1-4 0 4 1-4 0 5 1-5 0 4 1-5 0 5 1-4 0 6 1-6 0 4 1-4 0 4 1-5 0 5 1-4 0 4 1-4 0 4 1-5 0 7 1-6 0 5 1-5 0 4 1-4 0 5 1-5 0 6 1-6 0 7 1-7 0 6 1-6 0 4 1-4 0 6 1-6 0 4 1-6 0 6 1-4 0 4 1-5 0 5 1-4 0 4 1-4 0 4 1-4 0 4 1-4 0 4 1-4 0 4 1-5 0 5 1-5 0 5 1-4 0 4 1-4 0 4 1-4 0 4 1-4 0 4 1-4 0 4 1-4 0 5 1-5 0 4 1-4 0 7 1-7 0 6 1-8 0 6 1-4 0 4 1-5 0 5 1-4 0 4 1-4 0 4 1-4 0 6 1-6 0 4 1-4 0 4 1-4 0 7 1-7 0 4 1-6 0 6 1-7 0 7 1-4 0 4 1-4 0 4 1-4 0 4 1-4 0 6 1-6 0 4 1-4 0 4 1-4 0 4 1-7 0 8 1-5 0 4 1-4 0 7 1-10 0 7 1-4 0 5 1-5 0 4 1-5 0 6 1-5 0 4 1-4 0 4 1-4 0 4 1-7 0 7 1-4 0 6 1-6 0 4 1-4 0 5 1-5 0 6 1-6 0 4 1-4 0 6 1-6 0 4 1-5 0 5 1-4 0 7 1-7 0 4 1-4 0 4 1-4 0 4 1-4 0 4 1-6 0 6 1-7 0 7 1-4 0 4 1-4 0 4 1-4 0 5 1-8 0 7 1-4 0 5 1-5 0 6 1-6 0 4 1-4 0 4 1-4 0 4 1-4 0 4 1-4 0 4 1-5 0 5 1-4 0 4 1-4 0 5 1-5 0 4 1-4 0 4 1-6 0 7 1-5 0 4 1-4 0 4 1-5 0 5 1-4 0 4 1-6 0 7 1-9 0 10 1-8 0 7 1-5 0 4 1-4 0 4 1-4 0 4 1-4 0 6 1-6 0 4 1-5 0 5 1-6 0 6 1-4 0 4 1-4 0 4 1-4 0 6 1-6 0 5 1-5 0 4 1-4 0 4 1-4 0 4 1-4 0 4 1-4 0 5 1-5 0 5 1-5 0 4 1-4 0 5 1-5 0 4 1-4 0 4 1-5 0 5 1-4 0 4 1-6 0 7 1-5 0 4 1-6 0 6 1-4 0 4 1-4 0 4 1-4 0 4 1-4 0 4 1-4 0 4 1-5 0 7 1-6 0 4 1-6 0 6 1-6 0 6 1-4 0 4 1-4 0 6 1-6 0 4 1-4 0 4 1-4 0 4 1-4 0 5 1-5 0 4 1-5 0 4 1-4 0 6 1-6 0 7 1-8 0 9 1-9 0 8 1-9 0 8 1-5 0 4 1-4 0 5 1-5 0 5 1-5 0 4 1-4 0 6 1-6 0 4 1-5 0 5 1-4 0 6 1-6 0 4 1-6 0 6 1-4 0 4 1-4 0 5 1-5 0 4 1-4 0 6 1-7 0 7 1-6 0 4 1-4 0 4 1-4 0 4 1-4 0 4 1-6 0 6 1-4 0 6 1-9 0 7 1-4 0 4 1-4 0 4 1-6 0 7 1-5 0 4 1-4 0 4 1-4 0 4 1-4 0 6 1-6 0 4 1-4 0 4 1-4 0 4 1-4 0 4 1-4 0 4 1-4 0 5 1-7 0 6 1-4 0 4 1-4 0 7 1-7 0 4 1-4 0 4 1-5 0 6 1-7 0 8 1-8 0 9 1-8 0 8 1-8 0 6 1-5 0 4 1-4 0 4 1-4 0 4 1-4 0 4 1-4 0 4 1-4 0 4 1-4 0 4 1-4 0 4 1-4 0 4 1-4 0 4 1-4 0 5 1-5 0 4 1-4 0 4 1-4 0 5 1-7 0 6 1-5 0 5 1-4 0 4 1-4 0 4 1-4 0 4 1-4 0 4 1-4 0 4 1-4 0 4 1-4 0 4 1-4 0 6 1-7 0 5 1-5 0 5 1-4 0 4 1-4 0 4 1-4 0 4 1-5 0 5"/><path vector-effect="non-scaling-stroke" transform="translate(138.00 798.223) scale(1.001145 0.2500)" stroke="#008000" d="M0-1l0 3 1-4 0 3 1-5 0 6 1-4 0 3 1-3 0 3 1-2 0 5 1-5 0 2 1-2 0 3 1-5 0 5 1-4 0 3 1-3 0 4 1-4 0 4 1-6 0 7 1-7 0 8 1-7 0 6 1-5 0 4 1-6 0 6 1-3 0 2 1-3 0 3 1-3 0 6 1-6 0 4 1-4 0 4 1-3 0 3 1-4 0 4 1-4 0 4 1-5 0 4 1-2 0 3 1-5 0 5 1-3 0 2 1-3 0 4 1-6 0 8 1-9 0 9 1-8 0 7 1-6 0 5 1-5 0 4 1-2 0 4 1-5 0 5 1-5 0 4 1-6 0 6 1-3 0 2 1-3 0 3 1-3 0 3 1-4 0 4 1-2 0 2 1-3 0 4 1-4 0 4 1-4 0 4 1-4 0 4 1-4 0 5 1-7 0 6 1-3 0 3 1-3 0 2 1-3 0 3 1-2 0 2 1-4 0 5 1-3 0 2 1-3 0 6 1-5 0 2 1-5 0 5 1-3 0 3 1-4 0 5 1-3 0 2 1-2 0 5 1-5 0 2 1-3 0 4 1-3 0 3 1-5 0 4 1-3 0 4 1-5 0 4 1-3 0 5 1-5 0 5 1-4 0 2 1-3 0 4 1-4 0 4 1-4 0 3 1-2 0 2 1-3 0 4 1-5 0 4 1-3 0 4 1-4 0 3 1-2 0 4 1-4 0 3 1-4 0 4 1-6 0 6 1-4 0 4 1-4 0 4 1-3 0 3 1-3 0 2 1-3 0 3 1-3 0 3 1-3 0 3 1-5 0 5 1-5 0 6 1-4 0 3 1-2 0 3 1-3 0 5 1-5 0 3 1-4 0 5 1-5 0 4 1-4 0 4 1-4 0 3 1-3 0 5 1-5 0 3 1-5 0 5 1-2 0 3 1-5 0 4 1-2 0 3 1-3 0 2 1-5 0 5 1-2 0 3 1-3 0 2 1-2 0 2 1-3 0 5 1-5 0 4 1-3 0 3 1-3 0 2 1-2 0 3 1-3 0 2 1-2 0 3 1-4 0 6 1-7 0 5 1-5 0 5 1-6 0 8 1-9 0 10 1-9 0 8 1-6 0 5 1-5 0 6 1-7 0 4 1-3 0 4 1-3 0 4 1-5 0 6 1-8 0 5 1-5 0 5 1-3 0 4 1-3 0 2 1-2 0 3 1-4 0 4 1-3 0 3 1-4 0 5 1-4 0 3 1-3 0 4 1-4 0 3 1-4 0 4 1-3 0 5 1-5 0 2 1-3 0 4 1-3 0 3 1-5 0 5 1-4 0 4 1-4 0 4 1-4 0 4 1-3 0 5 1-7 0 5 1-4 0 5 1-4 0 2 1-3 0 4 1-5 0 5 1-3 0 3 1-3 0 5 1-6 0 4 1-6 0 6 1-3 0 3 1-3 0 3 1-4 0 3 1-5 0 5 1-3 0 4 1-4 0 3 1-3 0 3 1-3 0 5 1-4 0 3 1-3 0 3 1-6 0 6 1-4 0 6 1-6 0 4 1-6 0 7 1-7 0 8 1-10 0 10 1-7 0 6 1-5 0 5 1-7 0 8 1-7 0 6 1-6 0 6 1-7 0 9 1-8 0 6 1-5 0 3 1-3 0 4 1-4 0 4 1-5 0 7 1-8 0 7 1-8 0 8 1-8 0 9 1-8 0 7 1-6 0 5 1-4 0 3 1-3 0 4 1-3 0 3 1-4 0 3 1-3 0 3 1-2 0 3 1-4 0 6 1-5 0 2 1-3 0 3 1-5 0 5 1-4 0 5 1-4 0 4 1-4 0 6 1-5 0 3 1-5 0 5 1-5 0 5 1-4 0 6 1-5 0 3 1-4 0 3 1-2 0 3 1-3 0 4 1-6 0 5 1-6 0 5 1-3 0 6 1-6 0 3 1-3 0 6 1-5 0 3 1-4 0 4 1-6 0 7 1-7 0 7 1-7 0 7 1-8 0 8 1-6 0 6 1-5 0 4 1-6 0 6 1-3 0 3 1-4 0 5 1-6 0 6 1-6 0 7 1-7 0 6 1-5 0 4 1-6 0 6 1-6 0 5 1-3 0 3 1-4 0 4 1-2 0 4 1-5 0 3 1-2 0 3 1-3 0 3 1-5 0 5 1-3 0 2 1-3 0 4 1-3 0 3 1-3 0 2 1-4 0 5 1-4 0 4 1-3 0 3 1-4 0 6 1-7 0 5 1-4 0 3 1-5 0 5 1-3 0 3 1-4 0 4 1-2 0 5 1-6 0 3 1-2 0 3 1-5 0 4 1-2 0 2 1-2 0 4 1-5 0 3 1-2 0 3 1-3 0 5 1-5 0 2 1-3 0 6 1-8 0 7 1-7 0 8 1-7 0 6 1-9 0 10 1-7 0 6 1-7 0 8 1-8 0 8 1-9 0 9 1-9 0 9 1-7 0 6 1-4 0 3 1-4 0 3 1-2 0 2 1-4 0 4 1-3 0 4 1-5 0 4 1-5 0 6 1-6 0 7 1-6 0 8 1-8 0 6 1-8 0 9 1-7 0 6 1-4 0 4 1-4 0 2 1-2 0 2 1-5 0 5 1-3 0 5 1-4 0 4 1-4 0 3 1-4 0 4 1-4 0 4 1-4 0 6 1-7 0 4 1-2 0 3 1-3 0 5 1-7 0 5 1-7 0 9 1-10 0 11 1-10 0 8 1-7 0 6 1-4 0 4 1-4 0 3 1-2 0 5 1-5 0 2 1-2 0 3 1-3 0 3 1-6 0 6 1-4 0 4 1-3 0 3 1-4 0 3 1-4 0 4 1-4 0 5 1-4 0 3 1-2 0 3 1-4 0 3 1-3 0 3 1-4 0 5 1-3 0 3 1-4 0 6 1-7 0 5 1-4 0 3 1-4 0 4 1-3 0 3 1-5 0 5 1-3 0 6 1-5 0 5 1-5 0 4 1-5 0 4 1-4 0 4 1-6 0 8 1-9 0 9 1-8 0 8 1-6 0 4 1-4 0 3 1-2 0 5 1-5 0 3 1-5 0 4 1-5 0 6 1-4 0 3 1-2 0 3 1-3 0 2 1-4 0 4 1-3 0 3 1-3 0 3 1-3 0 4 1-4 0 3 1-5 0 6 1-4 0 3 1-4 0 5 1-5 0 4 1-3 0 4 1-3 0 2 1-3 0 6 1-5 0 3 1-6 0 6 1-3 0 5 1-6 0 4 1-3 0 2 1-5 0 5 1-3 0 3 1-3 0 4 1-3 0 5 1-5 0 3 1-4 0 5 1-5 0 4 1-4 0 3 1-3 0 4 1-3 0 4 1-4 0 2 1-3 0 3 1-3 0 3 1-3 0 6 1-7 0 5 1-4 0 4 1-3 0 3 1-4 0 4 1-4 0 6 1-6 0 3 1-3 0 6 1-5 0 3 1-4 0 4 1-4 0 5 1-6 0 7 1-7 0 6 1-4 0 3 1-3 0 5 1-5 0 2 1-2 0 2 1-4 0 7 1-8 0 10 1-9 0 6 1-5 0 4 1-4 0 4 1-3 0 4 1-6 0 5 1-4 0 3 1-2 0 4 1-5 0 3 1-3 0 4 1-3 0 2 1-2 0 2 1-3 0 5 1-5 0 4 1-4 0 3 1-3 0 6 1-6 0 4 1-4 0 6 1-6 0 3 1-4 0 5 1-4 0 6 1-7 0 4 1-3 0 4 1-3 0 5 1-5 0 5 1-5 0 5 1-5 0 3 1-3 0 3 1-3 0 2 1-3 0 3 1-3 0 5 1-5 0 5 1-4 0 5 1-8 0 5 1-2 0 5 1-5 0 3 1-4 0 6 1-8 0 6 1-4 0 5 1-5 0 5 1-4 0 2 1-4 0 4 1-2 0 3 1-3 0 2 1-3 0 4 1-4 0 4 1-4 0 5 1-4 0 3 1-6 0 5 1-2 0 4 1-5 0 3 1-3 0 3 1-3 0 4 1-3 0 4 1-5 0 6 1-9 0 7 1-4 0 3 1-2 0 4 1-5 0 4 1-3 0 5 1-5 0 2 1-3 0 5 1-4 0 3 1-5 0 4 1-2 0 2 1-3 0 3 1-3 0 3 1-2 0 3 1-3 0 3 1-3 0 3 1-3 0 3 1-3 0 3 1-4 0 4 1-4 0 3 1-2 0 3 1-4 0 3 1-5 0 6 1-3 0 2 1-2 0 4 1-7 0 6 1-5 0 5 1-3 0 3 1-3 0 2 1-4 0 6 1-7 0 9 1-8 0 6 1-4 0 2 1-2 0 4 1-5 0 5 1-5 0 6 1-5 0 3 1-6 0 6 1-3 0 3 1-3 0 4 1-7 0 6 1-4 0 4 1-3 0 2 1-3 0 4 1-4 0 5 1-4 0 3 1-5 0 5 1-5 0 5 1-4 0 3 1-3 0 4 1-3 0 4 1-6 0 4 1-3 0 4 1-5 0 5 1-5 0 6 1-6 0 7 1-8 0 8 1-7 0 6 1-5 0 6 1-6 0 5 1-6 0 7 1-8 0 8 1-8 0 8 1-7 0 6 1-4 0 4 1-5 0 4 1-3 0 3 1-4 0 3 1-2 0 4 1-5 0 6 1-8 0 5 1-4 0 6 1-7 0 8 1-6 0 5 1-6 0 6 1-6 0 5 1-5 0 4 1-2 0 2 1-2 0 3 1-4 0 5 1-4 0 2 1-3 0 5 1-4 0 3 1-6 0 6 1-3 0 4 1-5 0 4 1-3 0 5 1-7 0 5 1-4 0 3 1-2 0 3 1-5 0 5 1-4 0 3 1-4 0 4 1-2 0 3 1-3 0 3 1-6 0 5 1-3 0 4 1-5 0 4 1-4 0 5 1-5 0 4 1-3 0 3 1-3 0 5 1-5 0 4 1-4 0 3 1-3 0 4 1-3 0 4 1-5 0 3 1-2 0 3 1-4 0 3 1-2 0 5 1-5 0 3 1-3 0 3 1-4 0 4 1-3 0 4 1-4 0 3 1-3 0 3 1-5 0 4 1-2 0 2 1-3 0 3 1-6 0 6 1-4 0 5 1-3 0 2 1-3 0 5 1-5 0 3 1-2 0 2 1-2 0 3 1-5 0 5 1-4 0 4 1-3 0 3 1-3 0 5 1-6 0 4 1-4 0 6 1-5 0 2 1-3 0 5 1-6 0 6 1-5 0 5 1-7 0 6 1-4 0 6 1-5 0 4 1-5 0 3 1-2 0 5 1-5 0 3 1-3 0 5 1-5 0 2 1-2 0 3 1-3 0 3 1-4 0 6 1-6 0 5 1-5 0 3 1-3 0 4 1-3 0 2 1-3 0 5 1-4 0 3 1-3 0 2 1-3 0 6 1-5 0 3 1-5 0 4 1-4 0 6 1-7 0 8 1-9 0 11 1-10 0 8 1-7 0 7 1-7 0 7 1-7 0 5 1-4 0 4 1-3 0 3 1-6 0 6 1-3 0 3 1-4 0 6 1-6 0 3 1-4 0 4 1-3 0 3 1-3 0 4 1-4 0 4 1-4 0 6 1-5 0 3 1-3 0 3 1-4 0 6 1-6 0 3 1-3 0 6 1-5 0 3 1-4 0 5 1-6 0 6 1-7 0 8 1-7 0 6 1-6 0 4 1-2 0 3 1-3 0 3 1-3 0 3 1-4 0 4 1-4 0 4 1-5 0 5 1-4 0 6 1-6 0 3 1-2 0 2 1-3 0 5 1-4 0 3 1-5 0 5 1-4 0 6 1-5 0 3 1-3 0 5 1-5 0 2 1-5 0 6 1-3 0 3 1-3 0 3 1-4 0 6 1-7 0 5 1-3 0 4 1-5 0 6 1-7 0 5 1-3 0 5 1-5 0 3 1-4 0 6 1-6 0 3 1-4 0 4 1-2 0 2 1-5 0 6 1-3 0 5 1-6 0 4 1-3 0 5 1-5 0 4 1-5 0 3 1-2 0 3 1-3 0 3 1-4 0 6 1-8 0 5 1-3 0 4 1-5 0 4 1-2 0 2 1-2 0 3 1-3 0 5 1-5 0 3 1-4 0 3 1-4 0 4 1-5 0 6 1-3 0 2 1-2 0 3 1-6 0 5 1-2 0 3 1-6 0 6 1-3 0 3 1-4 0 5 1-5 0 4 1-5 0 4 1-2 0 2 1-4 0 4 1-2 0 4 1-5 0 5 1-4 0 4 1-5 0 3 1-3 0 4 1-4 0 6 1-6 0 4 1-5 0 5 1-4 0 5 1-4 0 2 1-3 0 3 1-2 0 2 1-3 0 3 1-4 0 4 1-3 0 4 1-3 0 3 1-4 0 3 1-2 0 2 1-3 0 4 1-3 0 2 1-3 0 6 1-6 0 6 1-6 0 3 1-3 0 5 1-5 0 3 1-2 0 4 1-5 0 3 1-2 0 2 1-3 0 3 1-4 0 4 1-4 0 5 1-3 0 3 1-3 0 3 1-4 0 4 1-4 0 5 1-5 0 3 1-2 0 3 1-3 0 3 1-6 0 7 1-7 0 8 1-7 0 6 1-4 0 3 1-5 0 5 1-5 0 4 1-3 0 3 1-5 0 6 1-4 0 4 1-5 0 4 1-2 0 2 1-3 0 4 1-3 0 4 1-4 0 4 1-4 0 3 1-3 0 4 1-5 0 6 1-6 0 4 1-5 0 6 1-6 0 6 1-6 0 6 1-5 0 5 1-7 0 8 1-8 0 9 1-8 0 6 1-5 0 4 1-5 0 5 1-5 0 5 1-6 0 8 1-8 0 6 1-3 0 2 1-3 0 5 1-6 0 5 1-4 0 6 1-6 0 3 1-2 0 4 1-5 0 4 1-3 0 3 1-4 0 3 1-2 0 3 1-4 0 4 1-3 0 4 1-5 0 4 1-3 0 3 1-4 0 5 1-5 0 4 1-3 0 5 1-5 0 5 1-6 0 4 1-3 0 5 1-5 0 4 1-4 0 4 1-5 0 4 1-4 0 3 1-2 0 2 1-2 0 3 1-3 0 3 1-4 0 4 1-3 0 2 1-3 0 3 1-2 0 3 1-4 0 4 1-6 0 5 1-3 0 3 1-4 0 4 1-4 0 5 1-4 0 6 1-6 0 4 1-3 0 3 1-4 0 4 1-4 0 3 1-2 0 3 1-3 0 4 1-5 0 4 1-6 0 5 1-3 0 4 1-5 0 4 1-2 0 2 1-4 0 5 1-5 0 7 1-8 0 8 1-7 0 7 1-8 0 6 1-6 0 6 1-5 0 5 1-4 0 5 1-7 0 6 1-3 0 2 1-4 0 5 1-5 0 6 1-7 0 10 1-9 0 6 1-4 0 2 1-2 0 2 1-2 0 4 1-4 0 3 1-4 0 3 1-5 0 5 1-5 0 5 1-2 0 3 1-4 0 4 1-4 0 4 1-4 0 4 1-5 0 5 1-5 0 7 1-8 0 9 1-8 0 7 1-7 0 5 1-4 0 5 1-6 0 8 1-8 0 7 1-7 0 6 1-6 0 5 1-4 0 6 1-5 0 3 1-4 0 5 1-5 0 5 1-5 0 3 1-3 0 3 1-4 0 5 1-5 0 4 1-2 0 5 1-8 0 6 1-4 0 3 1-5 0 5 1-2 0 5 1-5 0 4 1-7 0 5 1-4 0 4 1-3 0 4 1-4 0 3 1-3 0 3 1-4 0 5 1-3 0 3 1-4 0 3 1-2 0 3 1-7 0 6 1-2 0 3 1-4 0 6 1-8 0 5"/><path vector-effect="non-scaling-stroke" transform="translate(138.00 829.766) scale(1.001145 0.2500)" stroke="#000000" d="M0-2l0 6 1-6 0 4 1-4 0 4 1-6 0 6 1-6 0 6 1-5 0 5 1-6 0 6 1-6 0 6 1-6 0 6 1-4 0 4 1-4 0 4 1-4 0 4 1-5 0 5 1-4 0 4 1-6 0 6 1-4 0 4 1-4 0 4 1-4 0 4 1-4 0 4 1-4 0 6 1-6 0 4 1-4 0 4 1-4 0 6 1-6 0 4 1-4 0 4 1-4 0 4 1-4 0 4 1-4 0 4 1-4 0 4 1-4 0 4 1-4 0 4 1-4 0 6 1-8 0 6 1-4 0 4 1-4 0 4 1-4 0 4 1-6 0 6 1-5 0 5"/></g><rect x="138.5" y="48.5" width="874" height="807" fill="none" stroke="#000" stroke-width="1.62"/><path d="M132.67 73.5H138.5M1012.5 73.5H1018.33M132.67 104.5H138.5M1012.5 104.5H1018.33M132.67 136.5H138.5M1012.5 136.5H1018.33M132.67 167.5H138.5M1012.5 167.5H1018.33M132.67 199.5H138.5M1012.5 199.5H1018.33M132.67 230.5H138.5M1012.5 230.5H1018.33M132.67 262.5H138.5M1012.5 262.5H1018.33M132.67 294.5H138.5M1012.5 294.5H1018.33M132.67 325.5H138.5M1012.5 325.5H1018.33M132.67 357.5H138.5M1012.5 357.5H1018.33M132.67 388.5H138.5M1012.5 388.5H1018.33M132.67 420.5H138.5M1012.5 420.5H1018.33M132.67 451.5H138.5M1012.5 451.5H1018.33M132.67 483.5H138.5M1012.5 483.5H1018.33M132.67 514.5H138.5M1012.5 514.5H1018.33M132.67 546.5H138.5M1012.5 546.5H1018.33M132.67 577.5H138.5M1012.5 577.5H1018.33M132.67 609.5H138.5M1012.5 609.5H1018.33M132.67 641.5H138.5M1012.5 641.5H1018.33M132.67 672.5H138.5M1012.5 672.5H1018.33M132.67 704.5H138.5M1012.5 704.5H1018.33M132.67 735.5H138.5M1012.5 735.5H1018.33M132.67 767.5H138.5M1012.5 767.5H1018.33M132.67 798.5H138.5M1012.5 798.5H1018.33M132.67 830.5H138.5M1012.5 830.5H1018.33M138.5 855.5V861.33M357.5 855.5V861.33M575.5 855.5V861.33M794.5 855.5V861.33M1012.5 855.5V861.33" stroke="#000" stroke-width="1.333" fill="none"/><g font-size="13.1px" text-anchor="end"><text x="125.73" y="77.80">08:00:00</text><text x="125.73" y="109.35">09:00:00</text><text x="125.73" y="140.89">10:00:00</text><text x="125.73" y="172.43">11:00:00</text><text x="125.73" y="203.98">12:00:00</text><text x="125.73" y="234.92">13:00:00</text><text x="125.73" y="267.06">14:00:00</text><text x="125.73" y="298.61">15:00:00</text><text x="125.73" y="330.15">16:00:00</text><text x="125.73" y="361.69">17:00:00</text><text x="125.73" y="393.23">18:00:00</text><text x="125.73" y="424.78">19:00:00</text><text x="125.73" y="456.32">20:00:00</text><text x="125.73" y="487.86">21:00:00</text><text x="125.73" y="519.41">22:00:00</text><text x="125.73" y="550.95">23:00:00</text><text x="125.73" y="582.49">00:00:00</text><text x="125.73" y="614.03">01:00:00</text><text x="125.73" y="645.58">02:00:00</text><text x="125.73" y="677.12">03:00:00</text><text x="125.73" y="708.66">04:00:00</text><text x="125.73" y="740.21">05:00:00</text><text x="125.73" y="771.75">06:00:00</text><text x="125.73" y="803.29">07:00:00</text><text x="125.73" y="834.84">08:00:00</text></g><g font-size="13.15px"><text x="1024.27" y="77.80">09:00:00</text><text x="1023.27" y="109.35">10:00:00</text><text x="1023.27" y="140.89">11:00:00</text><text x="1023.27" y="172.43">12:00:00</text><text x="1023.27" y="203.98">13:00:00</text><text x="1023.27" y="234.92">14:00:00</text><text x="1023.27" y="267.06">15:00:00</text><text x="1023.27" y="298.61">16:00:00</text><text x="1023.27" y="330.15">17:00:00</text><text x="1023.27" y="361.69">18:00:00</text><text x="1023.27" y="393.23">19:00:00</text><text x="1024.27" y="424.78">20:00:00</text><text x="1024.27" y="456.32">21:00:00</text><text x="1024.27" y="487.86">22:00:00</text><text x="1024.27" y="519.41">23:00:00</text><text x="1024.27" y="550.95">00:00:00</text><text x="1024.27" y="582.49">01:00:00</text><text x="1024.27" y="614.03">02:00:00</text><text x="1024.27" y="645.58">03:00:00</text><text x="1024.27" y="677.12">04:00:00</text><text x="1024.27" y="708.66">05:00:00</text><text x="1024.27" y="740.21">06:00:00</text><text x="1024.27" y="771.75">07:00:00</text><text x="1024.27" y="803.29">08:00:00</text><text x="1024.27" y="834.84">09:00:00</text></g><g font-size="13.1px" text-anchor="middle"><text x="139.3" y="876.80">0</text><text x="355.8" y="876.80">15</text><text x="575.3" y="876.80">30</text><text x="793.8" y="876.80">45</text><text x="1012.3" y="876.80">60</text><text x="575" y="896.67" font-size="13.333px">time in minutes</text></g><text font-size="16.667px" text-anchor="middle" transform="translate(52.82 451.85) rotate(-90)">UTC (local time = UTC - 08:00)</text><text font-size="20px" text-anchor="middle" x="574.7" y="34.20">2026-02-12 BK.DRDG.00.BHZ</text></svg></body></html>
